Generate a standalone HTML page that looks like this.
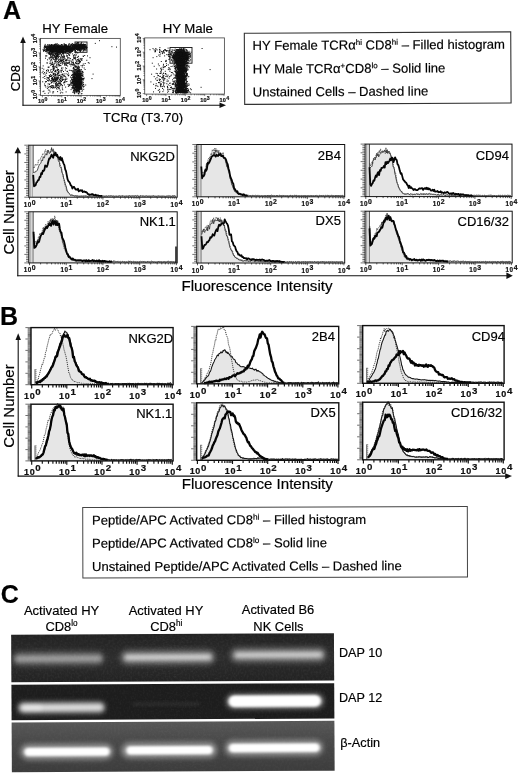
<!DOCTYPE html>
<html lang="en"><head><meta charset="utf-8"><title>Figure</title>
<style>
html,body{margin:0;padding:0;background:#fff}
svg{display:block}
svg text{font-family:"Liberation Sans", sans-serif;stroke:#000;stroke-width:0.18px}
</style></head><body>
<svg width="520" height="773" viewBox="0 0 520 773">
<defs>
<filter id="b1" x="-10%" y="-60%" width="120%" height="220%"><feGaussianBlur stdDeviation="1.6 1.5"/></filter>
<filter id="b2" x="-10%" y="-60%" width="120%" height="220%"><feGaussianBlur stdDeviation="1.5 1.3"/></filter>
<filter id="b4" x="-10%" y="-80%" width="120%" height="260%"><feGaussianBlur stdDeviation="2.0 1.9"/></filter>
<filter id="b3" x="-10%" y="-80%" width="120%" height="260%"><feGaussianBlur stdDeviation="2.6 2.4"/></filter>
<filter id="grain" x="0" y="0" width="100%" height="100%">
<feTurbulence type="fractalNoise" baseFrequency="0.55" numOctaves="2" seed="3" result="n"/>
<feColorMatrix in="n" type="matrix" values="0 0 0 0 1  0 0 0 0 1  0 0 0 0 1  0.9 0 0 0 -0.38"/>
</filter>
<filter id="soft" x="-5%" y="-5%" width="110%" height="110%"><feGaussianBlur stdDeviation="0.35"/></filter>
<linearGradient id="g3" x1="0" y1="0" x2="0" y2="1"><stop offset="0" stop-color="#575757"/><stop offset="0.35" stop-color="#4a4a4a"/><stop offset="1" stop-color="#3c3c3c"/></linearGradient>
<linearGradient id="g1" x1="0" y1="0" x2="0" y2="1"><stop offset="0" stop-color="#222"/><stop offset="0.5" stop-color="#2d2d2d"/><stop offset="1" stop-color="#222"/></linearGradient>
</defs>
<rect x="0" y="0" width="520" height="773" fill="#fff"/>
<text x="2.9" y="18.8" font-size="25" text-anchor="start" font-weight="bold" fill="#000">A</text>
<text x="0.1" y="324.8" font-size="25" text-anchor="start" font-weight="bold" fill="#000">B</text>
<text x="0.7" y="602.6" font-size="25" text-anchor="start" font-weight="bold" fill="#000">C</text>
<rect x="40.5" y="38.4" width="79.8" height="57" fill="none" stroke="#4a4a4a" stroke-width="0.85"/>
<path d="M42.4 95.4v2M40.5 94.9h-2M48.2 95.4v1.2M40.5 90.7h-1.3M51.6 95.4v1.2M40.5 88.2h-1.3M54.1 95.4v1.2M40.5 86.5h-1.3M55.9 95.4v1.2M40.5 85.1h-1.3M57.5 95.4v1.2M40.5 84h-1.3M58.8 95.4v1.2M40.5 83.1h-1.3M59.9 95.4v1.2M40.5 82.3h-1.3M60.9 95.4v1.2M40.5 81.5h-1.3M61.8 95.4v2M40.5 80.9h-2M67.6 95.4v1.2M40.5 76.7h-1.3M71 95.4v1.2M40.5 74.2h-1.3M73.4 95.4v1.2M40.5 72.5h-1.3M75.3 95.4v1.2M40.5 71.1h-1.3M76.9 95.4v1.2M40.5 70h-1.3M78.1 95.4v1.2M40.5 69.1h-1.3M79.3 95.4v1.2M40.5 68.3h-1.3M80.3 95.4v1.2M40.5 67.5h-1.3M81.2 95.4v2M40.5 66.9h-2M87 95.4v1.2M40.5 62.7h-1.3M90.4 95.4v1.2M40.5 60.2h-1.3M92.8 95.4v1.2M40.5 58.5h-1.3M94.7 95.4v1.2M40.5 57.1h-1.3M96.2 95.4v1.2M40.5 56h-1.3M97.5 95.4v1.2M40.5 55.1h-1.3M98.6 95.4v1.2M40.5 54.3h-1.3M99.6 95.4v1.2M40.5 53.5h-1.3M100.5 95.4v2M40.5 52.9h-2M106.4 95.4v1.2M40.5 48.7h-1.3M109.8 95.4v1.2M40.5 46.2h-1.3M112.2 95.4v1.2M40.5 44.5h-1.3M114.1 95.4v1.2M40.5 43.1h-1.3M115.6 95.4v1.2M40.5 42h-1.3M116.9 95.4v1.2M40.5 41.1h-1.3M118 95.4v1.2M40.5 40.3h-1.3M119 95.4v1.2M40.5 39.5h-1.3M119.9 95.4v2M40.5 38.9h-2" stroke="#222" stroke-width="0.55" fill="none"/>
<text x="42.8" y="103.4" font-size="5.6" text-anchor="middle" fill="#111" font-weight="bold" letter-spacing="0.2">10<tspan font-size="5.2" dy="-2">0</tspan></text>
<text transform="translate(37.1 94.5) rotate(-90)" font-size="5.6" text-anchor="middle" fill="#111" font-weight="bold" letter-spacing="0.2">10<tspan font-size="5.2" dy="-2">0</tspan></text>
<text x="62.2" y="103.4" font-size="5.6" text-anchor="middle" fill="#111" font-weight="bold" letter-spacing="0.2">10<tspan font-size="5.2" dy="-2">1</tspan></text>
<text transform="translate(37.1 80.5) rotate(-90)" font-size="5.6" text-anchor="middle" fill="#111" font-weight="bold" letter-spacing="0.2">10<tspan font-size="5.2" dy="-2">1</tspan></text>
<text x="81.6" y="103.4" font-size="5.6" text-anchor="middle" fill="#111" font-weight="bold" letter-spacing="0.2">10<tspan font-size="5.2" dy="-2">2</tspan></text>
<text transform="translate(37.1 66.5) rotate(-90)" font-size="5.6" text-anchor="middle" fill="#111" font-weight="bold" letter-spacing="0.2">10<tspan font-size="5.2" dy="-2">2</tspan></text>
<text x="100.9" y="103.4" font-size="5.6" text-anchor="middle" fill="#111" font-weight="bold" letter-spacing="0.2">10<tspan font-size="5.2" dy="-2">3</tspan></text>
<text transform="translate(37.1 52.5) rotate(-90)" font-size="5.6" text-anchor="middle" fill="#111" font-weight="bold" letter-spacing="0.2">10<tspan font-size="5.2" dy="-2">3</tspan></text>
<text x="120.3" y="103.4" font-size="5.6" text-anchor="middle" fill="#111" font-weight="bold" letter-spacing="0.2">10<tspan font-size="5.2" dy="-2">4</tspan></text>
<text transform="translate(37.1 38.5) rotate(-90)" font-size="5.6" text-anchor="middle" fill="#111" font-weight="bold" letter-spacing="0.2">10<tspan font-size="5.2" dy="-2">4</tspan></text>
<path d="M56.5 49.4h1M58.3 49.5h1M54.9 48h1M51.2 52.4h1M53.8 49.5h1M50.6 52h1M56.9 50.5h1M64.5 47.6h1M53.5 48.1h1M52.8 49.6h1M59.4 48.9h1M58.6 48.9h1M57.1 48.3h1M50.9 45.5h1M56.3 48.4h1M60.7 44.8h1M48.4 49.5h1M53.8 47.5h1M45.1 47.5h1M48.8 48.4h1M45.4 49.3h1M55.1 46.2h1M48.9 45.7h1M58.1 46.9h1M57.4 45.1h1M55.4 47.1h1M53.3 46.9h1M56.2 50h1M57.2 46.3h1M47.3 49.3h1M53.6 48.2h1M50.6 48.7h1M51.6 49.8h1M62.9 52h1M51.7 49.2h1M56.3 49h1M61.8 47h1M53 49.9h1M55.8 48.4h1M57.2 50.3h1M56.9 48.7h1M49.1 51.9h1M57 45.2h1M64.7 48.3h1M47.2 50.4h1M61.7 48.2h1M57.2 47.4h1M52.7 48.3h1M68.5 46.3h1M61.1 49h1M49.3 53.2h1M56.9 50.9h1M60 46.8h1M55.4 47.2h1M60.6 48.1h1M56.1 50.6h1M60.5 47.3h1M65.1 47.6h1M52.4 50.4h1M57.7 50.4h1M53.7 48.1h1M57.3 46.8h1M49.4 46h1M53 47.5h1M55.3 44.8h1M61.9 50.1h1M63.4 47.7h1M48.6 49.7h1M51.7 52.2h1M60.4 50.9h1M44.5 46.7h1M53.7 50.4h1M55.9 50.9h1M64 47.5h1M60.6 47.1h1M54.5 48.6h1M54.3 45.9h1M55 51.4h1M65.6 44.5h1M53.9 46.8h1M54.7 48.3h1M58.6 48.4h1M55.8 49.1h1M55.3 49.3h1M49.8 48.4h1M56.4 50.8h1M53.8 44.9h1M63.5 48.8h1M60.4 47.5h1M56.4 49h1M60.5 49.2h1M54.5 47.2h1M62.8 47.6h1M56.5 50.2h1M60 49.4h1M48.8 47.6h1M58.6 52.5h1M46.4 53h1M44.3 46.2h1M54.7 49.3h1M51.1 53.3h1M57.5 50.2h1M70 49.2h1M51.5 48.4h1M52.8 47.8h1M57.7 48.4h1M59.5 47.8h1M55.4 50.1h1M55.3 48.1h1M60.7 48h1M59.6 46.6h1M50.3 48.7h1M56 47.2h1M56.7 48.5h1M50.2 50.7h1M58.1 49.5h1M51.4 49.7h1M62.3 49.4h1M57.7 48.9h1M57 48.6h1M53 48.2h1M55.8 50.2h1M44.5 46.8h1M49.7 51.2h1M58.7 48.9h1M43.7 47.5h1M61.6 47.9h1M46 47.6h1M61 49.1h1M51.4 47.5h1M61.2 50.9h1M57.3 47.4h1M47.3 44.7h1M64 47.5h1M65.2 45.2h1M56.1 48.7h1M54.9 50.7h1M55.5 50h1M50.6 46.4h1M63.1 47.4h1M53.2 52h1M56.2 49.4h1M51.7 48.8h1M52.7 50.7h1M48.8 53.2h1M64 51.1h1M55.6 49.1h1M62.3 49.4h1M56.6 49.9h1M52.3 47.7h1M54.5 46.9h1M53.1 48.9h1M56.5 47.1h1M54.2 48.7h1M54.7 49h1M48.2 53h1M51.7 47.3h1M66.4 48.6h1M52.5 48.5h1M50.2 49.6h1M58.5 50.7h1M64.9 47.9h1M47.8 47.3h1M55.2 45.8h1M52.7 47.1h1M45.9 49.8h1M60.9 48.9h1M56.4 47h1M56.9 48.1h1M52 48.9h1M59.2 49.7h1M53.3 47.7h1M55.6 48.3h1M49.9 45.5h1M49.2 46.7h1M64.5 51.7h1M53.5 44.9h1M58.3 48.2h1M56.3 49.2h1M53.9 48.1h1M53.5 47.3h1M60.3 48.7h1M54.7 48.8h1M55.6 48.7h1M56.6 45.4h1M63.6 48.5h1M60.6 47.3h1M58.8 47.8h1M53.1 49.2h1M48.2 50h1M62.2 50.4h1M62.3 47.9h1M55.7 50.5h1M59.8 50.9h1M61.2 50.8h1M61.5 51.3h1M62 48.5h1M53.8 48.5h1M65.6 50.3h1M49 46.3h1M61.7 49.2h1M59.5 47.8h1M61.7 48.1h1M67.8 45.7h1M65.4 47.2h1M49.6 48.8h1M46.4 50.4h1M61.4 50.6h1M50.4 48.7h1M56.4 48.5h1M61.5 47.3h1M46.6 49.5h1M43.8 48.4h1M58.1 49.9h1M56.8 52h1M55 48.7h1M56.7 46.1h1M51.3 47.3h1M47.4 46.2h1M55.5 46.6h1M50.7 51.1h1M46.6 49.2h1M59.5 46.1h1M56.1 50h1M58.9 51.1h1M50.6 48.2h1M52.6 47.6h1M50.5 48.2h1M51.2 49.3h1M57.7 50h1M51.8 50.9h1M58.6 51h1M58.5 50.9h1M68.7 51.3h1M48.1 50h1M61.8 46h1M56 48.6h1M56.4 49.4h1M47.8 48.1h1M53.7 50.4h1M61 48.2h1M56 47.1h1M57 51.4h1M54.8 50h1M63.4 49.2h1M56.4 50.5h1M43.3 50.7h1M52.3 49.4h1M44.7 44.4h1M53.3 48h1M64.5 47h1M56.8 49.2h1M49.5 50.9h1M50.9 47.9h1M63.3 46.8h1M57.4 52.5h1M56.8 48h1M56.2 46.6h1M56.7 49.2h1M61.3 49.6h1M59.8 47.5h1M57.8 50.2h1M50.2 47.9h1M59.6 47.1h1M52.4 49.1h1M63.1 50.2h1M48.9 47.7h1M55.7 49.4h1M56.5 48.6h1M48.6 53.9h1M66.8 47.5h1M65.3 51.3h1M53.7 48.7h1M61.1 48.6h1M58.8 50.1h1M58 51.1h1M56.1 49.4h1M57 47.7h1M50 47.8h1M54.9 49.7h1M55.4 49.8h1M63.6 51.3h1M58.5 49.6h1M56.5 50.7h1M65.7 51.5h1M53.2 49.1h1M54.2 46.1h1M45.6 46.7h1M65.9 46.2h1M62.3 51.7h1M62 47.3h1M60.5 51h1M57.2 49.9h1M57.8 51.9h1M55 50.6h1M55.3 48.6h1M56.8 48.4h1M65.6 49h1M59.8 49.1h1M56.1 47.8h1M53 48.7h1M52.7 51.7h1M66.1 45.7h1M59.5 49.3h1M56.9 47.2h1M54.4 49.1h1M49.8 50.3h1M56.1 48.7h1M61.7 50.2h1M54.1 45.9h1M55.1 50.8h1M55.2 47.7h1M57.2 49.9h1M46.9 49.1h1M55.1 44.1h1M51.4 47.4h1M61.8 49.2h1M51.9 51.6h1M60 49.3h1M65.6 49.3h1M54.6 46.3h1M52.9 51.4h1M57.6 52.1h1M56.5 48.9h1M50.5 48.4h1M59.3 45.9h1M68.6 50.4h1M55 53.7h1M55.3 50.1h1M50.2 51.1h1M58.4 49.8h1M49 47h1M49.9 51.2h1M64.2 46.6h1M51.1 48.4h1M63 49.3h1M65.6 50.4h1M58.1 49.5h1M59.8 49.5h1M68.2 47.4h1M55.3 46.5h1M52.9 48.9h1M48.4 47.5h1M56.8 46.4h1M65.4 46.5h1M62.3 47.9h1M50.8 45.5h1M51.4 46.4h1M53.5 45.9h1M58.3 49.1h1M55.3 49.5h1M57.8 52.4h1M58.3 46.1h1M54.7 47.6h1M56.3 50.4h1M57.7 48.4h1M56 48.2h1M59.5 51.9h1M67.7 48.2h1M60.1 46.7h1M56.8 46.4h1M46.4 49.4h1M58.8 49.3h1M44.8 46.3h1M48 47h1M61.6 49.8h1M60.7 49.8h1M55.6 47.6h1M46.2 49.9h1M54.3 49.8h1M52.4 45.6h1M60.3 48.2h1M70 49.5h1M57.8 47.8h1M51.8 44.9h1M49.5 48.3h1M56.2 50.2h1M55.4 51.6h1M49.6 44.9h1M57.2 53.5h1M49.6 46.8h1M63.2 50.5h1M62.9 51h1M63 50.6h1M53.7 49.1h1M59.6 46.7h1M55.7 49.9h1M54.2 47.5h1M54.5 44.3h1M48.7 53.9h1M47.8 50.1h1M61.3 52.1h1M55.4 47.2h1M57.8 51.4h1M62.5 51.7h1M46.1 51.6h1M51.8 48.8h1M57.6 46.6h1M58.9 48.5h1M54.2 44.8h1M62.7 45.7h1M57.8 49h1M49.2 47h1M50.9 48.5h1M61.3 48.6h1M59.3 52.3h1M45.1 51.1h1M64.6 48.7h1M60.1 51h1M64.6 47.4h1M54.2 48.2h1M54.7 50.4h1M49.7 46.6h1M71.7 48.3h1M55.4 46.4h1M66 49h1M52.6 51.7h1M57.5 47.4h1M46.5 49.2h1M54.2 47.2h1M62.4 46.7h1M49 46.6h1M62.9 51.4h1M58.5 53.1h1M50.2 49.7h1M53.5 47.5h1M53.7 50.1h1M56.2 48.2h1M53.3 50.2h1M51.5 49.3h1M54.7 49.3h1M50.3 49.9h1M48.8 47.8h1M56.2 48.1h1M61.8 45.7h1M47.3 48h1M56.5 46.2h1M52.6 48.5h1M50.6 47.1h1M61.6 49h1M53.4 49.6h1M65.5 46.2h1M51.8 47.3h1M58.8 47.1h1M55.1 50.1h1M52 51.9h1M60 50.3h1M55.6 48.2h1M60.1 51.4h1M56.2 46.1h1M50 51.5h1M55.9 47.6h1M56.8 43.8h1M62.3 53.6h1M51.1 51.6h1M56.3 46.9h1M46.2 49.1h1M60.4 48.4h1M50 49h1M45.7 46.1h1M56.1 47.6h1M63.1 49.6h1M47.4 49.2h1M50 51h1M52 48.9h1M49.7 53h1M58.8 47.5h1M51.7 49.3h1M52.2 45.4h1M60 46.5h1M52 51.2h1M59.1 47.1h1M50.7 49.8h1M49.2 48.7h1M45.5 46.9h1M67.7 48.2h1M54.6 47.9h1M58 47.9h1M56.3 50.2h1M57.5 50h1M56.8 47.8h1M67.9 47.2h1M50.3 49.3h1M47.2 48.6h1M50.4 50.7h1M48.5 53.6h1M61 50.3h1M61.4 48.7h1M50.7 48.5h1M48.2 47.3h1M54.4 47.2h1M64.8 47h1M59.7 48h1M50 50.1h1M62.7 48.1h1M50 48.4h1M54.8 46.6h1M47.5 51.8h1M50.6 49.7h1M64.8 52h1M61.4 50.2h1M54.1 51.5h1M51.3 48.4h1M45.1 50.1h1M54.1 53.7h1M56.3 46.6h1M56 50.9h1M55.9 51.9h1M49.8 49.6h1M56.1 50.2h1M56.3 51.1h1M64.2 47.6h1M67.7 49.6h1M55.7 47.2h1M51.9 47.6h1M56.1 47.7h1M52.9 48.5h1M52 49.1h1M56.1 49.6h1M50.2 46.2h1M60.1 52.4h1M55.9 50.9h1M58 50.1h1M55.4 48.1h1M52.1 48.6h1M50.8 49.8h1M55.1 49.6h1M53.2 45.7h1M57.9 50.2h1M56.5 54.2h1M48.3 45.4h1M56.9 50.6h1M48.4 49.5h1M52.8 48.6h1M54.7 51.3h1M44 46.6h1M57 49.1h1M57.4 51.5h1M55.6 48.4h1M54 48h1M54.3 49h1M50.6 48h1M54.9 51.7h1M53.2 47.1h1M57.1 50.4h1M49.3 46.5h1M57.9 50h1M57.4 48.6h1M55.7 44h1M53.9 48.8h1M59.8 46.8h1M46.5 48h1M59.3 51.6h1M58 46.7h1M58.2 46.8h1M58.8 51.5h1M52.6 49h1M54.9 51.7h1M60.3 49.4h1M59.1 47.2h1M57.7 48.7h1M47.4 51.1h1M59.7 50.5h1M63.5 48.8h1M62.6 48.9h1M57.9 48.6h1M47.2 47.7h1M62.2 52.4h1M55.6 48.8h1M58.8 47.9h1M47.5 50.1h1M48.7 50h1M52.7 48.5h1M64.1 47.6h1M54.3 48.8h1M58.1 45.7h1M67 46.4h1M66.1 50.3h1M55.9 47.9h1M55.1 49.5h1M48.9 51.1h1M52.3 50h1M59.1 48.8h1M58.9 52.7h1M57.2 50h1M62.5 48.1h1M51.9 50.2h1M56.2 49.6h1M60.9 47.2h1M60 48.9h1M62.9 48.5h1M58.9 45.2h1M54.6 48.5h1M58.7 48.3h1M50.5 48h1M46.7 45.8h1M60 48.1h1M56.2 48.7h1M58.4 49h1M46.3 46.7h1M54.3 50h1M52.9 46.6h1M51.3 48.4h1M43 51.2h1M54.5 47.5h1M61.9 47.9h1M58.8 50.8h1M52.9 48.1h1M56.4 48.3h1M61 49.2h1M55.8 44.7h1M59.8 47.3h1M60.6 46.9h1M66.7 46.8h1M63.3 47.2h1M58.4 47.2h1M58.3 49.4h1M61.2 47.2h1M53.3 49h1M56.3 49.5h1M61.9 47.5h1M68.2 49h1M55.5 51.8h1M56.2 49.4h1M57.7 47.6h1M64.6 48.7h1M56.3 47.1h1M65.3 49.3h1M50.7 50.4h1M55.4 47.3h1M55.3 48.4h1M61.2 50.8h1M62.8 47.9h1M47.4 49.1h1M51 46.9h1M58.5 47.3h1M52.5 47.9h1M47.4 52.7h1M62.7 48.1h1M59.5 47.8h1M59.5 47.8h1M53.6 48.5h1M62.7 50h1M55.1 49.1h1M63.1 52.5h1M51 49.2h1M51.4 51.4h1M57.7 49.3h1M52.3 49.9h1M60.6 46.2h1M58.1 48.6h1M51 48.7h1M56.9 48.4h1M54.4 44.9h1M62 50.4h1M52.7 48.1h1M53.9 48h1M63.8 48.3h1M69.9 48.4h1M68.5 49.5h1M56.9 46.5h1M57.8 47.1h1M65.7 49.3h1M55.8 49.1h1M50.6 48.1h1M57.2 47.8h1M59.2 47.3h1M51.5 48.7h1M46.6 50.9h1M47.9 46.9h1M60.5 51.5h1M51.9 50.3h1M55.7 48h1M57.8 50.2h1M60.2 46.2h1M54.5 45.7h1M59.5 46.5h1M51.2 48.1h1M54.3 48.2h1M50.4 47.9h1M63.3 49h1M56.3 45h1M52.1 49.7h1M54.4 46.2h1M55.2 47.6h1M60.7 48.1h1M46.9 46.7h1M50.3 46.3h1M54.2 47h1M71.7 48.8h1M62.2 49.9h1M55.8 49.8h1M60.8 47h1M68.8 47.4h1M55.1 47.1h1M54.3 49.6h1M63.8 45.1h1M59.5 51h1M60.5 47.9h1M53.5 47.4h1M68 49.4h1M66.8 50.7h1M59.9 49.4h1M60.6 50.7h1M44.3 49h1M60.3 51h1M55.3 51h1M59.1 48.6h1M60.6 51.4h1M54.5 49.1h1M46.4 49h1M58.7 47.1h1M52.1 48.3h1M54.5 50.2h1M52.9 46.4h1M54.5 50h1M42.6 49.4h1M63.8 49.3h1M58 44.8h1M63.2 48.6h1M68.4 50h1M56.6 47.4h1M45.7 49h1M51.1 44.5h1M49.3 50h1M53.5 47.6h1M57 50.4h1M44.5 45.5h1M58.6 50h1M47.4 48.4h1M58.3 50.3h1M55.8 47.1h1M54.6 47.7h1M56.1 52.8h1M53.3 47.3h1M52.8 47.5h1M46.4 48.3h1M56.3 47h1M67.6 50.9h1M68.4 51.9h1M64.4 47.5h1M60.7 45.7h1M52.4 50.9h1M65.2 50.8h1M56.2 50.3h1M56.1 50.9h1M54.8 47.2h1M57.1 48.5h1M53.9 46.3h1M56 46.2h1M50 50.6h1M54.3 47.6h1M70.2 52.9h1M56.1 48.9h1M55.1 47.6h1M59.7 50.2h1M60.7 52h1M49.8 49.7h1M55.3 46.6h1M62 49.5h1M58.1 51.3h1M57.2 47.9h1M65.8 47.4h1M52.4 50.6h1M57 49.1h1M53.4 46.8h1M65.4 48.1h1M44.8 47.4h1M52.5 49.3h1M53.3 49h1M60.5 50.9h1M60.1 50.1h1M64.9 46h1M47.1 49.5h1M61 50.4h1M54.7 49.6h1M52.5 50.7h1M59.7 47.8h1M51 47.1h1M44 50.5h1M54.3 46.9h1M47.5 44.9h1M52.6 50.6h1M58.7 47.5h1M58.4 48.2h1M66 46.3h1M55.3 46.4h1M47.3 46.7h1M52 48.2h1M51 49.5h1M49.2 44.7h1M59.1 50.2h1M52.6 46.7h1M44.6 46.9h1M60.7 50h1M55.8 48.7h1M58.6 46h1M57.1 52.1h1M60.3 47.3h1M56.7 49.2h1M63.9 49.2h1M59 51.3h1M58.9 48h1M59 50.6h1M47.8 47.5h1M55.5 50.8h1M54.9 47.4h1M57.7 48.1h1M48.3 52.2h1M66.3 49.4h1M57.1 49h1M49.2 52.8h1M46.2 49.5h1M54.8 47.3h1M56 50.1h1M52.2 46.7h1M57.1 50.8h1M52.7 51h1M59.8 47.8h1M52.2 47.7h1M56.3 49.1h1M62.4 48.8h1M71.9 47h1M50.5 49.8h1M53.7 45.1h1M51.5 48h1M61.2 48.1h1M49.6 48.3h1M53.6 49.4h1M56.3 46.6h1M50.6 49.9h1M50.8 48.5h1M53.6 47.6h1M43.9 46.3h1M47.8 46.7h1M54 49.4h1M57.4 47.1h1M55.4 48.9h1M45.9 50.7h1M53.7 50.7h1M61.3 51.6h1M59.8 48.3h1M56 46.8h1M51.2 50.6h1M60.3 49.4h1M53 50.8h1M49.5 48.8h1M51.7 51h1M65.2 50.3h1M57.8 50.1h1M63.5 49.7h1M53.6 49.5h1M62.1 49.2h1M52.9 49.2h1M55.6 50.6h1M71.4 47.9h1M61.1 51.9h1M53.5 48.6h1M56 50.6h1M58.5 48.6h1M63.8 48.4h1M53.6 52.5h1M46.1 48.2h1M54.8 46.5h1M56.6 47.5h1M57.2 48.2h1M64.4 52.7h1M58.4 49.2h1M61.4 50.5h1M49.9 47h1M61.7 49.4h1M69.1 50h1M61.1 52h1M58 47.5h1M57.4 49.9h1M67.2 49.3h1M50.9 47h1M55.8 48.8h1M59.3 48.3h1M61 44.6h1M53.9 49.9h1M58.3 49.8h1M54.8 48h1M57.2 46.4h1M55.7 51.5h1M49.7 49.3h1M56.4 50.6h1M61.8 51.3h1M50.7 47.9h1M55.1 50.3h1M60.5 48.4h1M50.1 48.7h1M57.6 48.6h1M50.1 48.8h1M63.3 50.8h1M70.4 49h1M68.6 48.5h1M55.2 48.3h1M60.9 49.4h1M57.2 47.2h1M57.1 47.9h1M65.8 48.7h1M48.6 47.8h1M62.8 48.6h1M56.2 47.7h1M65 52.4h1M57.6 51.2h1M52.5 49.6h1M58.2 48.7h1M60.9 52.7h1M56.7 49.4h1M59.4 48.6h1M53.4 49.3h1M43.7 49.4h1M61.9 51.3h1M60.7 48.8h1M57.4 52.6h1M56.9 47.2h1M62.7 50h1M53.8 47h1M52.3 52.1h1M55.4 48.2h1M63.6 48.7h1M48.2 50.5h1M63.7 51.1h1M52.7 46.8h1M49.9 48.2h1M64.1 46.3h1M55.9 49h1M48.7 48.6h1M54.3 48.2h1M62.1 47.6h1M63.7 48.1h1M53.9 47.5h1M58.9 49.8h1M60.8 51.5h1M52.6 45.3h1M58.6 48.6h1M56.3 48h1M53.3 49.7h1M53.5 47.1h1M56.9 48.5h1M56.7 46.9h1M53.1 50.1h1M53.9 49h1M63.2 48.5h1M57.8 49.5h1M61.8 48.4h1M63.7 46h1M60 49.9h1M70.1 49.3h1M51.5 48.5h1M61.4 50.6h1M54.6 51h1M67.6 46.8h1M66.7 47.4h1M44.8 51.6h1M50.7 51.4h1M60.5 47.5h1M61.2 46.7h1M60.9 47.7h1M56.1 47.9h1M59.2 45.9h1M60.4 48.9h1M56 46.5h1M62.7 46.6h1M42.9 50.4h1M60.3 47.6h1M50.3 48.7h1M62.3 49.9h1M55.1 50.3h1M51.2 48.2h1M58.7 48.9h1M51 47.3h1M51 51.9h1M47.1 50h1M56.3 46.8h1M59.5 48.8h1M62.6 50.1h1M55.6 49.7h1M62.8 52.1h1M56.6 51.3h1M55.9 47.8h1M59.9 48.6h1M62.9 46.5h1M54.5 49.2h1M55 49.1h1M55.5 53.7h1M57 49h1M51.1 45h1M62.7 47.6h1M54.1 49h1M59.3 46.5h1M51.5 47.2h1M53.5 50.9h1M56.4 59.2h1M54.3 52.2h1M51.4 48.5h1M58.2 53.7h1M52.8 53.7h1M53 58.8h1M49.5 53.2h1M51.9 54h1M57.6 55.5h1M48.5 58h1M54.7 53.8h1M57.9 56.6h1M53.5 55.3h1M56 53.3h1M50.5 54.2h1M60.2 54.1h1M59.4 51.7h1M55.9 57h1M48 50.5h1M50.8 56.9h1M58.9 56.4h1M61.9 53.8h1M56.2 52.1h1M60 53.4h1M52.6 55.2h1M54.2 55.9h1M55 54.7h1M56.7 56.5h1M48.9 52.6h1M58.8 54.6h1M60.3 50.1h1M50.4 55.9h1M49.6 54.4h1M56.4 53h1M52.4 56.9h1M45.5 55.7h1M58.2 47h1M55.6 54.1h1M53.1 50.4h1M63.5 56.7h1M55.6 60.2h1M52 52.7h1M55.4 54.2h1M50.8 53.4h1M52 54.9h1M56.5 55.6h1M52.8 57.2h1M53.2 51.5h1M61.7 57.9h1M58.4 51.7h1M58.2 54.7h1M57.1 56.9h1M56.9 55.8h1M60.8 51.7h1M54.9 52.2h1M62.4 52.8h1M51.2 53.9h1M54 56.9h1M49.5 50.8h1M53.6 55.2h1M57.1 55.5h1M60.8 55.4h1M52.3 55.2h1M55 57.8h1M53.6 55.2h1M52 56.1h1M50.2 55.4h1M55.2 58.5h1M48.1 49.3h1M55.4 57.2h1M55.1 53.3h1M52.4 53.3h1M51 51.6h1M49.5 49.3h1M62.5 53h1M49.6 52.3h1M61.2 55.2h1M57.4 50.3h1M53.5 57.6h1M50.4 54.7h1M59.2 53.4h1M61.9 52.2h1M51.3 52h1M53.8 51.2h1M59.2 52.6h1M56.3 54h1M63 53.6h1M52.7 50.5h1M57.2 53.3h1M75.7 48h1M80.2 48.1h1M82.1 46.5h1M78.2 47.2h1M72.7 48.4h1M73.6 45.9h1M72.4 45h1M82.5 48.7h1M76.3 48.9h1M79.8 47.6h1M76.9 46h1M79.9 47.7h1M85.4 47.2h1M76.6 48.4h1M78.1 44.9h1M76.1 47.2h1M83.2 46.7h1M75.2 45.1h1M74.7 47.4h1M73.7 47.1h1M73.6 46.3h1M81.5 47.7h1M75.3 46.9h1M83.5 47.7h1M80.6 47.5h1M74.9 48.8h1M78.3 45h1M78.5 44.4h1M76.6 47.4h1M71.5 50.6h1M81.1 48h1M80.9 45.5h1M77.1 48.4h1M80.1 45.6h1M83.2 44.5h1M80.1 51.4h1M81.3 47.6h1M82.4 48.2h1M71 48h1M85.7 50.1h1M83.6 49.1h1M83.8 45.3h1M73.6 44.6h1M79 49.4h1M76.1 49.5h1M77 47.9h1M83.6 47.4h1M76.1 47.3h1M79 45.8h1M71.5 49.6h1M78.8 48.1h1M79.9 47.9h1M76.5 47.6h1M76.5 48.8h1M74.4 48.3h1M75.1 45h1M76.1 47.9h1M84.5 50.7h1M80.9 46.8h1M76.5 48.5h1M77.7 48.6h1M84 48.1h1M75.7 44.3h1M85.6 47.9h1M85.4 45h1M79.8 45.6h1M82.2 47.9h1M82.6 46.5h1M86 48.4h1M75.1 52.4h1M84.5 48.3h1M77.9 48.2h1M76.3 45.5h1M79.9 45.9h1M78.6 45.2h1M75.4 46.1h1M72.8 45.1h1M75.5 45.9h1M85.6 46.6h1M82.2 44.6h1M84.5 44.7h1M77.3 47.8h1M79.2 47.1h1M80.7 48.7h1M75 48.8h1M75.3 46.4h1M79.9 48.1h1M78.2 44.6h1M75 50.9h1M81.1 49h1M78.4 46.6h1M83.8 45h1M79.5 47.6h1M78.2 43.8h1M80 45.7h1M78.8 48.3h1M76.7 47.1h1M77.8 46.2h1M82.6 48.6h1M82.2 45.2h1M84.9 47.5h1M72.4 46.2h1M77.8 45.6h1M77.8 47.8h1M80.2 45.3h1M77.6 50.2h1M77.3 46h1M82.8 50.4h1M80.2 45.1h1M74.6 48h1M85.1 45h1M83.7 44.7h1M77.1 47.3h1M83 48.2h1M76.4 44.8h1M84.2 49h1M78.6 45.6h1M76.1 47.2h1M77.9 47.6h1M76.3 48h1M80.3 43.9h1M80.2 49.8h1M79.7 48h1M77.2 46.3h1M64.1 45.3h1M79.9 44.1h1M71.5 44.7h1M80.5 47.9h1M84.2 46.4h1M80.7 45.1h1M77.9 46.1h1M78.7 49.7h1M78.9 46.4h1M77.2 46h1M77 49.3h1M75.6 47.8h1M84.5 47.1h1M79.4 46h1M83.5 44.4h1M78.4 45h1M79.8 46.2h1M78.8 46.6h1M81.4 47.6h1M83 47.9h1M80.5 47.4h1M76.7 47.4h1M76.2 45.3h1M78.3 46.1h1M78.3 45.4h1M85.7 45.9h1M84.1 46.5h1M81.7 44.9h1M77.8 45.1h1M81.2 47.2h1M81.8 45.9h1M78.8 47.8h1M73.6 46.6h1M73.9 45.3h1M81.2 47.1h1M81.1 50.2h1M78.5 45.9h1M74.6 49h1M73.4 49.3h1M78.1 49.5h1M73.4 45.6h1M83.3 50.4h1M84.3 47.2h1M83.2 46.6h1M77 48h1M75.8 47.1h1M65 46.7h1M77 49.2h1M78.8 45.8h1M83.6 45.2h1M82.1 48.3h1M82 48.2h1M80.4 48.9h1M82.3 45.2h1M85.6 48.8h1M75 47.8h1M77.6 50h1M73.7 44.9h1M86.3 47.4h1M84.9 46.5h1M82.7 44.3h1M74.5 45.8h1M80.2 48.9h1M78.5 46.2h1M79.8 45.8h1M78.7 48.5h1M81.7 48.7h1M77.8 48.7h1M83.1 45.7h1M80.5 46.9h1M78.3 48.8h1M79 45.9h1M77.6 45.7h1M82.9 48.4h1M78.4 49.7h1M80.7 45h1M77.9 42.6h1M73.3 44.5h1M83.3 45.3h1M75.1 46.8h1M82.4 48h1M81.3 46.8h1M72.5 45.8h1M75.5 47.3h1M77.3 45.4h1M76.1 46.9h1M74.5 45.9h1M82.6 51.6h1M78.5 48.4h1M81.1 45.6h1M77.7 45.3h1M80.8 46.3h1M76.3 44.2h1M79.4 45.8h1M81.9 45.7h1M79.7 48.5h1M77.6 46.3h1M74.9 45.7h1M80.2 44.7h1M80.9 45h1M78.4 46.9h1M76.3 46.6h1M81.8 48.9h1M78.2 48.8h1M80.9 47.4h1M81.1 47h1M68.7 43.6h1M80 44.8h1M76.5 48.3h1M85.3 49.4h1M78.4 47.4h1M76.2 48.3h1M78.6 46.3h1M80.2 46.4h1M77.1 45.9h1M79.3 48.7h1M73.8 47.6h1M78.6 46.6h1M82.8 46.4h1M82.5 47.5h1M80.6 45.6h1M84.5 49.9h1M83.8 47.4h1M84 49.5h1M79 48.7h1M80.6 46.9h1M80.3 47.9h1M80.8 45.2h1M80.3 45.9h1M76.2 43.2h1M70.7 49.1h1M76.7 43.8h1M71 48.2h1M79.8 45.6h1M79.5 45.3h1M72.5 46.7h1M82.4 47.5h1M83.1 48h1M79.9 50h1M74.4 46h1M83.9 48.2h1M81.4 47.3h1M81.3 46.2h1M83.4 46.8h1M76.5 46.9h1M77 47.3h1M76 47.7h1M76.3 46.1h1M79.1 45.7h1M73.4 48.3h1M75.1 44.1h1M81.9 45.9h1M79.2 49.6h1M81.1 42.4h1M71.6 45.8h1M76.2 48.2h1M77.2 44.2h1M79.6 51.4h1M77 42.6h1M83.4 49.4h1M79.3 49.6h1M79.6 48.6h1M79.6 46.6h1M82.5 47.6h1M77.5 45.5h1M84.2 48.4h1M81.4 45.1h1M80.1 46.5h1M79.7 48.7h1M81.7 45.1h1M83.8 46.4h1M83.5 47.3h1M81.1 44.7h1M83.2 49h1M80 47.6h1M84.8 44.4h1M79.4 46.9h1M70.8 45.7h1M85.1 45.9h1M80 47.1h1M74.6 45.8h1M78.7 48.6h1M75.8 45.8h1M81.6 46.9h1M72.9 48.5h1M81.8 46.1h1M77.8 46.1h1M75.1 48h1M70.1 48.6h1M79.8 50.6h1M78 49.2h1M77.8 47.4h1M70.5 46.6h1M81.3 47.7h1M71.5 49.5h1M84.4 48.6h1M77.1 45.6h1M81.3 49.3h1M78.7 47.5h1M84.1 46.6h1M81.7 49h1M77 46.3h1M82.5 46.5h1M77.4 46.2h1M72 43.7h1M78 44.9h1M76.9 46h1M80.9 45.7h1M72.9 48.2h1M73.8 46.9h1M77.4 47h1M77.3 44.1h1M79.8 46.9h1M84.2 44.5h1M77.5 47.5h1M81.6 47.6h1M82 47h1M74.9 50.5h1M80.5 47.9h1M75.5 48h1M84 47.2h1M81.4 46.7h1M79.6 48.6h1M73.9 48.9h1M80 44.8h1M76.3 48.8h1M82.5 47.9h1M79 48.6h1M76.1 47.8h1M83.4 44.9h1M82.5 45h1M77 50.1h1M84.4 47.4h1M78.2 44.6h1M78.2 47.6h1M80 46.4h1M76.3 43.9h1M77.6 43.1h1M78.8 44.3h1M85.9 47.5h1M85.8 46.9h1M78.4 46.6h1M86.3 47.5h1M79.3 48h1M81.1 43.4h1M83.2 46.5h1M80.7 45.6h1M80.5 46.1h1M74.5 46.8h1M85 46.5h1M77.8 44.5h1M78.2 46.2h1M66.9 50.4h1M83.7 45.2h1M82.9 44.1h1M82.9 47.5h1M83.6 48h1M79.3 45.1h1M83.4 48.7h1M76.4 45.7h1M78 45.1h1M83.9 46h1M81.1 46.8h1M73.9 48.2h1M81 48.1h1M78.7 47h1M76.1 48.6h1M81.3 47.1h1M77.8 48.5h1M72.9 44.6h1M74.8 44.3h1M73.1 44.6h1M80.4 46.5h1M67.6 51.2h1M65.8 48.4h1M66 50.7h1M74.3 47.3h1M56.6 45.8h1M72 46.4h1M78.3 47.4h1M68.1 46.6h1M67.9 51h1M71.3 51.3h1M76.2 49.1h1M62.7 46.5h1M68.4 48.4h1M67.2 47.2h1M70.5 51.5h1M68.7 49.2h1M71 49.6h1M66.1 47.8h1M68.2 44.6h1M65 47.1h1M65 46.4h1M67.4 49.3h1M67.4 48.8h1M62.7 47h1M75.1 47.8h1M67.4 51.7h1M61.8 46.7h1M73 46.8h1M64.6 48.1h1M70.3 47.2h1M67.9 47.7h1M69.1 49.7h1M68.8 52.1h1M65.4 45h1M68.2 48.6h1M77.1 48.7h1M57.9 48.4h1M68.3 48.2h1M70 47.9h1M63.3 50.6h1M61.8 47.7h1M77.7 48.3h1M66.3 48.6h1M77.4 48.8h1M70.4 48.3h1M68.3 50.6h1M70.1 48.6h1M70.9 48.9h1M73.3 48.5h1M70 46.6h1M68.7 46.9h1M68.8 46.5h1M74.1 49h1M71.7 47.2h1M63.5 46.5h1M65.1 49.1h1M69.5 49.7h1M65.2 45.1h1M66.3 52h1M63.7 48.7h1M66.8 48.4h1M69.9 50.7h1M72.5 48.7h1M68 47.4h1M77.3 53h1M67.7 46.5h1M82.4 48.4h1M72.5 50.3h1M70.2 46.5h1M65.8 48.4h1M55.3 49.4h1M67.3 53.4h1M68.8 46.8h1M76.7 48.5h1M61.8 49.9h1M76.6 48.8h1M66.9 46.2h1M71.3 49.4h1M56.6 48.8h1M68.6 49.5h1M66.5 50.9h1M71.1 50.6h1M68.4 49.4h1M62.9 49.2h1M72.3 46.4h1M71.1 48.3h1M70.7 49h1M72.5 47.8h1M73 48.8h1M67.9 46.9h1M61.9 51.7h1M61.8 52.9h1M74.1 47.8h1M71.2 49.4h1M68.5 48.1h1M66 51.1h1M68.1 49.5h1M68.1 48.8h1M66.5 48.2h1M64.9 48.9h1M77.7 46.6h1M69 50h1M65.3 47.2h1M62.1 49.7h1M64.7 48.9h1M71.2 50.8h1M71.4 48.6h1M67 50.6h1M68.2 46.8h1M66.6 49.8h1M63 48.2h1M73.9 49h1M69.7 48.7h1M79.1 50.5h1M64.6 44.6h1M67.4 49.2h1M72 45.6h1M66.9 51h1M61.8 44.7h1M63.7 46.6h1M68.5 45.3h1M69.5 51.9h1M67.6 46h1M72.5 48.8h1M72.5 47.5h1M69.5 45h1M68.1 47.9h1M66.9 49.9h1M70.5 48.2h1M72.1 50.5h1M68.3 47.9h1M70 48.6h1M66.5 47.8h1M61.6 49.3h1M63.5 52.4h1M71.4 49.3h1M70 49h1M75.2 47.4h1M68.3 47.1h1M71.9 51.5h1M74 46.4h1M72.5 46.8h1M65.3 48.4h1M67.2 47.7h1M68.6 52.5h1M63.6 43.9h1M70.1 49.3h1M72.6 50h1M65.8 46.4h1M76.9 47.3h1M66.7 49.5h1M67.1 51.9h1M66.9 46.8h1M64.8 45.4h1M69.9 50.5h1M68.1 51.6h1M75.5 47.9h1M70.7 44.2h1M70.4 51.5h1M67 48.2h1M61.6 50.8h1M67.6 48.5h1M64.2 47.8h1M72.3 47.7h1M67.9 51.5h1M75.5 51.5h1M71.3 44.3h1M71.8 46.7h1M69 52.2h1M68.9 47.9h1M70.9 45.9h1M72.2 48.6h1M64.8 48.4h1M70.2 48.4h1M79.8 47.6h1M67.6 48h1M66.9 47.7h1M64.9 49.3h1M61.5 47h1M73.3 48h1M68.3 48.3h1M69.3 51.2h1M76.3 49.3h1M79.3 48.4h1M64 49.7h1M72.7 49.4h1M70.8 50.8h1M69.8 49.6h1M70.2 52.2h1M67.9 51.3h1M75.2 48.5h1M70.8 47.8h1M69.6 50.4h1M73.6 49.6h1M72 48.4h1M70.1 45.6h1M69.5 44.9h1M75.9 49.3h1M70.3 50.1h1M67.6 50.2h1M64.2 46h1M66.5 50.7h1M63.3 47.5h1M68.5 49.4h1M69.2 49.4h1M58.8 47h1M68.1 47.4h1M70.9 44.5h1M68.8 46.8h1M63.7 45h1M73.7 49.5h1M64.9 48.7h1M62.5 50.4h1M63.1 49.3h1M67.9 47.3h1M72.4 49.3h1M73.3 47.8h1M69 49.8h1M62.6 49.2h1M65.1 46.6h1M64 48.6h1M67.2 48.7h1M60 48h1M68.5 50.4h1M70.9 52h1M67.3 47.9h1M70.1 47.9h1M63.8 44.1h1M61.5 48.3h1M65.1 47.7h1M73.2 44.3h1M72.6 49.2h1M65.9 49.8h1M73.4 47.1h1M66.5 47.9h1M74.8 46.7h1M70.2 50.1h1M66 45.6h1M71.6 48h1M64.5 52.5h1M63.8 48.7h1M61.5 49.5h1M69.2 48.3h1M67.8 46.3h1M67.7 48.5h1M66.2 49.4h1M74.5 46.6h1M66.1 49.3h1M64.7 51.1h1M73.6 50.7h1M74.4 45.4h1M69.5 46.6h1M60.2 45.4h1M65.3 50.7h1M70.8 49.8h1M68.1 50h1M75 46.8h1M61.8 46.3h1M71.1 48.8h1M65.2 48.8h1M74.8 86.3h1M77.4 82.2h1M78.7 76.1h1M77.6 82.6h1M74.3 69.4h1M71.5 79.1h1M76.3 83.6h1M77.4 84.6h1M76.3 76.4h1M75.9 85.8h1M75.2 91.2h1M78.9 78.3h1M76.9 84.8h1M77.3 72h1M74.5 69.7h1M75.4 84.1h1M77.4 80.9h1M74.4 81.8h1M73.7 77.4h1M76.1 79.1h1M80.1 85.2h1M77.5 90.3h1M80.8 79.5h1M76.7 71.5h1M76.2 87.8h1M73.4 84.1h1M75.5 84.5h1M80.7 81.7h1M77.9 93.7h1M78.9 81.1h1M78.8 83.6h1M77 70.3h1M76.5 77.5h1M77.3 76.9h1M78.7 80.5h1M78.2 82.7h1M78.3 76.5h1M77.4 90.4h1M75 74.7h1M76.3 78.2h1M74.6 82h1M79.6 73.7h1M71.5 83.9h1M76.4 84.3h1M83.2 79.1h1M76.1 91.4h1M74 81.2h1M77 82.3h1M80.4 75.3h1M76.6 71.3h1M78.6 77.2h1M77.3 78.9h1M76 78.2h1M85.2 85h1M77.2 67.3h1M75.6 74.4h1M75.7 70.5h1M78 88.2h1M78.1 77.5h1M79 77.8h1M77.4 74.5h1M73.3 85.8h1M78.4 78.4h1M76.2 82h1M76.3 69.3h1M73.1 87.3h1M75.5 82.9h1M75.1 83.8h1M76.9 87.6h1M73.2 79.6h1M77.1 79.8h1M77.3 84.7h1M74.1 83.1h1M75.4 79.3h1M74.8 81h1M79.4 77.9h1M70.4 84.7h1M76.1 86h1M72.7 80.8h1M75.9 91.3h1M79.2 72.1h1M75.4 79.4h1M77.4 90.3h1M74.8 78.4h1M82 71.8h1M79.4 88.6h1M79.9 83.8h1M73.5 74h1M74.1 85.1h1M79.8 75h1M76.5 73.2h1M76.3 79.9h1M77.9 78h1M73.7 74.6h1M79 78.7h1M77 75.1h1M78.2 81.1h1M75.3 80.6h1M78.3 84.9h1M75.2 78.2h1M79.5 73.3h1M79.9 73.3h1M79.4 79.4h1M78.3 89.4h1M78.6 85.5h1M70 77.1h1M79.2 86h1M76.3 74.2h1M77.2 86.4h1M76.3 78.6h1M73.4 85.1h1M75.6 84.2h1M78.7 79.2h1M80.7 82.6h1M75.4 74.7h1M74.6 80.3h1M80.8 86.8h1M82.4 84.7h1M77.1 81.2h1M74.7 75.1h1M79.6 86.7h1M81.4 71.4h1M73.3 76.2h1M81.1 82.8h1M76.3 74h1M80.9 89.4h1M76 86.9h1M72.9 77.5h1M78.3 77.6h1M79.4 73.3h1M82.4 72.9h1M81.5 83.2h1M78.8 84.2h1M76.4 82.7h1M75.6 82.2h1M76.2 77.6h1M74.8 82.8h1M76.3 72.5h1M70.4 80.8h1M77.5 89h1M76.9 88.2h1M83.7 78.1h1M79 78.9h1M75.8 88.5h1M78.5 90.8h1M73.8 72.3h1M75.4 78.3h1M72.1 82.1h1M80.7 87.6h1M78.5 76h1M73.9 84.4h1M76.8 79.1h1M78.3 83.2h1M78 80h1M74.8 78.9h1M75.3 86.7h1M77.2 84.6h1M79.4 74.7h1M74.8 82h1M74.1 73.2h1M80 76.5h1M74.6 73.5h1M79.8 73.3h1M77.6 76.9h1M79.3 75.2h1M81.5 83.7h1M78.8 85.2h1M79 79.4h1M74.6 74.5h1M75.2 85.3h1M78.7 69.4h1M81 69.9h1M80.6 84.8h1M83 84.4h1M77.8 86.2h1M77.5 79.5h1M79.6 73.7h1M77 77.9h1M76.8 83.9h1M74.3 76.4h1M79.6 76.8h1M74.2 72.9h1M78.3 74.2h1M73.3 85.5h1M79.9 83.3h1M74.3 74.2h1M79.2 74.7h1M72.9 77.6h1M75.9 83.8h1M80.1 74.2h1M74.9 79.8h1M77.2 68.7h1M75.8 73.7h1M71 83.1h1M77.8 85.8h1M78.1 74.2h1M74.1 76.4h1M78.5 85.2h1M74.9 78.6h1M74.4 77.7h1M77 83.7h1M75.2 81.9h1M83 87h1M73 85.2h1M78.9 77.5h1M79.6 80.1h1M71.9 80.4h1M72.5 73.1h1M78.5 75.3h1M75.7 86.2h1M78 71.8h1M80 86.3h1M76 82.4h1M74.2 80h1M69.9 83.8h1M77.5 83.4h1M74.6 87.6h1M77.8 78.5h1M77.6 79.5h1M73.4 79.4h1M81.5 91.3h1M79.8 86.1h1M79.2 75.6h1M73.9 78.9h1M75.9 76.8h1M75.6 80.8h1M75.9 82h1M74.1 93.7h1M78.1 70.5h1M77.6 86.6h1M77.9 83.2h1M75.7 76.8h1M80.4 79.9h1M77.5 78h1M69.9 81.1h1M75.3 86.4h1M76.9 72.2h1M79.5 88.2h1M76.2 78.7h1M76.3 89.2h1M75.3 83.1h1M78.7 87.7h1M75.8 84h1M75.4 86.9h1M75.1 81.1h1M78.4 76.1h1M75.6 84.6h1M72.6 84.8h1M78.6 92.6h1M75.2 69.5h1M77.9 79.7h1M78 86.8h1M80.1 73.8h1M79.7 79.5h1M75.5 92.7h1M76.6 88.8h1M73.6 75.9h1M81.4 88.8h1M78.1 87.5h1M80.6 85.2h1M76.2 83h1M71.7 82.2h1M81 75.9h1M77.2 77.9h1M77.3 84.9h1M77.1 81.6h1M78.7 91.2h1M78.4 79h1M72.9 67.4h1M79.8 79h1M75.6 82.4h1M75.8 83h1M81.5 81.2h1M79.4 76.2h1M76.1 89.2h1M72.2 77.1h1M77.4 84.8h1M78.4 79.2h1M76.8 74.1h1M73.8 88.8h1M74.9 66.8h1M73.7 76.1h1M77.6 83.3h1M79.1 78.9h1M79.7 85.1h1M75.1 80.3h1M77.6 78.3h1M78.4 93h1M75.7 79.6h1M76.6 80h1M82.5 74.8h1M77.5 76.7h1M79.3 84.5h1M75.9 84h1M77.1 80.9h1M72.5 77h1M76.9 84.7h1M80.1 71.3h1M82.5 79h1M80.1 79.5h1M78.8 76.1h1M77.1 81.7h1M75.4 77.2h1M76.6 76.4h1M78.6 91h1M75 85.1h1M79.4 87.6h1M74.4 81.2h1M72.4 86.3h1M74.4 85.3h1M72.7 87.7h1M79.9 79.7h1M76.5 82.4h1M77.6 80.6h1M80 61.3h1M80.3 73.1h1M75.7 81.1h1M80.5 84.5h1M78 77.7h1M77 87.3h1M78.1 88.1h1M73.3 78.6h1M75 88.9h1M76.7 90.8h1M78.6 83.6h1M76 75.5h1M76.7 89.2h1M79.5 80.1h1M80.7 78.9h1M79 81.6h1M80.3 78h1M75.9 87h1M76.2 85.3h1M77.8 87.8h1M76.2 84.3h1M75.7 76.5h1M81.3 80.1h1M76.5 85.9h1M74.5 78.7h1M81.8 79.6h1M77.2 77.7h1M80.2 87.4h1M75.9 85.2h1M75.7 80.8h1M75.2 79.7h1M76.6 83.4h1M81.8 85.7h1M74 85.3h1M81.3 79.3h1M74.4 83.4h1M76.4 85.7h1M79.2 85.3h1M78.6 63.7h1M77.7 76h1M72.7 76.7h1M77.9 79.7h1M74.3 82h1M83.7 86.2h1M76.4 84.5h1M77.5 80.3h1M74 81.1h1M75.8 90.9h1M73.6 77.6h1M79.6 82.7h1M76.3 89.8h1M78.5 82.9h1M75.2 69.6h1M75.7 83.1h1M80.3 78.8h1M74.5 80.4h1M72.3 86.9h1M78.1 83.6h1M74 79.5h1M75.9 86h1M79.4 83.4h1M74.9 81.6h1M79.3 82.7h1M75.2 82.4h1M80.9 79.1h1M80.4 78.4h1M75.8 81.1h1M76.4 75.7h1M74.8 74h1M77.5 88.3h1M80 79.7h1M73.2 80.9h1M79.4 80.2h1M73.6 81.1h1M74.8 81.1h1M72.4 81.4h1M82.5 76.5h1M77.2 86.2h1M77.6 77.1h1M75.2 86.8h1M79.8 70.3h1M71.5 75.1h1M77.1 86.6h1M82.7 80.2h1M76 77.2h1M77 83.1h1M78.7 75.1h1M74.9 81.4h1M77.1 68.6h1M79.5 78.5h1M77.5 77.4h1M78 84h1M76.1 85.9h1M77.8 76.2h1M77.1 90h1M80.8 77.7h1M78.9 69.5h1M76.4 67.7h1M70.6 89.6h1M78.9 80.5h1M79 77.4h1M74.6 76.8h1M71.8 74.9h1M74 88.6h1M79.4 80.5h1M74.2 91h1M75.8 79.9h1M77.6 67.8h1M80.2 85.7h1M77 78.9h1M76.7 79.7h1M75.6 89.8h1M81.2 79.5h1M79.8 87.5h1M76.8 81h1M73.4 76.8h1M74.9 83.8h1M78.5 77.6h1M75.1 87.9h1M79.3 86.4h1M77.9 81.4h1M77.8 84.4h1M78.7 84.2h1M78.3 79.5h1M74.8 86h1M76.2 79.7h1M83.1 84.5h1M73.9 75.7h1M75.8 81.6h1M79.8 83.3h1M76.6 76.6h1M74.9 78.7h1M73.6 78h1M78.4 85.1h1M79.7 77h1M80.6 83.5h1M77.1 89.6h1M79.7 83h1M74.3 72h1M77.4 81.7h1M75.2 86.9h1M77.5 79.4h1M79 87.2h1M79.8 84.5h1M74.4 83.4h1M80.3 79.6h1M75.8 78.2h1M74.3 79.6h1M76.6 81.4h1M73.2 84h1M77 83.4h1M77.8 79.4h1M76.5 81.4h1M78.4 83.2h1M76.2 72h1M77 76.8h1M73.3 76.6h1M77.1 79.9h1M74.8 79.5h1M75.8 79.6h1M76.8 76.2h1M77.5 84.8h1M72.7 82.6h1M72.9 71.9h1M76.2 81.2h1M78.2 74.8h1M77.9 90.6h1M79.3 78.5h1M80.4 78.9h1M78.3 81.6h1M76.9 80h1M74.3 80.8h1M74.5 89.8h1M75.8 82.4h1M77.7 85.8h1M77.6 87.4h1M77 75.6h1M76.6 90.6h1M78.6 84.9h1M77.5 86.5h1M77.8 76.3h1M77.8 85.7h1M75.6 83.4h1M74.3 78.1h1M78.3 93.9h1M78.1 84.3h1M76.4 79.8h1M75.9 82.2h1M82.9 86.2h1M75 87.4h1M76.4 84.4h1M77.7 87.9h1M74 89.3h1M77.3 74.2h1M81.7 78.4h1M79.4 75.8h1M78.6 81.7h1M78.5 89.2h1M77.3 84.8h1M79.5 75.3h1M76.6 79.5h1M75.9 86.9h1M77.3 78.1h1M79.4 80.6h1M77.9 82.8h1M78.8 70.9h1M71.7 85.5h1M80.1 83h1M83.1 84.3h1M80.5 75.6h1M76.2 76.8h1M74.8 77.8h1M77.7 82.5h1M74.4 81.5h1M78.9 81.8h1M75.6 91.1h1M79.5 88.4h1M80.5 77.1h1M71.7 77.5h1M77.8 90.7h1M75.2 79.3h1M73.3 88.8h1M75.4 90.1h1M76.4 78.1h1M79.7 79.6h1M73 81.6h1M79.7 76.3h1M82.2 75.6h1M78.6 78.9h1M78.4 85.9h1M77 78.6h1M73.9 80h1M78.4 78.5h1M78 73.5h1M78.9 89.4h1M83.7 68h1M78.9 77.4h1M78.1 84.2h1M81.1 73.3h1M73.5 84.5h1M74 88.1h1M76 76.3h1M75.3 82.3h1M78.8 74.9h1M76.2 83.9h1M81.5 81.6h1M81 82.3h1M79 88.8h1M76 83.7h1M78.6 88.6h1M79.1 84.7h1M74.2 74.4h1M77.9 82.6h1M78.8 83.8h1M77.6 73h1M81.1 88.6h1M80.2 81.5h1M74.9 83.2h1M77.3 76.1h1M74.8 81.5h1M78.5 82.8h1M74.7 79.3h1M79.4 81.6h1M78 69.2h1M79.5 88.7h1M76.6 74.9h1M73.2 68.9h1M81.6 75.7h1M76.6 76.4h1M80.6 84.2h1M78.1 76h1M78.8 82.7h1M81.8 75.7h1M77.9 93.5h1M80.6 84.2h1M73.1 92.1h1M79.3 75.4h1M76.4 84.8h1M76.7 75.7h1M77 84.3h1M77.9 84.9h1M81.3 72.2h1M72.2 74.7h1M77.1 74.6h1M75.1 72.7h1M80 77h1M75.9 75.7h1M78.2 73h1M76 81.6h1M78.7 84.1h1M79.6 73.7h1M76 78h1M77.1 81.1h1M73.3 79.8h1M77.8 77.2h1M79.2 85.6h1M75.6 85.8h1M79.9 84.9h1M71.6 79.9h1M72.2 92.2h1M73.4 90.8h1M75.7 78.8h1M77 80.4h1M76.8 87.7h1M76.8 76.6h1M78.9 83.3h1M75.8 81.3h1M73.7 77.1h1M73.8 79.8h1M82.5 72.3h1M70.9 78h1M76.5 69.9h1M80.8 93.8h1M78.3 89.5h1M74.8 87.9h1M77 82.7h1M79.2 86.6h1M80.1 88.2h1M74.7 86.7h1M79 86.2h1M77.7 75.9h1M79.9 83.4h1M80.6 78h1M76.1 74.4h1M73.2 74.6h1M78 83.4h1M81.6 86.9h1M78.8 73.4h1M77.6 90.8h1M83.2 89.3h1M74.3 78.9h1M79.3 78.4h1M75.5 80.6h1M77.1 86.5h1M77.2 78.9h1M80.9 74.8h1M74.6 82.9h1M75.6 69.4h1M72.9 81.8h1M78.3 87.5h1M75.8 82.7h1M78.1 85.4h1M74.2 83.8h1M76.1 85.1h1M79.7 81.8h1M76.5 76.4h1M78.6 79.7h1M78.4 80.6h1M76.1 88h1M72.9 90.1h1M79.6 83.4h1M77.4 76.8h1M79.6 76.9h1M71.8 79.9h1M72.7 88.8h1M71.4 82.9h1M74.7 80.7h1M79.7 76.7h1M78.5 85.9h1M76.9 82.6h1M77.3 80.7h1M79 81.6h1M76.2 90.4h1M78 80.1h1M77.4 90.5h1M71.3 88h1M76 81.3h1M80.5 85.9h1M76 80.3h1M76.6 76.4h1M75.4 79.5h1M75.7 75.9h1M79.9 83.9h1M76.3 81.1h1M74.3 84.2h1M68.9 85.6h1M75.5 63.5h1M71.9 82.7h1M72.3 70.9h1M79.1 81.9h1M78.8 76.1h1M72 81.6h1M79.2 88.6h1M78.2 71.4h1M75 82.1h1M78.9 80.6h1M72.8 70.4h1M73.9 84.6h1M73.3 81.2h1M74.1 78.2h1M79.3 77h1M74 78.8h1M74.5 70.9h1M77.5 75.8h1M76.1 78.9h1M79.2 78.8h1M75.2 80.6h1M73.6 75.1h1M75.7 84h1M77.1 78.3h1M74.6 73.4h1M77.7 76.4h1M81.7 78.8h1M75.5 85.8h1M77.1 83.7h1M80.5 79.1h1M75.3 81.1h1M74.8 82.2h1M74.1 92.4h1M78 77.5h1M78.3 83.6h1M76.6 85.1h1M77.1 75.7h1M80.3 82.1h1M79.2 81.9h1M73.3 78.4h1M76.9 84.2h1M77.2 86.8h1M78.8 87.3h1M76.4 79.9h1M75.3 82.1h1M72.3 74.8h1M76.9 82.2h1M75.4 86h1M78.1 81.8h1M74.3 84.7h1M75.8 82h1M74.4 85.2h1M74.1 88.2h1M78.7 79.8h1M75.7 82.1h1M78.1 80.7h1M74 78.7h1M77.2 80.9h1M72.5 74.7h1M75.7 85.2h1M75.6 90.5h1M78.4 90.5h1M77.4 88.1h1M76.4 75.6h1M79.1 89.5h1M77.4 77h1M78.3 80.7h1M78.9 91.3h1M76.7 75h1M76.1 85.7h1M77.7 82.6h1M75.8 80.1h1M77.9 76.1h1M79.8 83.4h1M79.1 78.4h1M75.9 86.9h1M73.5 87.9h1M76.7 73.3h1M76.6 78.2h1M79.8 79.2h1M75.9 74.4h1M76.3 74.7h1M78.8 81.5h1M75.6 79.8h1M76.5 71.7h1M81.3 78h1M80.7 83.9h1M78.5 74.2h1M77.6 75.8h1M74.4 89.9h1M78.3 88.4h1M77 71.9h1M77.5 73.4h1M75.5 83.1h1M76.8 74.3h1M76.4 79.6h1M77.7 78.5h1M80.6 84.1h1M77.8 66.8h1M72.6 68.7h1M74.4 74.1h1M72.8 86.7h1M74.8 80.1h1M78.3 71.4h1M77.9 83.8h1M75.3 85h1M77.6 79.6h1M74.9 79.1h1M73.2 83.5h1M73.2 87.8h1M74.6 81.9h1M80.6 84h1M73.4 80.7h1M80.1 78.9h1M80.3 75.9h1M76.4 82.4h1M76.7 79.3h1M75.3 79.6h1M76.8 86.2h1M78.6 83.7h1M76.9 85.9h1M79.5 72.2h1M79.9 84.1h1M77.8 77.7h1M77.7 76.5h1M76.7 76.2h1M77.8 87.8h1M74 85.6h1M77.9 77h1M77.4 74.6h1M74.6 81.1h1M82.4 78.4h1M74.3 90.3h1M74.6 72.8h1M77.6 70.8h1M71.8 79.6h1M74.8 81.1h1M72.9 81.7h1M74.4 85.2h1M76.5 92.6h1M77.7 79.1h1M79.7 78h1M79 71.1h1M79.9 82.4h1M78.4 85.8h1M75.6 79.5h1M79.8 87.6h1M75.6 81.2h1M75.3 89.5h1M80.8 82.9h1M78.9 75.1h1M77.4 77.4h1M78.8 72.4h1M79.1 71.3h1M73.3 82.5h1M76.6 85.9h1M73.8 91.9h1M77.2 80.7h1M75.1 79.7h1M80.4 74.8h1M78.2 86.5h1M74.7 83.2h1M76.8 77.7h1M73.7 84.9h1M77 84.1h1M78.3 70.5h1M77.5 85.2h1M71.8 81.8h1M76 78.8h1M78.2 78.7h1M77.6 90.8h1M79.9 89.6h1M73.5 91.2h1M78.2 74.6h1M75.2 77.3h1M77.4 86.1h1M77.9 74.2h1M78.6 77h1M75.4 70.9h1M77.3 91.4h1M73.8 87h1M73.2 83.6h1M78.3 82.2h1M76.7 78.7h1M72.6 78.8h1M74.6 84.4h1M76.9 77h1M80.9 87.9h1M79.6 78.2h1M78.9 76.1h1M72.2 88.3h1M76.6 80.2h1M78.1 84.1h1M77.9 78.7h1M77.9 68.4h1M76.2 84.1h1M81.4 73.5h1M80.7 87.1h1M76.6 72.3h1M74.3 70.6h1M82.2 82.7h1M75.4 83.4h1M80 81.6h1M81.8 74.2h1M74.4 86h1M77.6 72.8h1M75.9 78.4h1M78.2 76.6h1M77.7 78.9h1M81.9 85.8h1M78.4 77.4h1M76.8 84.2h1M79.8 84.9h1M76.1 71.4h1M75.9 74.5h1M82.7 78.9h1M74.7 77.7h1M75.6 82.7h1M77 70.2h1M74.1 85h1M71.4 85.2h1M79.6 80.1h1M74.8 73.3h1M75.4 81h1M75.9 78h1M74.3 84.2h1M74.1 80.5h1M77.3 85.1h1M83.1 78.6h1M78.8 89.1h1M78.8 68.1h1M72.9 75.3h1M76.8 83.7h1M73.8 72.5h1M78.9 85.1h1M76.3 74.2h1M76.9 81.5h1M76.6 75.9h1M75.3 78.5h1M72.9 82h1M78.4 80.4h1M73.3 78.9h1M73.8 93.1h1M76.1 81h1M75 75.6h1M77.5 86.2h1M79.5 85.6h1M77.5 87.8h1M77.4 91h1M76.9 75.7h1M79.1 86.9h1M72 87.4h1M77.8 81h1M74.4 82.4h1M73.6 64.2h1M76.9 77.8h1M75.8 91h1M78.4 71h1M79.7 78h1M70.8 82.6h1M76.7 84.2h1M81.9 90.1h1M79.1 71.1h1M80.6 81.2h1M77.1 85.8h1M73.1 73.6h1M73.9 80.8h1M78.7 91.6h1M79.3 88.4h1M74.9 84h1M76.1 66.4h1M77.5 80.3h1M72.3 83.2h1M75.9 79.3h1M81.1 80.6h1M76.6 79.8h1M81.6 75.6h1M75.5 82.4h1M74.7 79.2h1M71 79.3h1M79.3 80.5h1M75.9 85.3h1M82.9 82.3h1M77.7 74.3h1M77.3 80.3h1M72.2 83.7h1M80.7 78.4h1M75.9 87.4h1M76.4 85.4h1M71.1 75.5h1M79.3 82.8h1M79.4 92.1h1M75.3 89.7h1M77.1 80.7h1M77.9 86h1M79.4 77.2h1M77.1 72.9h1M81.3 84.1h1M76.2 82.4h1M75.3 83.9h1M75.6 80.9h1M70.3 82.8h1M74.8 78.1h1M57.8 54.9h1M60 80.7h1M54.6 86.2h1M59.9 93.1h1M44.4 78.5h1M50.3 65.4h1M63.7 82.7h1M65.6 73.8h1M56.5 64.8h1M54.4 73.6h1M47.4 86.2h1M57.2 87.3h1M59.7 83.7h1M46.1 70.4h1M57.9 69.5h1M57.6 77.7h1M48.2 67.4h1M58.3 88.2h1M46 81.6h1M63.9 84.9h1M55.8 79h1M48 77.8h1M63.1 79.6h1M61.9 64.1h1M51.1 85.7h1M68.2 85.1h1M49 75.4h1M56.9 78.2h1M62.1 80.5h1M61 81.5h1M54.6 78.6h1M54.9 74.5h1M48.5 67h1M57 73.8h1M48.3 78.9h1M49.2 76.4h1M52.3 78.9h1M47.6 83.9h1M64.4 81.6h1M47 80.4h1M50.5 83.3h1M53.1 79.7h1M55 78.1h1M59.8 81.9h1M59.9 65.4h1M53.2 87.7h1M52.7 68.7h1M55.2 84.6h1M59.9 78.4h1M59.2 86.7h1M51.9 78.6h1M42.6 71.3h1M67.9 86.4h1M60.7 79.7h1M56.6 79.3h1M57 79h1M51.9 85.9h1M49 84.5h1M53 80.1h1M53.7 66.7h1M51.2 75.4h1M46.3 79.2h1M53.1 91.8h1M58.5 81.3h1M52 77.7h1M55.1 87.4h1M42.6 77.6h1M53.8 78.2h1M54.3 79.6h1M47.6 67.2h1M44.6 85.6h1M57.5 81.6h1M50.1 76.3h1M57.9 69.8h1M52.5 80h1M58.7 88.9h1M53 73.6h1M46 70.5h1M54.5 81.6h1M53 66.4h1M58.9 61.8h1M52.3 75.1h1M52.6 73.2h1M60.2 76.3h1M62 74.3h1M59.6 80.9h1M61.2 76.8h1M57.7 73.9h1M59.6 75h1M60.3 83.2h1M57.4 85.6h1M55.4 85.2h1M55.9 83.7h1M69.4 53.7h1M55.1 70.9h1M53.6 76.1h1M52.8 80h1M54.8 66.3h1M56.5 89.1h1M48.2 80.7h1M43.1 73.8h1M56.8 79.7h1M45.4 75.8h1M56.6 72.7h1M55.8 82.2h1M61.9 75h1M65 67.9h1M57.2 73.7h1M51.7 77.6h1M48 70.4h1M50.2 87.9h1M55.2 70.3h1M42.6 91.6h1M55.5 85.2h1M54.9 71.4h1M58.9 79.4h1M53 87.3h1M55.6 77h1M50.6 69.5h1M52.2 79.3h1M44.4 93.4h1M55.7 67.3h1M64.3 82.6h1M56 78.6h1M57.2 77.6h1M49.1 75.6h1M63.6 76.1h1M50.4 86.3h1M59.8 83h1M55.6 71h1M49.2 90.2h1M61.2 68.8h1M55.1 83.5h1M56.1 79.9h1M57.7 87.5h1M54.9 81.2h1M52.7 86.4h1M57.8 78.3h1M52.6 85.8h1M55.4 81.1h1M46.1 73.3h1M51 87.5h1M52 82h1M55.1 79.9h1M62.1 74.3h1M44.9 81.9h1M55.8 67.5h1M41.7 68.3h1M48.7 83.9h1M52 66.9h1M43.9 76.5h1M55.9 80.4h1M55.5 79.1h1M54.3 81.7h1M50.2 76.5h1M67.9 75.8h1M54 77.6h1M49.8 86.4h1M65.1 87.1h1M58.7 88.1h1M52.8 81.3h1M62.2 77.1h1M55.9 66h1M58.9 83.4h1M56.4 84.9h1M48.8 75.5h1M60.8 84.6h1M56 88.2h1M48.9 79.3h1M50.4 86.5h1M60.7 80.9h1M52.8 65.6h1M55.3 75h1M58.9 75.5h1M55.8 82.5h1M45.8 72.1h1M58.8 75.3h1M60.6 71.4h1M60.2 78.3h1M64.7 79.1h1M57.2 85.9h1M59.7 84.6h1M64.5 79.8h1M53.3 80.4h1M65.4 79.4h1M65.4 79.4h1M59.7 90.2h1M66 59.9h1M60.1 77.3h1M49.7 80.9h1M61.8 87.1h1M57 70.4h1M57.5 81.2h1M55.9 85h1M63.2 75.2h1M58.3 64.3h1M50.8 75.9h1M57.9 69.6h1M59.4 83.5h1M50.6 72.2h1M52.4 91.9h1M52.7 79.6h1M51.4 72.5h1M57.1 74.8h1M61.1 70.4h1M66.4 81.5h1M62.2 89.8h1M61.1 77h1M61.9 85.5h1M63 71.5h1M52.7 80.9h1M56.9 68h1M54.2 87.8h1M52.3 87.4h1M52 64.5h1M53.4 67.8h1M47.6 71.3h1M58.1 85.8h1M54.9 75.4h1M55.6 77.3h1M57 83.9h1M59.3 79.5h1M51.4 80.3h1M54.4 76.2h1M45.3 87h1M41.7 72.7h1M43.4 91.1h1M64.2 76h1M44 72.6h1M57.8 83.4h1M63.9 82h1M52.3 63.7h1M64.8 80.2h1M66.1 68.4h1M60.7 72.3h1M69.2 84.5h1M58.7 72.1h1M50.6 81.2h1M58.1 75.7h1M52.4 93h1M47.2 77.8h1M47.4 69.7h1M68.9 70.3h1M51.8 71.7h1M54.9 79.5h1M51.1 78.5h1M55.9 85.8h1M53.6 79.8h1M52.6 79.5h1M47.8 80.9h1M46.6 77.5h1M50.6 80.7h1M56.8 84.4h1M67.5 84.4h1M61.4 74.4h1M66 65.2h1M58 72.4h1M54.6 80.6h1M47.1 59.8h1M55.1 74.9h1M42.2 81.8h1M53.3 74.2h1M64.9 70.1h1M57.1 91.6h1M61.9 88.9h1M52.8 76.5h1M46.9 88.4h1M52.2 88.2h1M52.7 70h1M67 71.4h1M50.7 76.5h1M53 70.2h1M54.3 79h1M53 68.6h1M47.7 78.4h1M55.7 86.5h1M57.3 80h1M57.5 76.4h1M47.9 90h1M54.5 71.7h1M44.7 85.7h1M60.6 76.1h1M49 80h1M53.5 78.6h1M52.5 79.4h1M51.7 78h1M48.8 72.5h1M44.6 74.1h1M65.6 81.7h1M56.7 77.6h1M56.8 69.6h1M67.8 73.1h1M54.6 73.2h1M58.5 77.9h1M55.3 79.7h1M62.3 79h1M58.2 73.4h1M57.1 78.5h1M53.7 68.1h1M56.9 56.7h1M62.2 77.9h1M42.7 65.9h1M54.4 71.2h1M52.7 69.2h1M53.4 83h1M43.3 69.2h1M59.6 80.3h1M50.1 74.6h1M53.8 69h1M52.2 66.4h1M45.2 81.7h1M52.5 81.1h1M44.1 84h1M49.5 91.9h1M53.3 80.2h1M55.2 80.3h1M55.5 77.3h1M54.4 79h1M68 75.5h1M57.8 71.5h1M47.9 93.1h1M51.5 64.2h1M51.3 80h1M54.1 81.4h1M51.6 79.2h1M50.1 70.9h1M65.1 76.7h1M55.5 74.6h1M53.2 70h1M53.7 77.7h1M53.9 75h1M63.6 73.9h1M58.1 83.2h1M61.9 70.1h1M62.7 62.2h1M56.4 58.6h1M62.6 56.4h1M60.4 60.4h1M61.5 56.5h1M54.1 51.1h1M55.4 62h1M54.9 56.2h1M61 54.8h1M64.5 53.5h1M66.4 59.8h1M57 55.6h1M60.5 61.3h1M50.3 57.7h1M46.7 63.1h1M54.8 57.2h1M56 56.2h1M50.7 50.9h1M49.3 54.4h1M63.1 61.6h1M55.1 70.9h1M49.9 53.8h1M73.8 54.6h1M61 60.1h1M58 60.7h1M64 56.1h1M55.4 59.1h1M69.4 52.4h1M50.7 57.6h1M52.1 62.4h1M59.1 65.3h1M55.3 58.1h1M68.3 57.7h1M50.3 60.6h1M55.5 63.2h1M61.3 60.7h1M63.2 55.8h1M65.8 60.2h1M61.9 62.6h1M73 55.9h1M57 53.5h1M60.9 60.8h1M64.9 60.2h1M57.9 62.6h1M58.1 59.1h1M57 56.2h1M55.9 57h1M53 54.7h1M56.5 55h1M50.5 56.6h1M62.1 56.9h1M50.3 63.2h1M72.1 53.9h1M69.9 58.6h1M66.4 56.4h1M58.5 64.7h1M56.2 59.8h1M67.1 57.3h1M60.8 62h1M63.1 59.1h1M55.4 56.9h1M66.1 64.9h1M55 61.6h1M60.4 65.7h1M49.4 63.4h1M55.8 61.9h1M62.7 59.3h1M57 54.5h1M57 61.6h1M64.4 59.1h1M59.3 61.5h1M67.1 58.8h1M45.3 56.1h1M63.1 54.8h1M62.7 61.6h1M50.5 64h1M51.9 57.7h1M64.9 60.6h1M53.3 64.3h1M55.9 55.5h1M63.3 57.5h1M57.7 54.4h1M62.5 63.5h1M54.5 59.9h1M61.5 57h1M66.2 52.2h1M61.6 58.1h1M46.6 62.8h1M63.6 57.7h1M60 57.1h1M54.3 61.4h1M68 53.9h1M49.3 59h1M70.9 61.2h1M55.9 55.7h1M69.1 55.5h1M59.4 59.8h1M51.7 58.4h1M60.2 57.9h1M61.7 59.7h1M62.9 59.7h1M66 55.2h1M54.3 56.2h1M62.6 60.6h1M64.1 63.3h1M58.1 64.2h1M54.1 55.5h1M54 63.2h1M64.2 61.9h1M64.4 58.7h1M54.7 60.8h1M51.7 62.1h1M67.1 66h1M50.4 54.7h1M60.6 61.2h1M54.9 58.3h1M49.2 58h1M60.4 63.4h1M58.5 62.1h1M68.3 54.8h1M73.2 57.7h1M58.5 59.8h1M65.8 53.3h1M65.9 62.3h1M56.5 58.6h1M54.5 59.5h1M69.3 60.2h1M57.5 66h1M59.5 59h1M57.9 57.5h1M58.9 65.8h1M56.1 56.9h1M64.1 56.8h1M67.2 53.4h1M57.4 63.2h1M51.4 60h1M60 60.7h1M50.8 59.5h1M55.8 58.3h1M67 55.8h1M73.5 55.8h1M61.9 60.6h1M53.3 59.4h1M64.3 65.3h1M46.3 55.9h1M55.5 57h1M68.8 54.8h1M64.1 64.3h1M51.4 54h1M49.7 61.9h1M83 56.4h1M75.2 66.2h1M79.4 62.4h1M65.3 64.2h1M73.9 66.1h1M67.7 60.3h1M76.7 67h1M75.9 69.1h1M72.1 64.9h1M80.5 69.5h1M77.6 59.8h1M73.3 67.5h1M73.3 64.3h1M68.6 58.1h1M75 62.6h1M86.3 60.3h1M72.4 60.2h1M77.9 63.4h1M73.2 68.2h1M79.8 61.4h1M78 63.6h1M74.7 55.7h1M67.1 63.5h1M73.3 68.7h1M81.8 67h1M74.7 65.3h1M79 60.3h1M73.5 58.1h1M66.7 62.5h1M78 56.3h1M77.5 56.8h1M73 67.6h1M74 58.4h1M77.3 71.8h1M72.9 55.9h1M77.6 65.1h1M74.9 57.1h1M64.2 63.8h1M75.2 57.8h1M72.9 63.1h1M71.7 62.2h1M77.9 60.7h1M73.5 65.5h1M78.5 70.4h1M81.3 60h1M76.6 67.3h1M68.2 63.4h1M72.3 62.8h1M80.4 73.8h1M74.6 52.2h1M71.9 59.6h1M75.4 54h1M78.4 61.4h1M77.2 61.8h1M79.1 81.8h1M71.8 64.7h1M74.5 71.8h1M74.6 69.4h1M75.8 60.8h1M65.5 65.3h1M74.7 71.2h1M69.3 63.8h1M82.8 64h1M83.6 65.4h1M84.2 55.5h1M79.9 58.9h1M73.5 64.6h1M80.6 65.6h1M74.9 58.4h1M78.9 61.3h1M71.4 62.3h1M73 62.2h1M78.2 66.4h1M84.7 63.5h1M75.8 63.8h1M87 55.9h1M89.5 57.7h1M69.6 64.5h1M75.8 55h1M71.2 64.3h1M75.2 59.7h1M73.3 58.9h1M75.6 66.1h1M80.7 59.6h1M80.6 58.7h1M77.2 59.6h1M75.9 63.2h1M76.5 76.5h1M76.5 52.4h1M78.8 62.8h1M75.9 61.7h1M78.4 67.6h1M69.4 61.1h1M79.8 50.6h1M84.6 69.5h1M76.8 57.5h1M68.9 62.6h1M82.6 56.1h1M74.3 57.5h1M61.1 60.4h1M74.8 67.2h1M78.9 67.1h1M77.8 59.9h1M82.1 65.4h1M79 61h1M76.5 63.4h1M66.2 63.6h1M70.4 66h1M76.8 59.8h1M79.3 62.2h1M70.9 64h1M72.9 63.3h1M78.3 58.9h1M66.5 71.4h1M66.3 60.6h1M74.8 66.6h1M77.2 63.9h1M73.6 68.9h1M64.6 52h1M76.1 73.1h1M63.1 82.9h1M51 64.3h1M67.2 74.7h1M92.6 74.1h1M71.7 82.1h1M51 82.5h1M60.1 59.1h1M81.6 58.6h1M48.9 86.8h1M63.5 75.9h1M62.1 79.5h1M91.5 78.6h1M62.2 92.8h1M81.3 60.3h1M57.6 87.5h1M56.1 64.9h1M77.6 83.2h1M73.1 90.5h1M45 58.2h1M73.3 79.4h1M73.3 71.3h1M58.3 71.1h1M68.3 75.1h1M68.8 62.1h1M59.8 63.2h1M58.7 82.4h1M57.6 84.6h1M62.4 67.9h1M49.8 57.3h1M47.8 87.6h1M66.5 78.9h1M64.6 62.4h1M53.3 67.7h1M75.8 77.5h1M88.7 63.2h1M81.4 93.6h1M49.3 76.2h1M80.8 79.2h1M68.2 62.4h1M65 63.8h1M58.5 65.2h1M65.5 77.9h1M82.1 71.4h1M72.1 71.2h1M60.7 78.3h1M57.6 77.3h1M60.6 92.2h1M72.6 72.3h1M87.8 62.6h1M53 74.5h1M65.6 91.9h1M61 68h1M56.6 75.2h1M70.3 70.4h1M72.2 79.4h1M48.7 77.6h1M53.3 65h1M79.8 71.9h1M69.4 85.7h1M71.8 87.5h1M59.6 85.5h1M61.1 84.8h1M71 70.7h1M59.7 70.3h1M52.4 85.6h1M65.6 60.8h1M76.4 73.9h1M53.3 52.7h1M78.2 70.1h1M94.8 43.4h1M99 40.7h1M111.4 46.7h1M116 47.1h1" stroke="#111" stroke-width="1" fill="none"/>
<rect x="75" y="42" width="12" height="10.3" fill="none" stroke="#111" stroke-width="0.9"/>
<rect x="144.7" y="37.9" width="79.7" height="56.2" fill="none" stroke="#4a4a4a" stroke-width="0.85"/>
<path d="M146.6 94.1v2M144.7 93.6h-2M152.4 94.1v1.2M144.7 89.4h-1.3M155.8 94.1v1.2M144.7 87h-1.3M158.2 94.1v1.2M144.7 85.3h-1.3M160.1 94.1v1.2M144.7 84h-1.3M161.7 94.1v1.2M144.7 82.9h-1.3M163 94.1v1.2M144.7 81.9h-1.3M164.1 94.1v1.2M144.7 81.1h-1.3M165.1 94.1v1.2M144.7 80.4h-1.3M165.9 94.1v2M144.7 79.8h-2M171.8 94.1v1.2M144.7 75.6h-1.3M175.2 94.1v1.2M144.7 73.2h-1.3M177.6 94.1v1.2M144.7 71.5h-1.3M179.5 94.1v1.2M144.7 70.2h-1.3M181 94.1v1.2M144.7 69.1h-1.3M182.3 94.1v1.2M144.7 68.1h-1.3M183.4 94.1v1.2M144.7 67.3h-1.3M184.4 94.1v1.2M144.7 66.6h-1.3M185.3 94.1v2M144.7 66h-2M191.1 94.1v1.2M144.7 61.8h-1.3M194.5 94.1v1.2M144.7 59.4h-1.3M196.9 94.1v1.2M144.7 57.7h-1.3M198.8 94.1v1.2M144.7 56.4h-1.3M200.4 94.1v1.2M144.7 55.3h-1.3M201.7 94.1v1.2M144.7 54.3h-1.3M202.8 94.1v1.2M144.7 53.5h-1.3M203.8 94.1v1.2M144.7 52.8h-1.3M204.7 94.1v2M144.7 52.2h-2M210.5 94.1v1.2M144.7 48h-1.3M213.9 94.1v1.2M144.7 45.6h-1.3M216.3 94.1v1.2M144.7 43.9h-1.3M218.2 94.1v1.2M144.7 42.6h-1.3M219.7 94.1v1.2M144.7 41.5h-1.3M221 94.1v1.2M144.7 40.5h-1.3M222.1 94.1v1.2M144.7 39.7h-1.3M223.1 94.1v1.2M144.7 39h-1.3M224 94.1v2M144.7 38.4h-2" stroke="#222" stroke-width="0.55" fill="none"/>
<text x="147" y="102.1" font-size="5.6" text-anchor="middle" fill="#111" font-weight="bold" letter-spacing="0.2">10<tspan font-size="5.2" dy="-2">0</tspan></text>
<text transform="translate(141.3 93.2) rotate(-90)" font-size="5.6" text-anchor="middle" fill="#111" font-weight="bold" letter-spacing="0.2">10<tspan font-size="5.2" dy="-2">0</tspan></text>
<text x="166.3" y="102.1" font-size="5.6" text-anchor="middle" fill="#111" font-weight="bold" letter-spacing="0.2">10<tspan font-size="5.2" dy="-2">1</tspan></text>
<text transform="translate(141.3 79.4) rotate(-90)" font-size="5.6" text-anchor="middle" fill="#111" font-weight="bold" letter-spacing="0.2">10<tspan font-size="5.2" dy="-2">1</tspan></text>
<text x="185.7" y="102.1" font-size="5.6" text-anchor="middle" fill="#111" font-weight="bold" letter-spacing="0.2">10<tspan font-size="5.2" dy="-2">2</tspan></text>
<text transform="translate(141.3 65.6) rotate(-90)" font-size="5.6" text-anchor="middle" fill="#111" font-weight="bold" letter-spacing="0.2">10<tspan font-size="5.2" dy="-2">2</tspan></text>
<text x="205.1" y="102.1" font-size="5.6" text-anchor="middle" fill="#111" font-weight="bold" letter-spacing="0.2">10<tspan font-size="5.2" dy="-2">3</tspan></text>
<text transform="translate(141.3 51.8) rotate(-90)" font-size="5.6" text-anchor="middle" fill="#111" font-weight="bold" letter-spacing="0.2">10<tspan font-size="5.2" dy="-2">3</tspan></text>
<text x="224.4" y="102.1" font-size="5.6" text-anchor="middle" fill="#111" font-weight="bold" letter-spacing="0.2">10<tspan font-size="5.2" dy="-2">4</tspan></text>
<text transform="translate(141.3 38) rotate(-90)" font-size="5.6" text-anchor="middle" fill="#111" font-weight="bold" letter-spacing="0.2">10<tspan font-size="5.2" dy="-2">4</tspan></text>
<path d="M175 83h1M181.6 80.2h1M182.2 83h1M179.9 68.3h1M187.7 69.8h1M180.6 91.1h1M177.7 54h1M187.3 52.9h1M177.4 52.7h1M175.9 85.9h1M177.8 73.5h1M178.7 80.8h1M180.7 79.1h1M181.6 85.7h1M176.4 74h1M181.5 65.6h1M188.3 56.6h1M178.6 69.1h1M180.1 60.1h1M183 90.4h1M184.2 83.7h1M178.6 63.8h1M177.9 73.2h1M177.8 71.5h1M183.6 77.1h1M183.9 91.3h1M174.1 63.4h1M174.5 77.5h1M177.2 72.9h1M174.9 91.6h1M181.8 61.1h1M181.2 78.9h1M187.5 55.8h1M182.7 74.6h1M181 91.8h1M184 81.9h1M177.1 53.3h1M175.1 92.8h1M180.6 74.4h1M183.1 76.1h1M174.5 91.2h1M183 76.3h1M183.2 61.2h1M179.2 69.8h1M181 83.1h1M179.8 68.5h1M180.8 59h1M182.8 68.2h1M177.7 56.3h1M184.2 56.1h1M183.5 57h1M183 73.1h1M174.8 65.3h1M174.5 59.5h1M182.6 82.7h1M178.9 77.4h1M178.3 86h1M178 58.7h1M176.8 77.7h1M179.7 62.9h1M178.6 72.5h1M178.7 70.5h1M181.9 76.2h1M177.3 75.7h1M184.6 90.1h1M174.3 77.9h1M187.7 66.6h1M176.2 85h1M182.5 58.7h1M183.4 84.2h1M180.5 75.9h1M182.8 62.8h1M180.2 83.2h1M174.4 56.7h1M181.8 53.5h1M184 63.3h1M179 72.9h1M175.7 78.2h1M178.8 65h1M181.4 76h1M181.7 92.7h1M182.2 81.9h1M182 64.5h1M175 71.8h1M187.7 85.5h1M180.7 88.8h1M183.8 91.5h1M179.6 68.1h1M180.1 66h1M180.7 65.9h1M185.5 84.6h1M186.3 91.7h1M182.3 75.4h1M186 70.4h1M179.4 79.7h1M182 69.5h1M179.3 75.7h1M184.7 59.8h1M180.7 56.1h1M183.3 68.8h1M185.8 63.1h1M173.6 58.3h1M188.8 92h1M181.5 80.9h1M179.7 68.1h1M179.5 56.4h1M174 66.5h1M180.9 88.7h1M179.9 92.2h1M186.4 84.9h1M179.5 59.7h1M183.5 75.5h1M184.8 55h1M188.2 54.6h1M179.7 87.8h1M183.6 52.1h1M175.1 56h1M176.6 56.4h1M179.7 81.5h1M180.5 78.1h1M176.7 61h1M179.4 69h1M183.2 91.5h1M179.1 60.7h1M180 54.8h1M178 78.8h1M185.4 56.5h1M185.5 75.1h1M181.2 62.6h1M180.1 53.4h1M185.4 79.3h1M182.1 83.2h1M178.6 65h1M176.1 58.6h1M178.3 92.5h1M187.4 62.2h1M178.7 62.2h1M188.8 67.2h1M180.6 62h1M179.9 62.2h1M185.4 90.4h1M179.7 55.4h1M181.8 86.6h1M177.7 74.2h1M175.8 53.5h1M178.1 58.3h1M181.2 79.2h1M178.7 75.2h1M174.5 62h1M182 64.1h1M180 90.5h1M179.7 82.6h1M178.8 79.5h1M172.3 90.3h1M185.6 61.6h1M179.2 65.7h1M182.3 86.8h1M184.5 70.3h1M183.7 70.5h1M181.2 85.6h1M181.7 88.8h1M183.4 84h1M182.2 70.5h1M179.3 81.3h1M182 61.4h1M181.8 62.5h1M182.8 60.5h1M181.2 80.3h1M185.8 91.3h1M181.2 83.4h1M183.3 63.1h1M180.7 79.4h1M178.9 66.5h1M177.5 86.2h1M180.2 72.1h1M182.2 62.4h1M184.4 64.1h1M180.3 55.5h1M179.1 67h1M179.1 66.1h1M184.2 71h1M180.9 79.3h1M178.8 90.5h1M183 85.9h1M176.9 75.8h1M180.9 67h1M180.5 59.1h1M180.2 76.5h1M176.3 54.7h1M184.3 54.2h1M185.4 78.7h1M176.2 58.8h1M181 87.2h1M182.5 79.8h1M186.9 73.8h1M179 90.9h1M177.3 57.5h1M180.6 64.9h1M186.2 73.1h1M180.9 92.1h1M181.6 55.3h1M185.6 77h1M172.8 90.2h1M173.2 58h1M183.3 81.2h1M182.9 80.7h1M176.6 67h1M182 74.2h1M180.8 90.8h1M181.2 71.4h1M178.4 70.9h1M179.3 75.4h1M177.2 53.3h1M180.8 85.6h1M179.7 54.1h1M187.2 92.6h1M183 92.3h1M175.4 86h1M182.1 89.2h1M184.7 77.5h1M181.4 64.7h1M183.7 77.1h1M180.5 80.2h1M183 57.9h1M177.7 84.2h1M182.9 64.6h1M176.8 73.3h1M184.5 63.1h1M176.1 63.7h1M173.2 88.4h1M182.3 84h1M180 54.6h1M181 84h1M182.2 90.4h1M180.5 81.2h1M178 80.7h1M181.2 63h1M181.6 81h1M182 67.7h1M187.9 90.3h1M178.4 81.2h1M180.8 65.4h1M182.6 88.7h1M179.2 84.1h1M176.7 60.3h1M178.8 60.9h1M184.8 52.5h1M179.8 84h1M182.8 55.6h1M178.4 63.4h1M182 82.6h1M178.6 64.7h1M178.1 63.9h1M181 54.8h1M180.8 54.1h1M184.7 75.7h1M175 57.7h1M182.6 92h1M186.9 53.1h1M184.6 65.1h1M179.3 59.6h1M178.2 89.3h1M179.1 83.2h1M181.7 56.6h1M181.3 54.3h1M181.9 55.4h1M182.4 82.7h1M177.3 83h1M177.4 78.3h1M177.2 72.3h1M176.9 71.2h1M180.3 76.7h1M181.7 56.5h1M188.7 85h1M182.3 84.3h1M180.6 80.3h1M185 61.8h1M178.3 60.9h1M181.9 92.7h1M184.3 91.4h1M183 83h1M181.9 84.6h1M179.6 71h1M176.3 88.4h1M180.1 80.7h1M178.9 70.2h1M182.6 80.3h1M180.1 55.3h1M182.2 68.4h1M175.2 87h1M183.3 71.9h1M178.2 75.1h1M176.2 75.3h1M175.4 91.1h1M178.6 60.3h1M183.9 80.3h1M182.6 70.6h1M176.9 61.8h1M180.9 54h1M180.3 77.3h1M175.5 59.6h1M177.8 76.2h1M174.9 69.8h1M178.2 68.8h1M171.3 88.9h1M177.7 55.7h1M178 75.3h1M178.4 69.2h1M177.8 58.3h1M183.9 68.4h1M179.4 88h1M181.4 60.2h1M182.8 80.2h1M183.3 63.1h1M182.5 73.6h1M179.1 74.9h1M176.6 55h1M178.1 85.5h1M179.3 67.7h1M180.6 60.7h1M180.3 60.6h1M184.9 92.9h1M180.2 91.1h1M185.6 71.5h1M183.7 63.2h1M179.2 81.4h1M183.8 54.2h1M170.8 87.6h1M186.1 52.2h1M182.2 54.1h1M181.8 65.9h1M175.9 70.9h1M190.6 52.2h1M179.8 63.9h1M180 92.8h1M184.1 84.1h1M179.9 54.4h1M177.6 88.4h1M182.4 71.3h1M182.8 65.3h1M181 64.8h1M183.9 80.2h1M177.3 72.3h1M184.3 63.5h1M181.4 73.8h1M186.2 78.4h1M178.7 65h1M186.7 86.2h1M182.8 83.1h1M183 83.3h1M178.5 79.4h1M182.3 61.6h1M182.6 81.3h1M177.9 59.2h1M176.7 57.9h1M178.5 72.9h1M185.4 59.2h1M181.1 57.3h1M183.2 76.6h1M181.7 92.5h1M181 54.3h1M181.2 70.4h1M179.1 55.7h1M184 74.4h1M181.1 75.8h1M181.2 72.4h1M175.3 53.6h1M181.5 81.1h1M178.7 73.1h1M179.2 75.8h1M183.6 79.7h1M176.7 89.6h1M180 70h1M182.9 89.9h1M184.4 59.3h1M179.2 70.8h1M181.6 59.3h1M181.4 67.5h1M176.6 89.5h1M172.3 92.5h1M175.3 71.6h1M182.4 63.5h1M180.9 65.4h1M175.8 89.4h1M178.8 70.2h1M179.3 60.2h1M179.4 86.7h1M180.5 73.2h1M186.7 69.7h1M177.8 89.5h1M181 83h1M177.6 52.6h1M178.2 92.1h1M178.2 70.9h1M179.8 59.5h1M178.6 89.8h1M181.6 69.4h1M181.2 80.4h1M177.9 83.2h1M186.8 60.1h1M176 92.8h1M181.6 75.4h1M188.7 54.4h1M178.6 74.3h1M185.8 52.8h1M186.1 92.6h1M181.6 79.6h1M175.4 67.7h1M185.1 85.2h1M180.9 85h1M179 81.1h1M184.6 61.8h1M178 55.9h1M184.2 87.5h1M178.7 88.9h1M182.1 66.3h1M177.6 68h1M179.5 68.7h1M177.8 63.5h1M178 90.9h1M181.1 74.1h1M180.1 81.4h1M181.1 77.1h1M185.2 55.7h1M180.2 55h1M174.3 58.1h1M179.8 72.6h1M180.8 78.1h1M184.3 89.4h1M183.5 82.7h1M180 67.9h1M182.5 66.3h1M176.3 80.9h1M184.3 66.3h1M182 83.8h1M182.1 82.2h1M179.3 57h1M180.8 85.4h1M178.2 55.9h1M182.3 65.2h1M175.4 92.5h1M183.4 79h1M182.4 87.5h1M188 90.5h1M180.5 63h1M180.3 85h1M181.1 67.5h1M180.7 54.7h1M180.2 56.4h1M176.8 57.2h1M177.5 78.2h1M179 78.6h1M179.6 87.2h1M177.1 64.2h1M177 83.6h1M179.7 63.1h1M182.8 65h1M180 79.2h1M182.5 68.3h1M182.8 65.1h1M179.3 61.9h1M179.2 88.5h1M174.2 88.2h1M178.3 58.8h1M182 66h1M177.6 73.2h1M185.6 54.8h1M184.7 67.4h1M179.4 84h1M183.5 83.9h1M175.8 58.2h1M177.5 64.6h1M179.5 63.1h1M180.6 80.4h1M180 57.5h1M187.5 56.8h1M181.4 73.9h1M181.4 81.2h1M183.2 91.4h1M181.1 77.5h1M179.8 87.5h1M179.1 74h1M175.5 61.2h1M184.8 69.5h1M178 77.2h1M176 74h1M178.1 84.5h1M176.2 74.4h1M186.2 67.9h1M181.6 73.4h1M184.5 73.6h1M186.3 52.4h1M182.3 65.6h1M182.2 75.8h1M178.4 81.6h1M180.4 69.7h1M178.8 83h1M180.7 72.9h1M178.6 67.3h1M184.5 62.1h1M183 85.1h1M180.2 90.3h1M175.6 82.3h1M182.8 61.2h1M183.2 81.3h1M180.4 73h1M176 90.4h1M182.3 52.2h1M183.9 84.1h1M175.3 71.4h1M182.5 87.5h1M175.5 77.1h1M180.9 52.3h1M185.7 80.7h1M180.9 74.1h1M182.1 61.9h1M179.5 57.1h1M180.6 68.5h1M187.1 75.3h1M184.3 71.9h1M179.4 52.7h1M179.3 58.1h1M180.7 80.3h1M186.7 74.6h1M181.2 82.8h1M183.7 69.2h1M179.5 62.7h1M176.5 85.1h1M184.8 61.1h1M180.3 54.5h1M178.4 67.3h1M178.7 70.7h1M178.5 60.7h1M178.3 91.7h1M175.8 61.6h1M184.8 57.1h1M181.7 79.5h1M183.9 57.9h1M179.6 63.6h1M181.6 69.2h1M181.1 63.4h1M184 79.1h1M183.4 57.8h1M181.6 78.7h1M178.3 56.8h1M177.3 76.1h1M177.5 92.6h1M178.6 84.7h1M178.6 91.3h1M177.2 74.7h1M186.1 58.6h1M181.4 67.4h1M174.3 84.2h1M176.9 57.5h1M176.7 79.6h1M181.3 65.4h1M184.4 90.1h1M177.8 66.5h1M182.4 65.4h1M179.8 63.3h1M183.8 74.4h1M185.7 91.5h1M181.5 74.4h1M182.8 82.8h1M180.6 73.6h1M179.3 55.4h1M177.4 76.3h1M181.5 76.7h1M180.4 76.7h1M179.5 64.4h1M180.4 63.1h1M180.1 65.7h1M176.6 53.3h1M178.9 58.7h1M184 63.9h1M180 73.3h1M185.6 89.8h1M177.2 81.1h1M176.9 73.4h1M181 81.7h1M182.7 70.4h1M178.1 54h1M182.4 80.5h1M183.3 81.3h1M183.7 79.2h1M180.2 87.4h1M180.4 84.4h1M175.2 86.4h1M180.7 53.9h1M184.5 76.4h1M177.1 76.6h1M178.2 77.4h1M177.6 63.2h1M183.2 64.6h1M171.9 88.4h1M177.6 76.9h1M188.4 91.9h1M182.7 60.6h1M176.9 76.3h1M180.4 76.9h1M183.8 53.5h1M182.1 78h1M180 68h1M178.4 69.8h1M183.3 59.7h1M180.6 76.7h1M182.9 79.9h1M182 89h1M179.1 86.9h1M186.2 92.7h1M178.7 92.5h1M181.9 81.1h1M178.7 63.7h1M180 74.4h1M179.7 55.5h1M178.8 75.5h1M181.3 64.7h1M184.2 74.3h1M186.2 83.1h1M185.9 54.5h1M180 88.4h1M186.1 53.6h1M181.7 72.3h1M186.2 61.1h1M175.9 53.6h1M184.6 71.9h1M178.8 62.9h1M184.8 55.3h1M179.1 86.2h1M183.4 62.2h1M179.6 90.9h1M175.4 77.3h1M177.9 66.7h1M179.7 54.5h1M180.7 87.5h1M172.8 56.5h1M176.9 84.2h1M178.6 73.9h1M180 70.9h1M181.4 55.3h1M178.3 69.4h1M174.7 52.7h1M181.5 83.7h1M179.6 81.3h1M183.6 57.6h1M179.2 73.1h1M182.7 59.4h1M178 81.5h1M181.5 59.8h1M180.9 59.2h1M181.9 63.8h1M177 92.3h1M180.2 86h1M178.3 68.7h1M180.1 85h1M182.4 67h1M190.1 59.8h1M180.7 89.2h1M183.3 53.5h1M181 84.9h1M184.9 91.8h1M182.2 55.5h1M184.1 87.7h1M181.7 84.4h1M189.6 53.8h1M184.4 70.4h1M175.5 62.8h1M181.4 67.9h1M180.8 67.8h1M174.5 68.4h1M177.3 52.4h1M179.2 63.3h1M178.5 64h1M181 78.9h1M175.4 80.9h1M182.9 83.1h1M182.8 78.4h1M181.8 89.1h1M179.7 75.1h1M180.6 65h1M178.9 53.7h1M184 82.2h1M182 75.3h1M187.1 58.8h1M179.6 73.2h1M186 91.2h1M179 77.1h1M180.1 64.8h1M177.3 85.5h1M182.1 68.4h1M180.4 52.6h1M182.8 55.3h1M186.2 91.9h1M180.4 55.9h1M181.8 84.5h1M184 53.3h1M180.5 69.6h1M179 63.7h1M181.6 66.3h1M182.4 55.8h1M182.8 68.7h1M183.1 83.5h1M178.8 73.8h1M182.1 57.5h1M184.5 85.4h1M179.1 88.2h1M181.6 70.9h1M178.9 66.9h1M181.3 52.7h1M186.9 54.9h1M181.1 67.6h1M177.3 56.7h1M181.9 92.2h1M181.2 78.7h1M183.8 65h1M176.9 76.3h1M177.7 59h1M180.3 90.1h1M176.4 72.8h1M183.9 81h1M174.1 59.6h1M178.4 71.7h1M176.3 81.6h1M178.8 68.1h1M183.5 54.7h1M182.3 71.5h1M183.6 86.2h1M182.3 71.2h1M172.8 92.7h1M181.4 75.2h1M174.3 88.6h1M178.7 53.4h1M179.5 78.2h1M179.1 73.2h1M182 66.9h1M177.8 89.4h1M186.7 55.8h1M182.2 72.2h1M184 64.7h1M183.5 91.8h1M183.4 84.4h1M180.5 60.3h1M187.3 57.3h1M176.6 53h1M182.1 59.5h1M180.6 90.6h1M179.9 88.2h1M181.6 85.2h1M178.6 68.6h1M183 72h1M182.8 75.9h1M180.9 85.6h1M183.5 52.2h1M177.3 59.5h1M175.7 76.1h1M178.7 57.9h1M179.8 90.9h1M189.9 53.9h1M179.8 92.4h1M183.8 60.9h1M183.3 60h1M186.4 69.6h1M181 78.5h1M183.1 92.7h1M180.1 71.8h1M177.6 89.3h1M177.2 89h1M177.6 92.9h1M184.6 66.9h1M181.4 71.7h1M180 52.9h1M180.7 67.9h1M179 66.7h1M180.5 57.2h1M180.5 86.5h1M182.5 63.6h1M183.7 57.4h1M175 56.8h1M181.5 53h1M184.8 83.3h1M177.9 74.1h1M179.9 73.7h1M181.1 69.2h1M184.8 92h1M182.3 67.7h1M180 71.7h1M182.1 80.6h1M184.4 90.6h1M181.9 87.6h1M187 88.6h1M182 59.6h1M176.8 91.2h1M178.1 86.2h1M180.2 65.7h1M180 85.4h1M182.9 91.5h1M181.7 82.8h1M185.7 82.7h1M183.3 86.8h1M185.7 88.5h1M178.3 84.4h1M179.1 55.2h1M182.8 60.7h1M181 57h1M182.3 71.3h1M181.6 54.7h1M179 74.9h1M186.7 90.4h1M185 92.7h1M174.8 53.6h1M178.9 80.3h1M180.7 57.9h1M182.9 87.8h1M180.4 53.3h1M175.9 56.3h1M183 65.4h1M179.9 52.2h1M184 79.5h1M181.6 60.5h1M183.6 81.9h1M183.7 91.4h1M183 71.5h1M179.3 71.5h1M181.2 65h1M176.4 88.8h1M179.5 81.6h1M179.4 52.4h1M182 64.4h1M182.7 81.9h1M176.5 53.9h1M183.1 87.6h1M180.4 89.9h1M177.5 83.5h1M183.3 85.7h1M178.6 76.8h1M176.9 85.6h1M182.7 71.4h1M183.1 68.9h1M178.8 81.2h1M183.5 71.3h1M183.5 64.9h1M179.1 63h1M186.1 70.1h1M180.5 67.9h1M181.4 83.3h1M173.3 84.5h1M182.7 85.1h1M178.7 87.1h1M181.9 67h1M175.9 67.3h1M184.4 86.8h1M185.3 59.5h1M186.1 81.1h1M172.7 73.8h1M182.3 79.7h1M181.7 80.9h1M172.1 79.8h1M178.5 61.8h1M180.4 53h1M186 91.5h1M177.8 89.2h1M181.2 72.9h1M180.5 79.4h1M182 55.8h1M179.6 71h1M183.1 76.4h1M183.5 81h1M176.5 61.1h1M184.7 55.8h1M178 91.9h1M179.8 87.2h1M184.3 59.4h1M181 86.1h1M182.5 85.7h1M183.2 59.5h1M182.6 85.4h1M179.2 67.9h1M178 65.9h1M183 58.7h1M182.8 76.5h1M181.7 77.4h1M180.2 73.2h1M183.7 56.1h1M180.7 85h1M176.8 65.1h1M181.6 63h1M182.1 78.6h1M183.2 59.7h1M177.6 89.8h1M178.6 78.9h1M181.8 84.8h1M179.5 66.1h1M180.6 69.8h1M183.6 62.4h1M181.9 62.4h1M185.7 69.2h1M181.7 84.7h1M185.4 72.9h1M184.2 86.6h1M189.5 56.6h1M180.8 64h1M180.5 53.5h1M185.4 89.9h1M179 54.6h1M179.5 74.5h1M181.5 79.9h1M182 60.5h1M175.5 92.7h1M181.9 92.7h1M179.9 61.9h1M180.8 57.8h1M181.3 79h1M180.3 73.4h1M183.8 77.1h1M182.2 77.6h1M180.2 91.7h1M181.1 83.9h1M183.8 65h1M183.2 83h1M184.3 70.6h1M180.4 92.5h1M181.2 71.8h1M188.7 52.5h1M180.8 90.1h1M185.8 63.5h1M183.6 86.1h1M179.7 77.4h1M176.7 82.9h1M182.8 82.7h1M178.5 89.6h1M178.6 86.6h1M176.1 78.8h1M184.2 65.6h1M181.1 72.5h1M181 63.6h1M182 66h1M181.5 71.1h1M181.1 69.6h1M182.4 64h1M180.1 64.6h1M173.5 64.9h1M183.2 59.9h1M182 76.2h1M181 55.8h1M185.7 62.3h1M176.5 59.1h1M172.5 81.3h1M185.2 63.6h1M182.4 56.1h1M175.7 86.1h1M179.8 70.2h1M182.9 85.4h1M177.5 65.3h1M182.4 66.4h1M186.6 75.2h1M185.9 54.9h1M180.9 92.5h1M182 57.5h1M177.6 89.9h1M181.3 79.4h1M179.9 83.7h1M177.9 60.7h1M176.4 89h1M186.1 74.2h1M181.1 69.2h1M177.7 60h1M179.6 59.1h1M185.9 87.8h1M187.1 92.2h1M179.2 69.4h1M181.5 82h1M183.5 81h1M180 72.5h1M177.7 71.9h1M178.3 75h1M180.9 66.4h1M178.6 82.9h1M177.4 69.3h1M180.2 72.9h1M183.9 59.5h1M183.6 92.5h1M180.2 55.2h1M186.4 81.8h1M178.7 79.4h1M180.7 66.3h1M175.8 92.5h1M183.9 53.5h1M180.5 63.3h1M176.2 66h1M178.6 78.6h1M185.8 76.5h1M183 81.5h1M181.3 87.7h1M184.3 52.8h1M176.6 75.3h1M178.6 68.6h1M177.1 80.6h1M178.6 73.9h1M179.8 66.5h1M183 52.3h1M183.8 64.9h1M183.5 70.5h1M188.4 66h1M179.5 67.7h1M180.8 79h1M182.3 65.9h1M178.2 87.3h1M180.1 67h1M182 70h1M178.5 70h1M182.6 89.5h1M184.2 77.1h1M176.8 92h1M172.1 52.2h1M181.3 91.7h1M177.6 60.1h1M181.5 89.2h1M179.3 53.8h1M181.9 87.5h1M184 78.3h1M183.2 80.4h1M179.9 68.2h1M177.6 68.1h1M172.8 58.5h1M173.7 57.8h1M178.6 77.9h1M181.1 66.2h1M178.4 53.2h1M178.9 59h1M175.7 59.1h1M175.7 60h1M176.2 70.8h1M183 89.8h1M175.4 76.1h1M182.8 82.7h1M177.7 56.4h1M182.3 80.7h1M181.6 87.9h1M184.2 81.6h1M178.6 77.2h1M177.1 91.9h1M179.3 57.4h1M178.3 84.9h1M182.6 81.9h1M180.3 82.1h1M180.7 66.7h1M182.1 55.3h1M179.1 57.9h1M183.8 80.1h1M175.4 65h1M181.5 91.4h1M182.3 57.1h1M178.2 85.8h1M178.8 71.8h1M183.2 64.2h1M179.7 62.6h1M175.3 66.7h1M176.9 67.3h1M183.7 61.4h1M177.9 61.1h1M185.5 92.3h1M184.3 69.5h1M180.1 77.9h1M182.2 81.2h1M178.3 65.8h1M179.2 90.8h1M178.6 64.2h1M182.5 60h1M175.9 53.8h1M180.2 62.9h1M180.8 54.5h1M182 78h1M174.8 75.9h1M173.8 52.9h1M177.4 91.4h1M179.9 82.2h1M181 74.8h1M181.3 91.2h1M186 74h1M182.7 59.3h1M182.4 84.4h1M178.8 91.6h1M183.4 54.5h1M182.4 72.9h1M182.6 61.4h1M180.2 89.5h1M182.7 56h1M185.4 85.5h1M178.1 60.6h1M174.6 78.6h1M182.9 80.7h1M182.8 83.6h1M179.7 54.2h1M179.4 72.1h1M189.8 57.2h1M179 57.3h1M176.6 58.7h1M179 58.1h1M182.4 90.8h1M178.9 75.3h1M179.4 62.5h1M181.4 72.1h1M179 54.3h1M180.9 61h1M180.4 78h1M177.5 80.8h1M180.8 77.6h1M176.1 92.9h1M184.1 92.7h1M177.5 86.6h1M179.9 71.3h1M175.1 83.4h1M179.2 62.3h1M176.4 87.9h1M185 62.1h1M182.5 52.6h1M175.1 85h1M177.2 72.8h1M180 85.9h1M176.9 73.6h1M184.2 86.6h1M179.4 81.4h1M181 78.5h1M181.6 91.5h1M180 56.9h1M183.3 90.4h1M178.7 73.7h1M181.6 81.4h1M183.9 79.7h1M181.1 68.3h1M180.9 73.9h1M179.3 92.4h1M180.7 72.3h1M182.9 90h1M179.6 52.4h1M176 75.8h1M181 80.6h1M180.1 68.4h1M182.2 55.4h1M180.6 84.9h1M185.2 83.2h1M177.2 67.8h1M177.2 56h1M182.6 86.8h1M177.4 84.2h1M181.6 86.6h1M180.5 86h1M174.8 62.9h1M182.4 77.9h1M184.2 71.3h1M181.1 68.2h1M176.7 69h1M182.7 79.9h1M180.2 71.6h1M181.7 67.2h1M178.4 78.1h1M175.9 78.1h1M180.1 68.9h1M180.4 78.8h1M178.2 79.3h1M178.2 83h1M182.9 58.9h1M180.3 79.1h1M179.3 69.3h1M178.5 88.5h1M181 77.7h1M180.8 85.7h1M180 85.6h1M176.3 60.8h1M179.2 55.2h1M178.6 83.5h1M180.7 54.3h1M184.6 91.3h1M183.2 80.6h1M182.2 69.6h1M180.8 79.8h1M179.4 57.5h1M181.4 78.5h1M178.8 90.2h1M179.2 52h1M177.5 90.9h1M180.4 64.9h1M180.3 68.5h1M187 91h1M182.2 85.1h1M179.5 68h1M183.4 92.7h1M178.7 53.4h1M183.3 79.4h1M182.6 73.1h1M190.1 88.8h1M176.4 52.8h1M180.3 65.3h1M180.2 71.9h1M181.5 55h1M182.4 78.8h1M177.4 87.2h1M178 89.6h1M181.5 58h1M183 73h1M176.3 92.9h1M175.1 55h1M183.7 81.3h1M182.9 63.9h1M184.2 89.7h1M177.9 77.2h1M179.8 89.2h1M181.3 54.1h1M181.7 77.1h1M180.2 69.4h1M180.3 56.5h1M183.2 69h1M179.2 82.8h1M179.1 76.2h1M179.4 76.6h1M179.1 63.6h1M180.8 73.1h1M180 70.5h1M179 89.8h1M185.1 88.4h1M181.3 70.2h1M179.6 72.9h1M184 64.1h1M179.1 75.5h1M180.5 57.4h1M180.1 92.1h1M179 69.2h1M179 52.4h1M180.7 64.3h1M175.4 91.4h1M179.4 64.9h1M181.2 68h1M181.5 92.5h1M181.4 84.6h1M186.8 67h1M182.6 58.8h1M180.1 68.2h1M180.2 67.5h1M180.5 89.1h1M181.6 74.4h1M179.5 90.4h1M176.9 88.1h1M182.2 68.9h1M181.8 68.2h1M177.5 74.7h1M182.2 80.2h1M182.2 87.2h1M178.5 85.9h1M186.8 65h1M182.5 82.5h1M179.6 67.6h1M179.1 84.2h1M177.7 52.6h1M181.3 87.2h1M180.7 81h1M176 58.1h1M177.5 62.4h1M178.5 64.9h1M179.5 73.3h1M179.3 89.6h1M178.1 92.3h1M182.2 77h1M183.6 56.5h1M180.7 92.6h1M172.7 91.9h1M179.9 55.7h1M182 79.6h1M180.3 79.7h1M181.2 79.4h1M180.8 82.1h1M174.9 52.2h1M173.6 64.8h1M182.2 66h1M179.1 78.9h1M181.8 55.9h1M179.6 63.5h1M180 59.3h1M185.3 54h1M177.4 71.6h1M180.4 60.5h1M177.7 72h1M180.7 60.6h1M181.9 84.9h1M182.6 56.6h1M180.9 84h1M176.8 79.3h1M181.2 58.6h1M182.8 67.7h1M183.1 67.9h1M186 70.9h1M182 80h1M176.7 52.6h1M178.9 58.9h1M180.7 81h1M183.9 55.9h1M176.9 87h1M182.9 67.4h1M182.8 53.5h1M178 83.9h1M182.2 62.2h1M180.4 90.3h1M179.5 88.7h1M181.2 88.7h1M176.4 55.1h1M182.3 53.1h1M174.8 68.6h1M179.4 69.5h1M179 69h1M184.6 76.8h1M182.1 84.5h1M179 84.7h1M177.4 90.6h1M180.6 80.1h1M178.4 88.4h1M187.9 55.8h1M170.5 53.1h1M180.7 70.7h1M172.5 88.6h1M183.2 68h1M177.8 56.6h1M185.6 57.2h1M178.9 61.5h1M183.9 87.8h1M181 66h1M184.2 87.7h1M180.5 91.1h1M171.8 84.1h1M178 90.3h1M176.1 62.6h1M183.3 60.1h1M182 62h1M180.5 52.7h1M182 90.6h1M181.1 60.6h1M179 78.1h1M185.9 63.8h1M181.1 74.4h1M180 70.1h1M176.4 81.9h1M178.6 60.3h1M180.5 64h1M179.9 57.7h1M179.2 65.5h1M180.3 86.6h1M176.5 92h1M180.5 52.6h1M175.7 87.1h1M178.1 82.5h1M178 55.3h1M183.2 58.7h1M182 87.9h1M180.7 60.1h1M176.6 89.7h1M179.5 74.4h1M183.4 92.9h1M183.7 72.9h1M175.8 57.4h1M179.4 77.2h1M180.8 70.5h1M181.7 54.9h1M180.5 86h1M182.7 89.3h1M175.3 92h1M184.6 78.7h1M177.5 76.2h1M180.7 60.1h1M182.3 92h1M183.8 82.5h1M182.9 79.7h1M182.9 80.8h1M184.5 86.9h1M180.1 66.2h1M182.9 56.6h1M177.8 53.3h1M176.6 63.3h1M177.9 72.4h1M185.5 53.7h1M183.9 64.9h1M179.4 88.1h1M181.2 78h1M181.8 76.2h1M184.3 52.8h1M175.6 69.7h1M178.7 57.1h1M179.8 68.1h1M181.4 68.1h1M180.7 69.6h1M179.7 65.1h1M181.4 84.4h1M173.9 71.2h1M190.8 89.7h1M182.7 66.3h1M183.3 58h1M178.8 66.7h1M181.9 88.2h1M186 66.9h1M186.1 86.1h1M180.7 80.8h1M177 62.7h1M181 59.9h1M179.6 56.7h1M182.8 70.6h1M177 80.8h1M180 64.2h1M181.5 91.6h1M178.8 52.6h1M183.7 84.6h1M177 59.1h1M179.4 56.1h1M183.4 90.2h1M179.8 68.7h1M178.9 63.9h1M183.4 53.7h1M181.2 61.1h1M179.2 67.9h1M181 90.8h1M179.7 92.2h1M182.6 55.3h1M180.9 75.3h1M177.7 53.4h1M179 56.3h1M179.5 77.6h1M181.5 73.9h1M181.8 89.4h1M177.8 89.5h1M180 58.6h1M181.4 78.3h1M183.9 85.5h1M181.3 84.1h1M185.6 75.5h1M180.6 73.3h1M182.5 75.7h1M179.7 69.1h1M178 75.5h1M180.9 89h1M181.9 66.4h1M181.4 70.3h1M180.9 70.2h1M179.5 88h1M178.2 62.2h1M179.8 70.2h1M181.9 83.2h1M183.1 68.3h1M170.1 87.5h1M182.1 74.3h1M184.1 56.1h1M183.9 67.2h1M181.8 58.1h1M182.3 70.2h1M179.4 67.1h1M180.3 66.1h1M182.2 86.4h1M176.9 89.2h1M178.3 83.4h1M181.1 83.8h1M176.1 89.1h1M180.7 90.1h1M176 59.2h1M181.2 89.2h1M180.6 58.7h1M179 63.3h1M177.7 84.8h1M178.9 57.9h1M172.5 92h1M179.2 90.7h1M181 52h1M183.8 78.4h1M178.8 90.4h1M180.1 74.4h1M184.2 74.3h1M185.1 76.4h1M179.3 75h1M183.3 76.1h1M183.8 80.2h1M182.4 91.7h1M177.2 55.4h1M177.8 61.7h1M182.7 52.2h1M188.6 54.8h1M180 60.4h1M185.8 89.4h1M185.8 65.1h1M177.3 76.9h1M178.9 65h1M183.5 60h1M182 68.4h1M180.5 67.3h1M182.4 60.9h1M178.4 55.1h1M187.2 68.2h1M177.1 60.4h1M174 53h1M181 88.8h1M184.5 66.2h1M178.7 52.5h1M180.4 77.6h1M177.9 71.8h1M180.3 80.6h1M177.8 66.9h1M177.3 57.8h1M176.6 78.5h1M179.1 68.5h1M186.6 88.4h1M180.4 65.6h1M181.1 61.2h1M187.4 59.7h1M178.7 62.6h1M177.6 61.9h1M181.9 73.7h1M177.3 67.4h1M181.7 92.2h1M184 60.5h1M176.8 91h1M179.1 65.9h1M185 72.1h1M176.7 91.8h1M178.5 84.4h1M181.4 91.3h1M179.7 74.4h1M178.2 65.2h1M184.9 80h1M178.9 80.4h1M181.7 53.7h1M179.2 56.4h1M179.7 91.3h1M176.7 81.9h1M183.4 86.2h1M179.2 59.8h1M185.2 92.4h1M177.3 64.5h1M179 57.8h1M181.8 66.9h1M180.8 66.6h1M178.2 54.4h1M180.1 87.1h1M176.3 88.1h1M180.7 60.2h1M173.6 74.9h1M181.1 88.1h1M184.2 67.7h1M182.9 73.1h1M183 62.1h1M179.5 71.4h1M181.9 65h1M179.3 86.2h1M180.3 58.6h1M180.2 53.4h1M169.3 89.4h1M183.4 59.1h1M181.7 74.8h1M182.9 81.4h1M177.9 65.6h1M182.9 90.6h1M181.9 66h1M173.8 60.2h1M174.4 54.7h1M180.7 89.3h1M178.6 61h1M180.5 89.2h1M178.9 70.9h1M185.7 90.7h1M174.1 55.6h1M176.2 87.5h1M176.9 92.6h1M176.7 81.5h1M178.7 57.5h1M176.5 85.3h1M181.6 60.7h1M185.3 92.3h1M184.3 55.6h1M187 57.4h1M184.7 52.6h1M180.5 76.6h1M185.3 68.8h1M182.9 55.6h1M185.4 72.5h1M179.9 88.6h1M173.4 55.8h1M177.4 78.5h1M181.1 59h1M182 73.2h1M180 66.2h1M183.4 63.4h1M176.3 52.5h1M178.7 76h1M183.2 70.4h1M180.7 80.7h1M180.9 59.7h1M185.8 92.8h1M184.6 52.8h1M178.2 60.1h1M181.1 78.6h1M175.1 57.6h1M180.5 62.8h1M181.6 72.8h1M175.5 83.4h1M185.6 87.9h1M186.1 65.1h1M181.9 79.3h1M184 53h1M185.6 89h1M180.1 79.9h1M184.1 89.4h1M181.7 60.7h1M176.6 72.6h1M178 82.9h1M178.5 53h1M184 86.9h1M180.9 81.4h1M183.5 84.7h1M179.1 58.7h1M176.8 84.2h1M186 75.5h1M189.2 58.2h1M181.8 57.5h1M180 87.6h1M183.7 68.5h1M177.5 63.3h1M180 67.3h1M176.6 80.4h1M182.2 57.7h1M181.4 58.7h1M179.5 79h1M178.4 89.1h1M176.4 79.9h1M177.7 91.2h1M184.1 63.7h1M179.7 66.7h1M184 67.5h1M178.3 66.9h1M180.4 63.2h1M179.2 84.9h1M179.9 63.8h1M182.6 69.3h1M175.3 71.6h1M182.5 65.7h1M180.6 80.7h1M180.8 65.6h1M179.9 85.2h1M182.4 68.1h1M180.8 52.9h1M178.4 73.7h1M181 66h1M183.3 63h1M181.6 64.1h1M180.7 52.1h1M181.2 82.3h1M179.3 74.7h1M179.4 78.4h1M175.7 75.6h1M180.1 67.8h1M183.2 71h1M179.6 71.8h1M177.5 90.1h1M183 66.5h1M181.1 58.3h1M181.1 55.5h1M181.9 66h1M182.4 75.8h1M180.5 76.2h1M178.2 82.2h1M185.3 79.4h1M180.8 55.5h1M178.6 68.2h1M181.1 67.4h1M184.5 56.7h1M176.9 76.4h1M184.5 84.1h1M180.1 53.8h1M185.8 74h1M182.8 57h1M180.3 84.2h1M183.9 75.2h1M185 54.7h1M179.7 73.4h1M181.3 62h1M179.1 60.6h1M183.1 79.7h1M176.9 68.8h1M180 90.5h1M173.4 90h1M182.5 87.4h1M174.8 69h1M177.1 89.5h1M181.5 55h1M179.6 84.2h1M179.4 66.9h1M177.5 87.9h1M178.9 53.2h1M176 75.9h1M181.7 54.9h1M182.8 64.2h1M182.6 75.4h1M180.5 57.8h1M184 80.8h1M181.8 73.3h1M183.4 61.3h1M181.6 74.3h1M180.7 70.5h1M177.9 53.4h1M173.3 81.4h1M182.4 81.7h1M180.2 89.8h1M187.5 91.1h1M175.4 67.4h1M182.9 78.7h1M178.1 77.2h1M180.6 54.2h1M178.1 82h1M181.6 63.3h1M180.5 69.6h1M182.9 77.8h1M181 72.9h1M182 63.6h1M184.7 88.2h1M182.3 55.9h1M180.3 77h1M184.4 59.7h1M180.2 90.4h1M182 90.9h1M179.7 81.6h1M178.5 88.7h1M171.9 83.8h1M182.5 79.1h1M177.3 83h1M183.1 89.8h1M185.9 61h1M176.9 82.3h1M183.3 59.4h1M180.4 71.1h1M181.8 66.1h1M177.4 78.3h1M180.7 78.5h1M181.1 89.4h1M185.1 86.8h1M188 54.7h1M181.6 59.2h1M179.3 53.9h1M186.8 81.5h1M180.3 66.4h1M180.4 92.5h1M180.9 60.9h1M182.3 91.7h1M182.7 83.4h1M179 83.6h1M180.3 77.2h1M186.8 88.7h1M185.3 61.7h1M182.1 88.1h1M181.5 88.6h1M180 77.2h1M183.4 79.4h1M179.1 61.5h1M181 72.4h1M179.4 76.4h1M178.9 65.1h1M180.8 53.8h1M180.7 91.4h1M178.9 85.4h1M180.5 67.2h1M180.8 74.1h1M179.4 76.5h1M178.3 91.8h1M180.3 75.2h1M182.6 82h1M184 85.3h1M181.3 56.2h1M179.9 76.1h1M180.6 90.6h1M186.5 86.2h1M183.8 90.3h1M177.7 58.7h1M180.5 84.3h1M179.2 63.6h1M179.5 88.3h1M175.7 84.5h1M180.7 67.6h1M177.1 76h1M179.1 71.5h1M185.9 91.1h1M183.2 75h1M177.7 55.2h1M178 74.2h1M177.4 52.8h1M174.7 57.6h1M178.1 72.4h1M180 71.2h1M177.1 54.9h1M182.7 66.1h1M180.5 63.9h1M179.2 63.9h1M185.2 70.4h1M183.2 53.4h1M180.9 53.4h1M186 61.8h1M184.3 81.7h1M178.2 90.9h1M181.6 83.3h1M179.2 55.2h1M176.3 86.2h1M186.4 86h1M185.3 87h1M177.1 82.2h1M182.1 62.8h1M176.4 72.5h1M183.4 70.3h1M180.5 53.4h1M179.9 74.4h1M184.2 63h1M180.7 91.5h1M180 79.7h1M183.4 85.6h1M179.6 53.3h1M183.1 81.5h1M180.7 85.3h1M182.8 71.2h1M182.5 62.5h1M182.7 72.2h1M178 74.8h1M185.5 70h1M180.2 65.2h1M185.4 79.8h1M178.7 89h1M179.9 63.1h1M179.8 88.6h1M184.7 54.3h1M179.5 80.6h1M181.8 66.3h1M176.6 73.8h1M179.4 66.7h1M181.4 55.3h1M180.3 58.9h1M182 69.3h1M177.3 91.4h1M185.7 73.6h1M180 89.3h1M186.5 70.5h1M181.8 71.8h1M179.3 62.7h1M180.3 59.3h1M182.2 55h1M174.2 56.6h1M183.4 80.3h1M177.5 67.1h1M179.8 88.3h1M172.4 60.2h1M182.3 90.8h1M182.9 59.9h1M181.5 63.2h1M181.5 66.1h1M179.6 62.9h1M181.1 69.2h1M184.3 85.3h1M179.2 55h1M182.1 62.1h1M183.2 54.2h1M180 84.2h1M181.4 57h1M181.2 73.1h1M179.1 88h1M187.4 65.1h1M179.2 56.8h1M185.6 63.1h1M184.4 91h1M173.8 55.9h1M181.5 87.9h1M184.1 57h1M183.2 58.8h1M178 84h1M181.4 78.5h1M177.3 65.3h1M177.7 81.1h1M179.9 58.1h1M181.3 88.6h1M184.9 75.9h1M181.9 91.3h1M183.5 76.7h1M177.5 75.7h1M176.9 87.6h1M179.4 76.2h1M186.7 55.6h1M177.1 77.4h1M176.2 64.2h1M180.4 78.5h1M176.3 77.3h1M179.9 86.6h1M177 66.7h1M186.1 52.5h1M183.1 53.9h1M181.7 52.8h1M180.5 61h1M180 63.2h1M181 65.3h1M178.9 79.2h1M178.1 83.1h1M177.4 83.9h1M180.7 83.2h1M178.1 87.5h1M183.1 81.9h1M175.1 71.1h1M182.1 69.1h1M182.5 55.4h1M185.2 52.6h1M179.8 87.6h1M175.8 58.2h1M177.6 87.9h1M183.7 68.6h1M179.6 54.5h1M179.3 86.4h1M179 81.6h1M180 74.5h1M175.2 90.6h1M179.1 73h1M183.5 62.9h1M184.5 68.6h1M180.3 79.4h1M178.9 88.9h1M184.8 85.9h1M180 90.6h1M177.5 74.3h1M180.3 71.1h1M182.5 73.8h1M186.1 90.7h1M179.3 67.2h1M182.5 54.5h1M179.7 68.3h1M183.7 79h1M181.4 86.6h1M181.6 91.1h1M177.9 80.5h1M179.6 85.8h1M179.6 85.7h1M169.5 85.6h1M182.9 76.9h1M180.6 91.2h1M179.9 89h1M179.3 52.3h1M180.7 57h1M177 79.7h1M181 57.8h1M181 89.8h1M180.7 55.7h1M176.7 74.3h1M180.2 68.1h1M177 64h1M181.7 61.9h1M185.1 55.6h1M183 67.7h1M179.5 56.2h1M179.2 77.9h1M179.1 65.3h1M181.7 83.8h1M178.3 90.9h1M178.8 88.8h1M173.4 82.7h1M178.1 84.4h1M178 55.8h1M178.6 92.3h1M183.8 75.9h1M177 74.5h1M176.9 80h1M182.5 59.8h1M178 71.5h1M180.1 57.1h1M181.2 90.1h1M180.7 72.7h1M178.1 57.5h1M184 92.2h1M184.6 76.1h1M177.7 83.3h1M179.8 85.3h1M183.3 80.9h1M180.1 70.4h1M177.8 63.6h1M179.1 54.1h1M182.9 77.9h1M177.3 56.6h1M181.3 67.3h1M181.9 88.9h1M178.4 89.5h1M182.4 86.1h1M182.7 60h1M184.2 91.1h1M183.6 57.8h1M175.5 90.1h1M183.2 83.1h1M182.8 92.3h1M184.3 92.8h1M178.4 73.8h1M183.1 65h1M181.9 90.1h1M177.4 65h1M184.1 65.8h1M178.6 75.6h1M177.3 57.9h1M181.7 70.9h1M178.7 57.7h1M181.6 70.8h1M179.8 89.7h1M181.6 90.2h1M183.6 91.8h1M180.5 82.1h1M183.1 83h1M182.9 69.7h1M177.8 89.1h1M183.4 57.6h1M182.6 58.9h1M181.1 56.9h1M183.6 68.9h1M186.5 54.5h1M182.8 81.2h1M176.1 59.6h1M181.9 80.6h1M180.3 75.4h1M179.9 80.7h1M181.6 81.2h1M179.7 84.6h1M184.9 71.9h1M181.4 75.7h1M180.7 62.4h1M182.7 72.8h1M183.4 55.7h1M184.9 91.6h1M182.9 90.6h1M180.5 55.1h1M181.2 52.4h1M174.9 68.4h1M176.8 73.9h1M183.4 71.9h1M179.7 66h1M185.5 77.8h1M185.4 68.6h1M177.3 68.8h1M181.8 53.3h1M188.3 76.6h1M177.9 55.4h1M181.9 87.6h1M180 71.8h1M180 66.7h1M179.9 79.4h1M180.6 88.7h1M183 59h1M178.5 68.7h1M182.5 92.4h1M178.4 87.9h1M182 68.2h1M181.5 67h1M178.3 85.9h1M181.1 55.5h1M178.2 56.9h1M178.4 75.7h1M183.7 75.6h1M175.8 75.6h1M182.3 83.8h1M183 88.6h1M179.1 68.6h1M183.7 65.5h1M183.6 87.3h1M176.9 62.2h1M182.4 88.3h1M182 81.3h1M178.3 87.1h1M182.2 78.4h1M183.2 56.4h1M178.6 81.7h1M175.4 72.6h1M181.9 59.6h1M178.2 56.2h1M175.7 62.9h1M179.4 57.2h1M172.9 57.6h1M179.6 87h1M186 91.5h1M181.9 75.2h1M178.2 75.5h1M179.2 54.5h1M177.6 56.9h1M182.5 84h1M180.6 75.7h1M178.6 75.5h1M176.8 83.3h1M179.3 85.7h1M183.9 81.5h1M176.1 52.4h1M181.7 74.6h1M181.7 86.7h1M174.4 86h1M184.6 91.4h1M180.5 73.6h1M186.5 73.7h1M187.1 53h1M180 73.3h1M180.2 75.4h1M177.2 90.1h1M176.1 88.7h1M183.5 54.6h1M179.8 57.9h1M179.6 67.9h1M180.1 84.4h1M182.8 58.9h1M183.5 84.1h1M180.7 76.6h1M180 88.4h1M180.9 66.2h1M186.2 68.7h1M173.3 54.5h1M177.6 73.5h1M182.1 84.1h1M181 73.3h1M183.9 73.6h1M185.2 90h1M186.5 83.8h1M178.4 65h1M182.9 91.2h1M180 82.1h1M183.4 64.5h1M181.2 60.8h1M183.1 80h1M178.7 73h1M181.1 76.9h1M179 57.4h1M179.9 83.8h1M179.2 87.7h1M177.9 69.4h1M183.8 64.6h1M181.8 92.5h1M184.7 92.5h1M177.4 57.2h1M175.5 74.4h1M178.9 70.1h1M180.2 63.6h1M182.8 73.5h1M183.6 79.7h1M184 67.2h1M185 64.8h1M183.1 87.8h1M181 79.3h1M178.5 64.7h1M182.9 58.5h1M179.3 68h1M177.8 91h1M182.5 86.5h1M181.3 60.7h1M183 77.2h1M178 52.2h1M184.7 89.6h1M182 91.1h1M180.2 61h1M178.6 66.2h1M177.6 64.5h1M176.4 59.7h1M184.6 80.4h1M176.8 67.6h1M183.1 52.2h1M179.9 61.1h1M179.1 79.4h1M179.3 81.1h1M180.3 52.7h1M183.1 74.8h1M182.2 78.5h1M180.7 78.4h1M176.9 79h1M175.3 84.4h1M185.9 65.9h1M177.4 87.3h1M176.5 70.3h1M184.7 54.5h1M176.5 79h1M182.7 66.2h1M183.2 78.4h1M181.3 67.5h1M183.2 72.7h1M177 75h1M177.2 81.4h1M180.1 64.3h1M180.7 79.8h1M180.4 61.7h1M182.1 84.8h1M178.5 61.6h1M173.2 55h1M182.2 53.6h1M180 76.8h1M182.9 65.4h1M186.2 75.8h1M180.9 64.9h1M182.2 70.2h1M177.7 88.1h1M183.9 90.3h1M181.9 53.8h1M181.6 91.4h1M183.1 73h1M177.4 82.7h1M182.7 90.6h1M182.1 59.8h1M185 67.9h1M174.6 88.8h1M180.4 73.6h1M188.1 89.2h1M179.4 86.8h1M185.6 79.4h1M189.6 54.8h1M181.1 89.5h1M178.4 59.7h1M178.8 58.5h1M179.6 67.3h1M178.1 60.6h1M178 57.8h1M181.1 78.5h1M180.8 89.8h1M182.1 62.9h1M180.7 67.5h1M177.3 78.6h1M182.8 64.4h1M181.3 72.5h1M178.7 89.9h1M179.8 56.9h1M181.5 74.2h1M180.9 60.8h1M180.3 84.1h1M183 60.6h1M184 85.6h1M179.8 68.7h1M180.6 90.6h1M177.6 67.1h1M180.2 72.5h1M182.3 56.4h1M183.2 63.5h1M181.1 69.2h1M180.4 89.1h1M178.7 76.3h1M181.3 85.6h1M177.1 87.4h1M181.1 55.7h1M180.7 65.1h1M177.8 86.5h1M181.6 83.4h1M180.1 75.4h1M182.3 68.8h1M179.4 72.7h1M182.5 52.6h1M185.8 57.3h1M181.1 66.8h1M183.2 57.8h1M178.7 61.6h1M179.6 85.5h1M175 83.9h1M180.2 82.3h1M177.6 75.5h1M181.1 90.3h1M174.5 61.5h1M178.3 77.7h1M180.9 69.5h1M182.1 91.1h1M176.1 66.3h1M179.4 61.9h1M188.3 83.9h1M183.1 85.6h1M181.1 81.8h1M172.3 84.5h1M177.8 60h1M182 77.1h1M181.3 74.3h1M182.2 89.7h1M183.2 68.5h1M180.9 62.2h1M183 64.8h1M175.9 73.3h1M190.1 92.8h1M179.8 81h1M178.8 81.9h1M184.6 71.4h1M182.3 68.5h1M184.1 90.7h1M179 70.7h1M181.6 57.2h1M182.8 84.4h1M177.2 60.4h1M180 68.2h1M180 77.4h1M179.7 86.5h1M178 52.3h1M177.2 79.1h1M182 57.7h1M181.3 78.2h1M183.7 77.1h1M180.5 73.4h1M178.8 69.7h1M176.8 74.4h1M181 91.7h1M179.8 66.6h1M186 71.6h1M188.1 58.1h1M184.9 68.1h1M177.4 54.1h1M175.8 89.7h1M180 66.3h1M177.5 90.9h1M185.3 57.6h1M181 79.5h1M179.5 77h1M180.6 79.4h1M184.5 85h1M177.3 55.1h1M182.1 82.7h1M175.7 53.1h1M180 64.5h1M178.5 87.2h1M181.5 75.7h1M181.2 90.6h1M184.5 87.8h1M182.5 69.6h1M178.9 63.7h1M176.6 60.5h1M177.7 53.8h1M179.4 81.7h1M179.9 85.5h1M177.9 54h1M183.5 72.4h1M183.6 86.5h1M179.9 78.5h1M179.3 69.3h1M179.8 91.4h1M180.5 69.5h1M180.6 65h1M176.3 72.6h1M179.4 66.4h1M175.6 68.3h1M180.7 72.6h1M183 55.2h1M177.8 77h1M181.1 76.2h1M178.9 81.5h1M178.6 62.1h1M187.8 53.7h1M183.2 81.4h1M181.9 67.3h1M179.4 76.8h1M181.8 63.2h1M180.1 66.5h1M181.9 62.9h1M178.2 72.4h1M180.4 78.9h1M179.4 61.8h1M176.7 65.1h1M185.1 71.2h1M182.9 80.9h1M178.5 67.3h1M175.4 54.6h1M178.7 73.5h1M178.4 70.8h1M176.6 76.1h1M177.6 53.9h1M180.8 78.7h1M182 55.4h1M175.2 67.5h1M180.6 53.5h1M177.9 76.9h1M177.3 59.2h1M179.5 91.2h1M178.5 60h1M183.2 92.2h1M183 89.9h1M179.8 73.5h1M178.9 71.3h1M185.5 68.1h1M186.1 83.1h1M181.8 59.8h1M180.2 66.7h1M184.2 54.4h1M184.5 69.7h1M179 59.9h1M186.9 90.2h1M180.2 70.7h1M183.9 61.2h1M179.1 63.4h1M180.8 59.4h1M179 55.7h1M180.7 54.2h1M183.5 81.7h1M177.6 56.4h1M179.6 86.9h1M182.6 92.2h1M179 89.9h1M187 59.3h1M176.1 84.9h1M187.5 76.8h1M178.2 91.2h1M183.4 64.2h1M185 77.1h1M182.1 77.6h1M176.2 59.9h1M179.7 76.9h1M180.8 82.1h1M182.4 85.5h1M183.8 87.5h1M184.8 53.1h1M185 83.5h1M177.9 65.5h1M183.6 83.8h1M174.9 58.3h1M181 67.6h1M177.7 68.9h1M175.5 80.9h1M183.1 77.6h1M180.5 85.8h1M184.4 52.3h1M176 63.8h1M177 82.5h1M180.3 61.9h1M178.4 87h1M180.8 64.9h1M178.9 79.7h1M179.4 54.3h1M176.6 90h1M185 56.7h1M179.7 69.1h1M177.4 68.2h1M182.6 64.6h1M181.9 74.2h1M181.2 73.8h1M181.3 85h1M179.1 92.3h1M180.2 85.2h1M174.1 82h1M175.7 60.2h1M176.8 60.8h1M181.7 52.5h1M184.9 55.9h1M180.1 84.5h1M179.6 54.4h1M183.9 63.2h1M179.6 67.9h1M182.7 58.5h1M181.8 66.1h1M176.7 62.5h1M181.5 69h1M181.3 59.4h1M176.3 53.1h1M177 89.7h1M176.8 82.8h1M184.8 84h1M186.9 62.6h1M183.2 91h1M185.7 86.6h1M176.9 68.9h1M184.7 64h1M186.7 84.9h1M186.7 52.9h1M178.1 75.8h1M184.2 88h1M180.2 89.9h1M184.4 90.4h1M178.9 69.8h1M180.7 52.7h1M179 66.5h1M182 63.2h1M180.3 76h1M183.9 82.1h1M183.7 92.7h1M181.8 65.2h1M180.5 67.1h1M179.5 55.6h1M180.6 86.6h1M182.6 72.7h1M181 61.7h1M181.4 72.9h1M180.5 72.1h1M180.4 85.9h1M178.6 61.5h1M175.6 73h1M182.2 70.5h1M182.5 56.2h1M177.4 57.7h1M187.4 52.3h1M175.5 55.7h1M183.9 54.7h1M181 57.4h1M181.2 58.1h1M183.6 61.5h1M180.1 63.2h1M175.9 53.3h1M175.3 62.3h1M180.8 61.5h1M186.2 60.6h1M183.4 62.8h1M179.9 52.1h1M181.3 59.6h1M182.7 53.4h1M186.7 65.5h1M177.1 53.5h1M182.8 52.6h1M181.1 61h1M177.1 59.2h1M176.1 57.1h1M185 57.5h1M181.3 59.2h1M179.2 63.2h1M180.4 54.5h1M183.8 55h1M180.4 54.9h1M186.3 56.7h1M179 57.1h1M177 52.4h1M179.6 58.1h1M176.4 52.5h1M178.7 55.9h1M184.8 56.1h1M186.7 56.1h1M182.5 62.3h1M180.8 62.9h1M176.5 60.9h1M176.1 62.7h1M181.5 56h1M180.7 62.1h1M177.8 56.8h1M178.3 57.8h1M186.1 58h1M183.9 52.2h1M180.2 54.8h1M180.9 56.4h1M185 58.3h1M181.4 56.6h1M180.9 53.9h1M173.9 52.8h1M173.5 57h1M172.6 52.8h1M171.2 52.8h1M180 56.6h1M181.3 57.6h1M176.6 54h1M181.7 50.6h1M181.7 58h1M179.7 59.9h1M174.3 55.5h1M185.6 55.7h1M177.8 60.2h1M187.6 53.1h1M180.2 59.6h1M177 54.9h1M178.4 56.5h1M172.8 56.3h1M178.7 50.5h1M173.8 66.9h1M184.4 51.4h1M181.3 57.4h1M174.6 54.1h1M182.3 56.1h1M173.3 62h1M180.6 50.3h1M181.9 56.5h1M180.3 58.8h1M175.6 57.4h1M179.6 58.4h1M179.3 54.3h1M180.3 51.1h1M185.8 52.3h1M186.6 55.5h1M186.2 59.7h1M177.5 57.3h1M177.1 62.8h1M180.1 57.4h1M181.7 57.7h1M172 57.7h1M177.6 50.8h1M187 59.1h1M175.2 53h1M177.1 55.6h1M177.3 65.4h1M181.9 52.6h1M179.8 57.4h1M178.7 58.1h1M174.1 57.5h1M182.4 57h1M180 55h1M177.4 64.2h1M180.1 49.8h1M183.1 53.3h1M174.2 62.3h1M174 59h1M176 54.2h1M176.6 53.8h1M168.1 56.1h1M177.7 66.5h1M184.3 58.8h1M178.7 53.3h1M184 57.9h1M168.8 54.7h1M179.6 62.4h1M185.4 58.1h1M186.1 61.5h1M178.1 57.6h1M176.8 64.3h1M181.5 58.5h1M175.2 58h1M178.6 53.3h1M173.5 55.5h1M180.3 58.4h1M180 55.2h1M186.4 66h1M181.4 57h1M177.4 54.3h1M179.6 60.6h1M175 55.1h1M180.1 58.5h1M179.2 56.7h1M181.6 54.4h1M183.6 62h1M172.2 57.3h1M181.3 60.9h1M182.9 55.8h1M175.3 51.9h1M187.4 52.5h1M177.2 55.1h1M189.6 56.3h1M183.1 57.2h1M183.8 58.8h1M181.1 52.5h1M183.9 57.8h1M176 52.6h1M176.8 54.5h1M172.3 66.2h1M182.1 61.6h1M177.2 55.7h1M182.9 63.5h1M182.3 62.1h1M174.8 60.2h1M182.7 62.3h1M181 56.1h1M180.8 56.6h1M181.8 53.9h1M179.9 59.1h1M180 52.5h1M184.1 55.2h1M176.1 58.7h1M175.3 55.2h1M177 58.2h1M184 63.6h1M178.7 53.5h1M187.5 62.1h1M168 54.5h1M177.2 53.6h1M178.3 57.8h1M181.1 60.7h1M185.2 54.4h1M179.3 54.4h1M176 55.4h1M183.3 54.4h1M186.1 57.7h1M170 54.4h1M182.3 56.1h1M181.2 58.3h1M176.7 55.5h1M178.1 61.2h1M181.1 54.6h1M180.1 54.2h1M179 64.3h1M175.4 62.4h1M181.1 57.3h1M177.4 60h1M180.3 58.2h1M177.7 55.2h1M180.8 59.4h1M182.9 58.1h1M180.9 61.6h1M182.6 50.4h1M174.6 59.9h1M181.8 57.6h1M181.1 54.5h1M177.5 55.5h1M179.4 55.5h1M169.1 52.2h1M180.3 54.9h1M178.4 59.8h1M171.1 51.5h1M182 55.6h1M181.1 54.9h1M179.1 58.4h1M181.9 56.8h1M180.3 57.2h1M178.9 53h1M181.9 59.1h1M183.2 53.7h1M171.1 60.3h1M180.1 57.8h1M177.7 55.6h1M175.7 62.3h1M185.1 55.6h1M183.7 60.7h1M175.9 57.4h1M175.6 57h1M183.2 60.6h1M177.5 58.6h1M178.7 57h1M172.3 56.6h1M179.4 57.8h1M184.4 57.3h1M178.2 55.8h1M179.5 53.3h1M183.4 56.6h1M185.5 56.1h1M182.4 61.4h1M184.7 58.6h1M173.5 61.1h1M176.8 63.3h1M173.5 56.6h1M188.6 54h1M180.7 59.9h1M179.5 54.9h1M177 56.1h1M176 62.2h1M169 59h1M188.7 61h1M179.6 52.1h1M180.2 57.1h1M174.5 61h1M179.7 52.4h1M181.4 57.7h1M179.7 58.5h1M176.7 62.8h1M181.2 54.4h1M183.5 56.5h1M182.2 63.1h1M181.5 50.6h1M179.6 58.7h1M176.1 55.4h1M182.1 57.2h1M178.4 54.1h1M176.3 61.9h1M183 53h1M173.7 58.3h1M177.8 59h1M183 56.7h1M183.7 56h1M178.5 56.1h1M180.2 60.7h1M182.1 58.6h1M179.7 56.7h1M177 53.1h1M181.7 57.6h1M180.6 58.9h1M180.4 56.9h1M184.3 62.2h1M181.2 50.1h1M178.2 66h1M180.6 56.4h1M187.5 52.9h1M177.2 50.7h1M178.9 60.1h1M176.8 59.1h1M181.3 56.2h1M175 56.8h1M181.7 57.6h1M182.9 55.5h1M176.9 61.2h1M176.7 59.3h1M174.2 56.6h1M180.1 51.1h1M175.6 62h1M177.5 55.3h1M178.3 53.3h1M177.3 61.7h1M183.2 58.8h1M186.2 49.8h1M171.7 51h1M176.8 55.6h1M180.9 52.5h1M175.9 56.5h1M177.9 66.4h1M180.8 67.8h1M185.4 56.9h1M184.6 59.9h1M178.8 60.2h1M180.5 56.6h1M178.6 51.7h1M179.3 60.9h1M175.4 56.4h1M173.1 58.7h1M178.5 59.6h1M183.8 54.1h1M183 63.1h1M172.7 57.3h1M179.2 57.8h1M177.5 55.5h1M181.1 59.6h1M175.7 60.7h1M183.5 55h1M179.2 59.1h1M182.2 55.5h1M183.4 52.6h1M172.4 55.8h1M179.1 59.2h1M185.9 59h1M180.1 60.9h1M184 54.6h1M181.6 55.9h1M178 57.3h1M181.1 59.3h1M184.1 56.6h1M185 53.6h1M185.6 51.4h1M175.7 61.3h1M183.2 60.9h1M174.6 54.6h1M179.5 62.4h1M179.2 56.8h1M182.4 58.7h1M181.2 61.6h1M184.8 55.3h1M177.6 54.2h1M183.3 50.8h1M181.5 58.1h1M180 58.7h1M175.3 60.2h1M182.2 59.2h1M181.2 57.4h1M183.1 61.2h1M179.8 53.3h1M179 58.5h1M181.5 58.9h1M181.8 56.6h1M182.7 63.3h1M187.4 58.6h1M177.6 61.9h1M187.8 60.3h1M168.5 56.4h1M183.7 64h1M176.8 61.1h1M187.8 57.1h1M176.5 56.6h1M184.1 53.3h1M176.1 56.5h1M175.6 56.2h1M183.1 57.8h1M183.4 55.5h1M177.3 59.1h1M189.3 56.8h1M178.7 51.3h1M186.1 55.2h1M176 53.8h1M176.2 52.5h1M180.3 56.1h1M176 60.4h1M181.8 53h1M171.6 49.8h1M180.7 56.5h1M177.8 67.9h1M176.3 54.9h1M180.8 58h1M179.1 55.6h1M178.2 60.2h1M183.1 62.3h1M181.1 56.5h1M181.5 61.3h1M185.2 53.2h1M179.7 57.8h1M183.2 52.5h1M178.4 57.7h1M182.4 54.9h1M182 57.9h1M177.9 53h1M174.1 57.9h1M175 57.5h1M176.3 55h1M182.1 54.2h1M179.5 52.8h1M178.8 55.6h1M181.8 58.5h1M182.8 56.6h1M185.4 57.6h1M177.7 61.7h1M182.1 55.9h1M182.7 58.1h1M176.3 60.1h1M180.5 58.9h1M176.4 58.5h1M179.1 57.4h1M181.6 64.1h1M173.4 56.8h1M176.6 55.7h1M176.9 59.2h1M180.4 63h1M177.1 62.2h1M181.4 57.2h1M176.7 60.1h1M178 58.9h1M182.3 57.4h1M181.2 59.4h1M180.6 59.3h1M179.8 57.6h1M183.9 63.3h1M185.3 55.7h1M178.6 62.1h1M177.2 64.7h1M176 64.7h1M186.7 58.1h1M176.5 56.4h1M174.9 51.3h1M181 56.9h1M184.1 65.9h1M175.2 51.4h1M179.5 51.5h1M174.4 60.1h1M177.3 59.3h1M186.3 50.5h1M180.6 56.9h1M179 58.3h1M180.3 51.6h1M181.1 60.6h1M179.6 52.3h1M175.4 61.2h1M175.4 57.8h1M187.8 54.6h1M177 51.3h1M184.6 55.9h1M177.2 56.7h1M185 56.6h1M182.7 54.9h1M179.2 56.3h1M187.8 60.2h1M176.4 53.8h1M179.1 56.3h1M176.7 58.7h1M177 57h1M178.6 60.2h1M176.3 62.7h1M178.7 55.8h1M186.1 57.9h1M175.1 55.8h1M176.3 59.5h1M178.2 53h1M183.9 61.9h1M182.8 50.3h1M181.8 62h1M180.8 55.2h1M189.3 53.4h1M175.6 55.3h1M175.5 56.1h1M179.9 53.4h1M180.8 52.1h1M179.1 55.2h1M176.7 60.5h1M174.9 58.5h1M178.9 61.9h1M177.3 54.9h1M178.1 55.8h1M175.8 55.9h1M185.2 57.6h1M181.7 58.7h1M187.2 63.4h1M178 59.6h1M180.2 57.7h1M179 62h1M180.1 54.2h1M179 52.3h1M179.4 59.5h1M172.4 57.7h1M178.9 57.5h1M182.7 60.4h1M172.4 55.8h1M178.6 56.7h1M182.2 58.4h1M184.9 59.4h1M179.7 60.6h1M181.8 57.5h1M186.8 58h1M178.2 61.5h1M177.7 51.4h1M183.9 56.9h1M180.9 66.2h1M177.9 55.9h1M179.1 51.3h1M181.2 62.9h1M179.2 55h1M179 56.5h1M179.1 56.4h1M174.2 59.7h1M186.7 59.8h1M184.7 56.6h1M185.9 61.1h1M179.5 53.8h1M180.5 59.5h1M182.2 54.8h1M183.2 59.6h1M172.9 54.6h1M181.4 55.5h1M176.1 62.4h1M179.7 53h1M177.4 52.8h1M186.6 59.1h1M182.1 56.1h1M179.9 55.5h1M185.4 56.5h1M179.7 64.7h1M177.2 53.3h1M179.3 56.1h1M178.6 57.6h1M180.2 53.6h1M183.3 56.9h1M179.5 58.8h1M179.7 53.7h1M183.9 61.1h1M181.1 52.9h1M183.7 56.5h1M180.5 58.2h1M175 68.5h1M175.7 50.7h1M173.6 58h1M184.4 66.1h1M181.6 54.9h1M178.2 60.9h1M176.2 57.8h1M181.4 51.9h1M179.5 58.4h1M181.2 53.8h1M176.7 57.3h1M175.7 51.6h1M186.1 59.6h1M179.9 56.4h1M185.2 61.6h1M172.9 58.9h1M182.7 55.8h1M180.3 56.2h1M179.4 55.5h1M181 66.8h1M175.4 56.8h1M171.4 57h1M187.3 54.4h1M178.9 55.3h1M183.4 59.2h1M184.3 54.8h1M181.1 54.1h1M181.8 55h1M182.8 55.7h1M186.1 57.6h1M181.9 55.3h1M184.9 56.3h1M178.9 54.3h1M178.4 61.5h1M180.3 57.3h1M181.5 55.9h1M182.1 58h1M187.5 56.8h1M183.2 51.4h1M180.3 56.4h1M187.7 62.9h1M181.3 58.8h1M181.4 61.2h1M181.9 54.6h1M178.7 51.6h1M175.8 54.5h1M180.5 61.9h1M178.8 53.4h1M176.7 54.1h1M180.5 61h1M179.2 56.1h1M177.7 56.3h1M173.2 58.4h1M179.4 57.3h1M186.8 55.9h1M183.4 57.9h1M184.2 54.4h1M179.9 56.8h1M184.1 59.4h1M177.4 53.2h1M178.2 56.2h1M182 52.9h1M174.5 59.7h1M180.2 59.2h1M181.2 60.4h1M186.5 60.7h1M177.3 60.7h1M181.6 59.6h1M177.5 54.2h1M177.9 60.4h1M169.6 53.7h1M176.4 65.4h1M184.4 58h1M182 59.1h1M180.6 52.6h1M189.5 60.9h1M182.1 61.2h1M175.2 51.3h1M179.2 55h1M179.8 55.3h1M186.2 54.7h1M176.5 62h1M181.6 64.8h1M183.8 53.2h1M176.9 60.8h1M180.4 56.1h1M172.3 61.9h1M171.5 55.4h1M178.5 61.4h1M186.7 54.3h1M181.6 61.3h1M180.2 55.2h1M180.6 61.1h1M188.3 59.1h1M182.2 55.5h1M184 54.2h1M178.3 56.4h1M178.3 61.2h1M176 57h1M179.3 54.6h1M177.3 69h1M183.8 51.3h1M182.5 56.2h1M179.6 58.9h1M177.9 53.2h1M168.9 56.9h1M177.7 55.5h1M181.2 51.7h1M182.6 58.6h1M168.1 52.9h1M170.8 54.3h1M180.6 61.4h1M176 53h1M179.2 59.2h1M178.2 61.2h1M182.3 60.6h1M172.9 58.7h1M177.8 56.1h1M183.7 51.9h1M180.8 57.5h1M176.8 58.6h1M181.8 55.1h1M181.1 53.4h1M176.6 60.1h1M182.7 53.2h1M182.6 58.6h1M179.5 55.2h1M183.6 50.9h1M175.5 62.8h1M183 59.2h1M179.3 58.9h1M176.4 51.9h1M177.7 56.5h1M184.5 58h1M177.9 54.3h1M178.7 62.9h1M177.5 49.7h1M177 59.5h1M183.7 50.1h1M188.6 51.3h1M185.2 52.3h1M182 59h1M182.9 54.3h1M178.7 54.5h1M178.1 53.6h1M175.5 51.6h1M185.6 53.7h1M178.7 53.3h1M177.3 55.7h1M177.6 55.5h1M177.9 54.5h1M180.1 61.2h1M180.7 55.1h1M185.2 56.6h1M175.2 54.2h1M181.2 54.3h1M177.3 56.5h1M178.4 51.9h1M186.3 56.2h1M182.4 50.8h1M178.5 58h1M181.9 51.1h1M180 59.1h1M184.3 60.4h1M178.2 50.9h1M181.9 59.1h1M179.2 55.2h1M180.1 60.9h1M179.4 54.8h1M177.6 55.7h1M180.4 55.6h1M183.8 61.2h1M177.7 49.7h1M178.5 59.4h1M181.5 57h1M177.1 54.9h1M183.4 55.8h1M182.8 60h1M171.2 59.6h1M177.5 62.7h1M175.9 54.3h1M183.2 49.8h1M183.6 54.6h1M175.4 55.9h1M177.4 55.1h1M179.7 61h1M178.6 64.8h1M182.8 58h1M183.8 50.2h1M182.3 60.4h1M184.2 54.3h1M183.6 56.8h1M179.8 59.7h1M178.4 57.9h1M177.2 56.4h1M183.2 57.7h1M183.5 59.4h1M183.9 58.9h1M178.8 64.1h1M181.1 53.8h1M184.9 54.5h1M181.4 59.6h1M180.9 57.4h1M176.9 59.7h1M181.8 51.5h1M182.1 55.8h1M176.4 58.9h1M186.8 56.4h1M176.5 55.2h1M183.6 57.6h1M179.3 62.5h1M180.7 49h1M177 62.3h1M177.9 57.6h1M182.7 53.5h1M179.3 59h1M178.7 56.8h1M183.5 61h1M182.8 53.7h1M180.7 60.1h1M180.9 53.3h1M186.7 57.8h1M179.4 59.1h1M181.5 56.3h1M181.7 58.9h1M174.7 54.5h1M172.6 60.4h1M180.5 54.8h1M183.4 54.1h1M180.8 56.2h1M178 56.4h1M177.5 53.6h1M183.2 59.5h1M178.9 56.2h1M173.9 58.8h1M182.7 51.2h1M181 51.9h1M181.5 55.7h1M184.1 53h1M185.1 56.1h1M182.2 58.6h1M179.4 60.6h1M171.9 61.9h1M181.2 59.4h1M179.5 54.1h1M185.1 58.6h1M185 54.7h1M181.9 58.6h1M185.3 52.8h1M179.8 61.5h1M179.9 58.1h1M176.8 55.6h1M178.9 51.7h1M180.9 57.6h1M184.1 54.7h1M177.2 57.5h1M183.1 54.1h1M189 54.7h1M174.9 58.9h1M179.1 61.9h1M180.1 52.1h1M183.9 55.9h1M187.7 58h1M184.8 56.1h1M179.9 55h1M176.8 64.4h1M179.8 53.6h1M179.9 57.9h1M181 54.9h1M176.6 56.3h1M177.3 59.8h1M182.7 55.9h1M180.9 53.2h1M175.8 62.6h1M180.3 55.6h1M180.1 54.4h1M179.3 53.6h1M183.1 60.5h1M178.2 56.7h1M189.8 55.5h1M184.4 51.9h1M176.5 53.4h1M170.5 57.9h1M184.9 56.6h1M181 49.4h1M180.4 53.5h1M176.3 57.5h1M174.5 66.3h1M172.9 53.9h1M186.2 59.4h1M177.9 54.9h1M187.3 51.9h1M172.9 58.7h1M182.7 55.8h1M182.8 53.2h1M176.7 51.9h1M178.3 56.2h1M176 56.9h1M180.2 50.2h1M185.1 60.2h1M183.9 52.1h1M181.6 61.7h1M184.3 57.8h1M173.1 56h1M187.8 57.8h1M179.8 54.5h1M179.9 49.5h1M185.9 49.9h1M178.1 50h1M183 49h1M177 49.7h1M180.1 49.9h1M183.5 48.3h1M175.9 50.4h1M181.3 49.4h1M172.6 50.1h1M176.1 49.5h1M178.7 49.4h1M183.2 49.5h1M182.7 49.7h1M176.9 50.1h1M179.7 49.4h1M180.8 48.9h1M174.7 49.1h1M181.6 49h1M184.9 50h1M184.5 49h1M178.1 50.5h1M178.7 49.6h1M176.9 49.5h1M178.4 50.3h1M179.3 49.3h1M182.5 49.4h1M180.4 50h1M176.9 50h1M183 48.9h1M183.2 51h1M178 49.9h1M179.3 48.8h1M179.8 49.4h1M174.4 50.1h1M180.6 49.7h1M182.5 50.1h1M187 51h1M180.8 50.1h1M179.2 50.8h1M166.3 76.1h1M158.9 79.8h1M170.9 72.5h1M158.7 65.7h1M167.8 84.9h1M157.9 64h1M158.7 79h1M161.6 86.4h1M164.8 71.3h1M169.9 69.2h1M163 80.3h1M173.1 78.3h1M167.5 75.2h1M159.1 92.3h1M159.3 91.3h1M163.1 84.9h1M159.8 79.5h1M162.2 77.6h1M167 86.7h1M164.2 78.3h1M168.1 91.2h1M158.9 89.4h1M158 75.6h1M155.1 85.8h1M153 91.9h1M160.3 85h1M163.1 73.1h1M161.7 78.1h1M162.8 77.6h1M174 81.1h1M156.8 80.4h1M161.3 77.6h1M160.1 86.7h1M157.8 90.4h1M170.2 76h1M162.6 69.2h1M169.7 83.1h1M156.6 80.3h1M173.1 83.5h1M175.3 75.2h1M158 82.5h1M162.8 73.5h1M162.1 88.5h1M155.7 73.4h1M165.4 60.9h1M166.8 76.7h1M159.6 76.5h1M150.4 81.9h1M159.1 80.6h1M160.7 84.2h1M159.5 76.3h1M156.5 77.7h1M166.3 83.7h1M164.9 66.6h1M166.9 86.4h1M163.1 75.8h1M168.7 69.7h1M165.7 74.2h1M153.1 84.3h1M164 86.8h1M167.1 89.9h1M163.1 83.8h1M170.9 75.1h1M160.4 84.7h1M166.7 80h1M162.9 65.2h1M157.4 86.4h1M155.7 83.7h1M164.1 79.9h1M165.3 76.4h1M159.4 73.4h1M156.1 69h1M167.1 87.7h1M156.3 85.7h1M169.2 83.4h1M153.7 66.3h1M164.4 78.6h1M166.6 81.6h1M169.6 89.4h1M160.6 73.2h1M158.7 82.8h1M155.1 78.9h1M167.9 81h1M162.2 74.9h1M160.4 83.5h1M160.6 81.4h1M164.3 66.7h1M163.1 89.9h1M151.1 74.2h1M167.6 89.4h1M160 73.4h1M162.5 76.8h1M162.5 82.3h1M167.1 92.2h1M164.2 83h1M155 88.4h1M162.6 79.6h1M162.4 91.6h1M163.2 86h1M162.5 76.6h1M168.6 78.1h1M157 73.8h1M174.9 85.4h1M159.9 84.8h1M157.3 75.7h1M167.3 87.8h1M168.9 76.6h1M171 87.1h1M163.3 75.6h1M165 73.5h1M163 67.3h1M160 85.8h1M171.8 72.6h1M173 91.1h1M163 82.1h1M161.7 86.7h1M160.3 71.4h1M153.7 76.6h1M159.3 82.4h1M165.7 50.5h1M152.5 48.6h1M163.1 50.7h1M155.5 49h1M166.2 50.8h1M159.4 47.6h1M159 52.5h1M163.7 53.1h1M168.4 51.2h1M159.3 49.6h1M168.9 50.3h1M154.4 51.8h1M162.7 51.5h1M153.6 49.8h1M162.3 52.2h1M155 51.6h1M161.1 51.4h1M164.9 50.2h1M154.6 50.7h1M149.5 49.7h1M159.8 50.9h1M164.3 49.8h1M162.4 52.2h1M155 50.7h1M166.3 50.9h1M159 51.1h1M165.8 51.1h1M155.2 48.8h1M163.7 52.3h1M168.5 50.8h1M156.6 49.9h1M159 49.4h1M164.9 49.8h1M164.3 49.9h1M163.2 50.7h1M160.9 70.3h1M167.6 54.9h1M167.8 69.4h1M162 53.6h1M182.2 73.3h1M166 65.5h1M169.1 56.4h1M167.6 48.1h1M165.7 60.4h1M171.5 53.8h1M176.3 70.7h1M166.3 54.6h1M160.8 61.5h1M170.6 66.5h1M151.8 63.2h1M167.8 64.9h1M165.4 61.4h1M169 68.1h1M156.3 56.6h1M163.7 67h1M159.6 54.7h1M163 64.3h1M170.8 55.2h1M165.3 61.6h1M162.5 67.1h1M174.8 71.5h1M166.7 50.6h1M152.6 57.7h1M159.4 56.3h1M169.4 71.3h1M169.6 57h1M168.1 67.8h1M168.4 59.4h1M160.3 53h1M165.9 63.7h1M158.3 55.1h1M160.7 68h1M160.2 68.7h1M160.6 72.1h1M164.1 55.9h1M164.8 73.8h1M160.9 69.6h1M173.8 50.6h1M163.2 78.2h1M177 74.6h1M201.6 48.5h1M200.6 87.3h1M209.6 69.6h1" stroke="#111" stroke-width="1" fill="none"/>
<rect x="170" y="47.5" width="22" height="15.7" fill="none" stroke="#111" stroke-width="0.9"/>
<text x="75.2" y="32.6" font-size="13.2" text-anchor="middle" font-weight="normal" fill="#000">HY Female</text>
<text x="187.8" y="32.6" font-size="13.2" text-anchor="middle" font-weight="normal" fill="#000">HY Male</text>
<text transform="translate(19.6 78) rotate(-90)" font-size="13.2" text-anchor="middle" fill="#000">CD8</text>
<text x="103" y="122.1" font-size="13.05" text-anchor="start" font-weight="normal" fill="#000">TCR&#945; (T3.70)</text>
<line x1="23" y1="41" x2="23" y2="105.7" stroke="#111" stroke-width="1.1"/>
<line x1="22.5" y1="105.2" x2="221" y2="105.2" stroke="#111" stroke-width="1.1"/>
<polygon points="23,36.5 20.2,43 25.8,43" fill="#111"/>
<polygon points="226,105.2 219.5,102.4 219.5,108" fill="#111"/>
<g transform="rotate(-0.3 244.5 68)">
<rect x="244.5" y="33.3" width="266.4" height="71.1" fill="none" stroke="#333" stroke-width="1.1"/>
<text x="252.7" y="50.1" font-size="13.1" text-anchor="start" font-weight="normal" fill="#000">HY Female TCR&#945;<tspan font-size="8" dy="-4.5">hi</tspan><tspan dy="4.5"> CD8</tspan><tspan font-size="8" dy="-4.5">hi</tspan><tspan dy="4.5"> &#8211; Filled histogram</tspan></text>
<text x="252.7" y="73.5" font-size="13.1" text-anchor="start" font-weight="normal" fill="#000">HY Male TCR&#945;<tspan font-size="8" dy="-4.5">+</tspan><tspan dy="4.5">CD8</tspan><tspan font-size="8" dy="-4.5">lo</tspan><tspan dy="4.5"> &#8211; Solid line</tspan></text>
<text x="252.7" y="96.5" font-size="13.1" text-anchor="start" font-weight="normal" fill="#000">Unstained Cells &#8211; Dashed line</text>
</g>
<rect x="29.7" y="145.8" width="3.6" height="50.8" fill="#d6d6d6" stroke="none" stroke-width="0"/>
<line x1="30.2" y1="145.2" x2="30.2" y2="197.2" stroke="#777" stroke-width="0.5"/>
<line x1="33.2" y1="145.2" x2="33.2" y2="197.2" stroke="#333" stroke-width="0.8"/>
<path d="M33 172.5 L33.6 172.5 L34.2 171.9 L34.8 172.6 L35.4 171.4 L36 171.1 L36.6 171.2 L37.2 170.4 L37.8 169 L38.4 166.9 L39 165.5 L39.6 164.3 L40.2 163.9 L40.8 163.3 L41.4 161.1 L42 159.8 L42.6 160.7 L43.2 156.6 L43.8 157.9 L44.4 157.8 L45 154.9 L45.6 153.9 L46.2 153.7 L46.8 155.1 L47.4 153.3 L48 150.1 L48.6 151.8 L49.2 153.5 L49.8 153.1 L50.4 152.3 L51 150.7 L51.6 148 L52.2 150.8 L52.8 150.2 L53.4 150.5 L54 153 L54.6 151.6 L55.2 152.7 L55.8 154.3 L56.4 154.3 L57 155 L57.6 156.4 L58.2 160.2 L58.8 161.7 L59.4 162.4 L60 166.7 L60.6 167.6 L61.2 167.8 L61.8 172.1 L62.4 173.4 L63 174.3 L63.6 178.3 L64.2 179.6 L64.8 181.8 L65.4 185 L66 185.4 L66.6 188.3 L67.2 190.6 L67.8 192 L68.4 192.6 L69 193.3 L69.6 194 L70.2 194.9 L70.8 195.5 L71.4 194.9 L72 194.8 L72.6 195.6 L73.2 195.6 L73.8 195.6 L74.4 196.1 L75 196.2 L75.6 195.8 L76.2 196.3 L76.8 196.2 L77.4 196.2 L78 195.9 L78.6 196.4 L79.2 196.1 L79.8 196.3 L80.4 196.2 L81 196.3 L81.6 196.2 L82.2 196.4 L82.8 196.2 L83.4 196 L84 195.8 L84.6 196 L85.2 195.9 L85.8 196 L86.4 196.2 L87 196.2 L87.6 196.4 L88.2 196.1 L88.8 196.4 L89.4 196.4 L90 196.2 L90.6 196.4 L91.2 196.3 L91.8 195.8 L92.4 196 L93 196.3 L93.6 196.1 L94.2 196.4 L94.8 195.9 L95.4 196.4 L96 196.1 L96.6 196.2 L97.2 196.1 L97.8 196.3 L98.4 196.4 L99 196 L99.6 195.7 L100.2 196.2 L100.8 196 L101.4 196.2 L102 195.9 L102.6 196 L103.2 196.2 L103.8 195.8 L104.4 196.3 L105 195.8 L105.6 196.1 L106.2 195.8 L106.8 196.2 L107.4 196.4 L108 196.4 L108.6 196 L109.2 196.1 L109.8 195.9 L110.4 196 L111 195.8 L111.6 195.8 L112.2 196 L112.8 196.1 L113.4 196.2 L114 196 L114.6 196.3 L115.2 196.1 L115.8 196.3 L116.4 196.3 L117 196.1 L117.6 196.3 L118.2 196.3 L118.8 196.1 L119.4 195.8 L120 196.3 L120.6 196.4 L121.2 195.9 L121.8 196.2 L122.4 195.9 L123 195.5 L123.6 196.2 L124.2 196.2 L124.8 196.2 L125.4 196.2 L126 196.3 L126.6 195.9 L127.2 196.3 L127.8 196.1 L128.4 196.3 L129 196.4 L129.6 195.5 L130.2 196.4 L130.8 196.3 L131.4 195.9 L132 196.1 L132.6 196 L133.2 195.7 L133.8 196 L134.4 196.1 L135 195.4 L135.6 195.8 L136.2 196.4 L136.8 195.9 L137.4 195.4 L138 196.2 L138.6 196.4 L139.2 196.4 L139.8 196.3 L140.4 196.1 L141 195.5 L141.6 196.1 L142.2 196.3 L142.8 195.9 L143.4 196.1 L144 195.8 L144.6 196.4 L145.2 196.2 L145.8 196 L146.4 195.6 L147 196.3 L147.6 196.2 L148.2 196.2 L148.8 196.3 L149.4 196.2 L150 196.2 L150.6 196.3 L151.2 196 L151.8 196.3 L152.4 196.4 L153 195.8 L153.6 195.7 L154.2 196.1 L154.8 196.3 L155.4 196.2 L156 196.1 L156.6 196.3 L157.2 196.2 L157.8 196.3 L158.4 196.2 L159 196.2 L159.6 196.1 L160.2 196.3 L160.8 196.3 L161.4 196.3 L162 196.1 L162.6 196.4 L163.2 196.2 L163.8 196.1 L164.4 196.3 L165 196.1 L165.6 196.4 L166.2 196.3 L166.8 196.3 L167.4 196.2 L168 196 L168.6 196.3 L169.2 196.4 L169.8 195.8 L170.4 196.3 L171 196.3 L171.6 196.3 L172.2 195.7 L172.8 196 L173.4 196.2 L174 196 L174.6 195.9 L175.2 196.3 L175.8 196.4 L175.8 197.2 L33 197.2 Z" fill="#e6e6e6" stroke="none"/>
<path d="M33 172.5 L33.6 172.5 L34.2 171.9 L34.8 172.6 L35.4 171.4 L36 171.1 L36.6 171.2 L37.2 170.4 L37.8 169 L38.4 166.9 L39 165.5 L39.6 164.3 L40.2 163.9 L40.8 163.3 L41.4 161.1 L42 159.8 L42.6 160.7 L43.2 156.6 L43.8 157.9 L44.4 157.8 L45 154.9 L45.6 153.9 L46.2 153.7 L46.8 155.1 L47.4 153.3 L48 150.1 L48.6 151.8 L49.2 153.5 L49.8 153.1 L50.4 152.3 L51 150.7 L51.6 148 L52.2 150.8 L52.8 150.2 L53.4 150.5 L54 153 L54.6 151.6 L55.2 152.7 L55.8 154.3 L56.4 154.3 L57 155 L57.6 156.4 L58.2 160.2 L58.8 161.7 L59.4 162.4 L60 166.7 L60.6 167.6 L61.2 167.8 L61.8 172.1 L62.4 173.4 L63 174.3 L63.6 178.3 L64.2 179.6 L64.8 181.8 L65.4 185 L66 185.4 L66.6 188.3 L67.2 190.6 L67.8 192 L68.4 192.6 L69 193.3 L69.6 194 L70.2 194.9 L70.8 195.5 L71.4 194.9 L72 194.8 L72.6 195.6 L73.2 195.6 L73.8 195.6 L74.4 196.1 L75 196.2 L75.6 195.8 L76.2 196.3 L76.8 196.2 L77.4 196.2 L78 195.9 L78.6 196.4 L79.2 196.1 L79.8 196.3 L80.4 196.2 L81 196.3 L81.6 196.2 L82.2 196.4 L82.8 196.2 L83.4 196 L84 195.8 L84.6 196 L85.2 195.9 L85.8 196 L86.4 196.2 L87 196.2 L87.6 196.4 L88.2 196.1 L88.8 196.4 L89.4 196.4 L90 196.2 L90.6 196.4 L91.2 196.3 L91.8 195.8 L92.4 196 L93 196.3 L93.6 196.1 L94.2 196.4 L94.8 195.9 L95.4 196.4 L96 196.1 L96.6 196.2 L97.2 196.1 L97.8 196.3 L98.4 196.4 L99 196 L99.6 195.7 L100.2 196.2 L100.8 196 L101.4 196.2 L102 195.9 L102.6 196 L103.2 196.2 L103.8 195.8 L104.4 196.3 L105 195.8 L105.6 196.1 L106.2 195.8 L106.8 196.2 L107.4 196.4 L108 196.4 L108.6 196 L109.2 196.1 L109.8 195.9 L110.4 196 L111 195.8 L111.6 195.8 L112.2 196 L112.8 196.1 L113.4 196.2 L114 196 L114.6 196.3 L115.2 196.1 L115.8 196.3 L116.4 196.3 L117 196.1 L117.6 196.3 L118.2 196.3 L118.8 196.1 L119.4 195.8 L120 196.3 L120.6 196.4 L121.2 195.9 L121.8 196.2 L122.4 195.9 L123 195.5 L123.6 196.2 L124.2 196.2 L124.8 196.2 L125.4 196.2 L126 196.3 L126.6 195.9 L127.2 196.3 L127.8 196.1 L128.4 196.3 L129 196.4 L129.6 195.5 L130.2 196.4 L130.8 196.3 L131.4 195.9 L132 196.1 L132.6 196 L133.2 195.7 L133.8 196 L134.4 196.1 L135 195.4 L135.6 195.8 L136.2 196.4 L136.8 195.9 L137.4 195.4 L138 196.2 L138.6 196.4 L139.2 196.4 L139.8 196.3 L140.4 196.1 L141 195.5 L141.6 196.1 L142.2 196.3 L142.8 195.9 L143.4 196.1 L144 195.8 L144.6 196.4 L145.2 196.2 L145.8 196 L146.4 195.6 L147 196.3 L147.6 196.2 L148.2 196.2 L148.8 196.3 L149.4 196.2 L150 196.2 L150.6 196.3 L151.2 196 L151.8 196.3 L152.4 196.4 L153 195.8 L153.6 195.7 L154.2 196.1 L154.8 196.3 L155.4 196.2 L156 196.1 L156.6 196.3 L157.2 196.2 L157.8 196.3 L158.4 196.2 L159 196.2 L159.6 196.1 L160.2 196.3 L160.8 196.3 L161.4 196.3 L162 196.1 L162.6 196.4 L163.2 196.2 L163.8 196.1 L164.4 196.3 L165 196.1 L165.6 196.4 L166.2 196.3 L166.8 196.3 L167.4 196.2 L168 196 L168.6 196.3 L169.2 196.4 L169.8 195.8 L170.4 196.3 L171 196.3 L171.6 196.3 L172.2 195.7 L172.8 196 L173.4 196.2 L174 196 L174.6 195.9 L175.2 196.3 L175.8 196.4" fill="none" stroke="#2a2a2a" stroke-width="0.8" stroke-linejoin="round"/>
<path d="M33 168 L33.6 167.4 L34.2 168.2 L34.8 166.2 L35.4 164.1 L36 165 L36.6 164.9 L37.2 165 L37.8 165 L38.4 160.1 L39 160.2 L39.6 159.8 L40.2 160.3 L40.8 158 L41.4 156.6 L42 156.2 L42.6 153.9 L43.2 153.8 L43.8 154.4 L44.4 153 L45 150.6 L45.6 149.5 L46.2 153.3 L46.8 153 L47.4 150.5 L48 150.1 L48.6 151.4 L49.2 151.5 L49.8 152.1 L50.4 152.8 L51 150.8 L51.6 147.5 L52.2 151.7 L52.8 150.5 L53.4 148.7 L54 152.7 L54.6 154.7 L55.2 152.4 L55.8 154.8 L56.4 156.4 L57 156.5 L57.6 158 L58.2 158.2 L58.8 159.8 L59.4 161.8 L60 164.2 L60.6 165.8 L61.2 166.6 L61.8 169.4 L62.4 173.1 L63 175.9 L63.6 178.2 L64.2 181.5 L64.8 183 L65.4 186.6 L66 187.3 L66.6 190.8 L67.2 190.9 L67.8 191.1 L68.4 193 L69 193.1 L69.6 193.7 L70.2 194.4 L70.8 195.5 L71.4 195.2 L72 195.1 L72.6 195 L73.2 195.4 L73.8 195.6 L74.4 195.6 L75 195.9 L75.6 195.7 L76.2 195.9 L76.8 195.3 L77.4 196.4 L78 195.6 L78.6 196.3 L79.2 196.3 L79.8 196.3 L80.4 196.1 L81 196.4 L81.6 195.9 L82.2 195.8 L82.8 195.8 L83.4 196.3 L84 195.8 L84.6 196.2 L85.2 196.1 L85.8 196.1 L86.4 195.7 L87 196 L87.6 196.4 L88.2 196.1 L88.8 196.4 L89.4 195.6 L90 196.1 L90.6 195.7 L91.2 196.2 L91.8 195.6 L92.4 196 L93 195.7 L93.6 196.4 L94.2 195.9 L94.8 195.9 L95.4 196.1 L96 196.3 L96.6 196.4 L97.2 195.8 L97.8 196.1 L98.4 196.1 L99 196.1 L99.6 196 L100.2 196.2 L100.8 196.1 L101.4 196 L102 196 L102.6 196.3 L103.2 196.4 L103.8 196.4 L104.4 196.2 L105 196.2 L105.6 196.3 L106.2 196 L106.8 196.1 L107.4 196 L108 196.3 L108.6 195.7 L109.2 196.1 L109.8 196.1 L110.4 195.8 L111 196.3 L111.6 196.2 L112.2 196.3 L112.8 196.4 L113.4 195.9 L114 195.7 L114.6 196.3 L115.2 196 L115.8 196 L116.4 196.1 L117 195.9 L117.6 196.3 L118.2 196.1 L118.8 196 L119.4 195.9 L120 195.5 L120.6 196 L121.2 196 L121.8 195.9 L122.4 196.3 L123 196.1 L123.6 196 L124.2 196.3 L124.8 196.3 L125.4 195.9 L126 196.2 L126.6 196.4 L127.2 195.8 L127.8 196.1 L128.4 195.8 L129 196 L129.6 195.9 L130.2 196.1 L130.8 195.9 L131.4 196.2 L132 196.3 L132.6 195.8 L133.2 196.4 L133.8 196.3 L134.4 196.3 L135 196.2 L135.6 195.6 L136.2 196.1 L136.8 195.9 L137.4 196.1 L138 196.3 L138.6 196 L139.2 196.2 L139.8 195.8 L140.4 195.8 L141 196.2 L141.6 196 L142.2 196.2 L142.8 195.8 L143.4 196.1 L144 196.2 L144.6 196.1 L145.2 195.7 L145.8 196.1 L146.4 196.3 L147 195.7 L147.6 196.3 L148.2 196.1 L148.8 195.9 L149.4 196 L150 196.1 L150.6 196.1 L151.2 196.1 L151.8 196.2 L152.4 195.7 L153 196.4 L153.6 196.2 L154.2 196.1 L154.8 196.2 L155.4 196.3 L156 196.4 L156.6 196.3 L157.2 196.3 L157.8 195.7 L158.4 195.8 L159 196.2 L159.6 196.3 L160.2 196.3 L160.8 195.8 L161.4 196 L162 195.9 L162.6 195.9 L163.2 196.1 L163.8 196.3 L164.4 196.3 L165 195.8 L165.6 196.3 L166.2 196.1 L166.8 195.9 L167.4 195.9 L168 195.9 L168.6 195.3 L169.2 195.6 L169.8 195.9 L170.4 195.7 L171 196.2 L171.6 196.3 L172.2 196.3 L172.8 195.8 L173.4 196.3 L174 195.2 L174.6 195.9 L175.2 196.2 L175.8 195.9" fill="none" stroke="#3c3c3c" stroke-width="0.75" stroke-dasharray="1.5 0.7" stroke-linejoin="round"/>
<path d="M33.2 174.9 L34 186.3 L34.8 185.8 L35.6 185.2 L36.4 182.5 L37.2 182 L38 180.1 L38.8 180.1 L39.6 177 L40.4 177.1 L41.2 173.2 L42 174 L42.8 170.6 L43.6 171.1 L44.4 169.7 L45.2 165.5 L46 166 L46.8 166.9 L47.6 164.8 L48.4 161.2 L49.2 158.4 L50 158.5 L50.8 156.6 L51.6 154.7 L52.4 156.5 L53.2 157.7 L54 153.9 L54.8 155.1 L55.6 152.7 L56.4 155.8 L57.2 154.8 L58 157.2 L58.8 157.6 L59.6 159.6 L60.4 157 L61.2 160.4 L62 158.2 L62.8 161.4 L63.6 163.6 L64.4 165.2 L65.2 169.3 L66 171.1 L66.8 175.3 L67.6 179.4 L68.4 181.2 L69.2 181.9 L70 183.3 L70.8 185.3 L71.6 186 L72.4 188.5 L73.2 187.1 L74 186.8 L74.8 188.1 L75.6 189.5 L76.4 189.4 L77.2 189.8 L78 188.7 L78.8 191.4 L79.6 190.8 L80.4 190.2 L81.2 190.8 L82 190.1 L82.8 192.1 L83.6 191.5 L84.4 191.3 L85.2 192.3 L86 191.9 L86.8 192.4 L87.6 193.8 L88.4 194.1 L89.2 194.8 L90 194.5 L90.8 194.7 L91.6 194.2 L92.4 194.1 L93.2 194.5 L94 195.2 L94.8 195.2 L95.6 194.6 L96.4 195.4 L97.2 195.3 L98 195.3 L98.8 195.9 L99.6 195.8 L100.4 196 L101.2 195.8 L102 196.4" fill="none" stroke="#050505" stroke-width="1.8" stroke-linejoin="round"/>
<rect x="28.8" y="145.2" width="148.4" height="52" fill="none" stroke="#111" stroke-width="1.0"/>
<path d="M29.5 197.2v2.3M40.6 197.2v1.5M47 197.2v1.5M51.6 197.2v1.5M55.2 197.2v1.5M58.1 197.2v1.5M60.5 197.2v1.5M62.7 197.2v1.5M64.5 197.2v1.5M66.2 197.2v2.3M77.3 197.2v1.5M83.7 197.2v1.5M88.3 197.2v1.5M91.9 197.2v1.5M94.8 197.2v1.5M97.3 197.2v1.5M99.4 197.2v1.5M101.3 197.2v1.5M102.9 197.2v2.3M114 197.2v1.5M120.5 197.2v1.5M125.1 197.2v1.5M128.6 197.2v1.5M131.5 197.2v1.5M134 197.2v1.5M136.1 197.2v1.5M138 197.2v1.5M139.7 197.2v2.3M150.7 197.2v1.5M157.2 197.2v1.5M161.8 197.2v1.5M165.3 197.2v1.5M168.3 197.2v1.5M170.7 197.2v1.5M172.8 197.2v1.5M174.7 197.2v1.5M176.4 197.2v2.3" stroke="#111" stroke-width="0.7" fill="none"/>
<path d="M28.8 197.2h-4.5M28.8 195.5h-2.7M28.8 193.7h-2.7M28.8 192h-2.7M28.8 190.3h-2.7M28.8 188.5h-4.5M28.8 186.8h-2.7M28.8 185.1h-2.7M28.8 183.3h-2.7M28.8 181.6h-2.7M28.8 179.9h-4.5M28.8 178.1h-2.7M28.8 176.4h-2.7M28.8 174.7h-2.7M28.8 172.9h-2.7M28.8 171.2h-4.5M28.8 169.5h-2.7M28.8 167.7h-2.7M28.8 166h-2.7M28.8 164.3h-2.7M28.8 162.5h-4.5M28.8 160.8h-2.7M28.8 159.1h-2.7M28.8 157.3h-2.7M28.8 155.6h-2.7M28.8 153.9h-4.5M28.8 152.1h-2.7M28.8 150.4h-2.7M28.8 148.7h-2.7M28.8 146.9h-2.7M28.8 145.2h-4.5" stroke="#111" stroke-width="0.6" fill="none"/>
<text x="29.9" y="206.7" font-size="6.3" text-anchor="middle" fill="#111" font-weight="bold" letter-spacing="0.5">10<tspan font-size="6.9" dy="-2.2">0</tspan></text>
<text x="66.6" y="206.7" font-size="6.3" text-anchor="middle" fill="#111" font-weight="bold" letter-spacing="0.5">10<tspan font-size="6.9" dy="-2.2">1</tspan></text>
<text x="103.3" y="206.7" font-size="6.3" text-anchor="middle" fill="#111" font-weight="bold" letter-spacing="0.5">10<tspan font-size="6.9" dy="-2.2">2</tspan></text>
<text x="140.1" y="206.7" font-size="6.3" text-anchor="middle" fill="#111" font-weight="bold" letter-spacing="0.5">10<tspan font-size="6.9" dy="-2.2">3</tspan></text>
<text x="176.8" y="206.7" font-size="6.3" text-anchor="middle" fill="#111" font-weight="bold" letter-spacing="0.5">10<tspan font-size="6.9" dy="-2.2">4</tspan></text>
<text x="175" y="161.2" font-size="13" text-anchor="end" font-weight="normal" fill="#000">NKG2D</text>
<rect x="197.7" y="145.1" width="3.6" height="51.1" fill="#d6d6d6" stroke="none" stroke-width="0"/>
<line x1="198.2" y1="144.5" x2="198.2" y2="196.8" stroke="#777" stroke-width="0.5"/>
<line x1="201.2" y1="144.5" x2="201.2" y2="196.8" stroke="#333" stroke-width="0.8"/>
<path d="M201.5 174.6 L202.1 176.4 L202.7 176.3 L203.3 174.3 L203.9 173.6 L204.5 171.8 L205.1 171.2 L205.7 168.7 L206.3 168.2 L206.9 163.5 L207.5 166.4 L208.1 162.8 L208.7 162.5 L209.3 160.1 L209.9 158.6 L210.5 158.8 L211.1 158.4 L211.7 156.1 L212.3 155.5 L212.9 156.1 L213.5 153.3 L214.1 151.8 L214.7 154.2 L215.3 152.2 L215.9 150.2 L216.5 151.8 L217.1 152.4 L217.7 151.6 L218.3 151.4 L218.9 154 L219.5 155.6 L220.1 154.2 L220.7 153.8 L221.3 155.7 L221.9 156.5 L222.5 155.5 L223.1 157.2 L223.7 158.4 L224.3 157.4 L224.9 157.9 L225.5 161.3 L226.1 163.2 L226.7 166.4 L227.3 165.5 L227.9 168.6 L228.5 170.9 L229.1 172.4 L229.7 176.5 L230.3 179 L230.9 179.9 L231.5 183.7 L232.1 185 L232.7 186.5 L233.3 188.1 L233.9 189.9 L234.5 189.6 L235.1 191.5 L235.7 192.3 L236.3 191.7 L236.9 193.3 L237.5 193.4 L238.1 194.1 L238.7 193.9 L239.3 194.3 L239.9 194.7 L240.5 194.4 L241.1 195.1 L241.7 195 L242.3 195.3 L242.9 195.1 L243.5 195.8 L244.1 195.7 L244.7 195.6 L245.3 195.9 L245.9 196 L246.5 195.4 L247.1 195.4 L247.7 195.7 L248.3 195.8 L248.9 196 L249.5 195.6 L250.1 195.6 L250.7 195.6 L251.3 195.8 L251.9 195.5 L252.5 195.4 L253.1 195.9 L253.7 195.5 L254.3 195.9 L254.9 195.5 L255.5 195.3 L256.1 195.4 L256.7 195.8 L257.3 195.8 L257.9 195.4 L258.5 195.9 L259.1 195.7 L259.7 195.9 L260.3 196 L260.9 195.9 L261.5 195.7 L262.1 195.9 L262.7 195.9 L263.3 196 L263.9 195.9 L264.5 195.6 L265.1 195.8 L265.7 195.6 L266.3 195.9 L266.9 195.5 L267.5 195.5 L268.1 195.8 L268.7 195.3 L269.3 196 L269.9 195.8 L270.5 195.5 L271.1 195.5 L271.7 195.1 L272.3 195.7 L272.9 195.8 L273.5 195.8 L274.1 195.7 L274.7 195.9 L275.3 195.9 L275.9 195.9 L276.5 195.6 L277.1 196 L277.7 195.7 L278.3 195.9 L278.9 195.9 L279.5 195.3 L280.1 195.5 L280.7 195.7 L281.3 195.8 L281.9 195.8 L282.5 195.8 L283.1 195.5 L283.7 195.7 L284.3 195.6 L284.9 196 L285.5 195.8 L286.1 195.7 L286.7 195.8 L287.3 195.6 L287.9 195.8 L288.5 196 L289.1 195.9 L289.7 195.9 L290.3 195.3 L290.9 196 L291.5 195.9 L292.1 195.6 L292.7 195.8 L293.3 195.8 L293.9 195.7 L294.5 195.3 L295.1 195.7 L295.7 195.4 L296.3 195.3 L296.9 195.7 L297.5 195.9 L298.1 195.8 L298.7 195.8 L299.3 195.8 L299.9 195.9 L300.5 195.9 L301.1 195.5 L301.7 195.9 L302.3 195.7 L302.9 196 L303.5 195.8 L304.1 195.8 L304.7 195.7 L305.3 195.9 L305.9 195.9 L306.5 196 L307.1 195.8 L307.7 195.9 L308.3 195.8 L308.9 195.9 L309.5 196 L310.1 195.8 L310.7 195.5 L311.3 195.7 L311.9 195.7 L312.5 195.7 L313.1 195.9 L313.7 195.8 L314.3 195.9 L314.9 195.8 L315.5 195.6 L316.1 195.7 L316.7 195.5 L317.3 196 L317.9 195.6 L318.5 196 L319.1 195.5 L319.7 195.4 L320.3 195.5 L320.9 195.8 L321.5 195.8 L322.1 195.5 L322.7 195.9 L323.3 195.7 L323.9 195.8 L324.5 195.9 L325.1 195.7 L325.7 195.9 L326.3 195.9 L326.9 196 L327.5 195.8 L328.1 195.7 L328.7 195.7 L329.3 195.8 L329.9 195.6 L330.5 195.9 L331.1 195.4 L331.7 195.7 L332.3 195.8 L332.9 195.8 L333.5 195.8 L334.1 196 L334.7 196 L335.3 195.2 L335.9 195.9 L336.5 195.6 L337.1 195.8 L337.7 195.5 L338.3 195.5 L338.9 195.7 L339.5 195.7 L340.1 195.4 L340.7 196 L341.3 195.6 L341.9 195.9 L342.5 195.3 L343.1 195.9 L343.7 195.8 L343.7 196.8 L201.5 196.8 Z" fill="#e6e6e6" stroke="none"/>
<path d="M201.5 174.6 L202.1 176.4 L202.7 176.3 L203.3 174.3 L203.9 173.6 L204.5 171.8 L205.1 171.2 L205.7 168.7 L206.3 168.2 L206.9 163.5 L207.5 166.4 L208.1 162.8 L208.7 162.5 L209.3 160.1 L209.9 158.6 L210.5 158.8 L211.1 158.4 L211.7 156.1 L212.3 155.5 L212.9 156.1 L213.5 153.3 L214.1 151.8 L214.7 154.2 L215.3 152.2 L215.9 150.2 L216.5 151.8 L217.1 152.4 L217.7 151.6 L218.3 151.4 L218.9 154 L219.5 155.6 L220.1 154.2 L220.7 153.8 L221.3 155.7 L221.9 156.5 L222.5 155.5 L223.1 157.2 L223.7 158.4 L224.3 157.4 L224.9 157.9 L225.5 161.3 L226.1 163.2 L226.7 166.4 L227.3 165.5 L227.9 168.6 L228.5 170.9 L229.1 172.4 L229.7 176.5 L230.3 179 L230.9 179.9 L231.5 183.7 L232.1 185 L232.7 186.5 L233.3 188.1 L233.9 189.9 L234.5 189.6 L235.1 191.5 L235.7 192.3 L236.3 191.7 L236.9 193.3 L237.5 193.4 L238.1 194.1 L238.7 193.9 L239.3 194.3 L239.9 194.7 L240.5 194.4 L241.1 195.1 L241.7 195 L242.3 195.3 L242.9 195.1 L243.5 195.8 L244.1 195.7 L244.7 195.6 L245.3 195.9 L245.9 196 L246.5 195.4 L247.1 195.4 L247.7 195.7 L248.3 195.8 L248.9 196 L249.5 195.6 L250.1 195.6 L250.7 195.6 L251.3 195.8 L251.9 195.5 L252.5 195.4 L253.1 195.9 L253.7 195.5 L254.3 195.9 L254.9 195.5 L255.5 195.3 L256.1 195.4 L256.7 195.8 L257.3 195.8 L257.9 195.4 L258.5 195.9 L259.1 195.7 L259.7 195.9 L260.3 196 L260.9 195.9 L261.5 195.7 L262.1 195.9 L262.7 195.9 L263.3 196 L263.9 195.9 L264.5 195.6 L265.1 195.8 L265.7 195.6 L266.3 195.9 L266.9 195.5 L267.5 195.5 L268.1 195.8 L268.7 195.3 L269.3 196 L269.9 195.8 L270.5 195.5 L271.1 195.5 L271.7 195.1 L272.3 195.7 L272.9 195.8 L273.5 195.8 L274.1 195.7 L274.7 195.9 L275.3 195.9 L275.9 195.9 L276.5 195.6 L277.1 196 L277.7 195.7 L278.3 195.9 L278.9 195.9 L279.5 195.3 L280.1 195.5 L280.7 195.7 L281.3 195.8 L281.9 195.8 L282.5 195.8 L283.1 195.5 L283.7 195.7 L284.3 195.6 L284.9 196 L285.5 195.8 L286.1 195.7 L286.7 195.8 L287.3 195.6 L287.9 195.8 L288.5 196 L289.1 195.9 L289.7 195.9 L290.3 195.3 L290.9 196 L291.5 195.9 L292.1 195.6 L292.7 195.8 L293.3 195.8 L293.9 195.7 L294.5 195.3 L295.1 195.7 L295.7 195.4 L296.3 195.3 L296.9 195.7 L297.5 195.9 L298.1 195.8 L298.7 195.8 L299.3 195.8 L299.9 195.9 L300.5 195.9 L301.1 195.5 L301.7 195.9 L302.3 195.7 L302.9 196 L303.5 195.8 L304.1 195.8 L304.7 195.7 L305.3 195.9 L305.9 195.9 L306.5 196 L307.1 195.8 L307.7 195.9 L308.3 195.8 L308.9 195.9 L309.5 196 L310.1 195.8 L310.7 195.5 L311.3 195.7 L311.9 195.7 L312.5 195.7 L313.1 195.9 L313.7 195.8 L314.3 195.9 L314.9 195.8 L315.5 195.6 L316.1 195.7 L316.7 195.5 L317.3 196 L317.9 195.6 L318.5 196 L319.1 195.5 L319.7 195.4 L320.3 195.5 L320.9 195.8 L321.5 195.8 L322.1 195.5 L322.7 195.9 L323.3 195.7 L323.9 195.8 L324.5 195.9 L325.1 195.7 L325.7 195.9 L326.3 195.9 L326.9 196 L327.5 195.8 L328.1 195.7 L328.7 195.7 L329.3 195.8 L329.9 195.6 L330.5 195.9 L331.1 195.4 L331.7 195.7 L332.3 195.8 L332.9 195.8 L333.5 195.8 L334.1 196 L334.7 196 L335.3 195.2 L335.9 195.9 L336.5 195.6 L337.1 195.8 L337.7 195.5 L338.3 195.5 L338.9 195.7 L339.5 195.7 L340.1 195.4 L340.7 196 L341.3 195.6 L341.9 195.9 L342.5 195.3 L343.1 195.9 L343.7 195.8" fill="none" stroke="#2a2a2a" stroke-width="0.8" stroke-linejoin="round"/>
<path d="M201.5 172.2 L202.1 172 L202.7 173.1 L203.3 172.2 L203.9 172.1 L204.5 173 L205.1 169 L205.7 167.7 L206.3 164.3 L206.9 162.7 L207.5 163.2 L208.1 159.5 L208.7 158.1 L209.3 158.4 L209.9 156.1 L210.5 156.4 L211.1 153.3 L211.7 154.8 L212.3 149.6 L212.9 150.8 L213.5 149.6 L214.1 151.2 L214.7 148.3 L215.3 151.5 L215.9 148.4 L216.5 151.2 L217.1 149.9 L217.7 151.8 L218.3 152.3 L218.9 150.3 L219.5 151.8 L220.1 153.1 L220.7 152.7 L221.3 154.8 L221.9 155.3 L222.5 153.7 L223.1 152.3 L223.7 155.5 L224.3 158.4 L224.9 157.6 L225.5 159.2 L226.1 161.4 L226.7 164.7 L227.3 167.7 L227.9 166.3 L228.5 171.7 L229.1 172.8 L229.7 174.4 L230.3 179.1 L230.9 180.5 L231.5 182.5 L232.1 184.7 L232.7 185.7 L233.3 188.3 L233.9 188.8 L234.5 191.3 L235.1 191.4 L235.7 191.7 L236.3 192.4 L236.9 192.6 L237.5 193.8 L238.1 194.1 L238.7 193.4 L239.3 194.4 L239.9 194.8 L240.5 195 L241.1 194.7 L241.7 194.8 L242.3 195.1 L242.9 195.5 L243.5 195.5 L244.1 195.5 L244.7 195.5 L245.3 195.4 L245.9 195.3 L246.5 195.9 L247.1 195.8 L247.7 195.9 L248.3 195 L248.9 195.5 L249.5 195.5 L250.1 195.7 L250.7 195.9 L251.3 195.8 L251.9 196 L252.5 195.8 L253.1 195.8 L253.7 195.2 L254.3 195.9 L254.9 195.5 L255.5 195.9 L256.1 195.7 L256.7 195.9 L257.3 195.5 L257.9 195.4 L258.5 195.4 L259.1 195.9 L259.7 195.5 L260.3 195.7 L260.9 195.9 L261.5 195.6 L262.1 195.8 L262.7 195.8 L263.3 195.7 L263.9 195.1 L264.5 195.8 L265.1 195.6 L265.7 195.9 L266.3 195.8 L266.9 195.3 L267.5 195.5 L268.1 195.5 L268.7 196 L269.3 195.9 L269.9 195.1 L270.5 195.7 L271.1 195.1 L271.7 196 L272.3 195.6 L272.9 195.8 L273.5 195.4 L274.1 196 L274.7 195.6 L275.3 195.8 L275.9 195.7 L276.5 195.6 L277.1 194.8 L277.7 195.9 L278.3 195.8 L278.9 195.6 L279.5 195.8 L280.1 195.7 L280.7 196 L281.3 195.4 L281.9 196 L282.5 195.4 L283.1 195.7 L283.7 195.6 L284.3 195.7 L284.9 195.6 L285.5 195.9 L286.1 195.4 L286.7 195.7 L287.3 196 L287.9 195.5 L288.5 196 L289.1 195.4 L289.7 195.6 L290.3 195.6 L290.9 195 L291.5 195.8 L292.1 195.6 L292.7 195.7 L293.3 195.9 L293.9 195.8 L294.5 195.8 L295.1 195.6 L295.7 195.8 L296.3 195.1 L296.9 195.9 L297.5 195.9 L298.1 195.7 L298.7 195.9 L299.3 195.6 L299.9 195.4 L300.5 196 L301.1 195.4 L301.7 195.8 L302.3 195.9 L302.9 195.9 L303.5 195.6 L304.1 195.5 L304.7 195.8 L305.3 195.6 L305.9 195.4 L306.5 196 L307.1 195.3 L307.7 196 L308.3 195.4 L308.9 195.6 L309.5 195.8 L310.1 195.9 L310.7 195.7 L311.3 195.8 L311.9 195.9 L312.5 196 L313.1 195.7 L313.7 195.9 L314.3 195.8 L314.9 195.6 L315.5 195.8 L316.1 195.9 L316.7 195.5 L317.3 195.9 L317.9 195.8 L318.5 195.7 L319.1 195.6 L319.7 195.9 L320.3 195.6 L320.9 195.5 L321.5 195.6 L322.1 195.6 L322.7 195.5 L323.3 195.6 L323.9 195.3 L324.5 195.9 L325.1 195.6 L325.7 195.3 L326.3 195.6 L326.9 196 L327.5 194.9 L328.1 195.9 L328.7 195.7 L329.3 195.5 L329.9 195.8 L330.5 196 L331.1 196 L331.7 194.9 L332.3 195.7 L332.9 195.5 L333.5 195.5 L334.1 196 L334.7 195.9 L335.3 196 L335.9 195.8 L336.5 195.6 L337.1 195.5 L337.7 195.8 L338.3 195.7 L338.9 195.7 L339.5 195.9 L340.1 195.5 L340.7 195.6 L341.3 195.9 L341.9 195.5 L342.5 195.7 L343.1 195.5 L343.7 195.6" fill="none" stroke="#3c3c3c" stroke-width="0.75" stroke-dasharray="1.5 0.7" stroke-linejoin="round"/>
<path d="M201.3 166.5 L202.1 178.3 L202.9 176.1 L203.7 176.1 L204.5 174.5 L205.3 169.8 L206.1 170.8 L206.9 169.1 L207.7 162.8 L208.5 163.6 L209.3 162.4 L210.1 160.6 L210.9 158.6 L211.7 156.6 L212.5 156.1 L213.3 155.6 L214.1 155 L214.9 155.5 L215.7 156.6 L216.5 154.7 L217.3 155.8 L218.1 156 L218.9 154.1 L219.7 154.8 L220.5 153.8 L221.3 156.1 L222.1 155.8 L222.9 155.5 L223.7 157.7 L224.5 157.8 L225.3 158.4 L226.1 160 L226.9 162.8 L227.7 164.1 L228.5 168.5 L229.3 171.2 L230.1 175.8 L230.9 178.2 L231.7 179.8 L232.5 182.7 L233.3 183.6 L234.1 188.1 L234.9 189.1 L235.7 190.5 L236.5 191.5 L237.3 191.1 L238.1 193.4 L238.9 194 L239.7 193.7 L240.5 194 L241.3 194.5 L242.1 194.3 L242.9 195.2 L243.7 194.2 L244.5 194.9 L245.3 195.5 L246.1 195.2 L246.9 195.6 L247.7 195.4" fill="none" stroke="#050505" stroke-width="1.8" stroke-linejoin="round"/>
<rect x="196.8" y="144.5" width="147.9" height="52.3" fill="none" stroke="#111" stroke-width="1.0"/>
<path d="M197.5 196.8v2.3M208.5 196.8v1.5M215 196.8v1.5M219.5 196.8v1.5M223.1 196.8v1.5M226 196.8v1.5M228.4 196.8v1.5M230.6 196.8v1.5M232.4 196.8v1.5M234.1 196.8v2.3M245.1 196.8v1.5M251.6 196.8v1.5M256.1 196.8v1.5M259.7 196.8v1.5M262.6 196.8v1.5M265 196.8v1.5M267.2 196.8v1.5M269 196.8v1.5M270.7 196.8v2.3M281.7 196.8v1.5M288.2 196.8v1.5M292.7 196.8v1.5M296.3 196.8v1.5M299.2 196.8v1.5M301.6 196.8v1.5M303.8 196.8v1.5M305.6 196.8v1.5M307.3 196.8v2.3M318.3 196.8v1.5M324.8 196.8v1.5M329.3 196.8v1.5M332.9 196.8v1.5M335.8 196.8v1.5M338.2 196.8v1.5M340.4 196.8v1.5M342.2 196.8v1.5M343.9 196.8v2.3" stroke="#111" stroke-width="0.7" fill="none"/>
<path d="M196.8 196.8h-4.5M196.8 195.1h-2.7M196.8 193.3h-2.7M196.8 191.6h-2.7M196.8 189.8h-2.7M196.8 188.1h-4.5M196.8 186.3h-2.7M196.8 184.6h-2.7M196.8 182.9h-2.7M196.8 181.1h-2.7M196.8 179.4h-4.5M196.8 177.6h-2.7M196.8 175.9h-2.7M196.8 174.1h-2.7M196.8 172.4h-2.7M196.8 170.7h-4.5M196.8 168.9h-2.7M196.8 167.2h-2.7M196.8 165.4h-2.7M196.8 163.7h-2.7M196.8 161.9h-4.5M196.8 160.2h-2.7M196.8 158.4h-2.7M196.8 156.7h-2.7M196.8 155h-2.7M196.8 153.2h-4.5M196.8 151.5h-2.7M196.8 149.7h-2.7M196.8 148h-2.7M196.8 146.2h-2.7M196.8 144.5h-4.5" stroke="#111" stroke-width="0.6" fill="none"/>
<text x="197.9" y="206.3" font-size="6.3" text-anchor="middle" fill="#111" font-weight="bold" letter-spacing="0.5">10<tspan font-size="6.9" dy="-2.2">0</tspan></text>
<text x="234.5" y="206.3" font-size="6.3" text-anchor="middle" fill="#111" font-weight="bold" letter-spacing="0.5">10<tspan font-size="6.9" dy="-2.2">1</tspan></text>
<text x="271.1" y="206.3" font-size="6.3" text-anchor="middle" fill="#111" font-weight="bold" letter-spacing="0.5">10<tspan font-size="6.9" dy="-2.2">2</tspan></text>
<text x="307.7" y="206.3" font-size="6.3" text-anchor="middle" fill="#111" font-weight="bold" letter-spacing="0.5">10<tspan font-size="6.9" dy="-2.2">3</tspan></text>
<text x="344.3" y="206.3" font-size="6.3" text-anchor="middle" fill="#111" font-weight="bold" letter-spacing="0.5">10<tspan font-size="6.9" dy="-2.2">4</tspan></text>
<text x="340.9" y="160" font-size="13" text-anchor="end" font-weight="normal" fill="#000">2B4</text>
<rect x="366" y="144.7" width="3.6" height="51.3" fill="#d6d6d6" stroke="none" stroke-width="0"/>
<line x1="366.5" y1="144.1" x2="366.5" y2="196.6" stroke="#777" stroke-width="0.5"/>
<line x1="369.5" y1="144.1" x2="369.5" y2="196.6" stroke="#333" stroke-width="0.8"/>
<path d="M369.7 166.5 L370.3 167.7 L370.9 167 L371.5 166.4 L372.1 166.4 L372.7 161.3 L373.3 160.6 L373.9 158.4 L374.5 159.1 L375.1 159.8 L375.7 157.5 L376.3 157.5 L376.9 153.4 L377.5 155.7 L378.1 153.6 L378.7 156.9 L379.3 155.1 L379.9 154.6 L380.5 152.6 L381.1 153.1 L381.7 152.8 L382.3 151.1 L382.9 150.8 L383.5 151.3 L384.1 150.6 L384.7 150.7 L385.3 151.3 L385.9 150.7 L386.5 153 L387.1 149.6 L387.7 153.5 L388.3 151.6 L388.9 152.1 L389.5 151.5 L390.1 153.9 L390.7 155 L391.3 157.5 L391.9 158.8 L392.5 162.1 L393.1 166.7 L393.7 167.5 L394.3 169.2 L394.9 173.9 L395.5 175.6 L396.1 179 L396.7 181.7 L397.3 183.4 L397.9 184.3 L398.5 186.9 L399.1 188.7 L399.7 189.1 L400.3 190.4 L400.9 191.4 L401.5 191.3 L402.1 192.8 L402.7 193.4 L403.3 193.6 L403.9 193.8 L404.5 194 L405.1 194.6 L405.7 193.9 L406.3 193.9 L406.9 194.3 L407.5 193.8 L408.1 193.6 L408.7 193.9 L409.3 194.4 L409.9 194.5 L410.5 193.7 L411.1 193.6 L411.7 194.2 L412.3 194.2 L412.9 194.3 L413.5 194.5 L414.1 194.7 L414.7 194.3 L415.3 194.4 L415.9 193.8 L416.5 193.7 L417.1 194.3 L417.7 194.4 L418.3 194.4 L418.9 194.3 L419.5 194.4 L420.1 194.4 L420.7 193.4 L421.3 193.8 L421.9 194.2 L422.5 194.3 L423.1 193.4 L423.7 194.5 L424.3 193.8 L424.9 193.9 L425.5 194.1 L426.1 194.3 L426.7 193.5 L427.3 194.4 L427.9 194.1 L428.5 193.8 L429.1 194 L429.7 193.3 L430.3 193.9 L430.9 194.3 L431.5 194 L432.1 194.2 L432.7 194.3 L433.3 194.4 L433.9 194.8 L434.5 194.4 L435.1 194.4 L435.7 194.7 L436.3 195.3 L436.9 194.5 L437.5 194.8 L438.1 194.1 L438.7 195.2 L439.3 195 L439.9 195.3 L440.5 194.8 L441.1 194.5 L441.7 195.2 L442.3 195.2 L442.9 194.6 L443.5 194.5 L444.1 195.1 L444.7 195 L445.3 195.8 L445.9 194.9 L446.5 194.9 L447.1 195.1 L447.7 194.6 L448.3 194.9 L448.9 195.7 L449.5 195.2 L450.1 195.1 L450.7 194.9 L451.3 195.5 L451.9 195.5 L452.5 195.4 L453.1 195.3 L453.7 195.5 L454.3 195.5 L454.9 195.3 L455.5 195.7 L456.1 194.9 L456.7 195.2 L457.3 195.5 L457.9 195.5 L458.5 195.3 L459.1 195.7 L459.7 195.8 L460.3 195.8 L460.9 195.7 L461.5 195.8 L462.1 195.8 L462.7 195.5 L463.3 195.7 L463.9 195.8 L464.5 195.5 L465.1 195.8 L465.7 195.8 L466.3 195.6 L466.9 195.6 L467.5 195.8 L468.1 195.8 L468.7 195.8 L469.3 195.6 L469.9 195.8 L470.5 195.7 L471.1 195.5 L471.7 195.6 L472.3 195.5 L472.9 195.4 L473.5 195.5 L474.1 195.5 L474.7 195.8 L475.3 195.6 L475.9 195 L476.5 195.2 L477.1 195.1 L477.7 195.4 L478.3 195 L478.9 195.6 L479.5 195.3 L480.1 195.8 L480.7 195.7 L481.3 195.7 L481.9 195.8 L482.5 195.4 L483.1 195.5 L483.7 195.8 L484.3 195.5 L484.9 195.4 L485.5 195.7 L486.1 195.7 L486.7 195.7 L487.3 195.6 L487.9 195.4 L488.5 195.7 L489.1 195.6 L489.7 195.2 L490.3 195.4 L490.9 195.3 L491.5 195.4 L492.1 195.6 L492.7 195.7 L493.3 195.6 L493.9 195.6 L494.5 195.5 L495.1 195.7 L495.7 195.8 L496.3 195.8 L496.9 195.8 L497.5 195.7 L498.1 195.6 L498.7 195.3 L499.3 195.6 L499.9 195.5 L500.5 195.7 L501.1 195.8 L501.7 195.6 L502.3 195.2 L502.9 195.7 L503.5 195.8 L504.1 195.5 L504.7 195.7 L505.3 195.6 L505.9 195.2 L506.5 195.7 L507.1 195.6 L507.7 195.1 L508.3 195.3 L508.9 195.5 L509.5 195.4 L510.1 195.6 L510.7 195.7 L510.7 196.6 L369.7 196.6 Z" fill="#e6e6e6" stroke="none"/>
<path d="M369.7 166.5 L370.3 167.7 L370.9 167 L371.5 166.4 L372.1 166.4 L372.7 161.3 L373.3 160.6 L373.9 158.4 L374.5 159.1 L375.1 159.8 L375.7 157.5 L376.3 157.5 L376.9 153.4 L377.5 155.7 L378.1 153.6 L378.7 156.9 L379.3 155.1 L379.9 154.6 L380.5 152.6 L381.1 153.1 L381.7 152.8 L382.3 151.1 L382.9 150.8 L383.5 151.3 L384.1 150.6 L384.7 150.7 L385.3 151.3 L385.9 150.7 L386.5 153 L387.1 149.6 L387.7 153.5 L388.3 151.6 L388.9 152.1 L389.5 151.5 L390.1 153.9 L390.7 155 L391.3 157.5 L391.9 158.8 L392.5 162.1 L393.1 166.7 L393.7 167.5 L394.3 169.2 L394.9 173.9 L395.5 175.6 L396.1 179 L396.7 181.7 L397.3 183.4 L397.9 184.3 L398.5 186.9 L399.1 188.7 L399.7 189.1 L400.3 190.4 L400.9 191.4 L401.5 191.3 L402.1 192.8 L402.7 193.4 L403.3 193.6 L403.9 193.8 L404.5 194 L405.1 194.6 L405.7 193.9 L406.3 193.9 L406.9 194.3 L407.5 193.8 L408.1 193.6 L408.7 193.9 L409.3 194.4 L409.9 194.5 L410.5 193.7 L411.1 193.6 L411.7 194.2 L412.3 194.2 L412.9 194.3 L413.5 194.5 L414.1 194.7 L414.7 194.3 L415.3 194.4 L415.9 193.8 L416.5 193.7 L417.1 194.3 L417.7 194.4 L418.3 194.4 L418.9 194.3 L419.5 194.4 L420.1 194.4 L420.7 193.4 L421.3 193.8 L421.9 194.2 L422.5 194.3 L423.1 193.4 L423.7 194.5 L424.3 193.8 L424.9 193.9 L425.5 194.1 L426.1 194.3 L426.7 193.5 L427.3 194.4 L427.9 194.1 L428.5 193.8 L429.1 194 L429.7 193.3 L430.3 193.9 L430.9 194.3 L431.5 194 L432.1 194.2 L432.7 194.3 L433.3 194.4 L433.9 194.8 L434.5 194.4 L435.1 194.4 L435.7 194.7 L436.3 195.3 L436.9 194.5 L437.5 194.8 L438.1 194.1 L438.7 195.2 L439.3 195 L439.9 195.3 L440.5 194.8 L441.1 194.5 L441.7 195.2 L442.3 195.2 L442.9 194.6 L443.5 194.5 L444.1 195.1 L444.7 195 L445.3 195.8 L445.9 194.9 L446.5 194.9 L447.1 195.1 L447.7 194.6 L448.3 194.9 L448.9 195.7 L449.5 195.2 L450.1 195.1 L450.7 194.9 L451.3 195.5 L451.9 195.5 L452.5 195.4 L453.1 195.3 L453.7 195.5 L454.3 195.5 L454.9 195.3 L455.5 195.7 L456.1 194.9 L456.7 195.2 L457.3 195.5 L457.9 195.5 L458.5 195.3 L459.1 195.7 L459.7 195.8 L460.3 195.8 L460.9 195.7 L461.5 195.8 L462.1 195.8 L462.7 195.5 L463.3 195.7 L463.9 195.8 L464.5 195.5 L465.1 195.8 L465.7 195.8 L466.3 195.6 L466.9 195.6 L467.5 195.8 L468.1 195.8 L468.7 195.8 L469.3 195.6 L469.9 195.8 L470.5 195.7 L471.1 195.5 L471.7 195.6 L472.3 195.5 L472.9 195.4 L473.5 195.5 L474.1 195.5 L474.7 195.8 L475.3 195.6 L475.9 195 L476.5 195.2 L477.1 195.1 L477.7 195.4 L478.3 195 L478.9 195.6 L479.5 195.3 L480.1 195.8 L480.7 195.7 L481.3 195.7 L481.9 195.8 L482.5 195.4 L483.1 195.5 L483.7 195.8 L484.3 195.5 L484.9 195.4 L485.5 195.7 L486.1 195.7 L486.7 195.7 L487.3 195.6 L487.9 195.4 L488.5 195.7 L489.1 195.6 L489.7 195.2 L490.3 195.4 L490.9 195.3 L491.5 195.4 L492.1 195.6 L492.7 195.7 L493.3 195.6 L493.9 195.6 L494.5 195.5 L495.1 195.7 L495.7 195.8 L496.3 195.8 L496.9 195.8 L497.5 195.7 L498.1 195.6 L498.7 195.3 L499.3 195.6 L499.9 195.5 L500.5 195.7 L501.1 195.8 L501.7 195.6 L502.3 195.2 L502.9 195.7 L503.5 195.8 L504.1 195.5 L504.7 195.7 L505.3 195.6 L505.9 195.2 L506.5 195.7 L507.1 195.6 L507.7 195.1 L508.3 195.3 L508.9 195.5 L509.5 195.4 L510.1 195.6 L510.7 195.7" fill="none" stroke="#2a2a2a" stroke-width="0.8" stroke-linejoin="round"/>
<path d="M369.7 163.4 L370.3 166 L370.9 163.9 L371.5 164.2 L372.1 161.7 L372.7 164.1 L373.3 158.7 L373.9 158.9 L374.5 157.3 L375.1 159.7 L375.7 156.4 L376.3 153.9 L376.9 154 L377.5 152.8 L378.1 152.1 L378.7 152.8 L379.3 150.4 L379.9 153 L380.5 148.9 L381.1 151.2 L381.7 151.9 L382.3 151.3 L382.9 153.1 L383.5 150.9 L384.1 152.1 L384.7 149.9 L385.3 153.6 L385.9 147.6 L386.5 151.7 L387.1 150.4 L387.7 153.1 L388.3 150.9 L388.9 152.6 L389.5 153.9 L390.1 152.8 L390.7 154.9 L391.3 157.2 L391.9 158 L392.5 160.1 L393.1 163.4 L393.7 168 L394.3 167.6 L394.9 172.4 L395.5 172.3 L396.1 176.3 L396.7 180 L397.3 183.3 L397.9 185 L398.5 187.2 L399.1 187.4 L399.7 188.8 L400.3 190.6 L400.9 191 L401.5 191.5 L402.1 191.3 L402.7 193.3 L403.3 193.6 L403.9 193.2 L404.5 193.7 L405.1 193.2 L405.7 194.1 L406.3 194 L406.9 194 L407.5 193.5 L408.1 194 L408.7 193.8 L409.3 194.8 L409.9 194.3 L410.5 195.1 L411.1 194.7 L411.7 194.3 L412.3 195 L412.9 194.9 L413.5 194.6 L414.1 193.8 L414.7 194.7 L415.3 194.7 L415.9 194.6 L416.5 194.1 L417.1 193.9 L417.7 193.8 L418.3 193.7 L418.9 194 L419.5 194.7 L420.1 194.8 L420.7 194.2 L421.3 194.1 L421.9 194.6 L422.5 194.4 L423.1 194.6 L423.7 194.2 L424.3 194 L424.9 194.7 L425.5 193.9 L426.1 194.5 L426.7 193.9 L427.3 194.3 L427.9 194.1 L428.5 194.2 L429.1 194.1 L429.7 194.8 L430.3 194.3 L430.9 194.2 L431.5 194.3 L432.1 195 L432.7 194.3 L433.3 194.2 L433.9 194.1 L434.5 194.7 L435.1 194.5 L435.7 194.5 L436.3 194.8 L436.9 195.4 L437.5 195 L438.1 195.2 L438.7 194.7 L439.3 195.2 L439.9 195.2 L440.5 195.1 L441.1 195.2 L441.7 194.7 L442.3 195.4 L442.9 195 L443.5 194.8 L444.1 195.2 L444.7 195.2 L445.3 195.1 L445.9 195.3 L446.5 195.4 L447.1 195.1 L447.7 195.1 L448.3 195.2 L448.9 195.2 L449.5 195.2 L450.1 195.7 L450.7 195.8 L451.3 195 L451.9 195.5 L452.5 195.2 L453.1 195.2 L453.7 195.5 L454.3 195.6 L454.9 195.2 L455.5 195.7 L456.1 195.6 L456.7 195.3 L457.3 195.8 L457.9 195.6 L458.5 195.5 L459.1 195.5 L459.7 195.8 L460.3 195.7 L460.9 195.8 L461.5 195.8 L462.1 195.7 L462.7 195.8 L463.3 195.7 L463.9 195.8 L464.5 195.8 L465.1 195.8 L465.7 195.8 L466.3 195.8 L466.9 195.8 L467.5 195.8 L468.1 195.8 L468.7 195.8 L469.3 195.8 L469.9 195.8 L470.5 195.4 L471.1 195.6 L471.7 195.5 L472.3 195.5 L472.9 195.6 L473.5 195.8 L474.1 194.6 L474.7 195.6 L475.3 195.6 L475.9 195.7 L476.5 195.4 L477.1 195.6 L477.7 194.8 L478.3 195.1 L478.9 195.6 L479.5 195.5 L480.1 195.6 L480.7 195 L481.3 195.5 L481.9 195.7 L482.5 195.5 L483.1 195.6 L483.7 195.5 L484.3 195 L484.9 195.8 L485.5 195.7 L486.1 195.8 L486.7 195.8 L487.3 195.6 L487.9 195.6 L488.5 195.3 L489.1 195.5 L489.7 195.6 L490.3 194.9 L490.9 195.4 L491.5 195.2 L492.1 195.6 L492.7 195.6 L493.3 195.6 L493.9 195.4 L494.5 195.5 L495.1 195.5 L495.7 195.8 L496.3 195.7 L496.9 195.7 L497.5 195.8 L498.1 195.7 L498.7 195.5 L499.3 195.6 L499.9 195.1 L500.5 195.3 L501.1 195.7 L501.7 195.6 L502.3 195.7 L502.9 195.6 L503.5 195.6 L504.1 195.7 L504.7 195.1 L505.3 195.5 L505.9 195.5 L506.5 195.7 L507.1 195.7 L507.7 195.5 L508.3 195.7 L508.9 195.4 L509.5 195.6 L510.1 195.4 L510.7 195.7" fill="none" stroke="#3c3c3c" stroke-width="0.75" stroke-dasharray="1.5 0.7" stroke-linejoin="round"/>
<path d="M369.5 167.2 L370.3 184.3 L371.1 185.9 L371.9 184.1 L372.7 183.2 L373.5 180.3 L374.3 180.7 L375.1 177.6 L375.9 175.4 L376.7 176.9 L377.5 173.3 L378.3 172.1 L379.1 175.2 L379.9 170.1 L380.7 170.9 L381.5 167.8 L382.3 167.8 L383.1 167.6 L383.9 166 L384.7 167.5 L385.5 162.2 L386.3 164.1 L387.1 161.7 L387.9 163.1 L388.7 162 L389.5 160.6 L390.3 158.5 L391.1 160.3 L391.9 157.5 L392.7 158.1 L393.5 162.1 L394.3 159.8 L395.1 157.3 L395.9 159.4 L396.7 159.9 L397.5 164.1 L398.3 165.1 L399.1 167.7 L399.9 171.1 L400.7 173.8 L401.5 173.2 L402.3 176.4 L403.1 179.5 L403.9 180.4 L404.7 181.4 L405.5 182.4 L406.3 182.8 L407.1 184.7 L407.9 185.4 L408.7 188 L409.5 185.8 L410.3 188 L411.1 187.2 L411.9 188.3 L412.7 188.8 L413.5 190.1 L414.3 189.1 L415.1 189.2 L415.9 190 L416.7 190.2 L417.5 190.1 L418.3 189.4 L419.1 188.5 L419.9 188.5 L420.7 188.6 L421.5 188.2 L422.3 188.2 L423.1 189.9 L423.9 188.7 L424.7 188.1 L425.5 188.8 L426.3 187.8 L427.1 189.2 L427.9 187.9 L428.7 189.4 L429.5 188.6 L430.3 189.7 L431.1 190.7 L431.9 190.4 L432.7 189.6 L433.5 191 L434.3 189.8 L435.1 191.7 L435.9 191.6 L436.7 191.4 L437.5 191 L438.3 192.3 L439.1 192 L439.9 192.2 L440.7 191.3 L441.5 192.8 L442.3 192.3 L443.1 192.7 L443.9 193.1 L444.7 192.3 L445.5 192.9 L446.3 192.7 L447.1 191.9 L447.9 192.3 L448.7 193.2 L449.5 193.8 L450.3 193.8 L451.1 193.3 L451.9 194.3 L452.7 193.2 L453.5 193 L454.3 194.2 L455.1 194.4 L455.9 193.7 L456.7 194.1 L457.5 194.2 L458.3 193.8 L459.1 194.5 L459.9 195.2 L460.7 194.1 L461.5 194.7 L462.3 194.4 L463.1 194.3 L463.9 194.8 L464.7 195 L465.5 195.1 L466.3 195 L467.1 195.2 L467.9 195.2 L468.7 195.2 L469.5 195.6 L470.3 195.8 L471.1 195.1 L471.9 195.8 L472.7 195.8" fill="none" stroke="#050505" stroke-width="1.8" stroke-linejoin="round"/>
<rect x="365.1" y="144.1" width="146.9" height="52.5" fill="none" stroke="#111" stroke-width="1.0"/>
<path d="M365.8 196.6v2.3M376.7 196.6v1.5M383.1 196.6v1.5M387.7 196.6v1.5M391.2 196.6v1.5M394.1 196.6v1.5M396.5 196.6v1.5M398.6 196.6v1.5M400.5 196.6v1.5M402.1 196.6v2.3M413.1 196.6v1.5M419.5 196.6v1.5M424 196.6v1.5M427.6 196.6v1.5M430.4 196.6v1.5M432.9 196.6v1.5M435 196.6v1.5M436.8 196.6v1.5M438.5 196.6v2.3M449.4 196.6v1.5M455.8 196.6v1.5M460.4 196.6v1.5M463.9 196.6v1.5M466.8 196.6v1.5M469.2 196.6v1.5M471.3 196.6v1.5M473.2 196.6v1.5M474.9 196.6v2.3M485.8 196.6v1.5M492.2 196.6v1.5M496.7 196.6v1.5M500.3 196.6v1.5M503.1 196.6v1.5M505.6 196.6v1.5M507.7 196.6v1.5M509.5 196.6v1.5M511.2 196.6v2.3" stroke="#111" stroke-width="0.7" fill="none"/>
<path d="M365.1 196.6h-4.5M365.1 194.8h-2.7M365.1 193.1h-2.7M365.1 191.3h-2.7M365.1 189.6h-2.7M365.1 187.8h-4.5M365.1 186.1h-2.7M365.1 184.3h-2.7M365.1 182.6h-2.7M365.1 180.8h-2.7M365.1 179.1h-4.5M365.1 177.3h-2.7M365.1 175.6h-2.7M365.1 173.8h-2.7M365.1 172.1h-2.7M365.1 170.3h-4.5M365.1 168.6h-2.7M365.1 166.8h-2.7M365.1 165.1h-2.7M365.1 163.3h-2.7M365.1 161.6h-4.5M365.1 159.8h-2.7M365.1 158.1h-2.7M365.1 156.3h-2.7M365.1 154.6h-2.7M365.1 152.8h-4.5M365.1 151.1h-2.7M365.1 149.3h-2.7M365.1 147.6h-2.7M365.1 145.8h-2.7M365.1 144.1h-4.5" stroke="#111" stroke-width="0.6" fill="none"/>
<text x="366.2" y="206.1" font-size="6.3" text-anchor="middle" fill="#111" font-weight="bold" letter-spacing="0.5">10<tspan font-size="6.9" dy="-2.2">0</tspan></text>
<text x="402.5" y="206.1" font-size="6.3" text-anchor="middle" fill="#111" font-weight="bold" letter-spacing="0.5">10<tspan font-size="6.9" dy="-2.2">1</tspan></text>
<text x="438.9" y="206.1" font-size="6.3" text-anchor="middle" fill="#111" font-weight="bold" letter-spacing="0.5">10<tspan font-size="6.9" dy="-2.2">2</tspan></text>
<text x="475.2" y="206.1" font-size="6.3" text-anchor="middle" fill="#111" font-weight="bold" letter-spacing="0.5">10<tspan font-size="6.9" dy="-2.2">3</tspan></text>
<text x="511.6" y="206.1" font-size="6.3" text-anchor="middle" fill="#111" font-weight="bold" letter-spacing="0.5">10<tspan font-size="6.9" dy="-2.2">4</tspan></text>
<text x="508.9" y="160.2" font-size="13" text-anchor="end" font-weight="normal" fill="#000">CD94</text>
<rect x="29.7" y="212.4" width="3.6" height="49.9" fill="#d6d6d6" stroke="none" stroke-width="0"/>
<line x1="30.2" y1="211.8" x2="30.2" y2="262.9" stroke="#777" stroke-width="0.5"/>
<line x1="33.2" y1="211.8" x2="33.2" y2="262.9" stroke="#333" stroke-width="0.8"/>
<path d="M33.7 233.8 L34.3 244.2 L34.9 247.4 L35.5 245.5 L36.1 245.6 L36.7 243.6 L37.3 243.9 L37.9 240.7 L38.5 238.9 L39.1 239 L39.7 237.8 L40.3 235.8 L40.9 235 L41.5 235.1 L42.1 234.2 L42.7 231.8 L43.3 231 L43.9 228.1 L44.5 231.7 L45.1 228.3 L45.7 229.5 L46.3 227.4 L46.9 228.8 L47.5 227.5 L48.1 225.1 L48.7 226 L49.3 221.9 L49.9 224.3 L50.5 219.8 L51.1 221.9 L51.7 222.6 L52.3 221.1 L52.9 220.2 L53.5 219.6 L54.1 220.3 L54.7 222.5 L55.3 222.5 L55.9 221.1 L56.5 220 L57.1 223.2 L57.7 220.6 L58.3 223.2 L58.9 224.9 L59.5 229.2 L60.1 230.8 L60.7 233.3 L61.3 235.2 L61.9 236.4 L62.5 240.1 L63.1 243.1 L63.7 243.7 L64.3 246.4 L64.9 247.7 L65.5 250.5 L66.1 251.8 L66.7 253.3 L67.3 254.3 L67.9 256.3 L68.5 256.1 L69.1 256.9 L69.7 257.5 L70.3 258.7 L70.9 258.5 L71.5 258.9 L72.1 259.9 L72.7 260.3 L73.3 260.3 L73.9 259.1 L74.5 260 L75.1 260 L75.7 260 L76.3 260.4 L76.9 261.3 L77.5 260.5 L78.1 260.4 L78.7 261 L79.3 260.8 L79.9 260.9 L80.5 260.6 L81.1 260.9 L81.7 261.1 L82.3 260.2 L82.9 260.4 L83.5 261.3 L84.1 261.3 L84.7 260.8 L85.3 260.7 L85.9 261 L86.5 260.6 L87.1 260.9 L87.7 261.6 L88.3 261.1 L88.9 261.5 L89.5 261 L90.1 261.2 L90.7 261.6 L91.3 260.7 L91.9 261 L92.5 261.1 L93.1 261.2 L93.7 261.7 L94.3 261.4 L94.9 260.7 L95.5 261.1 L96.1 260.9 L96.7 260.9 L97.3 261.9 L97.9 260.8 L98.5 261.3 L99.1 261 L99.7 261.5 L100.3 261.3 L100.9 261.3 L101.5 261.2 L102.1 261.6 L102.7 261 L103.3 261 L103.9 260.9 L104.5 261.7 L105.1 261.2 L105.7 261 L106.3 261.2 L106.9 262.1 L107.5 261.3 L108.1 261.6 L108.7 261.5 L109.3 261.4 L109.9 261.2 L110.5 261.3 L111.1 261.3 L111.7 260.8 L112.3 262.1 L112.9 261.8 L113.5 261.5 L114.1 261.5 L114.7 261.3 L115.3 261.9 L115.9 261.5 L116.5 261.7 L117.1 261.2 L117.7 261.7 L118.3 262.1 L118.9 261.6 L119.5 261.9 L120.1 261.7 L120.7 262.1 L121.3 262.1 L121.9 261.8 L122.5 261.6 L123.1 261.9 L123.7 261.9 L124.3 261.7 L124.9 262 L125.5 262 L126.1 261.7 L126.7 261.9 L127.3 262.1 L127.9 262.1 L128.5 262.1 L129.1 261.2 L129.7 261.9 L130.3 261.2 L130.9 261.4 L131.5 261.6 L132.1 262 L132.7 261.8 L133.3 261.3 L133.9 261.7 L134.5 261.7 L135.1 262 L135.7 261.9 L136.3 261.9 L136.9 262.1 L137.5 262 L138.1 261.7 L138.7 262 L139.3 261.8 L139.9 261.8 L140.5 261.2 L141.1 261.7 L141.7 261.8 L142.3 261.5 L142.9 262 L143.5 261.6 L144.1 261.3 L144.7 261.7 L145.3 261.9 L145.9 261.8 L146.5 262 L147.1 262 L147.7 261.4 L148.3 262 L148.9 261.7 L149.5 261.9 L150.1 261.6 L150.7 261.7 L151.3 261.2 L151.9 261.3 L152.5 261.6 L153.1 261.8 L153.7 262.1 L154.3 261.8 L154.9 261.7 L155.5 262.1 L156.1 262 L156.7 261.9 L157.3 262 L157.9 261.8 L158.5 261.5 L159.1 261.3 L159.7 262.1 L160.3 261.7 L160.9 261.9 L161.5 262 L162.1 262 L162.7 261.9 L163.3 262 L163.9 261.8 L164.5 261.6 L165.1 261.8 L165.7 262 L166.3 262 L166.9 261.6 L167.5 261.7 L168.1 261.4 L168.7 261.3 L169.3 261.8 L169.9 261.8 L170.5 261.7 L171.1 262 L171.7 261.5 L172.3 261.8 L172.9 261.8 L173.5 261.9 L174.1 261.9 L174.7 262.1 L175.3 262.1 L175.9 262.1 L175.9 262.9 L33.7 262.9 Z" fill="#e6e6e6" stroke="none"/>
<path d="M33.7 233.8 L34.3 244.2 L34.9 247.4 L35.5 245.5 L36.1 245.6 L36.7 243.6 L37.3 243.9 L37.9 240.7 L38.5 238.9 L39.1 239 L39.7 237.8 L40.3 235.8 L40.9 235 L41.5 235.1 L42.1 234.2 L42.7 231.8 L43.3 231 L43.9 228.1 L44.5 231.7 L45.1 228.3 L45.7 229.5 L46.3 227.4 L46.9 228.8 L47.5 227.5 L48.1 225.1 L48.7 226 L49.3 221.9 L49.9 224.3 L50.5 219.8 L51.1 221.9 L51.7 222.6 L52.3 221.1 L52.9 220.2 L53.5 219.6 L54.1 220.3 L54.7 222.5 L55.3 222.5 L55.9 221.1 L56.5 220 L57.1 223.2 L57.7 220.6 L58.3 223.2 L58.9 224.9 L59.5 229.2 L60.1 230.8 L60.7 233.3 L61.3 235.2 L61.9 236.4 L62.5 240.1 L63.1 243.1 L63.7 243.7 L64.3 246.4 L64.9 247.7 L65.5 250.5 L66.1 251.8 L66.7 253.3 L67.3 254.3 L67.9 256.3 L68.5 256.1 L69.1 256.9 L69.7 257.5 L70.3 258.7 L70.9 258.5 L71.5 258.9 L72.1 259.9 L72.7 260.3 L73.3 260.3 L73.9 259.1 L74.5 260 L75.1 260 L75.7 260 L76.3 260.4 L76.9 261.3 L77.5 260.5 L78.1 260.4 L78.7 261 L79.3 260.8 L79.9 260.9 L80.5 260.6 L81.1 260.9 L81.7 261.1 L82.3 260.2 L82.9 260.4 L83.5 261.3 L84.1 261.3 L84.7 260.8 L85.3 260.7 L85.9 261 L86.5 260.6 L87.1 260.9 L87.7 261.6 L88.3 261.1 L88.9 261.5 L89.5 261 L90.1 261.2 L90.7 261.6 L91.3 260.7 L91.9 261 L92.5 261.1 L93.1 261.2 L93.7 261.7 L94.3 261.4 L94.9 260.7 L95.5 261.1 L96.1 260.9 L96.7 260.9 L97.3 261.9 L97.9 260.8 L98.5 261.3 L99.1 261 L99.7 261.5 L100.3 261.3 L100.9 261.3 L101.5 261.2 L102.1 261.6 L102.7 261 L103.3 261 L103.9 260.9 L104.5 261.7 L105.1 261.2 L105.7 261 L106.3 261.2 L106.9 262.1 L107.5 261.3 L108.1 261.6 L108.7 261.5 L109.3 261.4 L109.9 261.2 L110.5 261.3 L111.1 261.3 L111.7 260.8 L112.3 262.1 L112.9 261.8 L113.5 261.5 L114.1 261.5 L114.7 261.3 L115.3 261.9 L115.9 261.5 L116.5 261.7 L117.1 261.2 L117.7 261.7 L118.3 262.1 L118.9 261.6 L119.5 261.9 L120.1 261.7 L120.7 262.1 L121.3 262.1 L121.9 261.8 L122.5 261.6 L123.1 261.9 L123.7 261.9 L124.3 261.7 L124.9 262 L125.5 262 L126.1 261.7 L126.7 261.9 L127.3 262.1 L127.9 262.1 L128.5 262.1 L129.1 261.2 L129.7 261.9 L130.3 261.2 L130.9 261.4 L131.5 261.6 L132.1 262 L132.7 261.8 L133.3 261.3 L133.9 261.7 L134.5 261.7 L135.1 262 L135.7 261.9 L136.3 261.9 L136.9 262.1 L137.5 262 L138.1 261.7 L138.7 262 L139.3 261.8 L139.9 261.8 L140.5 261.2 L141.1 261.7 L141.7 261.8 L142.3 261.5 L142.9 262 L143.5 261.6 L144.1 261.3 L144.7 261.7 L145.3 261.9 L145.9 261.8 L146.5 262 L147.1 262 L147.7 261.4 L148.3 262 L148.9 261.7 L149.5 261.9 L150.1 261.6 L150.7 261.7 L151.3 261.2 L151.9 261.3 L152.5 261.6 L153.1 261.8 L153.7 262.1 L154.3 261.8 L154.9 261.7 L155.5 262.1 L156.1 262 L156.7 261.9 L157.3 262 L157.9 261.8 L158.5 261.5 L159.1 261.3 L159.7 262.1 L160.3 261.7 L160.9 261.9 L161.5 262 L162.1 262 L162.7 261.9 L163.3 262 L163.9 261.8 L164.5 261.6 L165.1 261.8 L165.7 262 L166.3 262 L166.9 261.6 L167.5 261.7 L168.1 261.4 L168.7 261.3 L169.3 261.8 L169.9 261.8 L170.5 261.7 L171.1 262 L171.7 261.5 L172.3 261.8 L172.9 261.8 L173.5 261.9 L174.1 261.9 L174.7 262.1 L175.3 262.1 L175.9 262.1" fill="none" stroke="#2a2a2a" stroke-width="0.8" stroke-linejoin="round"/>
<path d="M33.7 231.9 L34.3 245.5 L34.9 244.5 L35.5 241.3 L36.1 243.3 L36.7 243.6 L37.3 242.5 L37.9 239.2 L38.5 236.8 L39.1 237.3 L39.7 233 L40.3 233.7 L40.9 234 L41.5 232.8 L42.1 231.8 L42.7 228.6 L43.3 227.1 L43.9 228.8 L44.5 228.7 L45.1 226.2 L45.7 224.2 L46.3 225.4 L46.9 225.8 L47.5 223.4 L48.1 221.4 L48.7 224.4 L49.3 222.4 L49.9 220 L50.5 219.8 L51.1 218.4 L51.7 221.5 L52.3 218.7 L52.9 218.1 L53.5 219.8 L54.1 223.2 L54.7 215.9 L55.3 218.9 L55.9 222.3 L56.5 222.1 L57.1 222.8 L57.7 224.4 L58.3 226 L58.9 229.4 L59.5 231.5 L60.1 232.9 L60.7 234.1 L61.3 236.9 L61.9 238.3 L62.5 242.5 L63.1 244 L63.7 246.6 L64.3 248.9 L64.9 249.4 L65.5 251.5 L66.1 252.3 L66.7 254.4 L67.3 254.6 L67.9 256.5 L68.5 257.1 L69.1 258.2 L69.7 258.6 L70.3 258.6 L70.9 260.1 L71.5 259.8 L72.1 259.6 L72.7 260.4 L73.3 260 L73.9 260 L74.5 260.9 L75.1 260.7 L75.7 260.2 L76.3 260.6 L76.9 261.1 L77.5 260.8 L78.1 260.9 L78.7 260.8 L79.3 261.1 L79.9 261.4 L80.5 261.1 L81.1 260.8 L81.7 260.8 L82.3 261.1 L82.9 260.9 L83.5 261.2 L84.1 261.2 L84.7 261.2 L85.3 261.1 L85.9 261.4 L86.5 261.4 L87.1 260 L87.7 260.5 L88.3 261.1 L88.9 261.3 L89.5 261.3 L90.1 260.7 L90.7 260.9 L91.3 260.7 L91.9 261.5 L92.5 261.1 L93.1 260.5 L93.7 261.1 L94.3 260.9 L94.9 261.4 L95.5 261 L96.1 260.9 L96.7 261 L97.3 261.5 L97.9 260.8 L98.5 261 L99.1 260.9 L99.7 261.1 L100.3 261.5 L100.9 261.3 L101.5 261.7 L102.1 261.3 L102.7 261.1 L103.3 261.7 L103.9 261.1 L104.5 261.7 L105.1 261.3 L105.7 260.9 L106.3 261.7 L106.9 261.3 L107.5 261.5 L108.1 261.5 L108.7 261.3 L109.3 261 L109.9 261.7 L110.5 261.2 L111.1 261.2 L111.7 260.9 L112.3 261.5 L112.9 261.6 L113.5 260.6 L114.1 260.7 L114.7 261.1 L115.3 261.3 L115.9 261.5 L116.5 261.3 L117.1 261.9 L117.7 261.8 L118.3 261.2 L118.9 261.7 L119.5 261.6 L120.1 261.5 L120.7 261.4 L121.3 261.8 L121.9 261.6 L122.5 261.1 L123.1 261.9 L123.7 261.7 L124.3 261.8 L124.9 261.5 L125.5 261.6 L126.1 261.7 L126.7 262.1 L127.3 262.1 L127.9 261.9 L128.5 260.8 L129.1 261.9 L129.7 261.4 L130.3 261.7 L130.9 261.6 L131.5 261.8 L132.1 261.8 L132.7 261.5 L133.3 261.9 L133.9 262 L134.5 261.9 L135.1 261.7 L135.7 261.9 L136.3 261.7 L136.9 261.3 L137.5 261.7 L138.1 261.9 L138.7 262 L139.3 262.1 L139.9 261.7 L140.5 261.9 L141.1 261.7 L141.7 261.9 L142.3 261.3 L142.9 261.3 L143.5 261.8 L144.1 261.9 L144.7 261.8 L145.3 262 L145.9 262.1 L146.5 261.7 L147.1 261.4 L147.7 261.9 L148.3 261.4 L148.9 261.4 L149.5 262 L150.1 261.9 L150.7 262.1 L151.3 261.9 L151.9 261.9 L152.5 261.5 L153.1 261.9 L153.7 261.8 L154.3 261.9 L154.9 261.8 L155.5 262 L156.1 261.8 L156.7 262 L157.3 261.9 L157.9 261.9 L158.5 261.5 L159.1 261.7 L159.7 262 L160.3 261.7 L160.9 262 L161.5 261.7 L162.1 261.8 L162.7 261.9 L163.3 261.8 L163.9 261.8 L164.5 261.9 L165.1 261.9 L165.7 262 L166.3 262.1 L166.9 261.8 L167.5 261.4 L168.1 261.5 L168.7 261.7 L169.3 261.9 L169.9 261.8 L170.5 261.8 L171.1 261.3 L171.7 261.9 L172.3 261.5 L172.9 262 L173.5 261.8 L174.1 262 L174.7 261.4 L175.3 261.5 L175.9 261.9" fill="none" stroke="#3c3c3c" stroke-width="0.75" stroke-dasharray="1.5 0.7" stroke-linejoin="round"/>
<path d="M33.5 231.8 L34.3 247.9 L35.1 247.5 L35.9 246.6 L36.7 244.8 L37.5 241.2 L38.3 242.5 L39.1 241.8 L39.9 238.5 L40.7 235.9 L41.5 234.4 L42.3 233.1 L43.1 234.1 L43.9 231.9 L44.7 229.7 L45.5 227.8 L46.3 226.7 L47.1 228 L47.9 226.6 L48.7 224.3 L49.5 225.1 L50.3 223.7 L51.1 225.9 L51.9 222.5 L52.7 220.4 L53.5 224.7 L54.3 222.3 L55.1 221.1 L55.9 225 L56.7 222.2 L57.5 225.2 L58.3 223.9 L59.1 223.7 L59.9 229 L60.7 232.1 L61.5 232.6 L62.3 238 L63.1 239.3 L63.9 240.9 L64.7 244.1 L65.5 248 L66.3 250.9 L67.1 253.8 L67.9 254 L68.7 257 L69.5 256.5 L70.3 257.7 L71.1 258.6 L71.9 259.5 L72.7 258.4 L73.5 259.4 L74.3 259.9 L75.1 259.7 L75.9 260.7 L76.7 260.2 L77.5 260.2 L78.3 260.6 L79.1 260.1 L79.9 260.4 L80.7 260.2 L81.5 260.3 L82.3 261.2 L83.1 260.6 L83.9 260.4 L84.7 260.4 L85.5 261.3 L86.3 260.1 L87.1 261.1 L87.9 261.2 L88.7 260.1 L89.5 261.1 L90.3 260.8 L91.1 260.9 L91.9 260.6 L92.7 260 L93.5 261.1 L94.3 260.4 L95.1 261.1 L95.9 261.1 L96.7 260.4 L97.5 261.4 L98.3 261.3 L99.1 260.1 L99.9 261.7 L100.7 260.9 L101.5 261.7 L102.3 260.7 L103.1 261.7 L103.9 260.8 L104.7 260.9 L105.5 261.8 L106.3 261.3 L107.1 261.4 L107.9 261.9 L108.7 261.6 L109.5 261.2 L110.3 262 L111.1 261.8 L111.9 262.1" fill="none" stroke="#050505" stroke-width="1.8" stroke-linejoin="round"/>
<rect x="28.8" y="211.8" width="148.4" height="51.1" fill="none" stroke="#111" stroke-width="1.0"/>
<path d="M29.5 262.9v2.3M40.6 262.9v1.5M47 262.9v1.5M51.6 262.9v1.5M55.2 262.9v1.5M58.1 262.9v1.5M60.5 262.9v1.5M62.7 262.9v1.5M64.5 262.9v1.5M66.2 262.9v2.3M77.3 262.9v1.5M83.7 262.9v1.5M88.3 262.9v1.5M91.9 262.9v1.5M94.8 262.9v1.5M97.3 262.9v1.5M99.4 262.9v1.5M101.3 262.9v1.5M102.9 262.9v2.3M114 262.9v1.5M120.5 262.9v1.5M125.1 262.9v1.5M128.6 262.9v1.5M131.5 262.9v1.5M134 262.9v1.5M136.1 262.9v1.5M138 262.9v1.5M139.7 262.9v2.3M150.7 262.9v1.5M157.2 262.9v1.5M161.8 262.9v1.5M165.3 262.9v1.5M168.3 262.9v1.5M170.7 262.9v1.5M172.8 262.9v1.5M174.7 262.9v1.5M176.4 262.9v2.3" stroke="#111" stroke-width="0.7" fill="none"/>
<path d="M28.8 262.9h-4.5M28.8 261.2h-2.7M28.8 259.5h-2.7M28.8 257.8h-2.7M28.8 256.1h-2.7M28.8 254.4h-4.5M28.8 252.7h-2.7M28.8 251h-2.7M28.8 249.3h-2.7M28.8 247.6h-2.7M28.8 245.9h-4.5M28.8 244.2h-2.7M28.8 242.5h-2.7M28.8 240.8h-2.7M28.8 239.1h-2.7M28.8 237.3h-4.5M28.8 235.6h-2.7M28.8 233.9h-2.7M28.8 232.2h-2.7M28.8 230.5h-2.7M28.8 228.8h-4.5M28.8 227.1h-2.7M28.8 225.4h-2.7M28.8 223.7h-2.7M28.8 222h-2.7M28.8 220.3h-4.5M28.8 218.6h-2.7M28.8 216.9h-2.7M28.8 215.2h-2.7M28.8 213.5h-2.7M28.8 211.8h-4.5" stroke="#111" stroke-width="0.6" fill="none"/>
<text x="29.9" y="272.4" font-size="6.3" text-anchor="middle" fill="#111" font-weight="bold" letter-spacing="0.5">10<tspan font-size="6.9" dy="-2.2">0</tspan></text>
<text x="66.6" y="272.4" font-size="6.3" text-anchor="middle" fill="#111" font-weight="bold" letter-spacing="0.5">10<tspan font-size="6.9" dy="-2.2">1</tspan></text>
<text x="103.3" y="272.4" font-size="6.3" text-anchor="middle" fill="#111" font-weight="bold" letter-spacing="0.5">10<tspan font-size="6.9" dy="-2.2">2</tspan></text>
<text x="140.1" y="272.4" font-size="6.3" text-anchor="middle" fill="#111" font-weight="bold" letter-spacing="0.5">10<tspan font-size="6.9" dy="-2.2">3</tspan></text>
<text x="176.8" y="272.4" font-size="6.3" text-anchor="middle" fill="#111" font-weight="bold" letter-spacing="0.5">10<tspan font-size="6.9" dy="-2.2">4</tspan></text>
<text x="175.8" y="226.2" font-size="13" text-anchor="end" font-weight="normal" fill="#000">NK1.1</text>
<rect x="197.7" y="211.9" width="3.6" height="50.5" fill="#d6d6d6" stroke="none" stroke-width="0"/>
<line x1="198.2" y1="211.3" x2="198.2" y2="263" stroke="#777" stroke-width="0.5"/>
<line x1="201.2" y1="211.3" x2="201.2" y2="263" stroke="#333" stroke-width="0.8"/>
<path d="M201.7 234.6 L202.3 232.3 L202.9 231.1 L203.5 228.9 L204.1 231.3 L204.7 232.5 L205.3 230.2 L205.9 230.1 L206.5 230.1 L207.1 226.8 L207.7 230.9 L208.3 225.5 L208.9 226.5 L209.5 229.2 L210.1 224.6 L210.7 224.4 L211.3 222.9 L211.9 223.6 L212.5 219.5 L213.1 221 L213.7 223.8 L214.3 221.1 L214.9 220 L215.5 220.6 L216.1 220.6 L216.7 220.3 L217.3 221 L217.9 217.8 L218.5 221.3 L219.1 219.7 L219.7 222 L220.3 221.1 L220.9 219.9 L221.5 221.6 L222.1 220.7 L222.7 224.1 L223.3 223.4 L223.9 226 L224.5 225.1 L225.1 230.9 L225.7 230.7 L226.3 235 L226.9 236.4 L227.5 236.4 L228.1 240.3 L228.7 241.6 L229.3 244.7 L229.9 247.5 L230.5 248.5 L231.1 250.3 L231.7 249.9 L232.3 252.3 L232.9 253.6 L233.5 255.2 L234.1 255.2 L234.7 257 L235.3 257.7 L235.9 257.3 L236.5 258 L237.1 259.1 L237.7 258.6 L238.3 258.9 L238.9 260.1 L239.5 260 L240.1 259.9 L240.7 260.2 L241.3 260.1 L241.9 260.2 L242.5 260.3 L243.1 260.8 L243.7 261.2 L244.3 260.6 L244.9 260.8 L245.5 260.7 L246.1 260.4 L246.7 261 L247.3 261.2 L247.9 260.6 L248.5 261.3 L249.1 260.8 L249.7 261.4 L250.3 261.5 L250.9 260.9 L251.5 260.4 L252.1 261 L252.7 260.6 L253.3 260.7 L253.9 261 L254.5 261.6 L255.1 261.1 L255.7 261.1 L256.3 260.6 L256.9 261 L257.5 260.7 L258.1 261.4 L258.7 261.1 L259.3 261.3 L259.9 261.3 L260.5 261.3 L261.1 261.7 L261.7 261.5 L262.3 261.3 L262.9 261.4 L263.5 261.6 L264.1 261.9 L264.7 261.5 L265.3 261.9 L265.9 261.3 L266.5 261.4 L267.1 261.1 L267.7 261.8 L268.3 261.3 L268.9 261.3 L269.5 261.9 L270.1 261.5 L270.7 261.4 L271.3 262 L271.9 261.7 L272.5 262 L273.1 261.6 L273.7 262 L274.3 262.1 L274.9 261.8 L275.5 262.2 L276.1 261.7 L276.7 261.8 L277.3 261.9 L277.9 262.2 L278.5 261.9 L279.1 261.8 L279.7 262.1 L280.3 261.8 L280.9 262.1 L281.5 261.8 L282.1 262.2 L282.7 262 L283.3 262 L283.9 262.2 L284.5 261.5 L285.1 262.2 L285.7 262.2 L286.3 262 L286.9 262.1 L287.5 261.9 L288.1 261.9 L288.7 262 L289.3 261.6 L289.9 262 L290.5 261.8 L291.1 261.9 L291.7 261.6 L292.3 262 L292.9 262 L293.5 261.9 L294.1 262.1 L294.7 262.2 L295.3 261.7 L295.9 261.7 L296.5 262.1 L297.1 262.2 L297.7 261.6 L298.3 261.8 L298.9 261.6 L299.5 262 L300.1 262.1 L300.7 262.1 L301.3 262.1 L301.9 262 L302.5 261.9 L303.1 261.8 L303.7 261.7 L304.3 262.1 L304.9 261.4 L305.5 261.6 L306.1 262.2 L306.7 261.8 L307.3 262.2 L307.9 262 L308.5 261.9 L309.1 261.7 L309.7 261.6 L310.3 262.1 L310.9 261.8 L311.5 261.8 L312.1 262.2 L312.7 261.9 L313.3 262.1 L313.9 261.7 L314.5 261.6 L315.1 261.8 L315.7 262.1 L316.3 262.1 L316.9 262.1 L317.5 261.7 L318.1 261.7 L318.7 261.9 L319.3 262.1 L319.9 262 L320.5 261.7 L321.1 261.8 L321.7 262.1 L322.3 261.4 L322.9 262.2 L323.5 261.8 L324.1 261.5 L324.7 262.1 L325.3 262.1 L325.9 262 L326.5 262.1 L327.1 261.8 L327.7 262.2 L328.3 261.9 L328.9 261.6 L329.5 262 L330.1 262 L330.7 262 L331.3 262 L331.9 261.5 L332.5 262 L333.1 261.7 L333.7 262.1 L334.3 262.1 L334.9 262.1 L335.5 262 L336.1 262.1 L336.7 261.8 L337.3 261.9 L337.9 262 L338.5 262.2 L339.1 262 L339.7 261.8 L340.3 262 L340.9 262.2 L341.5 261.7 L342.1 262 L342.7 261.9 L343.3 261.9 L343.3 263 L201.7 263 Z" fill="#e6e6e6" stroke="none"/>
<path d="M201.7 234.6 L202.3 232.3 L202.9 231.1 L203.5 228.9 L204.1 231.3 L204.7 232.5 L205.3 230.2 L205.9 230.1 L206.5 230.1 L207.1 226.8 L207.7 230.9 L208.3 225.5 L208.9 226.5 L209.5 229.2 L210.1 224.6 L210.7 224.4 L211.3 222.9 L211.9 223.6 L212.5 219.5 L213.1 221 L213.7 223.8 L214.3 221.1 L214.9 220 L215.5 220.6 L216.1 220.6 L216.7 220.3 L217.3 221 L217.9 217.8 L218.5 221.3 L219.1 219.7 L219.7 222 L220.3 221.1 L220.9 219.9 L221.5 221.6 L222.1 220.7 L222.7 224.1 L223.3 223.4 L223.9 226 L224.5 225.1 L225.1 230.9 L225.7 230.7 L226.3 235 L226.9 236.4 L227.5 236.4 L228.1 240.3 L228.7 241.6 L229.3 244.7 L229.9 247.5 L230.5 248.5 L231.1 250.3 L231.7 249.9 L232.3 252.3 L232.9 253.6 L233.5 255.2 L234.1 255.2 L234.7 257 L235.3 257.7 L235.9 257.3 L236.5 258 L237.1 259.1 L237.7 258.6 L238.3 258.9 L238.9 260.1 L239.5 260 L240.1 259.9 L240.7 260.2 L241.3 260.1 L241.9 260.2 L242.5 260.3 L243.1 260.8 L243.7 261.2 L244.3 260.6 L244.9 260.8 L245.5 260.7 L246.1 260.4 L246.7 261 L247.3 261.2 L247.9 260.6 L248.5 261.3 L249.1 260.8 L249.7 261.4 L250.3 261.5 L250.9 260.9 L251.5 260.4 L252.1 261 L252.7 260.6 L253.3 260.7 L253.9 261 L254.5 261.6 L255.1 261.1 L255.7 261.1 L256.3 260.6 L256.9 261 L257.5 260.7 L258.1 261.4 L258.7 261.1 L259.3 261.3 L259.9 261.3 L260.5 261.3 L261.1 261.7 L261.7 261.5 L262.3 261.3 L262.9 261.4 L263.5 261.6 L264.1 261.9 L264.7 261.5 L265.3 261.9 L265.9 261.3 L266.5 261.4 L267.1 261.1 L267.7 261.8 L268.3 261.3 L268.9 261.3 L269.5 261.9 L270.1 261.5 L270.7 261.4 L271.3 262 L271.9 261.7 L272.5 262 L273.1 261.6 L273.7 262 L274.3 262.1 L274.9 261.8 L275.5 262.2 L276.1 261.7 L276.7 261.8 L277.3 261.9 L277.9 262.2 L278.5 261.9 L279.1 261.8 L279.7 262.1 L280.3 261.8 L280.9 262.1 L281.5 261.8 L282.1 262.2 L282.7 262 L283.3 262 L283.9 262.2 L284.5 261.5 L285.1 262.2 L285.7 262.2 L286.3 262 L286.9 262.1 L287.5 261.9 L288.1 261.9 L288.7 262 L289.3 261.6 L289.9 262 L290.5 261.8 L291.1 261.9 L291.7 261.6 L292.3 262 L292.9 262 L293.5 261.9 L294.1 262.1 L294.7 262.2 L295.3 261.7 L295.9 261.7 L296.5 262.1 L297.1 262.2 L297.7 261.6 L298.3 261.8 L298.9 261.6 L299.5 262 L300.1 262.1 L300.7 262.1 L301.3 262.1 L301.9 262 L302.5 261.9 L303.1 261.8 L303.7 261.7 L304.3 262.1 L304.9 261.4 L305.5 261.6 L306.1 262.2 L306.7 261.8 L307.3 262.2 L307.9 262 L308.5 261.9 L309.1 261.7 L309.7 261.6 L310.3 262.1 L310.9 261.8 L311.5 261.8 L312.1 262.2 L312.7 261.9 L313.3 262.1 L313.9 261.7 L314.5 261.6 L315.1 261.8 L315.7 262.1 L316.3 262.1 L316.9 262.1 L317.5 261.7 L318.1 261.7 L318.7 261.9 L319.3 262.1 L319.9 262 L320.5 261.7 L321.1 261.8 L321.7 262.1 L322.3 261.4 L322.9 262.2 L323.5 261.8 L324.1 261.5 L324.7 262.1 L325.3 262.1 L325.9 262 L326.5 262.1 L327.1 261.8 L327.7 262.2 L328.3 261.9 L328.9 261.6 L329.5 262 L330.1 262 L330.7 262 L331.3 262 L331.9 261.5 L332.5 262 L333.1 261.7 L333.7 262.1 L334.3 262.1 L334.9 262.1 L335.5 262 L336.1 262.1 L336.7 261.8 L337.3 261.9 L337.9 262 L338.5 262.2 L339.1 262 L339.7 261.8 L340.3 262 L340.9 262.2 L341.5 261.7 L342.1 262 L342.7 261.9 L343.3 261.9" fill="none" stroke="#2a2a2a" stroke-width="0.8" stroke-linejoin="round"/>
<path d="M201.7 231 L202.3 232.1 L202.9 230.5 L203.5 231.9 L204.1 231.1 L204.7 228.7 L205.3 227.2 L205.9 227.3 L206.5 226.3 L207.1 225.4 L207.7 225.2 L208.3 225.4 L208.9 225.7 L209.5 224.5 L210.1 222.3 L210.7 220.3 L211.3 220.8 L211.9 220.8 L212.5 222.3 L213.1 220.3 L213.7 217.8 L214.3 221.3 L214.9 220.8 L215.5 219.2 L216.1 217.1 L216.7 218.4 L217.3 219.3 L217.9 219.6 L218.5 218.3 L219.1 218.7 L219.7 222 L220.3 217.7 L220.9 222.6 L221.5 219.5 L222.1 223.1 L222.7 222.7 L223.3 223.5 L223.9 223.9 L224.5 227.5 L225.1 228.1 L225.7 229.9 L226.3 230.8 L226.9 235.2 L227.5 237.1 L228.1 238.5 L228.7 240.1 L229.3 243.3 L229.9 245.5 L230.5 246.8 L231.1 249.9 L231.7 250.6 L232.3 250.5 L232.9 252.2 L233.5 255.3 L234.1 255.4 L234.7 256.6 L235.3 256.8 L235.9 257.8 L236.5 258.2 L237.1 258.1 L237.7 258.3 L238.3 259.1 L238.9 259.4 L239.5 259.3 L240.1 259.9 L240.7 259.8 L241.3 261.1 L241.9 259.9 L242.5 261.4 L243.1 260.5 L243.7 260.7 L244.3 260.6 L244.9 260.8 L245.5 261 L246.1 260.8 L246.7 260.8 L247.3 261 L247.9 261 L248.5 261.3 L249.1 261.6 L249.7 260.7 L250.3 261.1 L250.9 261 L251.5 260.9 L252.1 260.8 L252.7 260.8 L253.3 260.9 L253.9 260.9 L254.5 261.7 L255.1 261.9 L255.7 261.2 L256.3 261.8 L256.9 260.6 L257.5 261.7 L258.1 261 L258.7 261.3 L259.3 261 L259.9 261.3 L260.5 261.6 L261.1 261.2 L261.7 261.5 L262.3 261.8 L262.9 261.8 L263.5 261.7 L264.1 261.6 L264.7 261.5 L265.3 261.5 L265.9 261.4 L266.5 261.1 L267.1 261.4 L267.7 261.4 L268.3 262.1 L268.9 261.7 L269.5 261.9 L270.1 261.4 L270.7 261.6 L271.3 261.7 L271.9 261.7 L272.5 261.9 L273.1 261.4 L273.7 262 L274.3 262 L274.9 261.8 L275.5 261.6 L276.1 262 L276.7 261.9 L277.3 261.6 L277.9 262.2 L278.5 261.6 L279.1 261.9 L279.7 262.2 L280.3 262.2 L280.9 261.7 L281.5 261.6 L282.1 261.5 L282.7 262 L283.3 262 L283.9 261.5 L284.5 261.8 L285.1 261.9 L285.7 262.1 L286.3 262 L286.9 261.7 L287.5 261.8 L288.1 262 L288.7 261.9 L289.3 261.6 L289.9 262.1 L290.5 262.2 L291.1 261.7 L291.7 262.2 L292.3 262.2 L292.9 261.9 L293.5 261.9 L294.1 262 L294.7 262 L295.3 261.8 L295.9 261.9 L296.5 262.2 L297.1 261.8 L297.7 262 L298.3 261.8 L298.9 262.2 L299.5 261.8 L300.1 262.1 L300.7 261.9 L301.3 261.6 L301.9 261.8 L302.5 261.5 L303.1 262 L303.7 261.9 L304.3 261.8 L304.9 262.1 L305.5 262 L306.1 261.8 L306.7 262.2 L307.3 261.4 L307.9 261.9 L308.5 261.6 L309.1 262.2 L309.7 261.5 L310.3 261.6 L310.9 261.8 L311.5 262 L312.1 262.2 L312.7 261.7 L313.3 262.1 L313.9 261.9 L314.5 261.7 L315.1 261.8 L315.7 261.9 L316.3 261.8 L316.9 262.2 L317.5 262.1 L318.1 262.1 L318.7 261.9 L319.3 262 L319.9 261.6 L320.5 262.1 L321.1 261.8 L321.7 261.3 L322.3 261.7 L322.9 262.1 L323.5 261.9 L324.1 261.8 L324.7 262 L325.3 262 L325.9 261.5 L326.5 261.8 L327.1 261.7 L327.7 261.9 L328.3 262 L328.9 261.9 L329.5 261.5 L330.1 262 L330.7 261.7 L331.3 261.9 L331.9 261.9 L332.5 261.7 L333.1 261.6 L333.7 261.8 L334.3 261.7 L334.9 262.1 L335.5 261.9 L336.1 262.2 L336.7 261.6 L337.3 261.8 L337.9 262.1 L338.5 261.9 L339.1 262 L339.7 262.2 L340.3 261.6 L340.9 262.1 L341.5 261.7 L342.1 262.1 L342.7 261.9 L343.3 261.6" fill="none" stroke="#3c3c3c" stroke-width="0.75" stroke-dasharray="1.5 0.7" stroke-linejoin="round"/>
<path d="M201.5 236.2 L202.3 248.9 L203.1 248.5 L203.9 246.2 L204.7 244.8 L205.5 244.9 L206.3 243.6 L207.1 242 L207.9 242.2 L208.7 240.8 L209.5 240 L210.3 237.2 L211.1 237.7 L211.9 236.7 L212.7 234.2 L213.5 235.4 L214.3 235.6 L215.1 232.5 L215.9 230.7 L216.7 229.2 L217.5 231.1 L218.3 227.1 L219.1 224.6 L219.9 225.7 L220.7 225.1 L221.5 223.3 L222.3 223.3 L223.1 223.8 L223.9 223.2 L224.7 219.5 L225.5 221.2 L226.3 222.7 L227.1 223.7 L227.9 225.3 L228.7 229.1 L229.5 234.8 L230.3 234.7 L231.1 234.4 L231.9 241.4 L232.7 242.1 L233.5 245 L234.3 246 L235.1 246.6 L235.9 249.7 L236.7 251.4 L237.5 252.2 L238.3 254.6 L239.1 254.3 L239.9 255.5 L240.7 255.8 L241.5 255.3 L242.3 257.1 L243.1 256.9 L243.9 258.2 L244.7 258 L245.5 258.5 L246.3 258.1 L247.1 259.5 L247.9 258.4 L248.7 258.4 L249.5 258.9 L250.3 259.6 L251.1 260 L251.9 259.2 L252.7 259.2 L253.5 259.2 L254.3 259.3 L255.1 260.2 L255.9 259.9 L256.7 259.7 L257.5 259.8 L258.3 259.8 L259.1 259.8 L259.9 259.5 L260.7 260.4 L261.5 259.8 L262.3 259.4 L263.1 259.9 L263.9 260 L264.7 260.6 L265.5 261 L266.3 260.7 L267.1 260.7 L267.9 260.8 L268.7 260.3 L269.5 260 L270.3 261 L271.1 261 L271.9 261.4 L272.7 260.8 L273.5 260.9 L274.3 261.5 L275.1 261 L275.9 261.6 L276.7 261 L277.5 261 L278.3 261.3 L279.1 261 L279.9 261.8 L280.7 261.5 L281.5 261.8 L282.3 261.8 L283.1 262.2 L283.9 261.8 L284.7 261.8" fill="none" stroke="#050505" stroke-width="1.8" stroke-linejoin="round"/>
<rect x="196.8" y="211.3" width="147.9" height="51.7" fill="none" stroke="#111" stroke-width="1.0"/>
<path d="M197.5 263v2.3M208.5 263v1.5M215 263v1.5M219.5 263v1.5M223.1 263v1.5M226 263v1.5M228.4 263v1.5M230.6 263v1.5M232.4 263v1.5M234.1 263v2.3M245.1 263v1.5M251.6 263v1.5M256.1 263v1.5M259.7 263v1.5M262.6 263v1.5M265 263v1.5M267.2 263v1.5M269 263v1.5M270.7 263v2.3M281.7 263v1.5M288.2 263v1.5M292.7 263v1.5M296.3 263v1.5M299.2 263v1.5M301.6 263v1.5M303.8 263v1.5M305.6 263v1.5M307.3 263v2.3M318.3 263v1.5M324.8 263v1.5M329.3 263v1.5M332.9 263v1.5M335.8 263v1.5M338.2 263v1.5M340.4 263v1.5M342.2 263v1.5M343.9 263v2.3" stroke="#111" stroke-width="0.7" fill="none"/>
<path d="M196.8 263h-4.5M196.8 261.3h-2.7M196.8 259.6h-2.7M196.8 257.8h-2.7M196.8 256.1h-2.7M196.8 254.4h-4.5M196.8 252.7h-2.7M196.8 250.9h-2.7M196.8 249.2h-2.7M196.8 247.5h-2.7M196.8 245.8h-4.5M196.8 244h-2.7M196.8 242.3h-2.7M196.8 240.6h-2.7M196.8 238.9h-2.7M196.8 237.2h-4.5M196.8 235.4h-2.7M196.8 233.7h-2.7M196.8 232h-2.7M196.8 230.3h-2.7M196.8 228.5h-4.5M196.8 226.8h-2.7M196.8 225.1h-2.7M196.8 223.4h-2.7M196.8 221.6h-2.7M196.8 219.9h-4.5M196.8 218.2h-2.7M196.8 216.5h-2.7M196.8 214.7h-2.7M196.8 213h-2.7M196.8 211.3h-4.5" stroke="#111" stroke-width="0.6" fill="none"/>
<text x="197.9" y="272.5" font-size="6.3" text-anchor="middle" fill="#111" font-weight="bold" letter-spacing="0.5">10<tspan font-size="6.9" dy="-2.2">0</tspan></text>
<text x="234.5" y="272.5" font-size="6.3" text-anchor="middle" fill="#111" font-weight="bold" letter-spacing="0.5">10<tspan font-size="6.9" dy="-2.2">1</tspan></text>
<text x="271.1" y="272.5" font-size="6.3" text-anchor="middle" fill="#111" font-weight="bold" letter-spacing="0.5">10<tspan font-size="6.9" dy="-2.2">2</tspan></text>
<text x="307.7" y="272.5" font-size="6.3" text-anchor="middle" fill="#111" font-weight="bold" letter-spacing="0.5">10<tspan font-size="6.9" dy="-2.2">3</tspan></text>
<text x="344.3" y="272.5" font-size="6.3" text-anchor="middle" fill="#111" font-weight="bold" letter-spacing="0.5">10<tspan font-size="6.9" dy="-2.2">4</tspan></text>
<text x="340.9" y="225.2" font-size="13" text-anchor="end" font-weight="normal" fill="#000">DX5</text>
<rect x="366" y="211.8" width="3.6" height="50.5" fill="#d6d6d6" stroke="none" stroke-width="0"/>
<line x1="366.5" y1="211.2" x2="366.5" y2="262.9" stroke="#777" stroke-width="0.5"/>
<line x1="369.5" y1="211.2" x2="369.5" y2="262.9" stroke="#333" stroke-width="0.8"/>
<path d="M369.7 226.1 L370.3 244.1 L370.9 244.8 L371.5 242.6 L372.1 242.4 L372.7 241.5 L373.3 237.8 L373.9 239.3 L374.5 236.2 L375.1 238.3 L375.7 235.7 L376.3 233.2 L376.9 233.1 L377.5 232.2 L378.1 231.5 L378.7 231.9 L379.3 229.8 L379.9 230.3 L380.5 227.9 L381.1 225.8 L381.7 222.9 L382.3 221.9 L382.9 223.4 L383.5 223.2 L384.1 223.2 L384.7 219.1 L385.3 219.1 L385.9 216.8 L386.5 216.6 L387.1 213.2 L387.7 217.6 L388.3 215.5 L388.9 216.9 L389.5 218.2 L390.1 218.6 L390.7 216.7 L391.3 221.6 L391.9 221.1 L392.5 221.5 L393.1 220.7 L393.7 220.4 L394.3 221.8 L394.9 225.6 L395.5 228.1 L396.1 229.1 L396.7 234.3 L397.3 234.3 L397.9 237.1 L398.5 239 L399.1 238.8 L399.7 243 L400.3 244.3 L400.9 244.6 L401.5 248.3 L402.1 250.3 L402.7 251.9 L403.3 253.6 L403.9 253.7 L404.5 256 L405.1 256.8 L405.7 257.8 L406.3 258.4 L406.9 259.3 L407.5 259.4 L408.1 259 L408.7 259.9 L409.3 260.4 L409.9 260 L410.5 259.3 L411.1 259.7 L411.7 260 L412.3 259.4 L412.9 260 L413.5 259.6 L414.1 260.4 L414.7 260.4 L415.3 260.1 L415.9 259.7 L416.5 260.3 L417.1 259.9 L417.7 259.9 L418.3 260.6 L418.9 259.9 L419.5 259.7 L420.1 260.5 L420.7 260.9 L421.3 260.9 L421.9 260.6 L422.5 261.1 L423.1 260.1 L423.7 261.1 L424.3 261.1 L424.9 260.2 L425.5 260.5 L426.1 259.8 L426.7 259.9 L427.3 260.6 L427.9 259.9 L428.5 260.5 L429.1 260.6 L429.7 260.5 L430.3 260.8 L430.9 261.2 L431.5 260.6 L432.1 260.9 L432.7 261.1 L433.3 260.4 L433.9 260.3 L434.5 259.7 L435.1 260.8 L435.7 261 L436.3 260.8 L436.9 261.5 L437.5 261.3 L438.1 261 L438.7 260.7 L439.3 260.4 L439.9 260.8 L440.5 261 L441.1 260.8 L441.7 260.7 L442.3 260.7 L442.9 261.1 L443.5 260.3 L444.1 260.8 L444.7 261 L445.3 261.2 L445.9 261.2 L446.5 260.9 L447.1 260.8 L447.7 260.6 L448.3 261.5 L448.9 261.3 L449.5 261.2 L450.1 260.9 L450.7 260.8 L451.3 261.6 L451.9 261.2 L452.5 261.4 L453.1 261.8 L453.7 260.7 L454.3 261 L454.9 261.4 L455.5 261.5 L456.1 261 L456.7 261.3 L457.3 261.2 L457.9 261.2 L458.5 261.5 L459.1 261.5 L459.7 261.8 L460.3 261.7 L460.9 262 L461.5 261.3 L462.1 261.7 L462.7 261.1 L463.3 261.1 L463.9 261.2 L464.5 261.8 L465.1 261.7 L465.7 261.2 L466.3 262.1 L466.9 262 L467.5 261.7 L468.1 261.7 L468.7 261.7 L469.3 261.4 L469.9 262.1 L470.5 261.9 L471.1 262 L471.7 262 L472.3 261.9 L472.9 261.8 L473.5 262 L474.1 261.7 L474.7 261.7 L475.3 261.8 L475.9 261.8 L476.5 261.7 L477.1 261.7 L477.7 262 L478.3 261.7 L478.9 262 L479.5 261.8 L480.1 262 L480.7 262.1 L481.3 261.6 L481.9 261.9 L482.5 261.9 L483.1 261.5 L483.7 262.1 L484.3 261.9 L484.9 261.9 L485.5 261.4 L486.1 261.7 L486.7 261.8 L487.3 261.7 L487.9 262 L488.5 262 L489.1 261.4 L489.7 262.1 L490.3 262 L490.9 261.5 L491.5 261.9 L492.1 261.4 L492.7 261.8 L493.3 261.8 L493.9 262 L494.5 261.7 L495.1 261.8 L495.7 262 L496.3 262.1 L496.9 262 L497.5 261.5 L498.1 261.6 L498.7 261.7 L499.3 262 L499.9 262.1 L500.5 261.5 L501.1 262 L501.7 262 L502.3 261.1 L502.9 261.6 L503.5 261.7 L504.1 261.7 L504.7 261.9 L505.3 261.8 L505.9 261.6 L506.5 261.7 L507.1 262.1 L507.7 261.6 L508.3 261.4 L508.9 261.9 L509.5 261.6 L510.1 262 L510.7 261.6 L510.7 262.9 L369.7 262.9 Z" fill="#e6e6e6" stroke="none"/>
<path d="M369.7 226.1 L370.3 244.1 L370.9 244.8 L371.5 242.6 L372.1 242.4 L372.7 241.5 L373.3 237.8 L373.9 239.3 L374.5 236.2 L375.1 238.3 L375.7 235.7 L376.3 233.2 L376.9 233.1 L377.5 232.2 L378.1 231.5 L378.7 231.9 L379.3 229.8 L379.9 230.3 L380.5 227.9 L381.1 225.8 L381.7 222.9 L382.3 221.9 L382.9 223.4 L383.5 223.2 L384.1 223.2 L384.7 219.1 L385.3 219.1 L385.9 216.8 L386.5 216.6 L387.1 213.2 L387.7 217.6 L388.3 215.5 L388.9 216.9 L389.5 218.2 L390.1 218.6 L390.7 216.7 L391.3 221.6 L391.9 221.1 L392.5 221.5 L393.1 220.7 L393.7 220.4 L394.3 221.8 L394.9 225.6 L395.5 228.1 L396.1 229.1 L396.7 234.3 L397.3 234.3 L397.9 237.1 L398.5 239 L399.1 238.8 L399.7 243 L400.3 244.3 L400.9 244.6 L401.5 248.3 L402.1 250.3 L402.7 251.9 L403.3 253.6 L403.9 253.7 L404.5 256 L405.1 256.8 L405.7 257.8 L406.3 258.4 L406.9 259.3 L407.5 259.4 L408.1 259 L408.7 259.9 L409.3 260.4 L409.9 260 L410.5 259.3 L411.1 259.7 L411.7 260 L412.3 259.4 L412.9 260 L413.5 259.6 L414.1 260.4 L414.7 260.4 L415.3 260.1 L415.9 259.7 L416.5 260.3 L417.1 259.9 L417.7 259.9 L418.3 260.6 L418.9 259.9 L419.5 259.7 L420.1 260.5 L420.7 260.9 L421.3 260.9 L421.9 260.6 L422.5 261.1 L423.1 260.1 L423.7 261.1 L424.3 261.1 L424.9 260.2 L425.5 260.5 L426.1 259.8 L426.7 259.9 L427.3 260.6 L427.9 259.9 L428.5 260.5 L429.1 260.6 L429.7 260.5 L430.3 260.8 L430.9 261.2 L431.5 260.6 L432.1 260.9 L432.7 261.1 L433.3 260.4 L433.9 260.3 L434.5 259.7 L435.1 260.8 L435.7 261 L436.3 260.8 L436.9 261.5 L437.5 261.3 L438.1 261 L438.7 260.7 L439.3 260.4 L439.9 260.8 L440.5 261 L441.1 260.8 L441.7 260.7 L442.3 260.7 L442.9 261.1 L443.5 260.3 L444.1 260.8 L444.7 261 L445.3 261.2 L445.9 261.2 L446.5 260.9 L447.1 260.8 L447.7 260.6 L448.3 261.5 L448.9 261.3 L449.5 261.2 L450.1 260.9 L450.7 260.8 L451.3 261.6 L451.9 261.2 L452.5 261.4 L453.1 261.8 L453.7 260.7 L454.3 261 L454.9 261.4 L455.5 261.5 L456.1 261 L456.7 261.3 L457.3 261.2 L457.9 261.2 L458.5 261.5 L459.1 261.5 L459.7 261.8 L460.3 261.7 L460.9 262 L461.5 261.3 L462.1 261.7 L462.7 261.1 L463.3 261.1 L463.9 261.2 L464.5 261.8 L465.1 261.7 L465.7 261.2 L466.3 262.1 L466.9 262 L467.5 261.7 L468.1 261.7 L468.7 261.7 L469.3 261.4 L469.9 262.1 L470.5 261.9 L471.1 262 L471.7 262 L472.3 261.9 L472.9 261.8 L473.5 262 L474.1 261.7 L474.7 261.7 L475.3 261.8 L475.9 261.8 L476.5 261.7 L477.1 261.7 L477.7 262 L478.3 261.7 L478.9 262 L479.5 261.8 L480.1 262 L480.7 262.1 L481.3 261.6 L481.9 261.9 L482.5 261.9 L483.1 261.5 L483.7 262.1 L484.3 261.9 L484.9 261.9 L485.5 261.4 L486.1 261.7 L486.7 261.8 L487.3 261.7 L487.9 262 L488.5 262 L489.1 261.4 L489.7 262.1 L490.3 262 L490.9 261.5 L491.5 261.9 L492.1 261.4 L492.7 261.8 L493.3 261.8 L493.9 262 L494.5 261.7 L495.1 261.8 L495.7 262 L496.3 262.1 L496.9 262 L497.5 261.5 L498.1 261.6 L498.7 261.7 L499.3 262 L499.9 262.1 L500.5 261.5 L501.1 262 L501.7 262 L502.3 261.1 L502.9 261.6 L503.5 261.7 L504.1 261.7 L504.7 261.9 L505.3 261.8 L505.9 261.6 L506.5 261.7 L507.1 262.1 L507.7 261.6 L508.3 261.4 L508.9 261.9 L509.5 261.6 L510.1 262 L510.7 261.6" fill="none" stroke="#2a2a2a" stroke-width="0.8" stroke-linejoin="round"/>
<path d="M369.7 227.8 L370.3 241.1 L370.9 241.8 L371.5 242.3 L372.1 240.3 L372.7 238.3 L373.3 238 L373.9 236.5 L374.5 234.7 L375.1 233.3 L375.7 233.6 L376.3 231.6 L376.9 228.1 L377.5 230.1 L378.1 228.5 L378.7 227.5 L379.3 227.3 L379.9 225.4 L380.5 225.4 L381.1 225 L381.7 222.3 L382.3 222 L382.9 222.1 L383.5 221.3 L384.1 219.6 L384.7 218.5 L385.3 217.3 L385.9 214.8 L386.5 216.2 L387.1 216.1 L387.7 215.6 L388.3 216.2 L388.9 216.9 L389.5 219.1 L390.1 216 L390.7 218.9 L391.3 218.3 L391.9 222.5 L392.5 221.1 L393.1 221.1 L393.7 224.3 L394.3 224.1 L394.9 227 L395.5 228.2 L396.1 232.7 L396.7 233.6 L397.3 235.3 L397.9 236.9 L398.5 237.7 L399.1 241.1 L399.7 242.8 L400.3 243.3 L400.9 248 L401.5 248.1 L402.1 249.9 L402.7 253.1 L403.3 254.2 L403.9 255.4 L404.5 257.4 L405.1 258 L405.7 257.9 L406.3 258.7 L406.9 258.9 L407.5 259.5 L408.1 260.2 L408.7 259.5 L409.3 259.7 L409.9 259.9 L410.5 259.7 L411.1 260.3 L411.7 260.7 L412.3 260.2 L412.9 259.6 L413.5 259.8 L414.1 260.5 L414.7 260.1 L415.3 259.9 L415.9 259.5 L416.5 260.4 L417.1 260.4 L417.7 260.3 L418.3 259.9 L418.9 260.3 L419.5 260 L420.1 259.7 L420.7 260.3 L421.3 260.7 L421.9 260.3 L422.5 259.4 L423.1 261 L423.7 260.2 L424.3 260.5 L424.9 259.7 L425.5 260.5 L426.1 260 L426.7 259.9 L427.3 259.6 L427.9 260 L428.5 260.4 L429.1 260.2 L429.7 261.1 L430.3 260.3 L430.9 260.4 L431.5 260.8 L432.1 260.3 L432.7 260.4 L433.3 260.6 L433.9 260.7 L434.5 260.7 L435.1 260.8 L435.7 260 L436.3 260.4 L436.9 260.9 L437.5 260.6 L438.1 260.5 L438.7 260.3 L439.3 261.3 L439.9 260.5 L440.5 260.9 L441.1 260.2 L441.7 260.4 L442.3 260 L442.9 260.7 L443.5 261.3 L444.1 261 L444.7 260.7 L445.3 260.3 L445.9 260.8 L446.5 261 L447.1 261.3 L447.7 260.9 L448.3 260.7 L448.9 261.3 L449.5 261.1 L450.1 261 L450.7 261.5 L451.3 261.4 L451.9 261.6 L452.5 260.9 L453.1 260.9 L453.7 261.6 L454.3 261.3 L454.9 260.7 L455.5 261.4 L456.1 261.5 L456.7 261.6 L457.3 261.1 L457.9 260.8 L458.5 261.1 L459.1 261.4 L459.7 261.6 L460.3 261.3 L460.9 261.5 L461.5 261.8 L462.1 261.1 L462.7 261.5 L463.3 261.1 L463.9 262 L464.5 261.7 L465.1 261.6 L465.7 261.4 L466.3 261.5 L466.9 261.9 L467.5 261.9 L468.1 261 L468.7 261.8 L469.3 262.1 L469.9 261.6 L470.5 261.2 L471.1 261.3 L471.7 262 L472.3 261.8 L472.9 261.7 L473.5 261.9 L474.1 262.1 L474.7 261.9 L475.3 261.8 L475.9 261.8 L476.5 261.9 L477.1 261.7 L477.7 261.6 L478.3 261.9 L478.9 261.9 L479.5 261.7 L480.1 261.2 L480.7 261.9 L481.3 262.1 L481.9 262 L482.5 261.7 L483.1 261.4 L483.7 261.6 L484.3 261.6 L484.9 261.6 L485.5 261.6 L486.1 262.1 L486.7 261.7 L487.3 261.9 L487.9 261.9 L488.5 262.1 L489.1 261.5 L489.7 261.7 L490.3 261.8 L490.9 262 L491.5 261.9 L492.1 261.9 L492.7 261.6 L493.3 261.8 L493.9 261.4 L494.5 262 L495.1 261.4 L495.7 261.5 L496.3 261.7 L496.9 261.9 L497.5 261.8 L498.1 262.1 L498.7 261.7 L499.3 262 L499.9 261.9 L500.5 261.9 L501.1 261.8 L501.7 261.6 L502.3 262.1 L502.9 261.7 L503.5 261.9 L504.1 261.9 L504.7 261.9 L505.3 262 L505.9 261.4 L506.5 261.6 L507.1 262 L507.7 262.1 L508.3 262 L508.9 261.9 L509.5 260.8 L510.1 261.8 L510.7 261.9" fill="none" stroke="#3c3c3c" stroke-width="0.75" stroke-dasharray="1.5 0.7" stroke-linejoin="round"/>
<path d="M369.5 228.4 L370.3 245.6 L371.1 244.9 L371.9 244 L372.7 241.1 L373.5 238.5 L374.3 238.8 L375.1 236 L375.9 235.4 L376.7 236.3 L377.5 232.6 L378.3 232.3 L379.1 231.8 L379.9 230.3 L380.7 229 L381.5 227.1 L382.3 227.7 L383.1 224.6 L383.9 220.9 L384.7 221.7 L385.5 218.6 L386.3 217.4 L387.1 219.6 L387.9 217.9 L388.7 215.7 L389.5 220 L390.3 217.3 L391.1 220.3 L391.9 221 L392.7 220.6 L393.5 221.3 L394.3 224.2 L395.1 226.2 L395.9 229.7 L396.7 231 L397.5 233.5 L398.3 235.9 L399.1 237.1 L399.9 241 L400.7 243.1 L401.5 245.7 L402.3 247.7 L403.1 252 L403.9 252.5 L404.7 254.1 L405.5 256.6 L406.3 256 L407.1 258.7 L407.9 258.3 L408.7 258.5 L409.5 259.5 L410.3 259 L411.1 259.5 L411.9 260.3 L412.7 259.7 L413.5 259.6 L414.3 259 L415.1 260.2 L415.9 260.3 L416.7 259.6 L417.5 260.6 L418.3 260.3 L419.1 259.9 L419.9 259.7 L420.7 260.7 L421.5 259.4 L422.3 260.4 L423.1 259.4 L423.9 259.8 L424.7 260.2 L425.5 260.8 L426.3 260.5 L427.1 259.8 L427.9 260.2 L428.7 259.6 L429.5 259.8 L430.3 260.1 L431.1 259.9 L431.9 260.2 L432.7 260.1 L433.5 260.5 L434.3 259.9 L435.1 260.7 L435.9 261 L436.7 261 L437.5 260.5 L438.3 261 L439.1 261 L439.9 260.4 L440.7 261.1 L441.5 260.7 L442.3 260.8 L443.1 260.6 L443.9 261.4 L444.7 261.4 L445.5 261.4 L446.3 261.3 L447.1 261.8 L447.9 261.9" fill="none" stroke="#050505" stroke-width="1.8" stroke-linejoin="round"/>
<rect x="365.1" y="211.2" width="147.1" height="51.7" fill="none" stroke="#111" stroke-width="1.0"/>
<path d="M365.8 262.9v2.3M376.8 262.9v1.5M383.2 262.9v1.5M387.7 262.9v1.5M391.2 262.9v1.5M394.1 262.9v1.5M396.6 262.9v1.5M398.7 262.9v1.5M400.5 262.9v1.5M402.2 262.9v2.3M413.2 262.9v1.5M419.6 262.9v1.5M424.1 262.9v1.5M427.6 262.9v1.5M430.5 262.9v1.5M433 262.9v1.5M435.1 262.9v1.5M436.9 262.9v1.5M438.6 262.9v2.3M449.6 262.9v1.5M456 262.9v1.5M460.5 262.9v1.5M464 262.9v1.5M466.9 262.9v1.5M469.4 262.9v1.5M471.5 262.9v1.5M473.3 262.9v1.5M475 262.9v2.3M486 262.9v1.5M492.4 262.9v1.5M496.9 262.9v1.5M500.4 262.9v1.5M503.3 262.9v1.5M505.8 262.9v1.5M507.9 262.9v1.5M509.7 262.9v1.5M511.4 262.9v2.3" stroke="#111" stroke-width="0.7" fill="none"/>
<path d="M365.1 262.9h-4.5M365.1 261.2h-2.7M365.1 259.5h-2.7M365.1 257.7h-2.7M365.1 256h-2.7M365.1 254.3h-4.5M365.1 252.6h-2.7M365.1 250.8h-2.7M365.1 249.1h-2.7M365.1 247.4h-2.7M365.1 245.7h-4.5M365.1 243.9h-2.7M365.1 242.2h-2.7M365.1 240.5h-2.7M365.1 238.8h-2.7M365.1 237h-4.5M365.1 235.3h-2.7M365.1 233.6h-2.7M365.1 231.9h-2.7M365.1 230.2h-2.7M365.1 228.4h-4.5M365.1 226.7h-2.7M365.1 225h-2.7M365.1 223.3h-2.7M365.1 221.5h-2.7M365.1 219.8h-4.5M365.1 218.1h-2.7M365.1 216.4h-2.7M365.1 214.6h-2.7M365.1 212.9h-2.7M365.1 211.2h-4.5" stroke="#111" stroke-width="0.6" fill="none"/>
<text x="366.2" y="272.4" font-size="6.3" text-anchor="middle" fill="#111" font-weight="bold" letter-spacing="0.5">10<tspan font-size="6.9" dy="-2.2">0</tspan></text>
<text x="402.6" y="272.4" font-size="6.3" text-anchor="middle" fill="#111" font-weight="bold" letter-spacing="0.5">10<tspan font-size="6.9" dy="-2.2">1</tspan></text>
<text x="439" y="272.4" font-size="6.3" text-anchor="middle" fill="#111" font-weight="bold" letter-spacing="0.5">10<tspan font-size="6.9" dy="-2.2">2</tspan></text>
<text x="475.4" y="272.4" font-size="6.3" text-anchor="middle" fill="#111" font-weight="bold" letter-spacing="0.5">10<tspan font-size="6.9" dy="-2.2">3</tspan></text>
<text x="511.8" y="272.4" font-size="6.3" text-anchor="middle" fill="#111" font-weight="bold" letter-spacing="0.5">10<tspan font-size="6.9" dy="-2.2">4</tspan></text>
<text x="508.9" y="225.6" font-size="13" text-anchor="end" font-weight="normal" fill="#000">CD16/32</text>
<line x1="176" y1="246.5" x2="176" y2="262.8" stroke="#111" stroke-width="1.5"/>
<text transform="translate(13.9 212.3) rotate(-90)" font-size="15.2" text-anchor="middle" fill="#000">Cell Number</text>
<line x1="17.8" y1="152" x2="17.8" y2="276.2" stroke="#111" stroke-width="1.1"/>
<line x1="17.3" y1="275.7" x2="507" y2="275.7" stroke="#111" stroke-width="1.1"/>
<polygon points="17.8,147 14.5,153.2 21.1,153.2" fill="#111"/>
<polygon points="512.8,275.7 506.4,272.4 506.4,279" fill="#111"/>
<text x="257" y="291" font-size="15.1" text-anchor="middle" font-weight="normal" fill="#000">Fluorescence Intensity</text>
<line x1="35" y1="369.2" x2="35" y2="384.7" stroke="#333" stroke-width="0.8"/>
<line x1="36" y1="369.2" x2="36" y2="384.7" stroke="#444" stroke-width="0.8" stroke-dasharray="1 1"/>
<path d="M35.5 382.3 L36.1 382.2 L36.7 382.1 L37.3 382.2 L37.9 381.7 L38.5 381.4 L39.1 381.3 L39.7 381.5 L40.3 380.6 L40.9 380.4 L41.5 380.2 L42.1 379.8 L42.7 379.4 L43.3 378.6 L43.9 378 L44.5 377.3 L45.1 377.2 L45.7 376.3 L46.3 375.8 L46.9 374.8 L47.5 374.4 L48.1 373.1 L48.7 371.9 L49.3 370.9 L49.9 369.6 L50.5 368.5 L51.1 367.3 L51.7 367 L52.3 364.9 L52.9 363.3 L53.5 362.3 L54.1 361.2 L54.7 358.5 L55.3 356.1 L55.9 355.6 L56.5 354.7 L57.1 351.7 L57.7 350.9 L58.3 348.9 L58.9 347.3 L59.5 344.5 L60.1 342.9 L60.7 342.6 L61.3 340.2 L61.9 335.8 L62.5 337.2 L63.1 336.5 L63.7 333.2 L64.3 333 L64.9 331 L65.5 331.9 L66.1 332.3 L66.7 332.2 L67.3 334.1 L67.9 334.8 L68.5 336.3 L69.1 338 L69.7 337.5 L70.3 341.9 L70.9 343.1 L71.5 346.6 L72.1 349.7 L72.7 352 L73.3 355.5 L73.9 356.8 L74.5 359.2 L75.1 361.6 L75.7 362 L76.3 364.1 L76.9 364.6 L77.5 367 L78.1 367.3 L78.7 368.9 L79.3 369.6 L79.9 371.3 L80.5 371.5 L81.1 372.5 L81.7 373.5 L82.3 374.3 L82.9 374.8 L83.5 375 L84.1 376.1 L84.7 376.4 L85.3 376.4 L85.9 377.5 L86.5 377 L87.1 377.6 L87.7 378.4 L88.3 378.6 L88.9 378.8 L89.5 378.9 L90.1 379 L90.7 379.5 L91.3 380 L91.9 380 L92.5 380.1 L93.1 380.6 L93.7 381.4 L94.3 381.3 L94.9 381.8 L95.5 381.5 L96.1 381.6 L96.7 381.7 L97.3 382.4 L97.9 381.9 L98.5 382.2 L99.1 382.5 L99.7 382.2 L100.3 382.5 L100.9 382.5 L101.5 382.8 L102.1 383 L102.7 382.8 L103.3 383.2 L103.9 383.1 L104.5 383.3 L105.1 383.3 L105.7 383.3 L106.3 383.3 L106.9 383.5 L107.5 383.6 L108.1 383.9 L108.7 383.9 L109.3 383.9 L109.9 383.8 L110.5 383.4 L111.1 383.5 L111.7 383.8 L112.3 383.4 L112.9 383.7 L113.5 383.7 L114.1 383.9 L114.7 383.7 L115.3 383.5 L115.9 383.6 L116.5 383.8 L117.1 383.6 L117.7 383.8 L118.3 383.6 L118.9 383.6 L119.5 383.8 L120.1 383.8 L120.7 383.7 L121.3 383.7 L121.9 383.7 L122.5 383.5 L123.1 383.8 L123.7 383.6 L124.3 383.5 L124.9 383.8 L125.5 383.6 L126.1 383.6 L126.7 383.6 L127.3 383.7 L127.9 383.8 L128.5 383.4 L129.1 383.6 L129.7 383.4 L130.3 383.4 L130.9 383.4 L131.5 383.8 L132.1 383.6 L132.7 383.5 L133.3 383.4 L133.9 383.6 L134.5 383.9 L135.1 383.9 L135.7 383.3 L136.3 383.9 L136.9 383.7 L137.5 383.5 L138.1 383.3 L138.7 383.7 L139.3 383.6 L139.9 383.8 L140.5 383.8 L141.1 383.4 L141.7 383.7 L142.3 383.7 L142.9 383.5 L143.5 383.7 L144.1 383.9 L144.7 383.2 L145.3 383.6 L145.9 383.6 L146.5 383.3 L147.1 383.8 L147.7 383.8 L148.3 383.6 L148.9 383.7 L149.5 383.9 L150.1 383.1 L150.7 383.7 L151.3 383.4 L151.9 383.4 L152.5 383.8 L153.1 383.7 L153.7 383.5 L154.3 383.6 L154.9 383.8 L155.5 383.7 L156.1 383.8 L156.7 383.7 L157.3 383.2 L157.9 383.6 L158.5 383.7 L159.1 383.3 L159.7 383.5 L160.3 383.7 L160.9 383.6 L161.5 383.7 L162.1 383.4 L162.7 383.8 L163.3 383.8 L163.9 383.8 L164.5 383.8 L165.1 383.6 L165.7 383.8 L166.3 383.9 L166.9 383.7 L167.5 383.5 L168.1 383 L168.7 383.9 L169.3 383.9 L169.9 383 L170.5 382.8 L171.1 383.8 L171.7 383.8 L171.7 384.7 L35.5 384.7 Z" fill="#e6e6e6" stroke="none"/>
<path d="M35.5 382.3 L36.1 382.2 L36.7 382.1 L37.3 382.2 L37.9 381.7 L38.5 381.4 L39.1 381.3 L39.7 381.5 L40.3 380.6 L40.9 380.4 L41.5 380.2 L42.1 379.8 L42.7 379.4 L43.3 378.6 L43.9 378 L44.5 377.3 L45.1 377.2 L45.7 376.3 L46.3 375.8 L46.9 374.8 L47.5 374.4 L48.1 373.1 L48.7 371.9 L49.3 370.9 L49.9 369.6 L50.5 368.5 L51.1 367.3 L51.7 367 L52.3 364.9 L52.9 363.3 L53.5 362.3 L54.1 361.2 L54.7 358.5 L55.3 356.1 L55.9 355.6 L56.5 354.7 L57.1 351.7 L57.7 350.9 L58.3 348.9 L58.9 347.3 L59.5 344.5 L60.1 342.9 L60.7 342.6 L61.3 340.2 L61.9 335.8 L62.5 337.2 L63.1 336.5 L63.7 333.2 L64.3 333 L64.9 331 L65.5 331.9 L66.1 332.3 L66.7 332.2 L67.3 334.1 L67.9 334.8 L68.5 336.3 L69.1 338 L69.7 337.5 L70.3 341.9 L70.9 343.1 L71.5 346.6 L72.1 349.7 L72.7 352 L73.3 355.5 L73.9 356.8 L74.5 359.2 L75.1 361.6 L75.7 362 L76.3 364.1 L76.9 364.6 L77.5 367 L78.1 367.3 L78.7 368.9 L79.3 369.6 L79.9 371.3 L80.5 371.5 L81.1 372.5 L81.7 373.5 L82.3 374.3 L82.9 374.8 L83.5 375 L84.1 376.1 L84.7 376.4 L85.3 376.4 L85.9 377.5 L86.5 377 L87.1 377.6 L87.7 378.4 L88.3 378.6 L88.9 378.8 L89.5 378.9 L90.1 379 L90.7 379.5 L91.3 380 L91.9 380 L92.5 380.1 L93.1 380.6 L93.7 381.4 L94.3 381.3 L94.9 381.8 L95.5 381.5 L96.1 381.6 L96.7 381.7 L97.3 382.4 L97.9 381.9 L98.5 382.2 L99.1 382.5 L99.7 382.2 L100.3 382.5 L100.9 382.5 L101.5 382.8 L102.1 383 L102.7 382.8 L103.3 383.2 L103.9 383.1 L104.5 383.3 L105.1 383.3 L105.7 383.3 L106.3 383.3 L106.9 383.5 L107.5 383.6 L108.1 383.9 L108.7 383.9 L109.3 383.9 L109.9 383.8 L110.5 383.4 L111.1 383.5 L111.7 383.8 L112.3 383.4 L112.9 383.7 L113.5 383.7 L114.1 383.9 L114.7 383.7 L115.3 383.5 L115.9 383.6 L116.5 383.8 L117.1 383.6 L117.7 383.8 L118.3 383.6 L118.9 383.6 L119.5 383.8 L120.1 383.8 L120.7 383.7 L121.3 383.7 L121.9 383.7 L122.5 383.5 L123.1 383.8 L123.7 383.6 L124.3 383.5 L124.9 383.8 L125.5 383.6 L126.1 383.6 L126.7 383.6 L127.3 383.7 L127.9 383.8 L128.5 383.4 L129.1 383.6 L129.7 383.4 L130.3 383.4 L130.9 383.4 L131.5 383.8 L132.1 383.6 L132.7 383.5 L133.3 383.4 L133.9 383.6 L134.5 383.9 L135.1 383.9 L135.7 383.3 L136.3 383.9 L136.9 383.7 L137.5 383.5 L138.1 383.3 L138.7 383.7 L139.3 383.6 L139.9 383.8 L140.5 383.8 L141.1 383.4 L141.7 383.7 L142.3 383.7 L142.9 383.5 L143.5 383.7 L144.1 383.9 L144.7 383.2 L145.3 383.6 L145.9 383.6 L146.5 383.3 L147.1 383.8 L147.7 383.8 L148.3 383.6 L148.9 383.7 L149.5 383.9 L150.1 383.1 L150.7 383.7 L151.3 383.4 L151.9 383.4 L152.5 383.8 L153.1 383.7 L153.7 383.5 L154.3 383.6 L154.9 383.8 L155.5 383.7 L156.1 383.8 L156.7 383.7 L157.3 383.2 L157.9 383.6 L158.5 383.7 L159.1 383.3 L159.7 383.5 L160.3 383.7 L160.9 383.6 L161.5 383.7 L162.1 383.4 L162.7 383.8 L163.3 383.8 L163.9 383.8 L164.5 383.8 L165.1 383.6 L165.7 383.8 L166.3 383.9 L166.9 383.7 L167.5 383.5 L168.1 383 L168.7 383.9 L169.3 383.9 L169.9 383 L170.5 382.8 L171.1 383.8 L171.7 383.8" fill="none" stroke="#151515" stroke-width="1.05" stroke-linejoin="round"/>
<path d="M36.5 382.2 L37.1 381.8 L37.7 379.6 L38.3 379.2 L38.9 375.7 L39.5 374.5 L40.1 371.7 L40.7 369.3 L41.3 367.6 L41.9 364.5 L42.5 365 L43.1 362.7 L43.7 360.3 L44.3 358.1 L44.9 357.4 L45.5 352.5 L46.1 351.6 L46.7 348.1 L47.3 345.6 L47.9 343.3 L48.5 340.6 L49.1 338.3 L49.7 337 L50.3 334.2 L50.9 334.8 L51.5 334 L52.1 333.6 L52.7 331.7 L53.3 330.5 L53.9 330.1 L54.5 328.3 L55.1 330.1 L55.7 329.9 L56.3 329.6 L56.9 328.7 L57.5 329.5 L58.1 330.5 L58.7 332.3 L59.3 332.7 L59.9 333 L60.5 336.1 L61.1 337.1 L61.7 338.6 L62.3 340.8 L62.9 344.3 L63.5 346.5 L64.1 350.1 L64.7 351.6 L65.3 354.3 L65.9 355.9 L66.5 359.2 L67.1 362.1 L67.7 366.4 L68.3 369.4 L68.9 372.9 L69.5 373.3 L70.1 376 L70.7 377.8 L71.3 378.7 L71.9 379.1 L72.5 380.5 L73.1 380.6 L73.7 381.4 L74.3 381.1 L74.9 381.9 L75.5 381.6 L76.1 381.8 L76.7 382.4 L77.3 382.9 L77.9 382.6 L78.5 382.6 L79.1 383 L79.7 382.7 L80.3 383.3 L80.9 383.5 L81.5 383.2 L82.1 383.5 L82.7 383.8 L83.3 383.4 L83.9 383.5 L84.5 383.8 L85.1 383.7 L85.7 383.7 L86.3 383.7 L86.9 383.6 L87.5 383.6 L88.1 383.3 L88.7 383.8 L89.3 383.6 L89.9 383.4 L90.5 383.6 L91.1 383.7 L91.7 383.9 L92.3 383.7 L92.9 383.6 L93.5 383.5 L94.1 383.7 L94.7 383.8 L95.3 383.7 L95.9 383.7 L96.5 383.6 L97.1 383.3 L97.7 383.5 L98.3 383.5 L98.9 383.8 L99.5 383.1 L100.1 383.8 L100.7 383.7 L101.3 383.9 L101.9 383.7 L102.5 383.9 L103.1 383.7 L103.7 383.9 L104.3 383.6 L104.9 383.1 L105.5 383.7 L106.1 383.4 L106.7 383.8 L107.3 383.7 L107.9 383.3 L108.5 383.3 L109.1 383.9 L109.7 383.8 L110.3 383.6 L110.9 383.7 L111.5 383.7 L112.1 383.8 L112.7 383.7 L113.3 383.5 L113.9 383.5 L114.5 383.6 L115.1 383.6 L115.7 383.6 L116.3 383.8 L116.9 383.8 L117.5 383.8 L118.1 383.9 L118.7 383.8 L119.3 383.8 L119.9 383.6 L120.5 383.8 L121.1 383.8 L121.7 383.5 L122.3 383.9 L122.9 383.8 L123.5 383.9 L124.1 383.8 L124.7 383.8 L125.3 383.9 L125.9 383.8 L126.5 383.6 L127.1 383.8 L127.7 383.3 L128.3 383.7 L128.9 383.6 L129.5 383.3 L130.1 383.2 L130.7 383.7 L131.3 383.8 L131.9 383.7 L132.5 383.7 L133.1 383.6 L133.7 383.8 L134.3 383.4 L134.9 383.8 L135.5 383.6 L136.1 383.7 L136.7 383.8 L137.3 383.8 L137.9 383.8 L138.5 383.5 L139.1 383.9 L139.7 383.7 L140.3 383.4 L140.9 383.7 L141.5 383.7 L142.1 383.9 L142.7 383.5 L143.3 383.8 L143.9 383.7 L144.5 383.7 L145.1 383.9 L145.7 383.5 L146.3 383.7 L146.9 383.8 L147.5 383.4 L148.1 383.6 L148.7 383.7 L149.3 383.8 L149.9 383.8 L150.5 383.8 L151.1 383.7 L151.7 383.4 L152.3 383.7 L152.9 383.5 L153.5 383.6 L154.1 383.7 L154.7 383.7 L155.3 383.9 L155.9 383.8 L156.5 383.7 L157.1 383.6 L157.7 383.6 L158.3 383.8 L158.9 383.8 L159.5 383.6 L160.1 383.6 L160.7 383.9 L161.3 383.7 L161.9 383.4 L162.5 383.3 L163.1 383.7 L163.7 383.8 L164.3 383.7 L164.9 383.6 L165.5 383.6 L166.1 383.4 L166.7 383.7 L167.3 383.8 L167.9 383.6 L168.5 383.9 L169.1 383.7 L169.7 383.5 L170.3 383.7 L170.9 383.6 L171.5 383.9" fill="none" stroke="#222" stroke-width="0.9" stroke-dasharray="1.1 0.9" stroke-linejoin="round"/>
<path d="M35.5 382.9 L36.3 382.7 L37.1 382.8 L37.9 382.1 L38.7 382 L39.5 381.5 L40.3 382.1 L41.1 380.5 L41.9 380.8 L42.7 379.2 L43.5 379.5 L44.3 378 L45.1 377.9 L45.9 376.5 L46.7 376.5 L47.5 374.7 L48.3 373.6 L49.1 372.3 L49.9 370.8 L50.7 369.3 L51.5 367.4 L52.3 366.7 L53.1 364.9 L53.9 362.3 L54.7 360.3 L55.5 357.3 L56.3 356.8 L57.1 355.9 L57.9 351.9 L58.7 349.9 L59.5 347.5 L60.3 345.5 L61.1 342.8 L61.9 340.9 L62.7 337.6 L63.5 335.4 L64.3 335 L65.1 336.6 L65.9 336.3 L66.7 336.6 L67.5 334.8 L68.3 338 L69.1 338.7 L69.9 341.6 L70.7 346 L71.5 347.5 L72.3 350.5 L73.1 357.4 L73.9 356.7 L74.7 361.3 L75.5 362.7 L76.3 365.1 L77.1 366.4 L77.9 367.3 L78.7 370.6 L79.5 371.4 L80.3 371.8 L81.1 372.3 L81.9 374 L82.7 374.3 L83.5 374.3 L84.3 376.3 L85.1 377.4 L85.9 377.2 L86.7 377.9 L87.5 378.1 L88.3 379.1 L89.1 379.1 L89.9 378.8 L90.7 380.4 L91.5 380.2 L92.3 380.9 L93.1 380.9 L93.9 380.7 L94.7 380.6 L95.5 381.8 L96.3 381.6 L97.1 382.3 L97.9 382.6 L98.7 382.4 L99.5 382.2 L100.3 383 L101.1 382.4 L101.9 382.7 L102.7 383.1 L103.5 383.1 L104.3 383.3 L105.1 383.2 L105.9 383 L106.7 383.9 L107.5 383.9 L108.3 383.9 L109.1 383.9" fill="none" stroke="#050505" stroke-width="2.3" stroke-linejoin="round"/>
<rect x="31" y="327.6" width="142.1" height="57.1" fill="none" stroke="#111" stroke-width="1.4"/>
<path d="M31.7 384.7v3.8M42.3 384.7v2.8M48.5 384.7v2.8M52.9 384.7v2.8M56.3 384.7v2.8M59.1 384.7v2.8M61.4 384.7v2.8M63.4 384.7v2.8M65.2 384.7v2.8M66.8 384.7v3.8M77.4 384.7v2.8M83.6 384.7v2.8M88 384.7v2.8M91.4 384.7v2.8M94.2 384.7v2.8M96.6 384.7v2.8M98.6 384.7v2.8M100.4 384.7v2.8M102 384.7v3.8M112.6 384.7v2.8M118.8 384.7v2.8M123.2 384.7v2.8M126.6 384.7v2.8M129.4 384.7v2.8M131.7 384.7v2.8M133.7 384.7v2.8M135.5 384.7v2.8M137.1 384.7v3.8M147.7 384.7v2.8M153.9 384.7v2.8M158.3 384.7v2.8M161.7 384.7v2.8M164.5 384.7v2.8M166.9 384.7v2.8M168.9 384.7v2.8M170.7 384.7v2.8M172.3 384.7v3.8" stroke="#111" stroke-width="1.15" fill="none"/>
<path d="M31 384.7h-5.6M31 383.6h-3.3M31 382.4h-3.3M31 381.3h-3.3M31 380.1h-3.3M31 379h-3.3M31 377.8h-3.3M31 376.7h-3.3M31 375.6h-3.3M31 374.4h-3.3M31 373.3h-5.6M31 372.1h-3.3M31 371h-3.3M31 369.9h-3.3M31 368.7h-3.3M31 367.6h-3.3M31 366.4h-3.3M31 365.3h-3.3M31 364.1h-3.3M31 363h-3.3M31 361.9h-5.6M31 360.7h-3.3M31 359.6h-3.3M31 358.4h-3.3M31 357.3h-3.3M31 356.1h-3.3M31 355h-3.3M31 353.9h-3.3M31 352.7h-3.3M31 351.6h-3.3M31 350.4h-5.6M31 349.3h-3.3M31 348.2h-3.3M31 347h-3.3M31 345.9h-3.3M31 344.7h-3.3M31 343.6h-3.3M31 342.4h-3.3M31 341.3h-3.3M31 340.2h-3.3M31 339h-5.6M31 337.9h-3.3M31 336.7h-3.3M31 335.6h-3.3M31 334.5h-3.3M31 333.3h-3.3M31 332.2h-3.3M31 331h-3.3M31 329.9h-3.3M31 328.7h-3.3M31 327.6h-5.6" stroke="#111" stroke-width="0.6" fill="none"/>
<text x="32.7" y="398.6" font-size="9.0" text-anchor="middle" fill="#111" font-weight="bold" letter-spacing="0.7">10<tspan font-size="9.7" dy="-3.4">0</tspan></text>
<text x="67.8" y="398.6" font-size="9.0" text-anchor="middle" fill="#111" font-weight="bold" letter-spacing="0.7">10<tspan font-size="9.7" dy="-3.4">1</tspan></text>
<text x="103" y="398.6" font-size="9.0" text-anchor="middle" fill="#111" font-weight="bold" letter-spacing="0.7">10<tspan font-size="9.7" dy="-3.4">2</tspan></text>
<text x="138.1" y="398.6" font-size="9.0" text-anchor="middle" fill="#111" font-weight="bold" letter-spacing="0.7">10<tspan font-size="9.7" dy="-3.4">3</tspan></text>
<text x="173.3" y="398.6" font-size="9.0" text-anchor="middle" fill="#111" font-weight="bold" letter-spacing="0.7">10<tspan font-size="9.7" dy="-3.4">4</tspan></text>
<text x="173.2" y="343" font-size="13" text-anchor="end" font-weight="normal" fill="#000">NKG2D</text>
<line x1="200.7" y1="368.3" x2="200.7" y2="383.8" stroke="#333" stroke-width="0.8"/>
<line x1="201.7" y1="368.3" x2="201.7" y2="383.8" stroke="#444" stroke-width="0.8" stroke-dasharray="1 1"/>
<path d="M201.5 382.8 L202.1 382.5 L202.7 381.9 L203.3 381.4 L203.9 380.4 L204.5 380.3 L205.1 379.4 L205.7 378.4 L206.3 377.6 L206.9 376.9 L207.5 376.3 L208.1 376.1 L208.7 375 L209.3 373.2 L209.9 371.8 L210.5 371.4 L211.1 369.4 L211.7 367.1 L212.3 365.8 L212.9 364 L213.5 362.7 L214.1 361.7 L214.7 359.8 L215.3 359 L215.9 358 L216.5 357.2 L217.1 355.5 L217.7 355 L218.3 355.8 L218.9 353.8 L219.5 353.4 L220.1 353.2 L220.7 352.1 L221.3 351.9 L221.9 352.9 L222.5 352.3 L223.1 350.4 L223.7 351 L224.3 349.9 L224.9 349.8 L225.5 351 L226.1 352.5 L226.7 351.8 L227.3 353.4 L227.9 352.2 L228.5 353.5 L229.1 354 L229.7 354.7 L230.3 355.9 L230.9 356.3 L231.5 356.3 L232.1 356.5 L232.7 357.7 L233.3 358.8 L233.9 359.3 L234.5 359.5 L235.1 360.1 L235.7 362.3 L236.3 362.7 L236.9 362.9 L237.5 364.1 L238.1 364.7 L238.7 364.7 L239.3 365 L239.9 366.1 L240.5 366.3 L241.1 366.8 L241.7 366.8 L242.3 366.7 L242.9 366.5 L243.5 366.8 L244.1 366.8 L244.7 367.3 L245.3 367.5 L245.9 368.2 L246.5 368.4 L247.1 367.9 L247.7 368.2 L248.3 367.6 L248.9 367.9 L249.5 367.9 L250.1 368.5 L250.7 368.3 L251.3 368.4 L251.9 368.8 L252.5 368.1 L253.1 369.1 L253.7 369.5 L254.3 370.1 L254.9 369.2 L255.5 369.7 L256.1 369.2 L256.7 371 L257.3 370.5 L257.9 371 L258.5 370.6 L259.1 371.5 L259.7 371.7 L260.3 371.9 L260.9 372.3 L261.5 372.8 L262.1 373.3 L262.7 373.4 L263.3 375.1 L263.9 375 L264.5 375.6 L265.1 376.1 L265.7 376.4 L266.3 376.9 L266.9 377.6 L267.5 377.7 L268.1 378.5 L268.7 378.5 L269.3 379.2 L269.9 379 L270.5 379.6 L271.1 380 L271.7 380.4 L272.3 380.7 L272.9 380.4 L273.5 380.7 L274.1 381.4 L274.7 381.2 L275.3 381.2 L275.9 381.9 L276.5 381.9 L277.1 381.7 L277.7 382 L278.3 382.5 L278.9 382.3 L279.5 382.4 L280.1 382.5 L280.7 382.9 L281.3 382.6 L281.9 383 L282.5 383 L283.1 383 L283.7 383 L284.3 383 L284.9 383 L285.5 383 L286.1 383 L286.7 383 L287.3 383 L287.9 383 L288.5 382.6 L289.1 382.6 L289.7 382.9 L290.3 382.5 L290.9 382.9 L291.5 382.8 L292.1 383 L292.7 382.8 L293.3 382.8 L293.9 382.9 L294.5 382.7 L295.1 382.9 L295.7 382.6 L296.3 382.7 L296.9 382.7 L297.5 382.8 L298.1 382.6 L298.7 382.8 L299.3 383 L299.9 382.9 L300.5 382.9 L301.1 382.7 L301.7 382.3 L302.3 382.8 L302.9 382.7 L303.5 382.6 L304.1 382.8 L304.7 382.7 L305.3 382.7 L305.9 383 L306.5 382.9 L307.1 382.7 L307.7 382.5 L308.3 382.8 L308.9 382.6 L309.5 383 L310.1 382.9 L310.7 382.7 L311.3 382.6 L311.9 383 L312.5 382.5 L313.1 382.6 L313.7 382.9 L314.3 382.8 L314.9 382.7 L315.5 382.8 L316.1 382.6 L316.7 382.7 L317.3 382.4 L317.9 382.8 L318.5 381.9 L319.1 382.9 L319.7 382.9 L320.3 383 L320.9 382.8 L321.5 382.9 L322.1 383 L322.7 382.4 L323.3 382.9 L323.9 382.8 L324.5 383 L325.1 382.7 L325.7 382.8 L326.3 382.7 L326.9 382.6 L327.5 382.9 L328.1 382.6 L328.7 383 L329.3 382.4 L329.9 382.9 L330.5 383 L331.1 382.9 L331.7 382.9 L332.3 382.7 L332.9 382.6 L333.5 382 L334.1 382.9 L334.7 382.7 L335.3 382.9 L335.9 382.8 L336.5 382.7 L337.1 382.5 L337.7 382.9 L337.7 383.8 L201.5 383.8 Z" fill="#e6e6e6" stroke="none"/>
<path d="M201.5 382.8 L202.1 382.5 L202.7 381.9 L203.3 381.4 L203.9 380.4 L204.5 380.3 L205.1 379.4 L205.7 378.4 L206.3 377.6 L206.9 376.9 L207.5 376.3 L208.1 376.1 L208.7 375 L209.3 373.2 L209.9 371.8 L210.5 371.4 L211.1 369.4 L211.7 367.1 L212.3 365.8 L212.9 364 L213.5 362.7 L214.1 361.7 L214.7 359.8 L215.3 359 L215.9 358 L216.5 357.2 L217.1 355.5 L217.7 355 L218.3 355.8 L218.9 353.8 L219.5 353.4 L220.1 353.2 L220.7 352.1 L221.3 351.9 L221.9 352.9 L222.5 352.3 L223.1 350.4 L223.7 351 L224.3 349.9 L224.9 349.8 L225.5 351 L226.1 352.5 L226.7 351.8 L227.3 353.4 L227.9 352.2 L228.5 353.5 L229.1 354 L229.7 354.7 L230.3 355.9 L230.9 356.3 L231.5 356.3 L232.1 356.5 L232.7 357.7 L233.3 358.8 L233.9 359.3 L234.5 359.5 L235.1 360.1 L235.7 362.3 L236.3 362.7 L236.9 362.9 L237.5 364.1 L238.1 364.7 L238.7 364.7 L239.3 365 L239.9 366.1 L240.5 366.3 L241.1 366.8 L241.7 366.8 L242.3 366.7 L242.9 366.5 L243.5 366.8 L244.1 366.8 L244.7 367.3 L245.3 367.5 L245.9 368.2 L246.5 368.4 L247.1 367.9 L247.7 368.2 L248.3 367.6 L248.9 367.9 L249.5 367.9 L250.1 368.5 L250.7 368.3 L251.3 368.4 L251.9 368.8 L252.5 368.1 L253.1 369.1 L253.7 369.5 L254.3 370.1 L254.9 369.2 L255.5 369.7 L256.1 369.2 L256.7 371 L257.3 370.5 L257.9 371 L258.5 370.6 L259.1 371.5 L259.7 371.7 L260.3 371.9 L260.9 372.3 L261.5 372.8 L262.1 373.3 L262.7 373.4 L263.3 375.1 L263.9 375 L264.5 375.6 L265.1 376.1 L265.7 376.4 L266.3 376.9 L266.9 377.6 L267.5 377.7 L268.1 378.5 L268.7 378.5 L269.3 379.2 L269.9 379 L270.5 379.6 L271.1 380 L271.7 380.4 L272.3 380.7 L272.9 380.4 L273.5 380.7 L274.1 381.4 L274.7 381.2 L275.3 381.2 L275.9 381.9 L276.5 381.9 L277.1 381.7 L277.7 382 L278.3 382.5 L278.9 382.3 L279.5 382.4 L280.1 382.5 L280.7 382.9 L281.3 382.6 L281.9 383 L282.5 383 L283.1 383 L283.7 383 L284.3 383 L284.9 383 L285.5 383 L286.1 383 L286.7 383 L287.3 383 L287.9 383 L288.5 382.6 L289.1 382.6 L289.7 382.9 L290.3 382.5 L290.9 382.9 L291.5 382.8 L292.1 383 L292.7 382.8 L293.3 382.8 L293.9 382.9 L294.5 382.7 L295.1 382.9 L295.7 382.6 L296.3 382.7 L296.9 382.7 L297.5 382.8 L298.1 382.6 L298.7 382.8 L299.3 383 L299.9 382.9 L300.5 382.9 L301.1 382.7 L301.7 382.3 L302.3 382.8 L302.9 382.7 L303.5 382.6 L304.1 382.8 L304.7 382.7 L305.3 382.7 L305.9 383 L306.5 382.9 L307.1 382.7 L307.7 382.5 L308.3 382.8 L308.9 382.6 L309.5 383 L310.1 382.9 L310.7 382.7 L311.3 382.6 L311.9 383 L312.5 382.5 L313.1 382.6 L313.7 382.9 L314.3 382.8 L314.9 382.7 L315.5 382.8 L316.1 382.6 L316.7 382.7 L317.3 382.4 L317.9 382.8 L318.5 381.9 L319.1 382.9 L319.7 382.9 L320.3 383 L320.9 382.8 L321.5 382.9 L322.1 383 L322.7 382.4 L323.3 382.9 L323.9 382.8 L324.5 383 L325.1 382.7 L325.7 382.8 L326.3 382.7 L326.9 382.6 L327.5 382.9 L328.1 382.6 L328.7 383 L329.3 382.4 L329.9 382.9 L330.5 383 L331.1 382.9 L331.7 382.9 L332.3 382.7 L332.9 382.6 L333.5 382 L334.1 382.9 L334.7 382.7 L335.3 382.9 L335.9 382.8 L336.5 382.7 L337.1 382.5 L337.7 382.9" fill="none" stroke="#151515" stroke-width="1.05" stroke-linejoin="round"/>
<path d="M202 382.8 L202.6 382.5 L203.2 381.2 L203.8 380 L204.4 378.9 L205 377.7 L205.6 376.9 L206.2 376 L206.8 374.2 L207.4 373.1 L208 372.3 L208.6 370.7 L209.2 369.8 L209.8 366.5 L210.4 365.6 L211 362.1 L211.6 358.8 L212.2 354.6 L212.8 352.8 L213.4 349.4 L214 346.9 L214.6 344.3 L215.2 340.2 L215.8 340.3 L216.4 335.5 L217 334.5 L217.6 331.5 L218.2 329 L218.8 329.4 L219.4 329.5 L220 329.8 L220.6 327.6 L221.2 328.4 L221.8 328.5 L222.4 327.7 L223 327.9 L223.6 327.1 L224.2 329.8 L224.8 329.7 L225.4 330.7 L226 333.7 L226.6 336 L227.2 336.8 L227.8 338.5 L228.4 343.9 L229 345.9 L229.6 347.4 L230.2 350.8 L230.8 354.8 L231.4 359.2 L232 361.8 L232.6 365.4 L233.2 368.8 L233.8 371.4 L234.4 373.8 L235 375.2 L235.6 377.1 L236.2 377.8 L236.8 379.4 L237.4 379.4 L238 380.5 L238.6 381 L239.2 381 L239.8 381.3 L240.4 381.3 L241 381.6 L241.6 381.2 L242.2 381.9 L242.8 382.1 L243.4 382.1 L244 381.8 L244.6 382 L245.2 381.9 L245.8 382 L246.4 382.2 L247 382 L247.6 381.9 L248.2 382.1 L248.8 381.4 L249.4 381.9 L250 381.5 L250.6 381.1 L251.2 380.6 L251.8 380.8 L252.4 380.2 L253 380.4 L253.6 380.1 L254.2 380.1 L254.8 380.2 L255.4 380.1 L256 379.8 L256.6 379.7 L257.2 379.5 L257.8 380.2 L258.4 380.2 L259 380.5 L259.6 380.7 L260.2 380.6 L260.8 380.9 L261.4 381.3 L262 381.5 L262.6 381.6 L263.2 381.7 L263.8 381.6 L264.4 382.1 L265 382.4 L265.6 382.3 L266.2 382.4 L266.8 383 L267.4 383 L268 382.6 L268.6 383 L269.2 382.6 L269.8 383 L270.4 383 L271 383 L271.6 383 L272.2 382.7 L272.8 382.6 L273.4 382.8 L274 382.1 L274.6 382.9 L275.2 382.9 L275.8 382.7 L276.4 382.8 L277 382.9 L277.6 383 L278.2 382.4 L278.8 383 L279.4 382.7 L280 382.7 L280.6 382.5 L281.2 382.6 L281.8 382.9 L282.4 382.6 L283 382.5 L283.6 382.7 L284.2 382.9 L284.8 382.6 L285.4 382.7 L286 382.8 L286.6 382.7 L287.2 382.6 L287.8 382.8 L288.4 382.9 L289 382.9 L289.6 382.6 L290.2 382.7 L290.8 382.7 L291.4 382.6 L292 382.6 L292.6 382.8 L293.2 383 L293.8 382.8 L294.4 382.5 L295 382.9 L295.6 382.8 L296.2 382.6 L296.8 382.7 L297.4 382.8 L298 382.9 L298.6 382.5 L299.2 382.9 L299.8 382.9 L300.4 382.9 L301 382.8 L301.6 382.9 L302.2 382.9 L302.8 382.9 L303.4 382.6 L304 382.6 L304.6 382.9 L305.2 382.9 L305.8 382.9 L306.4 382.9 L307 382.9 L307.6 382.9 L308.2 382.8 L308.8 382.6 L309.4 382.5 L310 382.8 L310.6 382.5 L311.2 382.7 L311.8 381.9 L312.4 382.4 L313 382.8 L313.6 382.6 L314.2 382.9 L314.8 382.8 L315.4 382.7 L316 382.9 L316.6 382.2 L317.2 383 L317.8 382.6 L318.4 382.9 L319 382.4 L319.6 382.7 L320.2 382.9 L320.8 382.9 L321.4 382.5 L322 382.8 L322.6 382.9 L323.2 382.8 L323.8 382.9 L324.4 382.9 L325 382.7 L325.6 383 L326.2 382.7 L326.8 382.9 L327.4 383 L328 383 L328.6 382.7 L329.2 383 L329.8 382.5 L330.4 382.9 L331 383 L331.6 382.6 L332.2 382.2 L332.8 382.7 L333.4 382.9 L334 382.6 L334.6 383 L335.2 382.7 L335.8 382.9 L336.4 382.9 L337 382.8 L337.6 382.8" fill="none" stroke="#222" stroke-width="0.9" stroke-dasharray="1.1 0.9" stroke-linejoin="round"/>
<path d="M203.8 382.9 L204.6 383 L205.4 383 L206.2 382.8 L207 382.5 L207.8 382.3 L208.6 382.5 L209.4 381.6 L210.2 381.8 L211 381.8 L211.8 381.7 L212.6 382 L213.4 381.3 L214.2 381.4 L215 381.1 L215.8 381 L216.6 380.6 L217.4 381.2 L218.2 380.8 L219 381.1 L219.8 379.8 L220.6 380.3 L221.4 379.7 L222.2 379.6 L223 379.3 L223.8 379.3 L224.6 378.7 L225.4 378.8 L226.2 379.1 L227 378.1 L227.8 378.3 L228.6 378.7 L229.4 377.1 L230.2 377.4 L231 377.2 L231.8 376.6 L232.6 375.7 L233.4 375.5 L234.2 375.2 L235 376.2 L235.8 375.1 L236.6 374.2 L237.4 373.2 L238.2 373.7 L239 373.4 L239.8 373.2 L240.6 372.3 L241.4 372.5 L242.2 371.6 L243 371.5 L243.8 371.3 L244.6 369.5 L245.4 369.7 L246.2 368 L247 368.4 L247.8 365.7 L248.6 366.3 L249.4 364.9 L250.2 362.3 L251 360.5 L251.8 359.4 L252.6 356.5 L253.4 355.9 L254.2 351.2 L255 349.5 L255.8 348.1 L256.6 345.9 L257.4 343.6 L258.2 339.4 L259 337.7 L259.8 334.3 L260.6 337.6 L261.4 333.5 L262.2 331.7 L263 332.9 L263.8 334.1 L264.6 334.4 L265.4 336.7 L266.2 338.2 L267 338.4 L267.8 343.4 L268.6 344.8 L269.4 349.7 L270.2 354.4 L271 356.8 L271.8 361.4 L272.6 362.3 L273.4 366.3 L274.2 368.6 L275 371.6 L275.8 373.1 L276.6 375.4 L277.4 376.3 L278.2 378.4 L279 378.6 L279.8 379.1 L280.6 380.1 L281.4 380.6 L282.2 381.6 L283 382.5 L283.8 383 L284.6 383" fill="none" stroke="#050505" stroke-width="2.3" stroke-linejoin="round"/>
<rect x="196.7" y="326.4" width="142" height="57.4" fill="none" stroke="#111" stroke-width="1.4"/>
<path d="M197.4 383.8v3.8M208 383.8v2.8M214.2 383.8v2.8M218.5 383.8v2.8M222 383.8v2.8M224.7 383.8v2.8M227.1 383.8v2.8M229.1 383.8v2.8M230.9 383.8v2.8M232.5 383.8v3.8M243.1 383.8v2.8M249.3 383.8v2.8M253.7 383.8v2.8M257.1 383.8v2.8M259.9 383.8v2.8M262.2 383.8v2.8M264.2 383.8v2.8M266 383.8v2.8M267.6 383.8v3.8M278.2 383.8v2.8M284.4 383.8v2.8M288.8 383.8v2.8M292.2 383.8v2.8M295 383.8v2.8M297.3 383.8v2.8M299.4 383.8v2.8M301.2 383.8v2.8M302.8 383.8v3.8M313.3 383.8v2.8M319.5 383.8v2.8M323.9 383.8v2.8M327.3 383.8v2.8M330.1 383.8v2.8M332.5 383.8v2.8M334.5 383.8v2.8M336.3 383.8v2.8M337.9 383.8v3.8" stroke="#111" stroke-width="1.15" fill="none"/>
<path d="M196.7 383.8h-5.6M196.7 382.7h-3.3M196.7 381.5h-3.3M196.7 380.4h-3.3M196.7 379.2h-3.3M196.7 378.1h-3.3M196.7 376.9h-3.3M196.7 375.8h-3.3M196.7 374.6h-3.3M196.7 373.5h-3.3M196.7 372.3h-5.6M196.7 371.2h-3.3M196.7 370h-3.3M196.7 368.9h-3.3M196.7 367.7h-3.3M196.7 366.6h-3.3M196.7 365.4h-3.3M196.7 364.3h-3.3M196.7 363.1h-3.3M196.7 362h-3.3M196.7 360.8h-5.6M196.7 359.7h-3.3M196.7 358.5h-3.3M196.7 357.4h-3.3M196.7 356.2h-3.3M196.7 355.1h-3.3M196.7 354h-3.3M196.7 352.8h-3.3M196.7 351.7h-3.3M196.7 350.5h-3.3M196.7 349.4h-5.6M196.7 348.2h-3.3M196.7 347.1h-3.3M196.7 345.9h-3.3M196.7 344.8h-3.3M196.7 343.6h-3.3M196.7 342.5h-3.3M196.7 341.3h-3.3M196.7 340.2h-3.3M196.7 339h-3.3M196.7 337.9h-5.6M196.7 336.7h-3.3M196.7 335.6h-3.3M196.7 334.4h-3.3M196.7 333.3h-3.3M196.7 332.1h-3.3M196.7 331h-3.3M196.7 329.8h-3.3M196.7 328.7h-3.3M196.7 327.5h-3.3M196.7 326.4h-5.6" stroke="#111" stroke-width="0.6" fill="none"/>
<text x="198.4" y="397.7" font-size="9.0" text-anchor="middle" fill="#111" font-weight="bold" letter-spacing="0.7">10<tspan font-size="9.7" dy="-3.4">0</tspan></text>
<text x="233.5" y="397.7" font-size="9.0" text-anchor="middle" fill="#111" font-weight="bold" letter-spacing="0.7">10<tspan font-size="9.7" dy="-3.4">1</tspan></text>
<text x="268.6" y="397.7" font-size="9.0" text-anchor="middle" fill="#111" font-weight="bold" letter-spacing="0.7">10<tspan font-size="9.7" dy="-3.4">2</tspan></text>
<text x="303.8" y="397.7" font-size="9.0" text-anchor="middle" fill="#111" font-weight="bold" letter-spacing="0.7">10<tspan font-size="9.7" dy="-3.4">3</tspan></text>
<text x="338.9" y="397.7" font-size="9.0" text-anchor="middle" fill="#111" font-weight="bold" letter-spacing="0.7">10<tspan font-size="9.7" dy="-3.4">4</tspan></text>
<text x="334.9" y="341.3" font-size="13" text-anchor="end" font-weight="normal" fill="#000">2B4</text>
<line x1="366.7" y1="367.8" x2="366.7" y2="383.3" stroke="#333" stroke-width="0.8"/>
<line x1="367.7" y1="367.8" x2="367.7" y2="383.3" stroke="#444" stroke-width="0.8" stroke-dasharray="1 1"/>
<path d="M367.5 382.5 L368.1 381.5 L368.7 380.9 L369.3 380 L369.9 378.3 L370.5 377.5 L371.1 376.9 L371.7 375.7 L372.3 374.8 L372.9 373.4 L373.5 373 L374.1 371.8 L374.7 370.2 L375.3 369.3 L375.9 367.4 L376.5 364.7 L377.1 363 L377.7 359.7 L378.3 358.3 L378.9 355.3 L379.5 352.7 L380.1 349.7 L380.7 348.5 L381.3 345.2 L381.9 343 L382.5 341.2 L383.1 340.1 L383.7 338.3 L384.3 336.7 L384.9 335 L385.5 335.1 L386.1 331.9 L386.7 331.1 L387.3 330.3 L387.9 331.1 L388.5 331.3 L389.1 330.1 L389.7 329.3 L390.3 329.3 L390.9 330.7 L391.5 331.4 L392.1 332.2 L392.7 332.1 L393.3 334.2 L393.9 335.6 L394.5 337.4 L395.1 339.9 L395.7 341.6 L396.3 344 L396.9 345.6 L397.5 347.8 L398.1 350.2 L398.7 351 L399.3 354.2 L399.9 356.6 L400.5 359.1 L401.1 361.8 L401.7 365.3 L402.3 366.7 L402.9 369.8 L403.5 370.2 L404.1 372 L404.7 373.2 L405.3 374.2 L405.9 374.9 L406.5 375.6 L407.1 375.9 L407.7 376.4 L408.3 377.3 L408.9 377.3 L409.5 377.2 L410.1 377.5 L410.7 377.8 L411.3 378.3 L411.9 378.4 L412.5 378.7 L413.1 378.5 L413.7 378.8 L414.3 379 L414.9 378.9 L415.5 379.2 L416.1 379 L416.7 379.1 L417.3 379.2 L417.9 379.1 L418.5 379.6 L419.1 379.4 L419.7 379.6 L420.3 379.8 L420.9 379.8 L421.5 379.9 L422.1 379.8 L422.7 379.8 L423.3 379.9 L423.9 379.6 L424.5 379.7 L425.1 379.8 L425.7 379.9 L426.3 380.3 L426.9 380 L427.5 380.2 L428.1 380.6 L428.7 380.3 L429.3 380.5 L429.9 380.2 L430.5 380.4 L431.1 380.3 L431.7 380.4 L432.3 380.7 L432.9 380.2 L433.5 380.7 L434.1 380.7 L434.7 380.5 L435.3 380.4 L435.9 380.7 L436.5 380.7 L437.1 380.9 L437.7 380.9 L438.3 381.3 L438.9 381 L439.5 380.9 L440.1 381.2 L440.7 381.3 L441.3 381.6 L441.9 381.5 L442.5 381.5 L443.1 381.8 L443.7 381.4 L444.3 381.6 L444.9 381.6 L445.5 381.8 L446.1 381.7 L446.7 382.1 L447.3 382.1 L447.9 382 L448.5 382.1 L449.1 382.4 L449.7 382.5 L450.3 382.5 L450.9 382.5 L451.5 382.5 L452.1 382.5 L452.7 382.5 L453.3 382.4 L453.9 382.3 L454.5 382.4 L455.1 382.3 L455.7 382.5 L456.3 382.2 L456.9 382.5 L457.5 382.5 L458.1 382.2 L458.7 382 L459.3 382.4 L459.9 382.5 L460.5 382 L461.1 382.5 L461.7 382.2 L462.3 382.4 L462.9 382.1 L463.5 382.2 L464.1 382.3 L464.7 381.9 L465.3 382.3 L465.9 382.2 L466.5 382.2 L467.1 382.2 L467.7 382.4 L468.3 382.5 L468.9 382.5 L469.5 382.3 L470.1 382.4 L470.7 382.4 L471.3 382.1 L471.9 382.1 L472.5 382.4 L473.1 382 L473.7 382.5 L474.3 382.5 L474.9 382.4 L475.5 382.1 L476.1 382.4 L476.7 382.4 L477.3 382.2 L477.9 382.4 L478.5 382 L479.1 382.4 L479.7 382.1 L480.3 382.1 L480.9 382 L481.5 382 L482.1 382.4 L482.7 382.4 L483.3 382.1 L483.9 382.2 L484.5 382.2 L485.1 382.3 L485.7 382.4 L486.3 382.5 L486.9 382.5 L487.5 382.4 L488.1 382.1 L488.7 382.5 L489.3 382.3 L489.9 381.9 L490.5 382.5 L491.1 382.2 L491.7 382.1 L492.3 382.2 L492.9 382.4 L493.5 382.2 L494.1 382.1 L494.7 382.5 L495.3 382.4 L495.9 382.4 L496.5 382.2 L497.1 382.3 L497.7 382.1 L498.3 382.5 L498.9 382.3 L499.5 382.4 L500.1 382.4 L500.7 382.4 L501.3 382.2 L501.9 382.5 L502.5 382.4 L502.5 383.3 L367.5 383.3 Z" fill="#e6e6e6" stroke="none"/>
<path d="M367.5 382.5 L368.1 381.5 L368.7 380.9 L369.3 380 L369.9 378.3 L370.5 377.5 L371.1 376.9 L371.7 375.7 L372.3 374.8 L372.9 373.4 L373.5 373 L374.1 371.8 L374.7 370.2 L375.3 369.3 L375.9 367.4 L376.5 364.7 L377.1 363 L377.7 359.7 L378.3 358.3 L378.9 355.3 L379.5 352.7 L380.1 349.7 L380.7 348.5 L381.3 345.2 L381.9 343 L382.5 341.2 L383.1 340.1 L383.7 338.3 L384.3 336.7 L384.9 335 L385.5 335.1 L386.1 331.9 L386.7 331.1 L387.3 330.3 L387.9 331.1 L388.5 331.3 L389.1 330.1 L389.7 329.3 L390.3 329.3 L390.9 330.7 L391.5 331.4 L392.1 332.2 L392.7 332.1 L393.3 334.2 L393.9 335.6 L394.5 337.4 L395.1 339.9 L395.7 341.6 L396.3 344 L396.9 345.6 L397.5 347.8 L398.1 350.2 L398.7 351 L399.3 354.2 L399.9 356.6 L400.5 359.1 L401.1 361.8 L401.7 365.3 L402.3 366.7 L402.9 369.8 L403.5 370.2 L404.1 372 L404.7 373.2 L405.3 374.2 L405.9 374.9 L406.5 375.6 L407.1 375.9 L407.7 376.4 L408.3 377.3 L408.9 377.3 L409.5 377.2 L410.1 377.5 L410.7 377.8 L411.3 378.3 L411.9 378.4 L412.5 378.7 L413.1 378.5 L413.7 378.8 L414.3 379 L414.9 378.9 L415.5 379.2 L416.1 379 L416.7 379.1 L417.3 379.2 L417.9 379.1 L418.5 379.6 L419.1 379.4 L419.7 379.6 L420.3 379.8 L420.9 379.8 L421.5 379.9 L422.1 379.8 L422.7 379.8 L423.3 379.9 L423.9 379.6 L424.5 379.7 L425.1 379.8 L425.7 379.9 L426.3 380.3 L426.9 380 L427.5 380.2 L428.1 380.6 L428.7 380.3 L429.3 380.5 L429.9 380.2 L430.5 380.4 L431.1 380.3 L431.7 380.4 L432.3 380.7 L432.9 380.2 L433.5 380.7 L434.1 380.7 L434.7 380.5 L435.3 380.4 L435.9 380.7 L436.5 380.7 L437.1 380.9 L437.7 380.9 L438.3 381.3 L438.9 381 L439.5 380.9 L440.1 381.2 L440.7 381.3 L441.3 381.6 L441.9 381.5 L442.5 381.5 L443.1 381.8 L443.7 381.4 L444.3 381.6 L444.9 381.6 L445.5 381.8 L446.1 381.7 L446.7 382.1 L447.3 382.1 L447.9 382 L448.5 382.1 L449.1 382.4 L449.7 382.5 L450.3 382.5 L450.9 382.5 L451.5 382.5 L452.1 382.5 L452.7 382.5 L453.3 382.4 L453.9 382.3 L454.5 382.4 L455.1 382.3 L455.7 382.5 L456.3 382.2 L456.9 382.5 L457.5 382.5 L458.1 382.2 L458.7 382 L459.3 382.4 L459.9 382.5 L460.5 382 L461.1 382.5 L461.7 382.2 L462.3 382.4 L462.9 382.1 L463.5 382.2 L464.1 382.3 L464.7 381.9 L465.3 382.3 L465.9 382.2 L466.5 382.2 L467.1 382.2 L467.7 382.4 L468.3 382.5 L468.9 382.5 L469.5 382.3 L470.1 382.4 L470.7 382.4 L471.3 382.1 L471.9 382.1 L472.5 382.4 L473.1 382 L473.7 382.5 L474.3 382.5 L474.9 382.4 L475.5 382.1 L476.1 382.4 L476.7 382.4 L477.3 382.2 L477.9 382.4 L478.5 382 L479.1 382.4 L479.7 382.1 L480.3 382.1 L480.9 382 L481.5 382 L482.1 382.4 L482.7 382.4 L483.3 382.1 L483.9 382.2 L484.5 382.2 L485.1 382.3 L485.7 382.4 L486.3 382.5 L486.9 382.5 L487.5 382.4 L488.1 382.1 L488.7 382.5 L489.3 382.3 L489.9 381.9 L490.5 382.5 L491.1 382.2 L491.7 382.1 L492.3 382.2 L492.9 382.4 L493.5 382.2 L494.1 382.1 L494.7 382.5 L495.3 382.4 L495.9 382.4 L496.5 382.2 L497.1 382.3 L497.7 382.1 L498.3 382.5 L498.9 382.3 L499.5 382.4 L500.1 382.4 L500.7 382.4 L501.3 382.2 L501.9 382.5 L502.5 382.4" fill="none" stroke="#151515" stroke-width="1.05" stroke-linejoin="round"/>
<path d="M366.8 382.5 L367.4 380.7 L368 379.9 L368.6 379.1 L369.2 377.7 L369.8 376.4 L370.4 374.7 L371 373.9 L371.6 373.1 L372.2 370.8 L372.8 369.3 L373.4 367.4 L374 365.1 L374.6 363.5 L375.2 361.8 L375.8 359.1 L376.4 355.5 L377 352.2 L377.6 350.8 L378.2 349 L378.8 346.2 L379.4 343.1 L380 342 L380.6 337.7 L381.2 338.3 L381.8 335.8 L382.4 334.7 L383 332 L383.6 330.4 L384.2 328.6 L384.8 332 L385.4 329.1 L386 328.8 L386.6 328.4 L387.2 329.1 L387.8 328.5 L388.4 328.3 L389 328 L389.6 328.8 L390.2 329.4 L390.8 329.6 L391.4 330.7 L392 330.5 L392.6 333.9 L393.2 335.3 L393.8 338.5 L394.4 336.2 L395 340 L395.6 342.7 L396.2 346.8 L396.8 349.2 L397.4 352.3 L398 356.3 L398.6 358.3 L399.2 362.6 L399.8 364.6 L400.4 368.1 L401 371 L401.6 373 L402.2 374.2 L402.8 375.6 L403.4 377.8 L404 378.7 L404.6 379.8 L405.2 380 L405.8 380.9 L406.4 380.5 L407 381.3 L407.6 381.4 L408.2 381.9 L408.8 382 L409.4 381.5 L410 381.8 L410.6 381.7 L411.2 381.9 L411.8 382 L412.4 382.1 L413 382.5 L413.6 381.8 L414.2 381.8 L414.8 382.3 L415.4 382.2 L416 382 L416.6 382.5 L417.2 382 L417.8 382 L418.4 382.2 L419 381.7 L419.6 381.9 L420.2 382 L420.8 382.3 L421.4 382.1 L422 382.1 L422.6 382.3 L423.2 382.3 L423.8 382.3 L424.4 382.2 L425 382.2 L425.6 382.3 L426.2 382.3 L426.8 382.1 L427.4 382.5 L428 382.5 L428.6 382.5 L429.2 382.3 L429.8 382.5 L430.4 382.1 L431 382.4 L431.6 382.5 L432.2 382.3 L432.8 382.5 L433.4 382.4 L434 382.5 L434.6 382.1 L435.2 382.4 L435.8 382.5 L436.4 382.5 L437 382.5 L437.6 382.5 L438.2 382.5 L438.8 382.5 L439.4 382.5 L440 382.5 L440.6 382.5 L441.2 382.5 L441.8 382.5 L442.4 382.5 L443 382.5 L443.6 382.5 L444.2 382.5 L444.8 382.5 L445.4 382.4 L446 382.4 L446.6 382.3 L447.2 382.4 L447.8 382.4 L448.4 381.6 L449 382.5 L449.6 382.1 L450.2 382.1 L450.8 382.3 L451.4 381.9 L452 382.3 L452.6 381.7 L453.2 382.3 L453.8 381.9 L454.4 382.4 L455 382.3 L455.6 382.4 L456.2 382.2 L456.8 382.1 L457.4 382.1 L458 382.2 L458.6 382.4 L459.2 382.4 L459.8 382.2 L460.4 382.1 L461 382.1 L461.6 382.3 L462.2 382 L462.8 382.4 L463.4 382.2 L464 382 L464.6 382 L465.2 382.1 L465.8 382.5 L466.4 382.1 L467 382.1 L467.6 382.4 L468.2 382.4 L468.8 382.1 L469.4 382.4 L470 382.1 L470.6 381.8 L471.2 382.4 L471.8 382.5 L472.4 382.4 L473 382.1 L473.6 382.5 L474.2 382.3 L474.8 382.2 L475.4 382.1 L476 382.5 L476.6 382.1 L477.2 382.3 L477.8 382.5 L478.4 382.5 L479 382.3 L479.6 382 L480.2 382 L480.8 382.4 L481.4 382.3 L482 382.2 L482.6 382.4 L483.2 382.4 L483.8 382.4 L484.4 382 L485 382.3 L485.6 382.1 L486.2 382.3 L486.8 382.1 L487.4 382.3 L488 382.4 L488.6 382 L489.2 382.2 L489.8 382.1 L490.4 382.5 L491 382 L491.6 382.5 L492.2 382.3 L492.8 382.2 L493.4 382 L494 382.5 L494.6 382.2 L495.2 382 L495.8 381.7 L496.4 382.4 L497 382.4 L497.6 382.1 L498.2 382 L498.8 382 L499.4 382.2 L500 382 L500.6 382.3 L501.2 382.1 L501.8 382.2 L502.4 382.4 L503 382.4" fill="none" stroke="#222" stroke-width="0.9" stroke-dasharray="1.1 0.9" stroke-linejoin="round"/>
<path d="M367 382.3 L367.8 382 L368.6 382.3 L369.4 381.9 L370.2 381.4 L371 381.8 L371.8 381.9 L372.6 381.7 L373.4 381.3 L374.2 381.3 L375 380.6 L375.8 380.5 L376.6 381 L377.4 380.3 L378.2 380.3 L379 379.8 L379.8 379.3 L380.6 378.2 L381.4 377.4 L382.2 376.2 L383 375.9 L383.8 374.5 L384.6 374 L385.4 371.4 L386.2 371.3 L387 368.9 L387.8 369 L388.6 365.5 L389.4 365.8 L390.2 363 L391 362 L391.8 360.5 L392.6 359.9 L393.4 359.7 L394.2 358.5 L395 357.4 L395.8 357 L396.6 354.5 L397.4 354.7 L398.2 354.9 L399 351.2 L399.8 353.5 L400.6 351.3 L401.4 352.1 L402.2 352.2 L403 350.9 L403.8 354.2 L404.6 352.5 L405.4 354.2 L406.2 355.6 L407 357.5 L407.8 358.5 L408.6 358.5 L409.4 358.6 L410.2 360.5 L411 362.7 L411.8 361.1 L412.6 363.3 L413.4 362.4 L414.2 363.4 L415 365.5 L415.8 364 L416.6 365.4 L417.4 365.2 L418.2 365.9 L419 364.8 L419.8 365.6 L420.6 365.1 L421.4 365.6 L422.2 365.8 L423 365.3 L423.8 366.7 L424.6 365.5 L425.4 366.2 L426.2 364.5 L427 366.3 L427.8 366.8 L428.6 365.1 L429.4 365.7 L430.2 365.9 L431 365.2 L431.8 366.1 L432.6 366.2 L433.4 367.2 L434.2 367.5 L435 369.9 L435.8 371.3 L436.6 371.7 L437.4 372.1 L438.2 372.1 L439 374.6 L439.8 374.2 L440.6 374.5 L441.4 375 L442.2 374.9 L443 375.2 L443.8 376.6 L444.6 377.4 L445.4 377.2 L446.2 377.2 L447 377.1 L447.8 378.8 L448.6 378.7 L449.4 378.5 L450.2 378.8 L451 378.7 L451.8 378.3 L452.6 379.3 L453.4 379.4 L454.2 379.2 L455 380.4 L455.8 380.7 L456.6 380.5 L457.4 380.8 L458.2 381.1 L459 381.3 L459.8 381.7 L460.6 382.2 L461.4 381.9 L462.2 381.9 L463 382.4 L463.8 382.5 L464.6 382.2 L465.4 382.3 L466.2 382.5 L467 382.5 L467.8 382.5 L468.6 382.5 L469.4 382.5 L470.2 382.5 L471 382.5" fill="none" stroke="#050505" stroke-width="2.3" stroke-linejoin="round"/>
<rect x="362.7" y="325.6" width="141.4" height="57.7" fill="none" stroke="#111" stroke-width="1.4"/>
<path d="M363.4 383.3v3.8M373.9 383.3v2.8M380.1 383.3v2.8M384.5 383.3v2.8M387.8 383.3v2.8M390.6 383.3v2.8M393 383.3v2.8M395 383.3v2.8M396.8 383.3v2.8M398.4 383.3v3.8M408.9 383.3v2.8M415.1 383.3v2.8M419.4 383.3v2.8M422.8 383.3v2.8M425.6 383.3v2.8M427.9 383.3v2.8M430 383.3v2.8M431.7 383.3v2.8M433.4 383.3v3.8M443.9 383.3v2.8M450 383.3v2.8M454.4 383.3v2.8M457.8 383.3v2.8M460.6 383.3v2.8M462.9 383.3v2.8M464.9 383.3v2.8M466.7 383.3v2.8M468.3 383.3v3.8M478.9 383.3v2.8M485 383.3v2.8M489.4 383.3v2.8M492.8 383.3v2.8M495.5 383.3v2.8M497.9 383.3v2.8M499.9 383.3v2.8M501.7 383.3v2.8M503.3 383.3v3.8" stroke="#111" stroke-width="1.15" fill="none"/>
<path d="M362.7 383.3h-5.6M362.7 382.1h-3.3M362.7 381h-3.3M362.7 379.8h-3.3M362.7 378.7h-3.3M362.7 377.5h-3.3M362.7 376.4h-3.3M362.7 375.2h-3.3M362.7 374.1h-3.3M362.7 372.9h-3.3M362.7 371.8h-5.6M362.7 370.6h-3.3M362.7 369.5h-3.3M362.7 368.3h-3.3M362.7 367.1h-3.3M362.7 366h-3.3M362.7 364.8h-3.3M362.7 363.7h-3.3M362.7 362.5h-3.3M362.7 361.4h-3.3M362.7 360.2h-5.6M362.7 359.1h-3.3M362.7 357.9h-3.3M362.7 356.8h-3.3M362.7 355.6h-3.3M362.7 354.5h-3.3M362.7 353.3h-3.3M362.7 352.1h-3.3M362.7 351h-3.3M362.7 349.8h-3.3M362.7 348.7h-5.6M362.7 347.5h-3.3M362.7 346.4h-3.3M362.7 345.2h-3.3M362.7 344.1h-3.3M362.7 342.9h-3.3M362.7 341.8h-3.3M362.7 340.6h-3.3M362.7 339.4h-3.3M362.7 338.3h-3.3M362.7 337.1h-5.6M362.7 336h-3.3M362.7 334.8h-3.3M362.7 333.7h-3.3M362.7 332.5h-3.3M362.7 331.4h-3.3M362.7 330.2h-3.3M362.7 329.1h-3.3M362.7 327.9h-3.3M362.7 326.8h-3.3M362.7 325.6h-5.6" stroke="#111" stroke-width="0.6" fill="none"/>
<text x="364.4" y="397.2" font-size="9.0" text-anchor="middle" fill="#111" font-weight="bold" letter-spacing="0.7">10<tspan font-size="9.7" dy="-3.4">0</tspan></text>
<text x="399.4" y="397.2" font-size="9.0" text-anchor="middle" fill="#111" font-weight="bold" letter-spacing="0.7">10<tspan font-size="9.7" dy="-3.4">1</tspan></text>
<text x="434.4" y="397.2" font-size="9.0" text-anchor="middle" fill="#111" font-weight="bold" letter-spacing="0.7">10<tspan font-size="9.7" dy="-3.4">2</tspan></text>
<text x="469.3" y="397.2" font-size="9.0" text-anchor="middle" fill="#111" font-weight="bold" letter-spacing="0.7">10<tspan font-size="9.7" dy="-3.4">3</tspan></text>
<text x="504.3" y="397.2" font-size="9.0" text-anchor="middle" fill="#111" font-weight="bold" letter-spacing="0.7">10<tspan font-size="9.7" dy="-3.4">4</tspan></text>
<text x="504.9" y="340.6" font-size="13" text-anchor="end" font-weight="normal" fill="#000">CD94</text>
<line x1="35" y1="445.4" x2="35" y2="460.9" stroke="#333" stroke-width="0.8"/>
<line x1="36" y1="445.4" x2="36" y2="460.9" stroke="#444" stroke-width="0.8" stroke-dasharray="1 1"/>
<path d="M35.5 458.8 L36.1 458.7 L36.7 458.2 L37.3 457.9 L37.9 457.4 L38.5 457.8 L39.1 457.3 L39.7 457 L40.3 456.4 L40.9 456.6 L41.5 456.2 L42.1 455.4 L42.7 454.6 L43.3 453.4 L43.9 451.6 L44.5 450 L45.1 447.8 L45.7 446.6 L46.3 444.4 L46.9 442.5 L47.5 441.5 L48.1 438 L48.7 434.9 L49.3 433 L49.9 428.2 L50.5 426.7 L51.1 424 L51.7 420 L52.3 416.9 L52.9 413 L53.5 413.4 L54.1 411.8 L54.7 409.2 L55.3 410.9 L55.9 407.4 L56.5 406.3 L57.1 405.6 L57.7 406.7 L58.3 406.7 L58.9 406.8 L59.5 406.3 L60.1 406.2 L60.7 408 L61.3 407 L61.9 407.5 L62.5 410.9 L63.1 411.2 L63.7 413.2 L64.3 415.5 L64.9 417.1 L65.5 419.8 L66.1 423.7 L66.7 425.9 L67.3 429.9 L67.9 433.2 L68.5 435.9 L69.1 440.7 L69.7 442.7 L70.3 445.6 L70.9 447.1 L71.5 449 L72.1 449.2 L72.7 450.5 L73.3 451.8 L73.9 452.9 L74.5 453.9 L75.1 454.1 L75.7 454.3 L76.3 454.9 L76.9 455.4 L77.5 454.6 L78.1 455.1 L78.7 455.5 L79.3 455.4 L79.9 455.8 L80.5 455.4 L81.1 455.3 L81.7 455.9 L82.3 454.9 L82.9 455.6 L83.5 456.4 L84.1 455.8 L84.7 456 L85.3 455.6 L85.9 456 L86.5 456 L87.1 456.6 L87.7 455.8 L88.3 455.4 L88.9 456.3 L89.5 456.7 L90.1 456.2 L90.7 455.9 L91.3 456.2 L91.9 456.6 L92.5 456.5 L93.1 456.7 L93.7 456.2 L94.3 456.8 L94.9 457.3 L95.5 457.2 L96.1 457.2 L96.7 457.9 L97.3 458 L97.9 457.9 L98.5 458 L99.1 458.6 L99.7 458.4 L100.3 458.6 L100.9 459.2 L101.5 459 L102.1 459 L102.7 458.9 L103.3 459.3 L103.9 459.4 L104.5 459.4 L105.1 459.7 L105.7 459.4 L106.3 459.5 L106.9 459.6 L107.5 459.8 L108.1 459.6 L108.7 459.7 L109.3 459.8 L109.9 460.1 L110.5 459.9 L111.1 459.8 L111.7 459.4 L112.3 460 L112.9 459.9 L113.5 460 L114.1 459.5 L114.7 460.1 L115.3 460.1 L115.9 459.9 L116.5 459.7 L117.1 459.9 L117.7 459.9 L118.3 460 L118.9 459.9 L119.5 460.1 L120.1 459.8 L120.7 459.7 L121.3 459.8 L121.9 459.6 L122.5 459.8 L123.1 460 L123.7 459.7 L124.3 459.9 L124.9 459.9 L125.5 459.7 L126.1 460.1 L126.7 459.8 L127.3 460 L127.9 459.9 L128.5 459.7 L129.1 460.1 L129.7 459.6 L130.3 459.7 L130.9 459.2 L131.5 460 L132.1 459.7 L132.7 459.8 L133.3 459.8 L133.9 459.9 L134.5 459.9 L135.1 459.9 L135.7 459.7 L136.3 460 L136.9 459.4 L137.5 459.8 L138.1 459.9 L138.7 459.5 L139.3 459.4 L139.9 459.7 L140.5 459.7 L141.1 459.9 L141.7 460 L142.3 460 L142.9 459.9 L143.5 460 L144.1 460.1 L144.7 460 L145.3 460 L145.9 460 L146.5 460 L147.1 459.8 L147.7 459.9 L148.3 459.7 L148.9 459.9 L149.5 459.7 L150.1 459.6 L150.7 459.9 L151.3 460 L151.9 459.9 L152.5 459.9 L153.1 459.6 L153.7 460.1 L154.3 459.7 L154.9 460 L155.5 460.1 L156.1 459.6 L156.7 459.5 L157.3 460 L157.9 459.9 L158.5 459.9 L159.1 459.8 L159.7 459.8 L160.3 460.1 L160.9 460 L161.5 459.7 L162.1 460.1 L162.7 460.1 L163.3 460 L163.9 459.7 L164.5 459.9 L165.1 459.8 L165.7 460 L166.3 459.9 L166.9 459.7 L167.5 460.1 L168.1 459.5 L168.7 459.4 L169.3 459.7 L169.9 459.8 L170.5 460 L171.1 459.4 L171.7 459.7 L171.7 460.9 L35.5 460.9 Z" fill="#e6e6e6" stroke="none"/>
<path d="M35.5 458.8 L36.1 458.7 L36.7 458.2 L37.3 457.9 L37.9 457.4 L38.5 457.8 L39.1 457.3 L39.7 457 L40.3 456.4 L40.9 456.6 L41.5 456.2 L42.1 455.4 L42.7 454.6 L43.3 453.4 L43.9 451.6 L44.5 450 L45.1 447.8 L45.7 446.6 L46.3 444.4 L46.9 442.5 L47.5 441.5 L48.1 438 L48.7 434.9 L49.3 433 L49.9 428.2 L50.5 426.7 L51.1 424 L51.7 420 L52.3 416.9 L52.9 413 L53.5 413.4 L54.1 411.8 L54.7 409.2 L55.3 410.9 L55.9 407.4 L56.5 406.3 L57.1 405.6 L57.7 406.7 L58.3 406.7 L58.9 406.8 L59.5 406.3 L60.1 406.2 L60.7 408 L61.3 407 L61.9 407.5 L62.5 410.9 L63.1 411.2 L63.7 413.2 L64.3 415.5 L64.9 417.1 L65.5 419.8 L66.1 423.7 L66.7 425.9 L67.3 429.9 L67.9 433.2 L68.5 435.9 L69.1 440.7 L69.7 442.7 L70.3 445.6 L70.9 447.1 L71.5 449 L72.1 449.2 L72.7 450.5 L73.3 451.8 L73.9 452.9 L74.5 453.9 L75.1 454.1 L75.7 454.3 L76.3 454.9 L76.9 455.4 L77.5 454.6 L78.1 455.1 L78.7 455.5 L79.3 455.4 L79.9 455.8 L80.5 455.4 L81.1 455.3 L81.7 455.9 L82.3 454.9 L82.9 455.6 L83.5 456.4 L84.1 455.8 L84.7 456 L85.3 455.6 L85.9 456 L86.5 456 L87.1 456.6 L87.7 455.8 L88.3 455.4 L88.9 456.3 L89.5 456.7 L90.1 456.2 L90.7 455.9 L91.3 456.2 L91.9 456.6 L92.5 456.5 L93.1 456.7 L93.7 456.2 L94.3 456.8 L94.9 457.3 L95.5 457.2 L96.1 457.2 L96.7 457.9 L97.3 458 L97.9 457.9 L98.5 458 L99.1 458.6 L99.7 458.4 L100.3 458.6 L100.9 459.2 L101.5 459 L102.1 459 L102.7 458.9 L103.3 459.3 L103.9 459.4 L104.5 459.4 L105.1 459.7 L105.7 459.4 L106.3 459.5 L106.9 459.6 L107.5 459.8 L108.1 459.6 L108.7 459.7 L109.3 459.8 L109.9 460.1 L110.5 459.9 L111.1 459.8 L111.7 459.4 L112.3 460 L112.9 459.9 L113.5 460 L114.1 459.5 L114.7 460.1 L115.3 460.1 L115.9 459.9 L116.5 459.7 L117.1 459.9 L117.7 459.9 L118.3 460 L118.9 459.9 L119.5 460.1 L120.1 459.8 L120.7 459.7 L121.3 459.8 L121.9 459.6 L122.5 459.8 L123.1 460 L123.7 459.7 L124.3 459.9 L124.9 459.9 L125.5 459.7 L126.1 460.1 L126.7 459.8 L127.3 460 L127.9 459.9 L128.5 459.7 L129.1 460.1 L129.7 459.6 L130.3 459.7 L130.9 459.2 L131.5 460 L132.1 459.7 L132.7 459.8 L133.3 459.8 L133.9 459.9 L134.5 459.9 L135.1 459.9 L135.7 459.7 L136.3 460 L136.9 459.4 L137.5 459.8 L138.1 459.9 L138.7 459.5 L139.3 459.4 L139.9 459.7 L140.5 459.7 L141.1 459.9 L141.7 460 L142.3 460 L142.9 459.9 L143.5 460 L144.1 460.1 L144.7 460 L145.3 460 L145.9 460 L146.5 460 L147.1 459.8 L147.7 459.9 L148.3 459.7 L148.9 459.9 L149.5 459.7 L150.1 459.6 L150.7 459.9 L151.3 460 L151.9 459.9 L152.5 459.9 L153.1 459.6 L153.7 460.1 L154.3 459.7 L154.9 460 L155.5 460.1 L156.1 459.6 L156.7 459.5 L157.3 460 L157.9 459.9 L158.5 459.9 L159.1 459.8 L159.7 459.8 L160.3 460.1 L160.9 460 L161.5 459.7 L162.1 460.1 L162.7 460.1 L163.3 460 L163.9 459.7 L164.5 459.9 L165.1 459.8 L165.7 460 L166.3 459.9 L166.9 459.7 L167.5 460.1 L168.1 459.5 L168.7 459.4 L169.3 459.7 L169.9 459.8 L170.5 460 L171.1 459.4 L171.7 459.7" fill="none" stroke="#151515" stroke-width="1.05" stroke-linejoin="round"/>
<path d="M36 458.2 L36.6 457.4 L37.2 455.7 L37.8 454.6 L38.4 452.7 L39 452 L39.6 450.7 L40.2 450.2 L40.8 447.7 L41.4 446.9 L42 444.3 L42.6 443.6 L43.2 441.2 L43.8 438.7 L44.4 435.2 L45 434.9 L45.6 432.1 L46.2 428.6 L46.8 426.8 L47.4 423.5 L48 420.5 L48.6 421.3 L49.2 419.5 L49.8 416.7 L50.4 414.6 L51 412.9 L51.6 411.9 L52.2 410.2 L52.8 408.9 L53.4 407.7 L54 407.1 L54.6 406.3 L55.2 406.4 L55.8 406.1 L56.4 405.6 L57 404.8 L57.6 403 L58.2 404.7 L58.8 404.4 L59.4 408.6 L60 406.5 L60.6 406.8 L61.2 406.9 L61.8 407.1 L62.4 408.1 L63 406.7 L63.6 411.9 L64.2 413.2 L64.8 416.6 L65.4 419.7 L66 423.2 L66.6 427.6 L67.2 431.5 L67.8 434.7 L68.4 440.1 L69 442.8 L69.6 446.9 L70.2 449.6 L70.8 450.8 L71.4 452.4 L72 453.4 L72.6 455 L73.2 455.2 L73.8 456.4 L74.4 456.8 L75 456.7 L75.6 457.4 L76.2 456.4 L76.8 457.1 L77.4 457.7 L78 457.6 L78.6 457.7 L79.2 458.4 L79.8 457.8 L80.4 458.5 L81 458.4 L81.6 458.6 L82.2 458.5 L82.8 458.1 L83.4 458.7 L84 458.5 L84.6 458.6 L85.2 458.9 L85.8 459.4 L86.4 459.4 L87 458.9 L87.6 459.2 L88.2 459 L88.8 459.4 L89.4 459.3 L90 459.3 L90.6 460 L91.2 460 L91.8 460 L92.4 459.9 L93 459.5 L93.6 460 L94.2 460.1 L94.8 459.9 L95.4 459.9 L96 459.5 L96.6 460 L97.2 459.8 L97.8 459.9 L98.4 459.9 L99 459.8 L99.6 460.1 L100.2 460.1 L100.8 459.7 L101.4 459.7 L102 459.3 L102.6 459.8 L103.2 459.8 L103.8 460 L104.4 459.9 L105 459.9 L105.6 459.9 L106.2 459.8 L106.8 459.9 L107.4 460 L108 459.7 L108.6 459.9 L109.2 459.9 L109.8 460.1 L110.4 459.8 L111 459.5 L111.6 459.9 L112.2 459.8 L112.8 460 L113.4 460.1 L114 460 L114.6 459.8 L115.2 459.8 L115.8 459.3 L116.4 460 L117 459.5 L117.6 459.6 L118.2 459.8 L118.8 459.9 L119.4 459.7 L120 459.8 L120.6 460 L121.2 459.9 L121.8 460 L122.4 459.6 L123 459.9 L123.6 460.1 L124.2 460.1 L124.8 459.8 L125.4 459.9 L126 459.8 L126.6 460 L127.2 459.8 L127.8 459.4 L128.4 459.6 L129 459.9 L129.6 459.7 L130.2 459.6 L130.8 459.7 L131.4 459.8 L132 459.9 L132.6 459.6 L133.2 459.4 L133.8 460.1 L134.4 460.1 L135 459.8 L135.6 459.6 L136.2 460 L136.8 459.9 L137.4 459.9 L138 459.8 L138.6 459.7 L139.2 459.7 L139.8 459.9 L140.4 459.9 L141 460.1 L141.6 460 L142.2 460 L142.8 459.8 L143.4 459.8 L144 459.9 L144.6 460 L145.2 459.7 L145.8 460 L146.4 460 L147 460 L147.6 460 L148.2 459.6 L148.8 459.7 L149.4 460.1 L150 459.5 L150.6 459.9 L151.2 459.8 L151.8 459.9 L152.4 459.4 L153 459.8 L153.6 459.8 L154.2 460 L154.8 459.9 L155.4 459.9 L156 459.9 L156.6 459.8 L157.2 459.9 L157.8 459.8 L158.4 459.5 L159 459.8 L159.6 459.5 L160.2 460.1 L160.8 459.6 L161.4 460 L162 459.9 L162.6 459.5 L163.2 459.9 L163.8 459.7 L164.4 459.7 L165 459.8 L165.6 459.8 L166.2 459.8 L166.8 460 L167.4 459.4 L168 460 L168.6 459.7 L169.2 459.8 L169.8 460 L170.4 459.8 L171 459.8 L171.6 459.8" fill="none" stroke="#222" stroke-width="0.9" stroke-dasharray="1.1 0.9" stroke-linejoin="round"/>
<path d="M35.5 458.3 L36.3 458.3 L37.1 458.2 L37.9 457.1 L38.7 457.5 L39.5 457.3 L40.3 456.5 L41.1 455.9 L41.9 454.7 L42.7 454.7 L43.5 452.6 L44.3 449.4 L45.1 446 L45.9 445.3 L46.7 441.3 L47.5 438.9 L48.3 435.8 L49.1 431.2 L49.9 429.3 L50.7 425.1 L51.5 419.5 L52.3 416.7 L53.1 415.1 L53.9 410.2 L54.7 409.9 L55.5 407.1 L56.3 408 L57.1 407.6 L57.9 406.8 L58.7 406.1 L59.5 405.4 L60.3 405.8 L61.1 408.2 L61.9 409.6 L62.7 409.7 L63.5 408.7 L64.3 414.7 L65.1 417.5 L65.9 421.6 L66.7 424 L67.5 432.8 L68.3 433.9 L69.1 441.2 L69.9 444.5 L70.7 446.5 L71.5 448.3 L72.3 449.3 L73.1 451.1 L73.9 452.9 L74.7 453 L75.5 453.3 L76.3 452.7 L77.1 453.9 L77.9 454.3 L78.7 454.1 L79.5 454.8 L80.3 455.1 L81.1 454.9 L81.9 455 L82.7 454.6 L83.5 455.1 L84.3 454.5 L85.1 456.2 L85.9 454.4 L86.7 455.5 L87.5 455.5 L88.3 455.3 L89.1 455.5 L89.9 455.5 L90.7 455.4 L91.5 455.4 L92.3 455.9 L93.1 456.2 L93.9 455.3 L94.7 456.4 L95.5 456.1 L96.3 457.5 L97.1 457.1 L97.9 457.1 L98.7 457.9 L99.5 457.8 L100.3 458.3 L101.1 458.6 L101.9 458.8 L102.7 459 L103.5 459 L104.3 459.1 L105.1 459.4 L105.9 459.6 L106.7 459.6 L107.5 459.8" fill="none" stroke="#050505" stroke-width="2.3" stroke-linejoin="round"/>
<rect x="31" y="404.2" width="142.1" height="56.7" fill="none" stroke="#111" stroke-width="1.4"/>
<path d="M31.7 460.9v3.8M42.3 460.9v2.8M48.5 460.9v2.8M52.9 460.9v2.8M56.3 460.9v2.8M59.1 460.9v2.8M61.4 460.9v2.8M63.4 460.9v2.8M65.2 460.9v2.8M66.8 460.9v3.8M77.4 460.9v2.8M83.6 460.9v2.8M88 460.9v2.8M91.4 460.9v2.8M94.2 460.9v2.8M96.6 460.9v2.8M98.6 460.9v2.8M100.4 460.9v2.8M102 460.9v3.8M112.6 460.9v2.8M118.8 460.9v2.8M123.2 460.9v2.8M126.6 460.9v2.8M129.4 460.9v2.8M131.7 460.9v2.8M133.7 460.9v2.8M135.5 460.9v2.8M137.1 460.9v3.8M147.7 460.9v2.8M153.9 460.9v2.8M158.3 460.9v2.8M161.7 460.9v2.8M164.5 460.9v2.8M166.9 460.9v2.8M168.9 460.9v2.8M170.7 460.9v2.8M172.3 460.9v3.8" stroke="#111" stroke-width="1.15" fill="none"/>
<path d="M31 460.9h-5.6M31 459.8h-3.3M31 458.6h-3.3M31 457.5h-3.3M31 456.4h-3.3M31 455.2h-3.3M31 454.1h-3.3M31 453h-3.3M31 451.8h-3.3M31 450.7h-3.3M31 449.6h-5.6M31 448.4h-3.3M31 447.3h-3.3M31 446.2h-3.3M31 445h-3.3M31 443.9h-3.3M31 442.8h-3.3M31 441.6h-3.3M31 440.5h-3.3M31 439.4h-3.3M31 438.2h-5.6M31 437.1h-3.3M31 436h-3.3M31 434.8h-3.3M31 433.7h-3.3M31 432.5h-3.3M31 431.4h-3.3M31 430.3h-3.3M31 429.1h-3.3M31 428h-3.3M31 426.9h-5.6M31 425.7h-3.3M31 424.6h-3.3M31 423.5h-3.3M31 422.3h-3.3M31 421.2h-3.3M31 420.1h-3.3M31 418.9h-3.3M31 417.8h-3.3M31 416.7h-3.3M31 415.5h-5.6M31 414.4h-3.3M31 413.3h-3.3M31 412.1h-3.3M31 411h-3.3M31 409.9h-3.3M31 408.7h-3.3M31 407.6h-3.3M31 406.5h-3.3M31 405.3h-3.3M31 404.2h-5.6" stroke="#111" stroke-width="0.6" fill="none"/>
<text x="32.7" y="474.8" font-size="9.0" text-anchor="middle" fill="#111" font-weight="bold" letter-spacing="0.7">10<tspan font-size="9.7" dy="-3.4">0</tspan></text>
<text x="67.8" y="474.8" font-size="9.0" text-anchor="middle" fill="#111" font-weight="bold" letter-spacing="0.7">10<tspan font-size="9.7" dy="-3.4">1</tspan></text>
<text x="103" y="474.8" font-size="9.0" text-anchor="middle" fill="#111" font-weight="bold" letter-spacing="0.7">10<tspan font-size="9.7" dy="-3.4">2</tspan></text>
<text x="138.1" y="474.8" font-size="9.0" text-anchor="middle" fill="#111" font-weight="bold" letter-spacing="0.7">10<tspan font-size="9.7" dy="-3.4">3</tspan></text>
<text x="173.3" y="474.8" font-size="9.0" text-anchor="middle" fill="#111" font-weight="bold" letter-spacing="0.7">10<tspan font-size="9.7" dy="-3.4">4</tspan></text>
<text x="172.3" y="417.6" font-size="13" text-anchor="end" font-weight="normal" fill="#000">NK1.1</text>
<line x1="200.7" y1="444.8" x2="200.7" y2="460.3" stroke="#333" stroke-width="0.8"/>
<line x1="201.7" y1="444.8" x2="201.7" y2="460.3" stroke="#444" stroke-width="0.8" stroke-dasharray="1 1"/>
<path d="M202.2 458.5 L202.8 457.3 L203.4 456.4 L204 455.6 L204.6 454.5 L205.2 453.3 L205.8 451.8 L206.4 450.3 L207 449.5 L207.6 447.7 L208.2 446.8 L208.8 445 L209.4 442.7 L210 441.2 L210.6 439.2 L211.2 436.6 L211.8 433.8 L212.4 432.3 L213 430.1 L213.6 428.2 L214.2 426 L214.8 422.7 L215.4 421 L216 419.9 L216.6 416.2 L217.2 416.3 L217.8 413.2 L218.4 411.7 L219 411.7 L219.6 409.1 L220.2 407.7 L220.8 407.2 L221.4 406.1 L222 405.1 L222.6 405.4 L223.2 406.9 L223.8 406 L224.4 406.1 L225 406.8 L225.6 408.1 L226.2 409.1 L226.8 409.3 L227.4 412.1 L228 413.8 L228.6 417.8 L229.2 419.2 L229.8 423.2 L230.4 424.3 L231 428.4 L231.6 430.6 L232.2 433.4 L232.8 437.2 L233.4 438.9 L234 441.9 L234.6 444.1 L235.2 447.1 L235.8 449.2 L236.4 450.1 L237 452.5 L237.6 453.2 L238.2 455 L238.8 455.5 L239.4 456.2 L240 456 L240.6 457.6 L241.2 457.6 L241.8 457.5 L242.4 458 L243 458.4 L243.6 457.9 L244.2 458.5 L244.8 458.4 L245.4 458.4 L246 458.5 L246.6 458.5 L247.2 458.7 L247.8 458.8 L248.4 459 L249 459.1 L249.6 458.8 L250.2 459.1 L250.8 458.7 L251.4 459 L252 458.7 L252.6 458.7 L253.2 458.9 L253.8 458.6 L254.4 458.8 L255 458.4 L255.6 458.5 L256.2 458.6 L256.8 458.6 L257.4 458 L258 458.4 L258.6 458 L259.2 458.4 L259.8 457.9 L260.4 457.9 L261 458.2 L261.6 458.1 L262.2 458.6 L262.8 458.7 L263.4 459.1 L264 459 L264.6 458.9 L265.2 459 L265.8 459.2 L266.4 459.1 L267 459.2 L267.6 458.9 L268.2 459.3 L268.8 459.1 L269.4 459.3 L270 459.4 L270.6 459 L271.2 459.1 L271.8 459.4 L272.4 459 L273 459.3 L273.6 459.1 L274.2 459.1 L274.8 459.1 L275.4 459.4 L276 459.2 L276.6 459.2 L277.2 459.5 L277.8 459.3 L278.4 459.1 L279 459.4 L279.6 459.2 L280.2 459.3 L280.8 459.5 L281.4 459.2 L282 459.5 L282.6 458.5 L283.2 459.2 L283.8 459.4 L284.4 459.2 L285 459.1 L285.6 459 L286.2 459.1 L286.8 458.9 L287.4 459.5 L288 459 L288.6 459.3 L289.2 459 L289.8 459.1 L290.4 459.3 L291 459.2 L291.6 459.2 L292.2 459.1 L292.8 459.1 L293.4 459.2 L294 459.2 L294.6 459.5 L295.2 459 L295.8 459.4 L296.4 459.2 L297 459.3 L297.6 459.4 L298.2 459.5 L298.8 459.4 L299.4 459.4 L300 459.3 L300.6 459.4 L301.2 459.2 L301.8 459.4 L302.4 459.4 L303 459.4 L303.6 459.4 L304.2 459.4 L304.8 459.3 L305.4 459.5 L306 459.1 L306.6 459.3 L307.2 459.2 L307.8 458.6 L308.4 459.4 L309 459.4 L309.6 459.3 L310.2 459.1 L310.8 459.1 L311.4 459.4 L312 459.2 L312.6 459.3 L313.2 459.5 L313.8 459 L314.4 459.5 L315 458.7 L315.6 459.2 L316.2 459.1 L316.8 459.4 L317.4 459.5 L318 459.2 L318.6 459.2 L319.2 459.3 L319.8 459.1 L320.4 458.8 L321 459.2 L321.6 459 L322.2 459.3 L322.8 459.3 L323.4 459.1 L324 459.4 L324.6 459.1 L325.2 459.2 L325.8 459.5 L326.4 459.1 L327 459.3 L327.6 459 L328.2 459.5 L328.8 459.5 L329.4 459.5 L330 459.5 L330.6 459.1 L331.2 459.1 L331.8 458.9 L332.4 459.1 L333 459.4 L333.6 459 L334.2 459.4 L334.8 459.2 L335.4 459.3 L336 459.1 L336.6 459.4 L337.2 459.2 L337.8 459.3 L337.8 460.3 L202.2 460.3 Z" fill="#e6e6e6" stroke="none"/>
<path d="M202.2 458.5 L202.8 457.3 L203.4 456.4 L204 455.6 L204.6 454.5 L205.2 453.3 L205.8 451.8 L206.4 450.3 L207 449.5 L207.6 447.7 L208.2 446.8 L208.8 445 L209.4 442.7 L210 441.2 L210.6 439.2 L211.2 436.6 L211.8 433.8 L212.4 432.3 L213 430.1 L213.6 428.2 L214.2 426 L214.8 422.7 L215.4 421 L216 419.9 L216.6 416.2 L217.2 416.3 L217.8 413.2 L218.4 411.7 L219 411.7 L219.6 409.1 L220.2 407.7 L220.8 407.2 L221.4 406.1 L222 405.1 L222.6 405.4 L223.2 406.9 L223.8 406 L224.4 406.1 L225 406.8 L225.6 408.1 L226.2 409.1 L226.8 409.3 L227.4 412.1 L228 413.8 L228.6 417.8 L229.2 419.2 L229.8 423.2 L230.4 424.3 L231 428.4 L231.6 430.6 L232.2 433.4 L232.8 437.2 L233.4 438.9 L234 441.9 L234.6 444.1 L235.2 447.1 L235.8 449.2 L236.4 450.1 L237 452.5 L237.6 453.2 L238.2 455 L238.8 455.5 L239.4 456.2 L240 456 L240.6 457.6 L241.2 457.6 L241.8 457.5 L242.4 458 L243 458.4 L243.6 457.9 L244.2 458.5 L244.8 458.4 L245.4 458.4 L246 458.5 L246.6 458.5 L247.2 458.7 L247.8 458.8 L248.4 459 L249 459.1 L249.6 458.8 L250.2 459.1 L250.8 458.7 L251.4 459 L252 458.7 L252.6 458.7 L253.2 458.9 L253.8 458.6 L254.4 458.8 L255 458.4 L255.6 458.5 L256.2 458.6 L256.8 458.6 L257.4 458 L258 458.4 L258.6 458 L259.2 458.4 L259.8 457.9 L260.4 457.9 L261 458.2 L261.6 458.1 L262.2 458.6 L262.8 458.7 L263.4 459.1 L264 459 L264.6 458.9 L265.2 459 L265.8 459.2 L266.4 459.1 L267 459.2 L267.6 458.9 L268.2 459.3 L268.8 459.1 L269.4 459.3 L270 459.4 L270.6 459 L271.2 459.1 L271.8 459.4 L272.4 459 L273 459.3 L273.6 459.1 L274.2 459.1 L274.8 459.1 L275.4 459.4 L276 459.2 L276.6 459.2 L277.2 459.5 L277.8 459.3 L278.4 459.1 L279 459.4 L279.6 459.2 L280.2 459.3 L280.8 459.5 L281.4 459.2 L282 459.5 L282.6 458.5 L283.2 459.2 L283.8 459.4 L284.4 459.2 L285 459.1 L285.6 459 L286.2 459.1 L286.8 458.9 L287.4 459.5 L288 459 L288.6 459.3 L289.2 459 L289.8 459.1 L290.4 459.3 L291 459.2 L291.6 459.2 L292.2 459.1 L292.8 459.1 L293.4 459.2 L294 459.2 L294.6 459.5 L295.2 459 L295.8 459.4 L296.4 459.2 L297 459.3 L297.6 459.4 L298.2 459.5 L298.8 459.4 L299.4 459.4 L300 459.3 L300.6 459.4 L301.2 459.2 L301.8 459.4 L302.4 459.4 L303 459.4 L303.6 459.4 L304.2 459.4 L304.8 459.3 L305.4 459.5 L306 459.1 L306.6 459.3 L307.2 459.2 L307.8 458.6 L308.4 459.4 L309 459.4 L309.6 459.3 L310.2 459.1 L310.8 459.1 L311.4 459.4 L312 459.2 L312.6 459.3 L313.2 459.5 L313.8 459 L314.4 459.5 L315 458.7 L315.6 459.2 L316.2 459.1 L316.8 459.4 L317.4 459.5 L318 459.2 L318.6 459.2 L319.2 459.3 L319.8 459.1 L320.4 458.8 L321 459.2 L321.6 459 L322.2 459.3 L322.8 459.3 L323.4 459.1 L324 459.4 L324.6 459.1 L325.2 459.2 L325.8 459.5 L326.4 459.1 L327 459.3 L327.6 459 L328.2 459.5 L328.8 459.5 L329.4 459.5 L330 459.5 L330.6 459.1 L331.2 459.1 L331.8 458.9 L332.4 459.1 L333 459.4 L333.6 459 L334.2 459.4 L334.8 459.2 L335.4 459.3 L336 459.1 L336.6 459.4 L337.2 459.2 L337.8 459.3" fill="none" stroke="#151515" stroke-width="1.05" stroke-linejoin="round"/>
<path d="M202 457.9 L202.6 456.8 L203.2 455.8 L203.8 454.9 L204.4 453.5 L205 452.2 L205.6 450.4 L206.2 449.9 L206.8 448.9 L207.4 447.1 L208 444.9 L208.6 443.8 L209.2 441.9 L209.8 440.3 L210.4 437.6 L211 435.7 L211.6 432.4 L212.2 430.2 L212.8 428.1 L213.4 426.1 L214 425.3 L214.6 421.3 L215.2 421.6 L215.8 417.1 L216.4 416.2 L217 413.8 L217.6 411.5 L218.2 411 L218.8 410.3 L219.4 407.3 L220 405.1 L220.6 404.8 L221.2 404.7 L221.8 404.7 L222.4 403.8 L223 405.5 L223.6 405.3 L224.2 405.9 L224.8 405.6 L225.4 407.6 L226 410.2 L226.6 410.9 L227.2 413 L227.8 414.2 L228.4 417.4 L229 418.9 L229.6 424.1 L230.2 426.4 L230.8 430.3 L231.4 432.3 L232 433.3 L232.6 437 L233.2 440.5 L233.8 442.8 L234.4 445.5 L235 448.1 L235.6 448.8 L236.2 451.9 L236.8 452.7 L237.4 453.3 L238 455.2 L238.6 455.3 L239.2 456.4 L239.8 456.7 L240.4 457.1 L241 457.5 L241.6 457.4 L242.2 458.1 L242.8 457.8 L243.4 458.1 L244 458.4 L244.6 458.3 L245.2 458.3 L245.8 458.3 L246.4 458.4 L247 458.9 L247.6 458.3 L248.2 458.5 L248.8 459 L249.4 458.6 L250 458.9 L250.6 458.7 L251.2 458.9 L251.8 458.7 L252.4 458.8 L253 458.9 L253.6 458.1 L254.2 458.4 L254.8 458.2 L255.4 458.5 L256 458.1 L256.6 458.5 L257.2 458 L257.8 457.4 L258.4 458.1 L259 458.1 L259.6 457.7 L260.2 457.8 L260.8 457.9 L261.4 458.1 L262 459 L262.6 458.7 L263.2 458.8 L263.8 459.1 L264.4 459.1 L265 459.1 L265.6 459.2 L266.2 459.1 L266.8 459.3 L267.4 459.1 L268 459.1 L268.6 458.9 L269.2 459.4 L269.8 459.4 L270.4 459.5 L271 459.3 L271.6 458.9 L272.2 459.3 L272.8 459.4 L273.4 459.2 L274 459.3 L274.6 459.5 L275.2 459.4 L275.8 458.8 L276.4 459.2 L277 459.2 L277.6 459.1 L278.2 459.4 L278.8 459.2 L279.4 459.4 L280 459.4 L280.6 459.1 L281.2 459.1 L281.8 458.9 L282.4 459.3 L283 458.7 L283.6 459.3 L284.2 459.1 L284.8 459.4 L285.4 459.1 L286 459.3 L286.6 459.1 L287.2 459.1 L287.8 459.2 L288.4 459.4 L289 459.4 L289.6 459.1 L290.2 459.3 L290.8 459.2 L291.4 459.5 L292 459.2 L292.6 459.4 L293.2 459.4 L293.8 459.2 L294.4 459.2 L295 459.2 L295.6 458.9 L296.2 459.4 L296.8 459.4 L297.4 459.3 L298 459.4 L298.6 459.2 L299.2 459.5 L299.8 458.9 L300.4 459.3 L301 459.4 L301.6 459 L302.2 459.3 L302.8 459.5 L303.4 459.4 L304 459.5 L304.6 459 L305.2 459.5 L305.8 459.3 L306.4 459.3 L307 459 L307.6 458.9 L308.2 459.1 L308.8 459.4 L309.4 459.2 L310 458.7 L310.6 459.4 L311.2 459.4 L311.8 459.3 L312.4 459.2 L313 459.5 L313.6 459.4 L314.2 459.2 L314.8 459.3 L315.4 459.5 L316 459.4 L316.6 459.5 L317.2 459.3 L317.8 459.1 L318.4 459.2 L319 459.4 L319.6 459.2 L320.2 459.5 L320.8 458.9 L321.4 459.5 L322 459.3 L322.6 459.5 L323.2 459.2 L323.8 459.2 L324.4 459.4 L325 459.4 L325.6 459.3 L326.2 459 L326.8 459.2 L327.4 459.1 L328 458.9 L328.6 459.1 L329.2 459.4 L329.8 459.4 L330.4 459.2 L331 459.1 L331.6 458.9 L332.2 459.5 L332.8 459.1 L333.4 459.1 L334 459.1 L334.6 459.3 L335.2 459.4 L335.8 459.5 L336.4 459.2 L337 459.4 L337.6 459.3" fill="none" stroke="#222" stroke-width="0.9" stroke-dasharray="1.1 0.9" stroke-linejoin="round"/>
<path d="M201.5 458.5 L202.3 458.5 L203.1 457.5 L203.9 457.7 L204.7 457.5 L205.5 456.9 L206.3 456.7 L207.1 455.6 L207.9 455.6 L208.7 455.3 L209.5 453.1 L210.3 451.7 L211.1 450.2 L211.9 448.3 L212.7 445.6 L213.5 444.2 L214.3 442.2 L215.1 441.2 L215.9 438.6 L216.7 436.7 L217.5 435.1 L218.3 431.5 L219.1 429.7 L219.9 428.3 L220.7 425.5 L221.5 422.8 L222.3 419.5 L223.1 418.6 L223.9 417.7 L224.7 418.4 L225.5 414.6 L226.3 413.8 L227.1 412.8 L227.9 411.4 L228.7 412.1 L229.5 411.7 L230.3 412 L231.1 415.2 L231.9 414.1 L232.7 413.5 L233.5 416 L234.3 415.5 L235.1 417.4 L235.9 421.7 L236.7 423 L237.5 422.7 L238.3 424.1 L239.1 424 L239.9 426.1 L240.7 427.8 L241.5 430.2 L242.3 431.6 L243.1 433.2 L243.9 434.3 L244.7 434.8 L245.5 436.5 L246.3 437.6 L247.1 440.4 L247.9 442.3 L248.7 441.9 L249.5 444.3 L250.3 446 L251.1 446.4 L251.9 448 L252.7 448.7 L253.5 449.8 L254.3 450.6 L255.1 451.9 L255.9 451.9 L256.7 453.2 L257.5 452.6 L258.3 454.2 L259.1 454.9 L259.9 456 L260.7 456.2 L261.5 457.1 L262.3 457.1 L263.1 457.8 L263.9 458.1 L264.7 459.2 L265.5 458.8 L266.3 459.2 L267.1 459.4 L267.9 459.5" fill="none" stroke="#050505" stroke-width="2.3" stroke-linejoin="round"/>
<rect x="196.7" y="402.8" width="142.1" height="57.5" fill="none" stroke="#111" stroke-width="1.4"/>
<path d="M197.4 460.3v3.8M208 460.3v2.8M214.2 460.3v2.8M218.6 460.3v2.8M222 460.3v2.8M224.8 460.3v2.8M227.1 460.3v2.8M229.1 460.3v2.8M230.9 460.3v2.8M232.5 460.3v3.8M243.1 460.3v2.8M249.3 460.3v2.8M253.7 460.3v2.8M257.1 460.3v2.8M259.9 460.3v2.8M262.3 460.3v2.8M264.3 460.3v2.8M266.1 460.3v2.8M267.7 460.3v3.8M278.3 460.3v2.8M284.5 460.3v2.8M288.9 460.3v2.8M292.3 460.3v2.8M295.1 460.3v2.8M297.4 460.3v2.8M299.4 460.3v2.8M301.2 460.3v2.8M302.9 460.3v3.8M313.4 460.3v2.8M319.6 460.3v2.8M324 460.3v2.8M327.4 460.3v2.8M330.2 460.3v2.8M332.6 460.3v2.8M334.6 460.3v2.8M336.4 460.3v2.8M338 460.3v3.8" stroke="#111" stroke-width="1.15" fill="none"/>
<path d="M196.7 460.3h-5.6M196.7 459.2h-3.3M196.7 458h-3.3M196.7 456.9h-3.3M196.7 455.7h-3.3M196.7 454.6h-3.3M196.7 453.4h-3.3M196.7 452.2h-3.3M196.7 451.1h-3.3M196.7 449.9h-3.3M196.7 448.8h-5.6M196.7 447.7h-3.3M196.7 446.5h-3.3M196.7 445.4h-3.3M196.7 444.2h-3.3M196.7 443.1h-3.3M196.7 441.9h-3.3M196.7 440.8h-3.3M196.7 439.6h-3.3M196.7 438.4h-3.3M196.7 437.3h-5.6M196.7 436.2h-3.3M196.7 435h-3.3M196.7 433.9h-3.3M196.7 432.7h-3.3M196.7 431.6h-3.3M196.7 430.4h-3.3M196.7 429.2h-3.3M196.7 428.1h-3.3M196.7 426.9h-3.3M196.7 425.8h-5.6M196.7 424.7h-3.3M196.7 423.5h-3.3M196.7 422.4h-3.3M196.7 421.2h-3.3M196.7 420.1h-3.3M196.7 418.9h-3.3M196.7 417.8h-3.3M196.7 416.6h-3.3M196.7 415.4h-3.3M196.7 414.3h-5.6M196.7 413.2h-3.3M196.7 412h-3.3M196.7 410.9h-3.3M196.7 409.7h-3.3M196.7 408.6h-3.3M196.7 407.4h-3.3M196.7 406.2h-3.3M196.7 405.1h-3.3M196.7 403.9h-3.3M196.7 402.8h-5.6" stroke="#111" stroke-width="0.6" fill="none"/>
<text x="198.4" y="474.2" font-size="9.0" text-anchor="middle" fill="#111" font-weight="bold" letter-spacing="0.7">10<tspan font-size="9.7" dy="-3.4">0</tspan></text>
<text x="233.5" y="474.2" font-size="9.0" text-anchor="middle" fill="#111" font-weight="bold" letter-spacing="0.7">10<tspan font-size="9.7" dy="-3.4">1</tspan></text>
<text x="268.7" y="474.2" font-size="9.0" text-anchor="middle" fill="#111" font-weight="bold" letter-spacing="0.7">10<tspan font-size="9.7" dy="-3.4">2</tspan></text>
<text x="303.9" y="474.2" font-size="9.0" text-anchor="middle" fill="#111" font-weight="bold" letter-spacing="0.7">10<tspan font-size="9.7" dy="-3.4">3</tspan></text>
<text x="339" y="474.2" font-size="9.0" text-anchor="middle" fill="#111" font-weight="bold" letter-spacing="0.7">10<tspan font-size="9.7" dy="-3.4">4</tspan></text>
<text x="335.7" y="417" font-size="13" text-anchor="end" font-weight="normal" fill="#000">DX5</text>
<line x1="366.7" y1="444.3" x2="366.7" y2="459.8" stroke="#333" stroke-width="0.8"/>
<line x1="367.7" y1="444.3" x2="367.7" y2="459.8" stroke="#444" stroke-width="0.8" stroke-dasharray="1 1"/>
<path d="M368.3 457.6 L368.9 456 L369.5 454.9 L370.1 454 L370.7 452.7 L371.3 451.7 L371.9 450.7 L372.5 449.6 L373.1 447.7 L373.7 447 L374.3 445.4 L374.9 443.6 L375.5 441.8 L376.1 440.1 L376.7 437.6 L377.3 435.1 L377.9 433.8 L378.5 431.9 L379.1 428.8 L379.7 427.1 L380.3 423.8 L380.9 420.8 L381.5 417.9 L382.1 416 L382.7 415.4 L383.3 411.7 L383.9 408.4 L384.5 408.4 L385.1 406.6 L385.7 405.4 L386.3 404.4 L386.9 403.4 L387.5 403.3 L388.1 401.8 L388.7 402.6 L389.3 403.9 L389.9 405.6 L390.5 406.1 L391.1 408.2 L391.7 408.7 L392.3 407.6 L392.9 411.9 L393.5 415.2 L394.1 417.5 L394.7 418.5 L395.3 422.1 L395.9 424.3 L396.5 427.6 L397.1 430.6 L397.7 432.8 L398.3 434.2 L398.9 437.7 L399.5 439.8 L400.1 442.9 L400.7 444.6 L401.3 446.8 L401.9 448.2 L402.5 449.4 L403.1 451.2 L403.7 452 L404.3 452.8 L404.9 453.2 L405.5 454.2 L406.1 454.8 L406.7 455.3 L407.3 454.9 L407.9 455.8 L408.5 455.5 L409.1 455.6 L409.7 456.3 L410.3 456 L410.9 456.4 L411.5 456.6 L412.1 456.7 L412.7 456.4 L413.3 456.6 L413.9 456.7 L414.5 456.9 L415.1 457 L415.7 457.2 L416.3 457.1 L416.9 457.2 L417.5 457 L418.1 457 L418.7 456.7 L419.3 456.9 L419.9 456.7 L420.5 456.9 L421.1 457.4 L421.7 457.1 L422.3 457.1 L422.9 457.1 L423.5 457 L424.1 457.1 L424.7 457.3 L425.3 456.8 L425.9 456.9 L426.5 456.8 L427.1 457 L427.7 457.6 L428.3 457.4 L428.9 457.4 L429.5 456.7 L430.1 456.7 L430.7 457.2 L431.3 456.9 L431.9 457.2 L432.5 456.9 L433.1 457.6 L433.7 457.4 L434.3 457.5 L434.9 458.2 L435.5 457.8 L436.1 457.7 L436.7 457.8 L437.3 458.3 L437.9 458 L438.5 458.5 L439.1 458.1 L439.7 458.5 L440.3 458.3 L440.9 458.8 L441.5 458.8 L442.1 458.8 L442.7 458.8 L443.3 458.8 L443.9 458.9 L444.5 458.8 L445.1 458.9 L445.7 459 L446.3 459 L446.9 459 L447.5 459 L448.1 459 L448.7 459 L449.3 458.7 L449.9 458.9 L450.5 458.9 L451.1 459 L451.7 458.6 L452.3 458.5 L452.9 458.3 L453.5 458.4 L454.1 458.8 L454.7 458.9 L455.3 458.8 L455.9 458.5 L456.5 458.9 L457.1 458.7 L457.7 458.9 L458.3 458.3 L458.9 459 L459.5 458.9 L460.1 458.6 L460.7 458.7 L461.3 458.4 L461.9 459 L462.5 458.8 L463.1 458.8 L463.7 458.8 L464.3 458.9 L464.9 458.2 L465.5 458.8 L466.1 458.8 L466.7 459 L467.3 458.7 L467.9 458.8 L468.5 458.6 L469.1 459 L469.7 458.9 L470.3 458.9 L470.9 458.9 L471.5 458.7 L472.1 458.7 L472.7 458.8 L473.3 459 L473.9 458.6 L474.5 458.6 L475.1 458.9 L475.7 458.8 L476.3 459 L476.9 458.8 L477.5 459 L478.1 458.8 L478.7 458.6 L479.3 458.5 L479.9 459 L480.5 459 L481.1 458.8 L481.7 458.8 L482.3 458.8 L482.9 458.9 L483.5 458.9 L484.1 458.4 L484.7 458.7 L485.3 459 L485.9 458.7 L486.5 458.8 L487.1 458.6 L487.7 459 L488.3 458.4 L488.9 458.8 L489.5 458.8 L490.1 458.8 L490.7 458.7 L491.3 459 L491.9 458.8 L492.5 458.7 L493.1 459 L493.7 458.7 L494.3 458.8 L494.9 458.7 L495.5 458.7 L496.1 458.6 L496.7 458.7 L497.3 458.7 L497.9 458.8 L498.5 459 L499.1 458.7 L499.7 458.9 L500.3 458.8 L500.9 458.6 L501.5 458.6 L502.1 458.8 L502.7 458.9 L502.7 459.8 L368.3 459.8 Z" fill="#e6e6e6" stroke="none"/>
<path d="M368.3 457.6 L368.9 456 L369.5 454.9 L370.1 454 L370.7 452.7 L371.3 451.7 L371.9 450.7 L372.5 449.6 L373.1 447.7 L373.7 447 L374.3 445.4 L374.9 443.6 L375.5 441.8 L376.1 440.1 L376.7 437.6 L377.3 435.1 L377.9 433.8 L378.5 431.9 L379.1 428.8 L379.7 427.1 L380.3 423.8 L380.9 420.8 L381.5 417.9 L382.1 416 L382.7 415.4 L383.3 411.7 L383.9 408.4 L384.5 408.4 L385.1 406.6 L385.7 405.4 L386.3 404.4 L386.9 403.4 L387.5 403.3 L388.1 401.8 L388.7 402.6 L389.3 403.9 L389.9 405.6 L390.5 406.1 L391.1 408.2 L391.7 408.7 L392.3 407.6 L392.9 411.9 L393.5 415.2 L394.1 417.5 L394.7 418.5 L395.3 422.1 L395.9 424.3 L396.5 427.6 L397.1 430.6 L397.7 432.8 L398.3 434.2 L398.9 437.7 L399.5 439.8 L400.1 442.9 L400.7 444.6 L401.3 446.8 L401.9 448.2 L402.5 449.4 L403.1 451.2 L403.7 452 L404.3 452.8 L404.9 453.2 L405.5 454.2 L406.1 454.8 L406.7 455.3 L407.3 454.9 L407.9 455.8 L408.5 455.5 L409.1 455.6 L409.7 456.3 L410.3 456 L410.9 456.4 L411.5 456.6 L412.1 456.7 L412.7 456.4 L413.3 456.6 L413.9 456.7 L414.5 456.9 L415.1 457 L415.7 457.2 L416.3 457.1 L416.9 457.2 L417.5 457 L418.1 457 L418.7 456.7 L419.3 456.9 L419.9 456.7 L420.5 456.9 L421.1 457.4 L421.7 457.1 L422.3 457.1 L422.9 457.1 L423.5 457 L424.1 457.1 L424.7 457.3 L425.3 456.8 L425.9 456.9 L426.5 456.8 L427.1 457 L427.7 457.6 L428.3 457.4 L428.9 457.4 L429.5 456.7 L430.1 456.7 L430.7 457.2 L431.3 456.9 L431.9 457.2 L432.5 456.9 L433.1 457.6 L433.7 457.4 L434.3 457.5 L434.9 458.2 L435.5 457.8 L436.1 457.7 L436.7 457.8 L437.3 458.3 L437.9 458 L438.5 458.5 L439.1 458.1 L439.7 458.5 L440.3 458.3 L440.9 458.8 L441.5 458.8 L442.1 458.8 L442.7 458.8 L443.3 458.8 L443.9 458.9 L444.5 458.8 L445.1 458.9 L445.7 459 L446.3 459 L446.9 459 L447.5 459 L448.1 459 L448.7 459 L449.3 458.7 L449.9 458.9 L450.5 458.9 L451.1 459 L451.7 458.6 L452.3 458.5 L452.9 458.3 L453.5 458.4 L454.1 458.8 L454.7 458.9 L455.3 458.8 L455.9 458.5 L456.5 458.9 L457.1 458.7 L457.7 458.9 L458.3 458.3 L458.9 459 L459.5 458.9 L460.1 458.6 L460.7 458.7 L461.3 458.4 L461.9 459 L462.5 458.8 L463.1 458.8 L463.7 458.8 L464.3 458.9 L464.9 458.2 L465.5 458.8 L466.1 458.8 L466.7 459 L467.3 458.7 L467.9 458.8 L468.5 458.6 L469.1 459 L469.7 458.9 L470.3 458.9 L470.9 458.9 L471.5 458.7 L472.1 458.7 L472.7 458.8 L473.3 459 L473.9 458.6 L474.5 458.6 L475.1 458.9 L475.7 458.8 L476.3 459 L476.9 458.8 L477.5 459 L478.1 458.8 L478.7 458.6 L479.3 458.5 L479.9 459 L480.5 459 L481.1 458.8 L481.7 458.8 L482.3 458.8 L482.9 458.9 L483.5 458.9 L484.1 458.4 L484.7 458.7 L485.3 459 L485.9 458.7 L486.5 458.8 L487.1 458.6 L487.7 459 L488.3 458.4 L488.9 458.8 L489.5 458.8 L490.1 458.8 L490.7 458.7 L491.3 459 L491.9 458.8 L492.5 458.7 L493.1 459 L493.7 458.7 L494.3 458.8 L494.9 458.7 L495.5 458.7 L496.1 458.6 L496.7 458.7 L497.3 458.7 L497.9 458.8 L498.5 459 L499.1 458.7 L499.7 458.9 L500.3 458.8 L500.9 458.6 L501.5 458.6 L502.1 458.8 L502.7 458.9" fill="none" stroke="#151515" stroke-width="1.05" stroke-linejoin="round"/>
<path d="M368 457.2 L368.6 456 L369.2 454 L369.8 453.3 L370.4 452.5 L371 451.3 L371.6 450.4 L372.2 449.2 L372.8 447.8 L373.4 446.8 L374 445.6 L374.6 443.2 L375.2 441.7 L375.8 440 L376.4 437.9 L377 435.8 L377.6 433.6 L378.2 430.5 L378.8 428.2 L379.4 426.6 L380 424.2 L380.6 422.2 L381.2 420.6 L381.8 416.9 L382.4 412.5 L383 410 L383.6 410.2 L384.2 409.6 L384.8 407.5 L385.4 405.2 L386 404.3 L386.6 403.9 L387.2 404.5 L387.8 402.4 L388.4 402.6 L389 405.6 L389.6 403.2 L390.2 405.1 L390.8 404.3 L391.4 406.8 L392 408.4 L392.6 409.6 L393.2 412.4 L393.8 416.8 L394.4 420.1 L395 422.6 L395.6 424.9 L396.2 427.2 L396.8 430 L397.4 432.2 L398 435 L398.6 436.5 L399.2 439.5 L399.8 442.3 L400.4 445.2 L401 446.9 L401.6 448.5 L402.2 449.7 L402.8 451.1 L403.4 452.3 L404 451.9 L404.6 453.4 L405.2 453.7 L405.8 454 L406.4 454.9 L407 455 L407.6 455.8 L408.2 455.8 L408.8 456.2 L409.4 455.9 L410 455.8 L410.6 455.7 L411.2 456.3 L411.8 456.3 L412.4 456.7 L413 456.2 L413.6 456.4 L414.2 456.8 L414.8 456.5 L415.4 457.4 L416 456.9 L416.6 456.7 L417.2 456.9 L417.8 457.1 L418.4 457.1 L419 456.9 L419.6 456.5 L420.2 456.9 L420.8 457.1 L421.4 456.9 L422 457.2 L422.6 456.9 L423.2 457.2 L423.8 456.9 L424.4 456.7 L425 457.2 L425.6 456.9 L426.2 456.7 L426.8 456.8 L427.4 456.8 L428 456.8 L428.6 457.2 L429.2 456.6 L429.8 456.9 L430.4 456.7 L431 456.8 L431.6 456.6 L432.2 457 L432.8 457.3 L433.4 456.9 L434 457.1 L434.6 457.5 L435.2 457.4 L435.8 457.2 L436.4 457.8 L437 458 L437.6 457.7 L438.2 458.3 L438.8 458.6 L439.4 458 L440 458.2 L440.6 458.3 L441.2 458.5 L441.8 458.6 L442.4 458.8 L443 458.8 L443.6 458.9 L444.2 458.8 L444.8 458.8 L445.4 458.8 L446 459 L446.6 459 L447.2 459 L447.8 459 L448.4 458.6 L449 459 L449.6 458.9 L450.2 458.5 L450.8 458.8 L451.4 458.5 L452 458.7 L452.6 458.5 L453.2 458.7 L453.8 458.6 L454.4 459 L455 458.5 L455.6 458.7 L456.2 458.8 L456.8 458.9 L457.4 458.7 L458 458.5 L458.6 458.7 L459.2 458.6 L459.8 459 L460.4 458.4 L461 458.8 L461.6 458.9 L462.2 458.9 L462.8 459 L463.4 458.8 L464 458.5 L464.6 458.9 L465.2 458.8 L465.8 458.8 L466.4 458.8 L467 458.8 L467.6 458.4 L468.2 458.6 L468.8 458.9 L469.4 458.8 L470 459 L470.6 458.7 L471.2 458.8 L471.8 459 L472.4 458.6 L473 458.8 L473.6 458.8 L474.2 458.9 L474.8 458.6 L475.4 458.8 L476 458.8 L476.6 458.9 L477.2 458.8 L477.8 458.6 L478.4 458.6 L479 459 L479.6 458.6 L480.2 458.8 L480.8 458.5 L481.4 458.9 L482 458.8 L482.6 458.9 L483.2 459 L483.8 458.9 L484.4 459 L485 458.7 L485.6 458.3 L486.2 458.4 L486.8 458.9 L487.4 459 L488 458.9 L488.6 458.3 L489.2 458.8 L489.8 458.8 L490.4 458.7 L491 458.8 L491.6 458.6 L492.2 458.8 L492.8 458.9 L493.4 458.5 L494 458.9 L494.6 458.8 L495.2 458.8 L495.8 458.8 L496.4 458.5 L497 458.8 L497.6 458.9 L498.2 458.7 L498.8 458.9 L499.4 458.8 L500 458.9 L500.6 458.5 L501.2 458.8 L501.8 459 L502.4 458.8 L503 459" fill="none" stroke="#222" stroke-width="0.9" stroke-dasharray="1.1 0.9" stroke-linejoin="round"/>
<path d="M368 457.9 L368.8 456.7 L369.6 456.1 L370.4 454.9 L371.2 453.2 L372 450.9 L372.8 449.4 L373.6 449.1 L374.4 448.8 L375.2 445.8 L376 444.1 L376.8 441.1 L377.6 439.4 L378.4 436.6 L379.2 436.2 L380 433.1 L380.8 429.2 L381.6 426.7 L382.4 424.3 L383.2 422.2 L384 420.3 L384.8 420.2 L385.6 414.6 L386.4 417.4 L387.2 417.2 L388 414.7 L388.8 416 L389.6 414.7 L390.4 416.3 L391.2 419.2 L392 419.2 L392.8 422.7 L393.6 422.4 L394.4 427.6 L395.2 430.9 L396 430.1 L396.8 434 L397.6 436.4 L398.4 438.4 L399.2 442.4 L400 442.9 L400.8 446 L401.6 447.6 L402.4 446.7 L403.2 449.3 L404 448.1 L404.8 449.9 L405.6 449.2 L406.4 450.7 L407.2 449.3 L408 451.3 L408.8 451 L409.6 449.2 L410.4 450.8 L411.2 450.2 L412 450.4 L412.8 449.6 L413.6 449.8 L414.4 449.8 L415.2 450.2 L416 450 L416.8 450.3 L417.6 449.5 L418.4 450.5 L419.2 449.1 L420 450.4 L420.8 449.7 L421.6 450 L422.4 449.6 L423.2 449.5 L424 449.7 L424.8 450.1 L425.6 450 L426.4 449.5 L427.2 450.5 L428 450.8 L428.8 450.9 L429.6 451 L430.4 451.7 L431.2 452.8 L432 452.5 L432.8 452.3 L433.6 453.2 L434.4 454.6 L435.2 454 L436 455.1 L436.8 455.7 L437.6 455 L438.4 456.1 L439.2 456.1 L440 456.2 L440.8 457.1 L441.6 457.4 L442.4 457.2 L443.2 457.9 L444 458.4 L444.8 458.6 L445.6 458.6 L446.4 458.9 L447.2 459 L448 459" fill="none" stroke="#050505" stroke-width="2.3" stroke-linejoin="round"/>
<rect x="362.7" y="402.2" width="141.4" height="57.6" fill="none" stroke="#111" stroke-width="1.4"/>
<path d="M363.4 459.8v3.8M373.9 459.8v2.8M380.1 459.8v2.8M384.5 459.8v2.8M387.8 459.8v2.8M390.6 459.8v2.8M393 459.8v2.8M395 459.8v2.8M396.8 459.8v2.8M398.4 459.8v3.8M408.9 459.8v2.8M415.1 459.8v2.8M419.4 459.8v2.8M422.8 459.8v2.8M425.6 459.8v2.8M427.9 459.8v2.8M430 459.8v2.8M431.7 459.8v2.8M433.4 459.8v3.8M443.9 459.8v2.8M450 459.8v2.8M454.4 459.8v2.8M457.8 459.8v2.8M460.6 459.8v2.8M462.9 459.8v2.8M464.9 459.8v2.8M466.7 459.8v2.8M468.3 459.8v3.8M478.9 459.8v2.8M485 459.8v2.8M489.4 459.8v2.8M492.8 459.8v2.8M495.5 459.8v2.8M497.9 459.8v2.8M499.9 459.8v2.8M501.7 459.8v2.8M503.3 459.8v3.8" stroke="#111" stroke-width="1.15" fill="none"/>
<path d="M362.7 459.8h-5.6M362.7 458.6h-3.3M362.7 457.5h-3.3M362.7 456.3h-3.3M362.7 455.2h-3.3M362.7 454h-3.3M362.7 452.9h-3.3M362.7 451.7h-3.3M362.7 450.6h-3.3M362.7 449.4h-3.3M362.7 448.3h-5.6M362.7 447.1h-3.3M362.7 446h-3.3M362.7 444.8h-3.3M362.7 443.7h-3.3M362.7 442.5h-3.3M362.7 441.4h-3.3M362.7 440.2h-3.3M362.7 439.1h-3.3M362.7 437.9h-3.3M362.7 436.8h-5.6M362.7 435.6h-3.3M362.7 434.5h-3.3M362.7 433.3h-3.3M362.7 432.2h-3.3M362.7 431h-3.3M362.7 429.8h-3.3M362.7 428.7h-3.3M362.7 427.5h-3.3M362.7 426.4h-3.3M362.7 425.2h-5.6M362.7 424.1h-3.3M362.7 422.9h-3.3M362.7 421.8h-3.3M362.7 420.6h-3.3M362.7 419.5h-3.3M362.7 418.3h-3.3M362.7 417.2h-3.3M362.7 416h-3.3M362.7 414.9h-3.3M362.7 413.7h-5.6M362.7 412.6h-3.3M362.7 411.4h-3.3M362.7 410.3h-3.3M362.7 409.1h-3.3M362.7 408h-3.3M362.7 406.8h-3.3M362.7 405.7h-3.3M362.7 404.5h-3.3M362.7 403.4h-3.3M362.7 402.2h-5.6" stroke="#111" stroke-width="0.6" fill="none"/>
<text x="364.4" y="473.7" font-size="9.0" text-anchor="middle" fill="#111" font-weight="bold" letter-spacing="0.7">10<tspan font-size="9.7" dy="-3.4">0</tspan></text>
<text x="399.4" y="473.7" font-size="9.0" text-anchor="middle" fill="#111" font-weight="bold" letter-spacing="0.7">10<tspan font-size="9.7" dy="-3.4">1</tspan></text>
<text x="434.4" y="473.7" font-size="9.0" text-anchor="middle" fill="#111" font-weight="bold" letter-spacing="0.7">10<tspan font-size="9.7" dy="-3.4">2</tspan></text>
<text x="469.3" y="473.7" font-size="9.0" text-anchor="middle" fill="#111" font-weight="bold" letter-spacing="0.7">10<tspan font-size="9.7" dy="-3.4">3</tspan></text>
<text x="504.3" y="473.7" font-size="9.0" text-anchor="middle" fill="#111" font-weight="bold" letter-spacing="0.7">10<tspan font-size="9.7" dy="-3.4">4</tspan></text>
<text x="502.2" y="416.6" font-size="13" text-anchor="end" font-weight="normal" fill="#000">CD16/32</text>
<text transform="translate(13.6 406) rotate(-90)" font-size="15" text-anchor="middle" fill="#000">Cell Number</text>
<line x1="18.2" y1="338" x2="18.2" y2="476.6" stroke="#111" stroke-width="1.1"/>
<line x1="17.7" y1="476.1" x2="506" y2="476.1" stroke="#111" stroke-width="1.1"/>
<polygon points="18.2,333.3 15.5,340 20.9,340" fill="#111"/>
<polygon points="512,476.1 505.2,473.3 505.2,478.9" fill="#111"/>
<text x="257.3" y="489.2" font-size="15.1" text-anchor="middle" font-weight="normal" fill="#000">Fluorescence Intensity</text>
<g transform="rotate(-0.15 83 543)">
<rect x="82.8" y="507.6" width="384.6" height="70.4" fill="none" stroke="#444" stroke-width="1"/>
<text x="92" y="524.7" font-size="13.05" text-anchor="start" font-weight="normal" fill="#000">Peptide/APC Activated CD8<tspan font-size="8.3" dy="-4.4">hi</tspan><tspan dy="4.4"> &#8211; Filled histogram</tspan></text>
<text x="92" y="547.8" font-size="13.05" text-anchor="start" font-weight="normal" fill="#000">Peptide/APC Activated CD8<tspan font-size="8.3" dy="-4.4">lo</tspan><tspan dy="4.4"> &#8211; Solid line</tspan></text>
<text x="92" y="571.1" font-size="13.05" text-anchor="start" font-weight="normal" fill="#000">Unstained Peptide/APC Activated Cells &#8211; Dashed line</text>
</g>
<text x="61.6" y="615" font-size="13.05" text-anchor="middle" font-weight="normal" fill="#000">Activated HY</text>
<text x="61.6" y="630.7" font-size="12.9" text-anchor="middle" font-weight="normal" fill="#000">CD8<tspan font-size="8.2" dy="-4.4">lo</tspan></text>
<text x="166" y="615" font-size="12.9" text-anchor="middle" font-weight="normal" fill="#000">Activated HY</text>
<text x="166.3" y="630.8" font-size="12.9" text-anchor="middle" font-weight="normal" fill="#000">CD8<tspan font-size="8.2" dy="-4.4">hi</tspan></text>
<text x="278" y="614.2" font-size="12.9" text-anchor="middle" font-weight="normal" fill="#000">Activated B6</text>
<text x="278.4" y="630.6" font-size="12.9" text-anchor="middle" font-weight="normal" fill="#000">NK Cells</text>
<text x="339" y="656.6" font-size="12.6" text-anchor="start" font-weight="normal" fill="#000">DAP 10</text>
<text x="339" y="701.9" font-size="12.6" text-anchor="start" font-weight="normal" fill="#000">DAP 12</text>
<text x="340.3" y="746.9" font-size="12.7" text-anchor="start" font-weight="normal" fill="#000">&#946;-Actin</text>
<g transform="rotate(-0.3 173 703)">
<rect x="11.5" y="634" width="322.8" height="47.4" fill="url(#g1)" stroke="none" stroke-width="0"/>
<rect x="11.5" y="684" width="322.8" height="35.3" fill="#1d1d1d" stroke="none" stroke-width="0"/>
<rect x="11.5" y="721.7" width="322.8" height="49.8" fill="url(#g3)" stroke="none" stroke-width="0"/>
<clipPath id="c1"><rect x="11.5" y="634" width="322.8" height="47.4"/></clipPath><clipPath id="c2"><rect x="11.5" y="684" width="322.8" height="35.3"/></clipPath><clipPath id="c3"><rect x="11.5" y="721.7" width="322.8" height="49.8"/></clipPath>
<g clip-path="url(#c1)">
<rect x="12" y="650.5" width="93" height="15" rx="7.5" fill="#6e6e6e" opacity="0.6" filter="url(#b3)"/>
<rect x="15.5" y="654.7" width="86.5" height="6.6" rx="3.3" fill="#a4a4a4" opacity="0.95" filter="url(#b4)"/>
<rect x="120" y="649.3" width="96" height="16" rx="8" fill="#808080" opacity="0.6" filter="url(#b3)"/>
<rect x="124.5" y="654.1" width="87.5" height="6.4" rx="3.2" fill="#d0d0d0" opacity="1.0" filter="url(#b4)"/>
<rect x="230" y="647.5" width="97" height="16" rx="8" fill="#808080" opacity="0.6" filter="url(#b3)"/>
<rect x="234.5" y="652.2" width="88.5" height="6.6" rx="3.3" fill="#cecece" opacity="1.0" filter="url(#b4)"/>
</g><g clip-path="url(#c2)">
<rect x="17" y="700.5" width="89" height="13" rx="6.5" fill="#8a8a8a" opacity="0.6" filter="url(#b3)"/>
<rect x="19.5" y="703.2" width="84" height="7.6" rx="3.8" fill="#e0e0e0" opacity="1.0" filter="url(#b4)"/>
<rect x="23" y="704.5" width="19" height="5" rx="2.5" fill="#ffffff" opacity="0.4" filter="url(#b4)"/>
<rect x="132" y="702" width="68" height="4" rx="2" fill="#3a3a3a" opacity="0.45" filter="url(#b1)"/>
<rect x="226" y="694.2" width="98" height="15" rx="7.5" fill="#a0a0a0" opacity="0.7" filter="url(#b3)"/>
<rect x="228.5" y="695.8" width="92.5" height="11.8" rx="5.9" fill="#ffffff" opacity="1.0" filter="url(#b2)"/>
</g><g clip-path="url(#c3)">
<rect x="20" y="743.2" width="93" height="16" rx="8" fill="#b0b0b0" opacity="0.7" filter="url(#b3)"/>
<rect x="24" y="747" width="85.5" height="8.4" rx="4.2" fill="#ffffff" opacity="1.0" filter="url(#b2)"/>
<rect x="121" y="742.3" width="96" height="16" rx="8" fill="#b0b0b0" opacity="0.7" filter="url(#b3)"/>
<rect x="126" y="746.1" width="86.5" height="8.4" rx="4.2" fill="#ffffff" opacity="1.0" filter="url(#b2)"/>
<rect x="224.5" y="740.4" width="98.5" height="16" rx="8" fill="#b0b0b0" opacity="0.7" filter="url(#b3)"/>
<rect x="228.5" y="744" width="91" height="8.8" rx="4.4" fill="#ffffff" opacity="1.0" filter="url(#b2)"/>
</g>
<rect x="11.5" y="634" width="322.8" height="47.4" filter="url(#grain)" opacity="0.16"/>
<rect x="11.5" y="684" width="322.8" height="35.3" filter="url(#grain)" opacity="0.10"/>
<rect x="11.5" y="721.7" width="322.8" height="49.8" filter="url(#grain)" opacity="0.10"/>
</g>
</svg>
</body></html>
